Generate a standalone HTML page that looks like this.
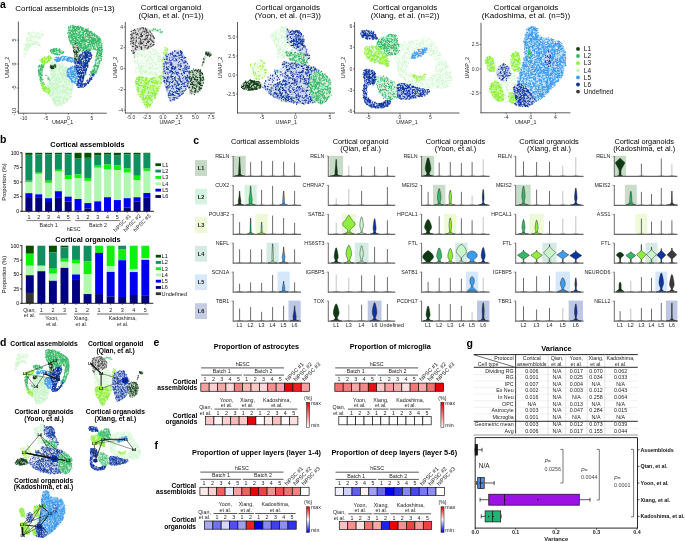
<!DOCTYPE html>
<html><head><meta charset="utf-8"><style>
html,body{margin:0;padding:0;background:#fff;}
svg{display:block;will-change:transform;}
text{font-family:"Liberation Sans",sans-serif;}
</style></head><body>
<svg width="685" height="541" viewBox="0 0 685 541">
<rect width="685" height="541" fill="#fff"/>
<text x="0.00" y="7.50" text-anchor="start" style="font-size:10.5px;font-weight:bold">a</text>
<g id="a1">
<path d="M28.00,32.50 C29.67,31.17 33.45,31.92 36.00,32.00 C38.55,32.08 42.30,32.17 43.30,33.00 C44.30,33.83 42.88,35.67 42.00,37.00 C41.12,38.33 38.17,39.50 38.00,41.00 C37.83,42.50 41.67,45.33 41.00,46.00 C40.33,46.67 36.17,44.33 34.00,45.00 C31.83,45.67 29.67,47.92 28.00,50.00 C26.33,52.08 24.75,57.50 24.00,57.50 C23.25,57.50 23.17,52.92 23.50,50.00 C23.83,47.08 25.25,42.92 26.00,40.00 C26.75,37.08 26.33,33.83 28.00,32.50Z" fill="#f4fdf4"/>
<path transform="scale(.1)" d="M240 539h0m2 30h0m4-71h0m3-16h0m3 2h0m1-40h0m1 50h0m1 48h0m2-68h0m0 24h0m1-56h0m1 11h0m4 49h0m1-56h0m1-59h0m0 153h0m1-76h0m0 50h0m1-112h0m0 58h0m1 46h0m4-120h0m3 90h0m2-99h0m0 30h0m0 29h0m0 44h0m0 15h0m3-66h0m0 19h0m1-114h0m0 131h0m0 27h0m4-154h0m0 100h0m2-118h0m1 4h0m0 135h0m1-4h0m0 6h0m0 21h0m1-13h0m2-84h0m2 66h0m2-44h0m0 64h0m2-31h0m1-91h0m2 106h0m1-125h0m0 7h0m0 66h0m2-33h0m0 31h0m0 5h0m4-18h0m0 56h0m3 22h0m1-36h0m1-65h0m2-7h0m0 49h0m4 37h0m1-83h0m1-41h0m3 40h0m0 11h0m1 60h0m5 11h0m3-28h0m1-41h0m1-52h0m6 110h0m1 15h0m2-110h0m3 37h0m0 60h0m1-103h0m5 86h0m1-51h0m1-1h0m0 69h0m3 0h0m4-10h0m2-80h0m1 17h0m2 64h0m6 24h0m3-112h0m1 31h0m3 64h0m5-4h0m4 19h0m1-113h0m0 44h0m3 10h0m1 60h0m1-109h0m0 115h0m2-89h0m5 100h0m5-85h0m7-54h0m1 6h0m2-15h0m3 37h0m4-9h0m4 0h0m0 11h0" stroke="#c9f6c9" stroke-width="12.4" stroke-linecap="round"/>
<path transform="scale(.1)" d="M260 522h0m45-98h0m18-74h0m16-17h0m1 7h0m42 58h0m14-59h0m17-15h0" stroke="#fff" stroke-width="11.2" stroke-linecap="round"/>
<path d="M51.00,63.00 C52.33,60.50 55.50,62.50 58.00,63.00 C60.50,63.50 64.00,64.50 66.00,66.00 C68.00,67.50 68.83,69.33 70.00,72.00 C71.17,74.67 72.58,79.00 73.00,82.00 C73.42,85.00 73.17,87.00 72.50,90.00 C71.83,93.00 70.75,97.50 69.00,100.00 C67.25,102.50 64.33,104.00 62.00,105.00 C59.67,106.00 56.58,106.83 55.00,106.00 C53.42,105.17 53.67,102.00 52.50,100.00 C51.33,98.00 49.33,95.83 48.00,94.00 C46.67,92.17 44.67,90.67 44.50,89.00 C44.33,87.33 46.08,85.83 47.00,84.00 C47.92,82.17 49.33,81.50 50.00,78.00 C50.67,74.50 49.67,65.50 51.00,63.00Z" fill="#eefcee"/>
<path transform="scale(.1)" d="M447 868h0m2 3h0m7 20h0m1-24h0m1 5h0m1 0h0m0 36h0m0 4h0m1 7h0m1-8h0m2-1h0m1-22h0m0 25h0m0 6h0m4-12h0m1-16h0m2-36h0m0 68h0m0 3h0m1-85h0m0 81h0m1-78h0m0 57h0m2-54h0m1 29h0m1-21h0m0 46h0m2-41h0m0 76h0m0 5h0m1-92h0m2 70h0m1-39h0m0 31h0m0 16h0m0 10h0m0 11h0m1-82h0m0 11h0m1 41h0m0 11h0m1-67h0m0 21h0m2-62h0m0 4h0m0 109h0m1-64h0m0 5h0m1 52h0m1-71h0m0 82h0m1-61h0m0 15h0m1-55h0m1 40h0m0 23h0m0 7h0m1-65h0m0 80h0m0 13h0m0 11h0m1-58h0m1-61h0m0 19h0m0 42h0m0 40h0m0 33h0m1-87h0m1-5h0m1-52h0m0 29h0m0 45h0m0 73h0m1-139h0m0 1h0m1-130h0m0 147h0m0 35h0m0 81h0m1-334h0m0 20h0m0 204h0m0 2h0m0 18h0m0 24h0m0 11h0m1-247h0m0 36h0m0 111h0m0 2h0m1-57h0m0 2h0m0 120h0m0 86h0m1-229h0m0 18h0m0 189h0m1-276h0m0 92h0m0 199h0m1-261h0m1 24h0m0 38h0m0 131h0m1-122h0m0 33h0m0 45h0m1-4h0m0 127h0m1-317h0m0 228h0m0 55h0m1-241h0m0 22h0m0 39h0m0 150h0m1-266h0m0 3h0m0 153h0m0 118h0m0 1h0m1-207h0m0 15h0m0 168h0m0 59h0m0 11h0m2-321h0m0 76h0m0 121h0m0 129h0m1-152h0m0 18h0m0 70h0m0 96h0m1-366h0m0 32h0m0 42h0m0 15h0m0 64h0m0 58h0m0 14h0m0 15h0m0 21h0m0 11h0m0 29h0m1-273h0m0 61h0m0 144h0m0 8h0m0 68h0m0 14h0m1-263h0m0 90h0m0 106h0m0 26h0m0 78h0m1-364h0m0 158h0m1-154h0m0 89h0m0 33h0m0 176h0m1-281h0m0 70h0m0 20h0m0 18h0m0 39h0m0 45h0m0 23h0m1-225h0m1 34h0m0 162h0m0 111h0m0 63h0m1-372h0m0 3h0m0 142h0m0 76h0m0 94h0m1-208h0m0 23h0m0 80h0m0 75h0m0 81h0m1-302h0m0 17h0m0 20h0m0 42h0m0 139h0m1-45h0m0 28h0m0 58h0m0 25h0m1-170h0m0 23h0m0 142h0m1-253h0m0 89h0m0 40h0m0 38h0m0 4h0m1-216h0m0 219h0m0 31h0m1-180h0m0 31h0m0 83h0m0 135h0m0 10h0m1-288h0m0 59h0m0 70h0m0 9h0m0 49h0m0 26h0m0 76h0m1-262h0m0 237h0m0 20h0m0 28h0m1-381h0m0 24h0m0 80h0m0 13h0m0 189h0m0 58h0m1-392h0m0 40h0m0 43h0m0 16h0m0 52h0m0 107h0m0 13h0m0 21h0m0 38h0m1-268h0m0 7h0m1-8h0m0 45h0m0 77h0m0 4h0m1-154h0m0 25h0m0 145h0m0 9h0m0 24h0m0 27h0m0 5h0m0 4h0m0 91h0m1-352h0m0 92h0m0 117h0m0 20h0m0 54h0m0 15h0m0 21h0m0 0h0m0 46h0m0 1h0m0 9h0m0 19h0m1-274h0m0 34h0m0 51h0m0 182h0m1-327h0m0 38h0m0 127h0m0 27h0m0 94h0m0 61h0m1-258h0m0 23h0m0 38h0m0 37h0m0 36h0m0 134h0m1-381h0m0 19h0m0 14h0m0 23h0m0 3h0m0 18h0m0 98h0m0 152h0m1-315h0m0 10h0m0 87h0m0 92h0m0 1h0m0 98h0m0 23h0m1-345h0m0 27h0m0 251h0m1-159h0m0 246h0m0 26h0m1-316h0m0 148h0m0 73h0m1-239h0m0 60h0m0 37h0m0 18h0m0 13h0m0 43h0m0 13h0m0 140h0m0 0h0m0 19h0m1-408h0m0 31h0m0 145h0m0 58h0m0 105h0m0 30h0m0 21h0m0 4h0m0 5h0m0 0h0m0 1h0m1-385h0m0 88h0m0 166h0m0 6h0m0 127h0m1-400h0m0 59h0m0 121h0m0 85h0m0 7h0m0 89h0m1-151h0m0 115h0m1-211h0m0 35h0m0 20h0m0 95h0m0 116h0m1-123h0m0 33h0m0 88h0m0 28h0m0 6h0m1-371h0m0 62h0m0 12h0m0 143h0m0 19h0m1 42h0m0 7h0m0 30h0m1-323h0m0 153h0m0 14h0m0 97h0m0 52h0m0 44h0m1-241h0m0 38h0m0 58h0m0 44h0m0 41h0m0 16h0m0 18h0m0 32h0m0 20h0m1-347h0m0 4h0m0 83h0m0 8h0m0 88h0m0 153h0m1-268h0m0 50h0m0 26h0m1-174h0m0 2h0m0 3h0m0 26h0m0 249h0m0 27h0m0 78h0m1-180h0m0 31h0m0 71h0m0 13h0m1-356h0m0 2h0m0 7h0m0 126h0m0 19h0m0 33h0m0 102h0m0 41h0m1-308h0m0 30h0m0 47h0m0 70h0m0 58h0m0 8h0m0 8h0m0 62h0m0 52h0m0 12h0m1-327h0m0 115h0m0 197h0m0 8h0m0 0h0m1-359h0m0 191h0m0 84h0m0 43h0m0 38h0m0 34h0m1-265h0m0 13h0m0 65h0m0 4h0m0 13h0m0 63h0m0 51h0m1-205h0m0 107h0m0 14h0m0 27h0m0 14h0m0 40h0m1-325h0m0 249h0m0 81h0m0 6h0m1-83h0m0 11h0m0 10h0m0 4h0m0 119h0m1-372h0m0 96h0m0 194h0m1-226h0m0 128h0m1-165h0m0 39h0m0 115h0m0 150h0m1-251h0m0 22h0m0 26h0m0 50h0m0 88h0m0 41h0m2-333h0m0 123h0m0 170h0m0 74h0m1-157h0m0 31h0m0 101h0m1-293h0m0 159h0m0 189h0m1-251h0m0 47h0m0 126h0m1-286h0m0 99h0m0 87h0m0 153h0m0 29h0m1-412h0m0 48h0m0 3h0m0 5h0m0 7h0m0 62h0m0 3h0m0 49h0m0 151h0m1-180h0m0 208h0m0 9h0m1-298h0m0 66h0m0 21h0m0 238h0m1-155h0m1-171h0m0 5h0m0 116h0m0 4h0m0 186h0m0 24h0m0 9h0m1-393h0m0 0h0m0 10h0m0 121h0m0 92h0m1-169h0m0 106h0m0 125h0m0 89h0m1-341h0m0 173h0m0 48h0m0 10h0m0 80h0m0 11h0m1-332h0m0 8h0m0 46h0m0 8h0m0 108h0m0 77h0m0 45h0m1-216h0m0 22h0m0 17h0m0 181h0m1-314h0m0 97h0m0 26h0m0 19h0m0 12h0m0 43h0m0 14h0m0 63h0m0 37h0m1-329h0m0 51h0m0 90h0m0 41h0m0 56h0m0 106h0m0 34h0m1-321h0m0 90h0m0 68h0m0 53h0m0 4h0m1-206h0m0 16h0m0 19h0m0 137h0m0 103h0m1-318h0m0 43h0m0 1h0m0 178h0m0 50h0m0 34h0m0 46h0m1-305h0m0 66h0m0 12h0m0 18h0m0 63h0m0 137h0m0 17h0m1-323h0m0 28h0m0 174h0m0 15h0m1-226h0m0 172h0m0 11h0m0 82h0m0 45h0m0 51h0m1-341h0m0 158h0m0 37h0m0 124h0m1-347h0m0 7h0m0 7h0m0 39h0m0 65h0m0 1h0m0 59h0m0 127h0m1-319h0m0 38h0m0 87h0m0 72h0m0 128h0m1-187h0m0 34h0m0 61h0m1-262h0m0 45h0m0 34h0m0 26h0m0 6h0m0 78h0m0 91h0m1-231h0m0 102h0m0 45h0m0 32h0m0 128h0m0 0h0m1-323h0m0 24h0m0 47h0m0 1h0m0 70h0m0 16h0m0 35h0m1-185h0m0 50h0m0 44h0m0 27h0m0 27h0m0 136h0m1-304h0m0 118h0m0 82h0m0 37h0m1-227h0m0 226h0m0 9h0m0 10h0m0 3h0m0 54h0m0 22h0m1-350h0m0 23h0m0 47h0m0 17h0m0 1h0m0 180h0m0 49h0m0 10h0m0 75h0m1-381h0m0 82h0m0 87h0m0 30h0m1-218h0m0 75h0m0 35h0m0 88h0m0 42h0m0 103h0m0 13h0m0 36h0m0 5h0m0 7h0m1-230h0m0 122h0m0 7h0m0 26h0m1-162h0m0 12h0m0 148h0m0 38h0m0 32h0m1-414h0m0 77h0m0 106h0m0 230h0m1-255h0m1-129h0m0 2h0m0 61h0m0 194h0m0 37h0m1 47h0m0 41h0m1-312h0m0 14h0m0 144h0m0 42h0m0 89h0m0 15h0m1-265h0m1-120h0m0 5h0m0 3h0m0 7h0m0 32h0m0 17h0m0 25h0m0 177h0m0 63h0m0 22h0m1-327h0m0 22h0m0 78h0m0 14h0m0 1h0m0 224h0m1-289h0m0 142h0m0 28h0m0 115h0m1-363h0m0 1h0m0 63h0m0 16h0m0 1h0m0 1h0m0 27h0m0 98h0m0 61h0m0 10h0m0 74h0m0 3h0m1-269h0m0 113h0m0 77h0m0 32h0m0 39h0m0 40h0m1-347h0m0 20h0m0 39h0m0 204h0m0 5h0m1-300h0m0 91h0m0 41h0m1-38h0m0 9h0m0 5h0m0 172h0m0 12h0m1-263h0m0 72h0m0 17h0m0 33h0m0 7h0m1-110h0m0 3h0m0 57h0m0 4h0m0 91h0m0 78h0m0 51h0m1-332h0m0 142h0m0 189h0m0 13h0m1-344h0m0 77h0m0 10h0m0 71h0m0 62h0m0 15h0m0 19h0m1-238h0m0 45h0m0 6h0m0 130h0m0 13h0m0 1h0m0 52h0m0 95h0m0 12h0m1-63h0m0 17h0m1-306h0m0 16h0m0 9h0m0 76h0m0 42h0m0 19h0m1-162h0m0 23h0m0 13h0m0 155h0m0 170h0m1-322h0m0 103h0m0 63h0m0 35h0m0 77h0m2-236h0m0 55h0m0 49h0m0 43h0m0 131h0m1-332h0m0 10h0m0 80h0m0 80h0m0 26h0m1-144h0m0 105h0m0 15h0m0 37h0m0 123h0m1-351h0m0 35h0m0 16h0m0 15h0m0 11h0m0 219h0m0 44h0m1-235h0m0 115h0m0 51h0m0 11h0m0 4h0m1-230h0m0 74h0m0 10h0m0 111h0m0 40h0m1-300h0m0 42h0m0 83h0m0 106h0m0 17h0m0 101h0m1-317h0m0 102h0m1-41h0m0 108h0m0 46h0m1-148h0m0 173h0m0 48h0m1-274h0m0 38h0m1-2h0m0 2h0m0 78h0m0 148h0m1-148h0m0 48h0m0 12h0m0 89h0m0 21h0m1-312h0m0 57h0m0 143h0m1-194h0m0 63h0m0 171h0m1-195h0m0 59h0m0 19h0m1-68h0m0 233h0m1-231h0m0 204h0m0 22h0m0 44h0m1-335h0m0 12h0m0 13h0m0 7h0m0 24h0m0 23h0m0 245h0m1-325h0m0 74h0m0 25h0m0 56h0m1-16h0m0 44h0m0 5h0m0 20h0m0 100h0m1-319h0m0 80h0m0 20h0m0 5h0m0 14h0m0 11h0m0 18h0m0 96h0m1-250h0m0 65h0m0 11h0m0 256h0m1-285h0m0 130h0m0 167h0m1-334h0m0 65h0m0 39h0m0 13h0m0 208h0m1-173h0m1 85h0m0 105h0m1-146h0m0 61h0m1-238h0m0 55h0m0 71h0m0 112h0m0 27h0m1-131h0m0 16h0m0 6h0m0 42h0m0 96h0m1-262h0m0 14h0m0 76h0m0 38h0m0 26h0m0 35h0m1-66h0m0 46h0m0 29h0m0 5h0m0 14h0m0 42h0m1-171h0m0 68h0m0 47h0m0 89h0m1-303h0m0 32h0m0 12h0m0 140h0m1-187h0m0 15h0m0 63h0m0 39h0m0 99h0m0 55h0m0 6h0m0 12h0m0 5h0m1-211h0m0 23h0m0 23h0m0 33h0m0 61h0m0 50h0m0 6h0m1-290h0m0 36h0m0 165h0m0 52h0m1-261h0m0 40h0m0 34h0m0 33h0m0 68h0m1 19h0m1-87h0m0 8h0m0 24h0m0 14h0m1-143h0m0 128h0m0 93h0m1-200h0m0 65h0m0 46h0m0 37h0m1-39h0m1-55h0m0 35h0m0 56h0m0 17h0m1-190h0m0 14h0m0 83h0m0 14h0m0 19h0m0 98h0m1-211h0m0 45h0m0 18h0m0 34h0m1 122h0m1-216h0m0 84h0m0 192h0m1-236h0m0 8h0m0 51h0m0 78h0m0 7h0m1-149h0m0 138h0m0 2h0m1-80h0m0 160h0m1-54h0m1 18h0m1-120h0m0 124h0m1-228h0m0 190h0m1-194h0m0 6h0m0 134h0m0 3h0m0 59h0m0 9h0m1-60h0m1-32h0m0 147h0m1-149h0m0 36h0m0 90h0m0 14h0m0 8h0m1-148h0m0 119h0m1-219h0m0 82h0m0 55h0m0 63h0m0 2h0m1-135h0m0 15h0m0 0h0m0 89h0m0 28h0m0 46h0m0 7h0m1-210h0m0 142h0m1-53h0m0 2h0m0 73h0m0 19h0m1-103h0m1 9h0m0 56h0m0 50h0m1-191h0m0 100h0m0 41h0m1-164h0m0 121h0m1-45h0m0 106h0m1-183h0m0 79h0m0 57h0m0 33h0m1-138h0m0 13h0m0 15h0m0 17h0m0 64h0m0 17h0m1 6h0m1-133h0m0 136h0m0 30h0m1-136h0m0 16h0m0 17h0m0 62h0m0 63h0m1-33h0m1-155h0m1 32h0m1-31h0m0 83h0m1-48h0m0 85h0m1-125h0m0 65h0m0 45h0m1 14h0m1-81h0m0 43h0m0 31h0m0 2h0m1-69h0m1 16h0m1 9h0m0 29h0m1-9h0m1-10h0m0 9h0m1-15h0m1-14h0" stroke="#c9f6c9" stroke-width="12.4" stroke-linecap="round"/>
<path transform="scale(.1)" d="M479 839h0m7 79h0m4 0h0m5-2h0m3-25h0m11-138h0m2-82h0m0 267h0m2-4h0m8-36h0m1-92h0m4-135h0m10 121h0m6 22h0m0 38h0m3-26h0m0 133h0m1-316h0m2-13h0m2 413h0m1-126h0m11 3h0m1 72h0m1-48h0m2 77h0m1 20h0m4-344h0m1-54h0m3 6h0m4 339h0m2-217h0m8 133h0m4-142h0m1-17h0m3 121h0m3 187h0m3-33h0m1-221h0m0 41h0m5-126h0m0 279h0m1-293h0m1 142h0m0 87h0m1-2h0m2-283h0m1 187h0m1 50h0m0 118h0m1-49h0m4 96h0m1-88h0m2 46h0m2-283h0m3 311h0m2-73h0m4-274h0m1 134h0m1 123h0m5-283h0m2 120h0m3 107h0m0 131h0m2-355h0m1 287h0m4-144h0m7 212h0m2-286h0m1 277h0m8-222h0m2 2h0m3-78h0m0 126h0m2 84h0m1-96h0m4-41h0m5-79h0m3 222h0m1-11h0m3-50h0m2 87h0m6-101h0m5 93h0m1-23h0m2-147h0m8 88h0" stroke="#fff" stroke-width="11.2" stroke-linecap="round"/>
<path d="M69.00,27.00 C69.83,25.47 70.50,25.63 73.00,25.80 C75.50,25.97 80.67,26.88 84.00,28.00 C87.33,29.12 90.33,30.83 93.00,32.50 C95.67,34.17 98.50,35.75 100.00,38.00 C101.50,40.25 101.75,43.17 102.00,46.00 C102.25,48.83 102.17,52.33 101.50,55.00 C100.83,57.67 98.92,61.17 98.00,62.00 C97.08,62.83 96.17,61.67 96.00,60.00 C95.83,58.33 97.50,53.67 97.00,52.00 C96.50,50.33 94.83,50.08 93.00,50.00 C91.17,49.92 88.17,51.17 86.00,51.50 C83.83,51.83 81.67,51.75 80.00,52.00 C78.33,52.25 77.08,53.67 76.00,53.00 C74.92,52.33 74.50,49.83 73.50,48.00 C72.50,46.17 70.92,44.17 70.00,42.00 C69.08,39.83 68.17,37.50 68.00,35.00 C67.83,32.50 68.17,28.53 69.00,27.00Z" fill="#bbe7cb"/>
<path transform="scale(.1)" d="M677 334h0m4-7h0m1 46h0m2-105h0m0 14h0m1 23h0m1-1h0m0 57h0m1-51h0m0 13h0m0 8h0m1 34h0m1-19h0m1-16h0m0 6h0m1 12h0m0 49h0m2-117h0m0 10h0m0 61h0m1 25h0m1-72h0m0 55h0m2-3h0m1 27h0m0 21h0m1-125h0m0 10h0m0 40h0m1-2h0m1 87h0m2-155h0m0 24h0m0 19h0m0 29h0m0 92h0m1-157h0m0 112h0m1-117h0m0 6h0m0 33h0m0 21h0m0 14h0m1-62h0m0 53h0m1-24h0m1-29h0m0 1h0m0 17h0m0 38h0m0 28h0m0 42h0m0 25h0m1-62h0m0 56h0m0 21h0m1-114h0m1-4h0m0 1h0m1 7h0m0 7h0m0 11h0m0 29h0m1-117h0m0 110h0m0 16h0m0 16h0m0 12h0m1-141h0m0 42h0m0 68h0m1-120h0m0 8h0m0 1h0m0 75h0m0 40h0m1-69h0m1 38h0m2-83h0m0 133h0m1-133h0m1 29h0m0 55h0m0 10h0m0 4h0m0 15h0m0 47h0m1-124h0m0 29h0m0 11h0m1-73h0m0 48h0m0 16h0m0 36h0m0 12h0m0 49h0m0 5h0m1-183h0m0 92h0m0 78h0m1-54h0m0 27h0m0 59h0m1-200h0m0 137h0m1-102h0m0 25h0m2-62h0m0 217h0m1-224h0m0 34h0m0 36h0m0 3h0m1 74h0m0 55h0m1-148h0m0 27h0m0 70h0m0 16h0m0 60h0m1-214h0m0 59h0m0 11h0m0 56h0m1-116h0m0 61h0m1 4h0m0 7h0m0 0h0m0 21h0m0 5h0m1-107h0m0 156h0m0 19h0m1-172h0m0 121h0m0 4h0m0 56h0m1-132h0m0 45h0m0 1h0m0 99h0m0 12h0m1-102h0m0 28h0m1-115h0m0 104h0m0 76h0m1-187h0m0 28h0m0 123h0m1-124h0m0 32h0m0 33h0m0 5h0m1 74h0m0 8h0m0 6h0m0 5h0m1-178h0m0 6h0m0 46h0m0 20h0m0 23h0m0 23h0m0 95h0m0 8h0m1-242h0m0 3h0m0 14h0m0 145h0m0 42h0m0 18h0m1-181h0m0 65h0m0 50h0m0 8h0m0 12h0m1-153h0m0 30h0m0 16h0m0 163h0m1-229h0m0 25h0m0 19h0m0 43h0m0 25h0m0 17h0m1-139h0m0 13h0m0 8h0m0 28h0m0 71h0m0 18h0m0 37h0m1 77h0m1-211h0m0 16h0m0 43h0m0 13h0m0 17h0m0 2h0m0 15h0m0 61h0m1-192h0m0 15h0m0 11h0m0 85h0m0 42h0m0 29h0m0 35h0m1-225h0m0 21h0m0 93h0m0 31h0m0 77h0m1-164h0m0 56h0m0 105h0m0 7h0m1-177h0m0 126h0m0 35h0m1-189h0m0 27h0m0 170h0m1-174h0m0 84h0m0 36h0m0 27h0m1-194h0m0 15h0m0 45h0m0 21h0m0 63h0m0 101h0m1-205h0m0 117h0m1-148h0m1 12h0m0 48h0m0 37h0m1-93h0m0 135h0m0 24h0m1 0h0m1 30h0m0 2h0m0 55h0m1-247h0m0 227h0m1-158h0m0 21h0m0 32h0m0 73h0m1-203h0m0 31h0m0 89h0m1-108h0m0 100h0m0 18h0m0 25h0m0 68h0m0 6h0m1-222h0m0 25h0m0 70h0m0 106h0m1-129h0m0 92h0m0 31h0m0 40h0m1-127h0m0 39h0m0 7h0m0 10h0m1-107h0m0 29h0m0 29h0m0 107h0m1-136h0m0 150h0m1-183h0m1-1h0m0 160h0m0 24h0m1-249h0m0 4h0m0 26h0m0 23h0m0 4h0m0 41h0m0 2h0m0 159h0m1-9h0m1-237h0m0 70h0m0 56h0m1-142h0m0 63h0m0 25h0m0 40h0m0 9h0m0 1h0m0 4h0m0 37h0m0 2h0m1 88h0m1-145h0m0 40h0m0 78h0m1-29h0m0 2h0m1-207h0m0 82h0m0 24h0m0 60h0m1-159h0m0 97h0m0 31h0m0 63h0m0 15h0m0 20h0m1-210h0m0 208h0m1-208h0m0 79h0m0 70h0m0 42h0m1-204h0m0 53h0m0 2h0m0 5h0m0 147h0m1-161h0m0 197h0m1-262h0m0 59h0m0 11h0m0 8h0m0 73h0m0 23h0m0 27h0m0 29h0m1-122h0m0 61h0m0 37h0m0 37h0m1-181h0m0 142h0m1-38h0m0 30h0m1-132h0m1-47h0m0 11h0m0 126h0m0 7h0m0 36h0m0 57h0m1-130h0m0 43h0m0 12h0m1-68h0m0 16h0m0 33h0m0 65h0m0 15h0m1-173h0m0 158h0m1-137h0m1 59h0m0 84h0m1-196h0m0 4h0m0 21h0m0 28h0m0 14h0m0 58h0m0 21h0m0 62h0m0 6h0m1-194h0m0 41h0m0 45h0m0 73h0m0 26h0m1-6h0m1-221h0m0 166h0m0 3h0m1-141h0m0 65h0m0 70h0m0 17h0m0 6h0m1-159h0m0 16h0m0 136h0m0 6h0m0 37h0m1-151h0m0 16h0m1-95h0m0 129h0m0 14h0m1-89h0m0 138h0m1-171h0m0 10h0m0 88h0m0 31h0m1-42h0m0 15h0m0 34h0m0 4h0m0 42h0m1-117h0m0 1h0m0 152h0m1-208h0m0 155h0m1-97h0m0 57h0m0 66h0m1-131h0m0 52h0m1-123h0m0 19h0m0 5h0m0 133h0m0 62h0m0 16h0m2-201h0m0 99h0m0 39h0m0 10h0m2-185h0m0 111h0m0 38h0m0 12h0m0 36h0m0 4h0m0 17h0m0 5h0m0 3h0m1-211h0m0 195h0m1-120h0m0 45h0m1 4h0m1-9h0m0 108h0m1-33h0m0 5h0m1-140h0m0 25h0m1-88h0m0 22h0m0 20h0m0 3h0m0 0h0m0 48h0m0 3h0m0 118h0m1-105h0m0 4h0m0 20h0m1 83h0m0 3h0m1-207h0m0 95h0m0 32h0m0 64h0m1-201h0m0 47h0m0 150h0m1-150h0m0 16h0m0 26h0m0 110h0m1-78h0m0 13h0m0 32h0m0 41h0m1-208h0m0 79h0m0 119h0m1-155h0m0 0h0m0 17h0m0 16h0m0 59h0m1-97h0m0 76h0m0 70h0m0 6h0m0 20h0m1-2h0m0 2h0m1-144h0m0 157h0m1-198h0m0 72h0m0 121h0m1-159h0m0 33h0m0 4h0m1 12h0m0 6h0m0 72h0m1-60h0m1-84h0m0 3h0m0 106h0m0 10h0m0 3h0m1-43h0m0 7h0m0 89h0m1-187h0m1 107h0m0 101h0m1-125h0m0 8h0m0 37h0m0 39h0m0 6h0m1-168h0m0 83h0m0 25h0m1 20h0m1-85h0m0 58h0m0 20h0m0 43h0m1 1h0m1-176h0m0 20h0m0 87h0m0 0h0m0 42h0m1 4h0m1-140h0m0 110h0m0 45h0m1-162h0m0 66h0m0 21h0m1-105h0m0 19h0m0 8h0m1 10h0m0 109h0m1-98h0m0 64h0m0 2h0m0 17h0m0 35h0m0 30h0m1-196h0m0 11h0m0 57h0m0 102h0m0 10h0m1-106h0m0 109h0m1-173h0m0 58h0m0 44h0m1-89h0m0 26h0m0 3h0m0 110h0m0 16h0m1-140h0m1-34h0m1 191h0m1-160h0m0 77h0m0 10h0m0 38h0m0 13h0m1-51h0m0 58h0m1-183h0m0 7h0m0 40h0m0 51h0m0 13h0m1-92h0m0 23h0m0 80h0m0 6h0m0 68h0m1-29h0m0 25h0m0 7h0m1-185h0m0 16h0m0 7h0m0 162h0m1-167h0m0 181h0m1-154h0m0 66h0m0 58h0m0 19h0m0 12h0m1-182h0m0 7h0m0 69h0m0 7h0m0 19h0m0 30h0m1-152h0m0 42h0m0 18h0m0 151h0m1-70h0m0 8h0m0 4h0m2-129h0m0 28h0m0 147h0m1-167h0m0 108h0m0 25h0m1-156h0m0 63h0m0 26h0m1-3h0m0 89h0m1-199h0m0 70h0m0 116h0m1-125h0m0 147h0m0 2h0m1-148h0m0 117h0m0 25h0m1-183h0m0 146h0m1-151h0m0 193h0m1-183h0m0 44h0m0 68h0m0 26h0m0 42h0m0 11h0m1-173h0m0 20h0m0 89h0m0 50h0m0 3h0m1-172h0m0 11h0m0 19h0m0 7h0m0 43h0m1-88h0m0 0h0m0 76h0m0 118h0m2-165h0m0 115h0m1-81h0m0 29h0m1-72h0m0 89h0m0 21h0m1 34h0m0 12h0m1-170h0m0 47h0m0 144h0m1-155h0m0 77h0m0 22h0m1-119h0m0 54h0m0 100h0m1-160h0m0 36h0m0 3h0m0 82h0m1-94h0m0 7h0m0 49h0m0 14h0m0 32h0m0 34h0m1 9h0m1-184h0m0 4h0m0 85h0m1-6h0m0 49h0m1 48h0m1-35h0m1-143h0m0 24h0m0 99h0m1-66h0m1-61h0m0 35h0m0 153h0m2-94h0m1-15h0m0 84h0m1-146h0m0 43h0m0 17h0m2-62h0m0 39h0m0 10h0m0 40h0m0 62h0m2-164h0m0 107h0m0 8h0m1-16h0m1-64h0m0 21h0m1 25h0m0 21h0m1-85h0m0 20h0m0 7h0m0 28h0m0 4h0m0 9h0m0 70h0m2-23h0m0 11h0m0 2h0m0 24h0m1-154h0m0 27h0m0 29h0m0 55h0m1-90h0m2 118h0m1-130h0m0 62h0m0 31h0m0 33h0m1-70h0m0 11h0m0 9h0m0 38h0m0 2h0m1-88h0m0 120h0m1-62h0m0 49h0m1-82h0m1 6h0m1-9h0m0 0h0m0 63h0m1-112h0m0 47h0m0 72h0m2-97h0m0 61h0m0 4h0m0 25h0m1-73h0m0 17h0m1 12h0m0 19h0m0 47h0m1-131h0m0 88h0m0 46h0m0 5h0m0 3h0m1-131h0m0 83h0m0 15h0m0 17h0m1-81h0m0 26h0m1-55h0m0 28h0m0 94h0m1-138h0m1 12h0m0 30h0m0 6h0m1 11h0m1-73h0m0 60h0m0 69h0m1-115h0m0 5h0m0 46h0m0 92h0m1-103h0m0 64h0m1 42h0m2-62h0m1-58h0m0 52h0m0 8h0m1-37h0m0 8h0m1-24h0m1 30h0m0 80h0m1-86h0m1-49h0m0 89h0m0 51h0m3-102h0m0 1h0m1-37h0m0 76h0m0 67h0m1-80h0m0 142h0m0 26h0m0 8h0m0 3h0m1-226h0m0 56h0m0 64h0m1-49h0m0 34h0m0 130h0m2-217h0m0 24h0m0 187h0m1-137h0m1-98h0m0 49h0m0 21h0m0 31h0m0 121h0m0 12h0m1-233h0m0 20h0m0 9h0m0 33h0m0 106h0m0 62h0m1-210h0m0 148h0m0 33h0m1-212h0m0 97h0m0 91h0m1-145h0m0 10h0m1-37h0m0 6h0m0 7h0m0 23h0m0 81h0m0 104h0m1-210h0m0 77h0m0 64h0m1-147h0m0 97h0m0 127h0m1-228h0m0 154h0m1-120h0m0 44h0m0 33h0m0 15h0m0 19h0m0 54h0m0 14h0m0 35h0m1-163h0m0 20h0m0 35h0m0 57h0m1-117h0m0 119h0m0 19h0m1-173h0m0 58h0m0 3h0m0 56h0m1-147h0m0 55h0m0 47h0m0 9h0m0 39h0m0 73h0m1-54h0m1-152h0m0 122h0m0 44h0m1-180h0m0 24h0m0 36h0m0 55h0m1-6h0m1 92h0m1-67h0m0 12h0m0 5h0m0 29h0m1-174h0m0 36h0m0 6h0m0 123h0m1-104h0m0 29h0m0 66h0m1-162h0m0 65h0m0 46h0m1-133h0m0 18h0m0 203h0m1-203h0m0 11h0m0 58h0m0 45h0m1-88h0m0 6h0m0 115h0m1-103h0m0 44h0m0 18h0m0 67h0m1-162h0m0 56h0m0 24h0m1 25h0m0 50h0m0 9h0m0 7h0m0 4h0m1-175h0m0 110h0m0 42h0m1-148h0m0 3h0m0 10h0m0 122h0m0 36h0m1-190h0m0 129h0m0 10h0m1-11h0m0 20h0m0 10h0m1-121h0m0 5h0m0 46h0m0 69h0m0 13h0m0 18h0m3-35h0m1-143h0m0 19h0m1 8h0m0 54h0m1-61h0m0 96h0m1-98h0m0 13h0m0 130h0m2-12h0m1-130h0m0 65h0m0 11h0m1-42h0m1 44h0m1 18h0m1-57h0m0 15h0m0 42h0m1-5h0m2-32h0m0 26h0m2-21h0m0 14h0m2-55h0m0 22h0m3 63h0m1-21h0" stroke="#33b864" stroke-width="12.4" stroke-linecap="round"/>
<path transform="scale(.1)" d="M684 332h0m3 18h0m3-38h0m9-28h0m4 7h0m5 91h0m2 14h0m3-132h0m3 13h0m1 48h0m2 7h0m15 100h0m5-60h0m4-51h0m3 75h0m4 67h0m4-182h0m2 245h0m2-36h0m6 36h0m3-22h0m2-180h0m2 129h0m5-5h0m1 69h0m2-152h0m0 18h0m1-52h0m2 190h0m13-27h0m2-93h0m8-110h0m1 9h0m0 123h0m2 2h0m0 89h0m2-174h0m4 161h0m1-118h0m2-70h0m3 181h0m25-136h0m1-29h0m5 100h0m4-105h0m9 24h0m1 80h0m0 16h0m0 62h0m1-126h0m4 77h0m6-75h0m2 55h0m1-28h0m0 74h0m1-154h0m12-23h0m1 172h0m3-25h0m8-113h0m2 51h0m13-27h0m1 104h0m3 13h0m1-5h0m0 12h0m12-123h0m3 88h0m17-81h0m1 69h0m6-52h0m1 84h0m0 103h0m1-93h0m3 5h0m4 131h0m6-166h0m24-41h0m3 111h0" stroke="#fff" stroke-width="11.2" stroke-linecap="round"/>
<path d="M101.80,52.00 C102.58,52.83 101.75,57.33 101.20,60.00 C100.65,62.67 99.53,65.67 98.50,68.00 C97.47,70.33 96.17,72.50 95.00,74.00 C93.83,75.50 92.42,76.92 91.50,77.00 C90.58,77.08 89.25,76.00 89.50,74.50 C89.75,73.00 92.00,70.25 93.00,68.00 C94.00,65.75 94.92,63.17 95.50,61.00 C96.08,58.83 95.45,56.50 96.50,55.00 C97.55,53.50 101.02,51.17 101.80,52.00Z" fill="#c1e9d0"/>
<path transform="scale(.1)" d="M893 746h0m14 15h0m1-45h0m0 4h0m3 7h0m2 38h0m2-50h0m1 24h0m2-11h0m1 12h0m0 0h0m0 2h0m4-29h0m0 2h0m0 32h0m3 12h0m2-56h0m0 17h0m0 15h0m0 10h0m1-30h0m0 23h0m1-40h0m0 21h0m0 4h0m0 12h0m4-68h0m2 38h0m1 8h0m1-10h0m0 2h0m1 13h0m1 30h0m1 1h0m2-49h0m0 5h0m0 31h0m1-82h0m0 25h0m0 24h0m1 29h0m0 6h0m2-88h0m1 14h0m0 24h0m0 13h0m2-9h0m0 30h0m1-62h0m1 58h0m1-108h0m0 19h0m1 19h0m2-17h0m0 16h0m0 5h0m0 24h0m1 1h0m1 38h0m0 1h0m1-113h0m1-38h0m0 91h0m0 67h0m0 11h0m1-55h0m1 1h0m1-90h0m0 118h0m1-109h0m1-44h0m2 162h0m1-169h0m0 114h0m0 24h0m2-141h0m0 115h0m0 9h0m1 27h0m1-128h0m0 4h0m2-1h0m1-3h0m0 86h0m1-68h0m0 101h0m1-55h0m0 15h0m2 3h0m1-110h0m1 125h0m0 10h0m1-19h0m2-102h0m0 121h0m1-135h0m1 6h0m0 33h0m0 9h0m0 13h0m1-61h0m0 18h0m1 98h0m1-69h0m1-46h0m0 4h0m0 8h0m0 77h0m1-13h0m2 2h0m1 14h0m1-80h0m0 50h0m1-71h0m1 67h0m3-73h0m0 90h0m4-69h0m0 12h0m2 23h0m1-32h0m0 34h0m1 15h0m1-65h0m0 0h0m0 10h0m1-33h0m2 52h0m1-28h0m1-10h0m0 64h0m1 14h0m1-62h0m1 5h0m3 21h0" stroke="#33b864" stroke-width="12.4" stroke-linecap="round"/>
<path transform="scale(.1)" d="M943 738h0m10-62h0m7 12h0m3-13h0m9-58h0m3 29h0m9-106h0m0 63h0m12-6h0m7-3h0" stroke="#fff" stroke-width="11.2" stroke-linecap="round"/>
<path d="M38.00,68.00 C38.33,65.67 40.00,64.50 41.00,64.00 C42.00,63.50 43.83,63.67 44.00,65.00 C44.17,66.33 42.17,69.50 42.00,72.00 C41.83,74.50 42.50,77.67 43.00,80.00 C43.50,82.33 45.17,85.17 45.00,86.00 C44.83,86.83 43.00,86.33 42.00,85.00 C41.00,83.67 39.67,80.83 39.00,78.00 C38.33,75.17 37.67,70.33 38.00,68.00Z" fill="#c1e9d0"/>
<path transform="scale(.1)" d="M383 709h0m1-40h0m2-5h0m1 37h0m0 21h0m0 2h0m1-28h0m1 53h0m0 6h0m0 7h0m1-48h0m1 25h0m1 7h0m1-94h0m0 56h0m0 58h0m2-46h0m1-56h0m0 91h0m2-92h0m1 135h0m1-66h0m1-52h0m0 64h0m1-78h0m0 55h0m1 20h0m0 58h0m1-116h0m0 22h0m1-14h0m0 62h0m0 14h0m0 17h0m1-57h0m1 85h0m1-62h0m0 27h0m0 2h0m1-81h0m0 42h0m0 17h0m1-67h0m3-30h0m0 58h0m0 1h0m1-22h0m1-42h0m0 13h0m0 29h0m0 137h0m0 3h0m1-188h0m0 105h0m0 35h0m1-98h0m1-36h0m0 69h0m0 2h0m0 22h0m0 29h0m1-106h0m0 18h0m0 38h0m1-44h0m0 115h0m1-124h0m0 38h0m0 29h0m0 13h0m2 62h0m0 14h0m1-163h0m1 33h0m0 145h0m1-9h0m1-199h0m1 23h0m0 170h0m1-33h0m2-122h0m1 153h0m2 12h0m1-5h0m1-181h0m0 14h0m1-12h0m2-5h0m0 196h0m3-2h0m1-6h0m0 11h0" stroke="#33b864" stroke-width="12.4" stroke-linecap="round"/>
<path transform="scale(.1)" d="M388 764h0m5-89h0m7 79h0m12-33h0m11 58h0m3 34h0m13 25h0" stroke="#fff" stroke-width="11.2" stroke-linecap="round"/>
<path d="M50.00,49.50 C50.83,48.58 54.67,48.08 57.00,48.50 C59.33,48.92 63.50,50.92 64.00,52.00 C64.50,53.08 62.00,54.67 60.00,55.00 C58.00,55.33 53.67,54.92 52.00,54.00 C50.33,53.08 49.17,50.42 50.00,49.50Z" fill="#c1e9d0"/>
<path transform="scale(.1)" d="M505 507h0m2-5h0m2 12h0m4 1h0m1 9h0m2-28h0m0 8h0m0 3h0m0 12h0m4-23h0m1 40h0m2-19h0m1 9h0m3-16h0m1 7h0m3-11h0m1-13h0m1 1h0m0 8h0m2 26h0m0 1h0m1-39h0m1 15h0m0 30h0m1-44h0m1 23h0m1-27h0m0 25h0m6-10h0m1 34h0m1-24h0m0 23h0m3 11h0m1-61h0m0 8h0m2 10h0m5-3h0m1 36h0m1-25h0m1 34h0m1-51h0m1 15h0m2-1h0m1-24h0m2 14h0m0 27h0m1-21h0m0 37h0m4-38h0m1 31h0m1 10h0m4 5h0m8-25h0m1-17h0m1-17h0m1 28h0m0 30h0m1-48h0m1 12h0m1-24h0m3 7h0m0 51h0m3-26h0m2-19h0m3 26h0m3-4h0m2 0h0m2 0h0m6 6h0m1-13h0m2 21h0m2-12h0m8-1h0m1-2h0m3 6h0m3-7h0" stroke="#33b864" stroke-width="12.4" stroke-linecap="round"/>
<path transform="scale(.1)" d="M518 513h0m6 18h0m34-31h0m19 28h0m5 0h0m36-9h0" stroke="#fff" stroke-width="11.2" stroke-linecap="round"/>
<path d="M46.00,75.00 C46.17,74.33 48.25,75.00 49.00,76.00 C49.75,77.00 50.67,80.33 50.50,81.00 C50.33,81.67 48.75,81.00 48.00,80.00 C47.25,79.00 45.83,75.67 46.00,75.00Z" fill="#d0efdc"/>
<path transform="scale(.1)" d="M458 752h0m22 37h0m3 1h0m1-9h0m0 9h0m11 8h0" stroke="#33b864" stroke-width="12.4" stroke-linecap="round"/>
<path d="M40.50,60.00 C40.83,58.75 43.42,57.67 45.00,57.00 C46.58,56.33 49.00,55.50 50.00,56.00 C51.00,56.50 51.50,58.92 51.00,60.00 C50.50,61.08 48.33,61.75 47.00,62.50 C45.67,63.25 44.08,64.92 43.00,64.50 C41.92,64.08 40.17,61.25 40.50,60.00Z" fill="#d7fab9"/>
<path transform="scale(.1)" d="M399 601h0m12 14h0m1-20h0m0 22h0m2-6h0m0 7h0m2-26h0m2 15h0m1-5h0m1 20h0m1-32h0m2 11h0m1-13h0m0 14h0m0 27h0m1-4h0m1-47h0m1 50h0m1-13h0m0 11h0m0 7h0m0 9h0m2-51h0m0 37h0m1-40h0m0 11h0m0 22h0m0 7h0m1 15h0m0 7h0m1-54h0m0 20h0m1-25h0m2 1h0m2 19h0m1-10h0m0 3h0m0 12h0m0 22h0m2-45h0m0 16h0m1 31h0m1-31h0m0 13h0m1-43h0m0 31h0m0 8h0m0 27h0m1-73h0m0 4h0m0 37h0m0 17h0m1-27h0m1-33h0m0 33h0m0 7h0m1-2h0m0 2h0m0 22h0m2-34h0m2-20h0m0 30h0m1 23h0m1-51h0m1-9h0m0 3h0m0 56h0m0 5h0m1-47h0m0 1h0m2-4h0m0 36h0m1-5h0m0 3h0m1-47h0m0 10h0m1 3h0m0 46h0m1-4h0m3-11h0m2-32h0m0 18h0m1-13h0m0 9h0m0 26h0m1-59h0m0 3h0m2 21h0m0 7h0m1-22h0m0 35h0m1-1h0m0 15h0m2-50h0m0 39h0m0 8h0m2-9h0m3-3h0m1-20h0m0 20h0m1-47h0m1 9h0m0 7h0m1 16h0m0 19h0m1-35h0m0 30h0m1-21h0m0 2h0m0 19h0m1-46h0m1 51h0m2-46h0m0 2h0m0 44h0m1-56h0m1 41h0m1 6h0m5-13h0m1 6h0m1-5h0m0 9h0m1-24h0m0 21h0m0 0h0m1-14h0m1-8h0m1-11h0m2 12h0m1 7h0m5-8h0m1 10h0" stroke="#8ff03c" stroke-width="12.4" stroke-linecap="round"/>
<path transform="scale(.1)" d="M419 632h0m19-36h0m19-28h0m2 32h0m0 10h0m1 20h0m2-55h0m1-10h0m8 37h0m5-15h0" stroke="#fff" stroke-width="11.2" stroke-linecap="round"/>
<path d="M41.00,83.00 C41.58,82.83 43.50,84.83 45.00,86.00 C46.50,87.17 49.33,88.83 50.00,90.00 C50.67,91.17 50.00,92.83 49.00,93.00 C48.00,93.17 45.25,92.00 44.00,91.00 C42.75,90.00 42.00,88.33 41.50,87.00 C41.00,85.67 40.42,83.17 41.00,83.00Z" fill="#d7fab9"/>
<path transform="scale(.1)" d="M406 833h0m8 16h0m1-17h0m0 23h0m2-15h0m0 17h0m2-3h0m0 24h0m0 1h0m4-25h0m1 3h0m0 3h0m1 22h0m2-1h0m1-5h0m2-9h0m0 18h0m1-13h0m0 27h0m1-49h0m2 31h0m1-35h0m0 2h0m0 1h0m1 18h0m1 19h0m0 11h0m2-13h0m0 17h0m1-52h0m0 24h0m0 34h0m1-37h0m2 36h0m2-35h0m2 16h0m4-11h0m0 20h0m0 15h0m1-45h0m0 16h0m2 12h0m1-12h0m1-2h0m0 21h0m0 12h0m1-44h0m0 27h0m1-13h0m0 20h0m2-6h0m0 17h0m1-45h0m0 7h0m2 0h0m0 36h0m3-12h0m1-15h0m0 31h0m0 4h0m0 1h0m3-11h0m3-13h0m1 2h0m1 0h0m1-2h0m2 20h0m1-20h0m0 19h0m1-25h0m2 22h0m4-8h0m0 13h0m1-30h0m0 14h0m0 25h0m1 1h0m1-45h0m0 20h0m0 13h0m0 10h0m1-1h0m0 9h0m2-35h0m3 10h0m1 7h0m1-13h0m0 11h0m5-5h0" stroke="#8ff03c" stroke-width="12.4" stroke-linecap="round"/>
<path transform="scale(.1)" d="M419 875h0m26-18h0m4 6h0m11 37h0m3 6h0m13 5h0m13-4h0" stroke="#fff" stroke-width="11.2" stroke-linecap="round"/>
<path d="M55.00,58.00 C56.00,57.17 59.50,56.67 62.00,56.50 C64.50,56.33 67.67,56.58 70.00,57.00 C72.33,57.42 74.67,58.00 76.00,59.00 C77.33,60.00 78.00,62.17 78.00,63.00 C78.00,63.83 77.33,64.25 76.00,64.00 C74.67,63.75 72.33,62.00 70.00,61.50 C67.67,61.00 64.33,61.00 62.00,61.00 C59.67,61.00 57.17,62.00 56.00,61.50 C54.83,61.00 54.00,58.83 55.00,58.00Z" fill="#bdddfa"/>
<path transform="scale(.1)" d="M545 593h0m7 13h0m1-28h0m0 3h0m5 13h0m0 12h0m3-10h0m3-26h0m0 23h0m1 5h0m1-6h0m0 18h0m1-37h0m0 31h0m0 14h0m1-15h0m1 5h0m0 7h0m3-19h0m0 16h0m1-3h0m2-4h0m1-24h0m2-1h0m2 19h0m0 15h0m4-27h0m1 22h0m1-37h0m0 41h0m1-34h0m4 6h0m0 13h0m1-21h0m1 13h0m2 6h0m0 14h0m1-6h0m2 0h0m0 6h0m2-21h0m1-10h0m0 14h0m5-15h0m3 14h0m1 3h0m4-27h0m2 28h0m1-7h0m1-2h0m1-19h0m6-6h0m1 44h0m1-4h0m1-2h0m0 6h0m5 1h0m1-15h0m4-2h0m1-27h0m0 35h0m2-13h0m1-17h0m0 5h0m2 2h0m1-7h0m0 24h0m8-3h0m1-24h0m3 31h0m1-2h0m1-25h0m1 22h0m1 14h0m2-32h0m2 1h0m1-4h0m1 35h0m3-17h0m1-18h0m1 20h0m0 12h0m1-29h0m0 35h0m3-11h0m1 11h0m1-24h0m1-11h0m0 7h0m0 5h0m1 26h0m3-10h0m2-4h0m1-13h0m1 1h0m1 20h0m1-22h0m1-11h0m0 30h0m1-23h0m1 29h0m3-22h0m0 28h0m2-4h0m1-30h0m0 9h0m1 21h0m2-31h0m0 25h0m2-30h0m0 41h0m4-9h0m3-31h0m0 14h0m1 4h0m0 2h0m3 23h0m1 4h0m1-43h0m5 4h0m0 25h0m4-26h0m0 30h0m2-16h0m10 22h0m1-2h0m1-4h0m0 4h0m2-9h0m1 0h0m2-29h0m0 2h0m2 15h0m0 36h0m7-35h0m0 5h0m1 13h0m1-3h0m0 22h0m2-27h0m0 22h0m1-9h0m3-6h0m1 6h0m0 21h0m1-35h0m0 16h0m1 8h0m0 10h0m2-40h0m0 9h0m2 22h0m6 6h0m4-4h0m1-3h0m4 4h0m3-9h0" stroke="#3d9cf0" stroke-width="12.4" stroke-linecap="round"/>
<path transform="scale(.1)" d="M556 585h0m37-7h0m23 18h0m11-16h0m11 22h0m14 5h0m5-34h0m2 14h0m11-12h0m26 33h0m13-18h0m1 7h0" stroke="#fff" stroke-width="11.2" stroke-linecap="round"/>
<path d="M67.00,69.00 C68.08,67.33 71.83,65.83 74.00,66.00 C76.17,66.17 78.83,68.00 80.00,70.00 C81.17,72.00 81.17,75.83 81.00,78.00 C80.83,80.17 80.50,82.33 79.00,83.00 C77.50,83.67 73.92,83.17 72.00,82.00 C70.08,80.83 68.33,78.17 67.50,76.00 C66.67,73.83 65.92,70.67 67.00,69.00Z" fill="#c0dffa"/>
<path transform="scale(.1)" d="M671 729h0m1-19h0m0 9h0m0 20h0m0 21h0m1-10h0m2-35h0m1 42h0m1-56h0m1-5h0m0 65h0m1-34h0m0 40h0m2-34h0m1-34h0m0 24h0m0 24h0m1-58h0m1-5h0m0 42h0m0 31h0m1 4h0m2-68h0m1 74h0m1-18h0m1-23h0m0 10h0m0 5h0m2-54h0m0 73h0m1-28h0m0 10h0m0 24h0m1 8h0m4-59h0m1-21h0m0 83h0m0 1h0m1-34h0m0 42h0m1-98h0m0 3h0m1-6h0m1 26h0m1-41h0m0 42h0m1-40h0m0 93h0m1-40h0m0 21h0m1 38h0m0 5h0m0 1h0m1-103h0m0 17h0m0 28h0m1-36h0m1 93h0m2-51h0m0 57h0m1-62h0m0 67h0m1-127h0m0 94h0m1-86h0m0 71h0m0 42h0m0 16h0m1-66h0m2-75h0m0 42h0m0 31h0m0 46h0m0 31h0m1-103h0m0 13h0m0 16h0m0 62h0m1-134h0m0 144h0m2-155h0m0 23h0m2-17h0m0 99h0m0 50h0m2 5h0m1-103h0m0 84h0m3-98h0m0 35h0m0 9h0m1 25h0m1-45h0m0 16h0m0 20h0m1 23h0m0 30h0m1-88h0m0 7h0m1 7h0m0 74h0m1-51h0m2-50h0m0 54h0m1-98h0m0 122h0m1-79h0m0 36h0m1-76h0m0 81h0m2-79h0m0 12h0m0 10h0m0 124h0m2-160h0m0 2h0m0 36h0m0 2h0m0 53h0m1-68h0m0 28h0m0 21h0m0 5h0m0 40h0m0 37h0m1-139h0m0 142h0m1-124h0m0 54h0m0 25h0m1-29h0m0 69h0m0 15h0m2-56h0m2-25h0m1-80h0m0 129h0m0 7h0m0 2h0m1-111h0m1-4h0m0 116h0m0 4h0m1-114h0m0 37h0m0 51h0m1-76h0m0 99h0m1-133h0m0 39h0m1 48h0m0 13h0m1-91h0m0 103h0m1-81h0m0 13h0m0 111h0m1-103h0m0 92h0m1-67h0m0 15h0m1-62h0m0 57h0m1 20h0m2-65h0m0 3h0m0 24h0m3-68h0m0 52h0m0 1h0m0 1h0m2-10h0m0 47h0m1-5h0m0 8h0m2-30h0m1-70h0m0 20h0m0 76h0m1-46h0m1-31h0m0 26h0m0 42h0m1-41h0m0 33h0m1-68h0m0 133h0m0 10h0m1-141h0m0 88h0m1-72h0m0 13h0m0 0h0m0 2h0m0 30h0m0 36h0m0 36h0m1-116h0m0 47h0m0 49h0m0 1h0m0 14h0m1-89h0m0 72h0m1-101h0m0 11h0m1 57h0m0 26h0m2-43h0m1-26h0m0 74h0m0 4h0m1-103h0m0 11h0m0 38h0m0 17h0m1-54h0m1 64h0m0 6h0m0 4h0m1-84h0m0 39h0m1-31h0m0 5h0m0 45h0m0 12h0m1-73h0m0 67h0m1-12h0m0 33h0m3-14h0m1 15h0m0 33h0m2-46h0m1 30h0m2-29h0m1-45h0m1 22h0m0 65h0m1-66h0m0 41h0m2-34h0m4 11h0" stroke="#3d9cf0" stroke-width="12.4" stroke-linecap="round"/>
<path transform="scale(.1)" d="M677 737h0m18-30h0m2 33h0m2-1h0m13-74h0m21 130h0m8-12h0m22-27h0m3 71h0m6-12h0m1-26h0m0 0h0m4 30h0m1-87h0m0 47h0m3 2h0m3 33h0m1-121h0m13 59h0" stroke="#fff" stroke-width="11.2" stroke-linecap="round"/>
<path d="M78.00,56.00 C79.58,54.17 82.00,52.83 84.00,52.00 C86.00,51.17 88.67,50.33 90.00,51.00 C91.33,51.67 92.17,54.17 92.00,56.00 C91.83,57.83 89.83,59.67 89.00,62.00 C88.17,64.33 87.83,67.33 87.00,70.00 C86.17,72.67 84.83,75.33 84.00,78.00 C83.17,80.67 82.83,84.33 82.00,86.00 C81.17,87.67 79.83,88.33 79.00,88.00 C78.17,87.67 77.17,86.00 77.00,84.00 C76.83,82.00 78.17,78.67 78.00,76.00 C77.83,73.33 76.58,70.17 76.00,68.00 C75.42,65.83 74.17,65.00 74.50,63.00 C74.83,61.00 76.42,57.83 78.00,56.00Z" fill="#acbadf"/>
<path transform="scale(.1)" d="M748 629h0m0 21h0m3-47h0m0 9h0m0 51h0m1-42h0m2-10h0m0 10h0m3 10h0m1-38h0m0 22h0m1 60h0m1-57h0m0 21h0m2 40h0m1 2h0m2-106h0m0 57h0m0 25h0m0 33h0m2-112h0m0 6h0m0 14h0m0 46h0m1-41h0m0 37h0m0 32h0m0 3h0m1-98h0m0 50h0m0 44h0m0 26h0m0 144h0m0 13h0m1-267h0m0 11h0m1-18h0m0 89h0m0 6h0m1-20h0m0 51h0m1-82h0m0 10h0m0 61h0m1-83h0m0 99h0m1 4h0m0 3h0m1-127h0m0 10h0m0 0h0m0 135h0m1-179h0m0 51h0m0 23h0m0 65h0m0 7h0m0 10h0m0 21h0m0 107h0m1-277h0m0 27h0m0 89h0m0 134h0m1-204h0m0 240h0m0 22h0m1-241h0m0 196h0m0 0h0m1-248h0m0 204h0m0 7h0m1-28h0m0 25h0m0 21h0m0 14h0m1-244h0m0 6h0m0 5h0m0 2h0m0 73h0m0 123h0m1-227h0m0 51h0m0 8h0m0 6h0m0 96h0m0 2h0m0 112h0m1-139h0m0 40h0m0 52h0m0 31h0m1-260h0m0 56h0m0 101h0m1-91h0m0 78h0m0 23h0m0 39h0m0 16h0m0 10h0m0 22h0m0 27h0m1-257h0m0 89h0m0 3h0m0 12h0m0 95h0m0 19h0m0 59h0m0 13h0m1-236h0m0 176h0m1-139h0m0 35h0m0 12h0m0 66h0m1-158h0m0 28h0m0 81h0m0 51h0m1-192h0m0 29h0m0 75h0m0 12h0m1-80h0m0 195h0m0 35h0m1-298h0m0 45h0m0 24h0m0 137h0m0 62h0m1-248h0m0 48h0m0 6h0m0 94h0m0 130h0m1-221h0m1-83h0m0 83h0m0 45h0m0 5h0m0 21h0m0 158h0m1-318h0m0 16h0m0 39h0m0 17h0m0 2h0m0 87h0m0 13h0m0 40h0m0 67h0m1-212h0m0 88h0m0 35h0m0 27h0m0 89h0m0 9h0m1-319h0m0 13h0m0 50h0m0 115h0m0 107h0m1-280h0m0 16h0m0 15h0m0 8h0m0 54h0m0 26h0m0 19h0m0 36h0m0 65h0m0 62h0m1-253h0m0 174h0m0 18h0m0 9h0m1-262h0m1 106h0m0 124h0m0 7h0m1-207h0m0 32h0m0 192h0m0 7h0m1-57h0m0 13h0m0 11h0m0 4h0m0 29h0m0 38h0m1-259h0m0 35h0m0 29h0m0 8h0m0 52h0m0 3h0m0 31h0m0 50h0m0 22h0m0 1h0m0 45h0m0 9h0m1-233h0m0 20h0m0 14h0m0 61h0m1-110h0m0 53h0m0 53h0m0 81h0m0 46h0m1-291h0m0 85h0m0 22h0m0 149h0m1-194h0m0 29h0m0 15h0m0 47h0m0 120h0m1-200h0m0 120h0m0 2h0m0 72h0m1-209h0m0 12h0m0 64h0m0 11h0m0 14h0m0 9h0m0 2h0m0 6h0m1-164h0m0 65h0m0 21h0m0 106h0m1-157h0m0 47h0m1-112h0m0 15h0m0 28h0m0 7h0m0 127h0m0 4h0m0 131h0m1-315h0m0 79h0m0 52h0m0 9h0m0 19h0m0 17h0m0 30h0m0 24h0m1-183h0m0 12h0m0 68h0m0 68h0m0 108h0m1-304h0m0 8h0m0 118h0m0 78h0m0 73h0m1-48h0m0 48h0m1-278h0m0 30h0m0 78h0m0 22h0m0 47h0m0 16h0m0 47h0m1-82h0m0 11h0m1-123h0m0 9h0m0 77h0m0 112h0m1-98h0m0 58h0m0 103h0m1-318h0m0 196h0m0 6h0m1-96h0m0 59h0m0 75h0m1-202h0m0 28h0m0 134h0m0 5h0m0 7h0m0 91h0m1-179h0m0 12h0m0 44h0m0 103h0m1-283h0m0 104h0m0 2h0m0 150h0m0 46h0m1-277h0m0 6h0m0 28h0m0 64h0m0 51h0m0 99h0m1-233h0m0 6h0m0 62h0m0 114h0m0 52h0m1-236h0m0 6h0m0 142h0m0 57h0m0 23h0m1-85h0m0 36h0m1-128h0m0 15h0m0 43h0m0 27h0m0 5h0m0 18h0m0 11h0m0 17h0m0 15h0m1-93h0m1 37h0m0 12h0m0 36h0m0 2h0m1-203h0m0 49h0m0 7h0m0 37h0m0 15h0m0 1h0m0 5h0m0 63h0m0 37h0m1-220h0m0 116h0m0 11h0m0 15h0m0 48h0m0 9h0m0 29h0m1-211h0m0 114h0m0 22h0m1-81h0m0 23h0m0 39h0m0 19h0m0 4h0m0 8h0m0 19h0m1-183h0m0 68h0m0 91h0m1-194h0m0 22h0m0 13h0m0 1h0m0 94h0m0 61h0m0 8h0m1-189h0m0 74h0m0 114h0m0 18h0m1-205h0m0 100h0m0 82h0m0 28h0m0 7h0m1-200h0m0 21h0m0 77h0m0 2h0m1 37h0m1-129h0m0 74h0m0 27h0m0 16h0m0 41h0m0 1h0m1-133h0m0 158h0m0 6h0m1-198h0m0 119h0m1-117h0m0 55h0m0 1h0m0 81h0m0 20h0m0 6h0m0 17h0m1-154h0m0 61h0m0 2h0m0 58h0m0 18h0m0 17h0m1-218h0m0 45h0m0 1h0m0 31h0m0 89h0m1-127h0m0 20h0m0 20h0m0 34h0m0 42h0m1-145h0m0 42h0m0 43h0m0 9h0m0 45h0m1-140h0m0 12h0m0 112h0m0 21h0m0 34h0m0 11h0m0 35h0m1-24h0m1-117h0m0 28h0m0 84h0m1-181h0m0 17h0m0 31h0m0 115h0m1-159h0m0 14h0m0 23h0m0 68h0m0 31h0m0 44h0m1-142h0m0 63h0m0 35h0m0 63h0m1-201h0m0 68h0m0 48h0m1-71h0m0 25h0m0 72h0m1-74h0m0 44h0m0 52h0m1-43h0m0 19h0m1-172h0m0 68h0m0 31h0m0 47h0m1-116h0m0 12h0m0 13h0m0 61h0m1 11h0m0 58h0m1-172h0m0 19h0m0 30h0m1-14h0m0 4h0m0 36h0m0 31h0m0 10h0m1-97h0m0 86h0m1-94h0m1-4h0m0 29h0m1-36h0m1 40h0m0 55h0m0 0h0m0 17h0m0 32h0m1-121h0m0 78h0m0 34h0m0 20h0m2-116h0m0 116h0m1-101h0m0 68h0m0 14h0m0 18h0m1-159h0m0 141h0m1-131h0m0 20h0m0 20h0m1 2h0m0 3h0m0 33h0m0 55h0m2-142h0m0 11h0m0 56h0m0 8h0m1-41h0m0 67h0m1-82h0m2-7h0m2 1h0m0 2h0m0 86h0m1-29h0m0 15h0m0 12h0m1-58h0m0 24h0m2 32h0m1-36h0m0 2h0m1 18h0m1-17h0m1-3h0m1-45h0m0 33h0m1-54h0m1 36h0m0 37h0m1-37h0m0 21h0m0 27h0m1-68h0m2 9h0m0 36h0m0 14h0m2-63h0m0 2h0m1 17h0m0 24h0m2-7h0m3 12h0m0 10h0m1-27h0m2 18h0m4-21h0" stroke="#0b34a0" stroke-width="12.4" stroke-linecap="round"/>
<path transform="scale(.1)" d="M749 644h0m15-13h0m5 14h0m11 49h0m4-46h0m2 136h0m4-101h0m2 180h0m1-149h0m5 103h0m1-164h0m2-4h0m2-62h0m3 115h0m2 43h0m4-177h0m1-31h0m3 40h0m0 139h0m1-54h0m2 198h0m3-251h0m2 71h0m0 17h0m3-137h0m0 80h0m0 104h0m2-144h0m5 113h0m6-172h0m0 9h0m3 188h0m3-139h0m1 118h0m1-100h0m3 66h0m0 59h0m16-68h0m4-83h0m15-44h0m6 29h0m11-60h0m1 60h0m3-2h0" stroke="#fff" stroke-width="11.2" stroke-linecap="round"/>
<path d="M81.00,86.00 C82.00,84.67 86.00,82.00 88.00,80.00 C90.00,78.00 92.00,74.67 93.00,74.00 C94.00,73.33 94.67,74.50 94.00,76.00 C93.33,77.50 91.00,81.00 89.00,83.00 C87.00,85.00 83.33,87.50 82.00,88.00 C80.67,88.50 80.00,87.33 81.00,86.00Z" fill="#b0bde0"/>
<path transform="scale(.1)" d="M811 867h0m5 1h0m2-21h0m1 5h0m0 4h0m1 10h0m7-19h0m5 29h0m5-38h0m6 2h0m1 0h0m1 24h0m1-9h0m0 7h0m1-16h0m1 6h0m1-3h0m0 10h0m1-19h0m0 14h0m9-17h0m0 4h0m1 8h0m2-7h0m1-14h0m0 1h0m0 12h0m1-8h0m3-14h0m2-13h0m4 8h0m0 11h0m1-24h0m4 21h0m1-7h0m2 19h0m3 0h0m3-7h0m5-15h0m0 1h0m2-11h0m0 10h0m3-28h0m1 11h0m8 3h0m1-12h0m1 2h0m3-9h0m2 2h0m1 8h0m3-14h0m2 20h0m4-42h0m1-7h0m4 9h0m1-6h0m3 3h0m2-13h0m1 2h0m3 16h0m8-14h0" stroke="#0b34a0" stroke-width="12.4" stroke-linecap="round"/>
<path transform="scale(.1)" d="M865 824h0m5-9h0m71-64h0" stroke="#fff" stroke-width="11.2" stroke-linecap="round"/>
<path d="M50.00,65.50 C50.67,64.75 54.08,64.17 55.00,64.50 C55.92,64.83 56.17,66.75 55.50,67.50 C54.83,68.25 51.92,69.33 51.00,69.00 C50.08,68.67 49.33,66.25 50.00,65.50Z" fill="#acbcae"/>
<path transform="scale(.1)" d="M503 671h0m0 1h0m4-19h0m1 3h0m2 7h0m2 22h0m1-8h0m3-1h0m1-4h0m0 2h0m1 1h0m2-17h0m0 20h0m1 10h0m1-5h0m2-24h0m1-1h0m1 18h0m3-5h0m2-6h0m0 1h0m1 11h0m2 4h0m0 1h0m0 3h0m1-8h0m3-18h0m0 24h0m1-22h0m1-3h0m0 19h0m5-15h0m1 0h0m4-18h0m0 28h0m5-3h0m3-12h0" stroke="#0d3b12" stroke-width="12.4" stroke-linecap="round"/>
<path transform="scale(.1)" d="M523 650h0m20 20h0" stroke="#fff" stroke-width="11.2" stroke-linecap="round"/>
<path d="M73.00,45.00 C73.58,43.50 76.00,42.83 77.00,44.00 C78.00,45.17 78.83,49.33 79.00,52.00 C79.17,54.67 78.67,58.50 78.00,60.00 C77.33,61.50 75.75,62.17 75.00,61.00 C74.25,59.83 73.83,55.67 73.50,53.00 C73.17,50.33 72.42,46.50 73.00,45.00Z" fill="#c8d2c9"/>
<path transform="scale(.1)" d="M735 503h0m1-43h0m0 19h0m0 36h0m7 4h0m1 63h0m1-56h0m0 34h0m2-61h0m2-24h0m0 64h0m1-97h0m0 145h0m0 11h0m2-81h0m1 24h0m2 30h0m0 11h0m2-147h0m0 146h0m2-55h0m1 69h0m1-91h0m0 101h0m5-90h0m0 23h0m1-11h0m0 35h0m0 2h0m1 46h0m1-54h0m1-36h0m0 27h0m0 44h0m1-139h0m0 22h0m0 50h0m5-43h0m2 85h0m2-47h0m1-23h0m1-15h0m0 97h0m7-76h0" stroke="#0d3b12" stroke-width="12.4" stroke-linecap="round"/>
<path transform="scale(.1)" d="M748 505h0m3 66h0m21-1h0" stroke="#fff" stroke-width="11.2" stroke-linecap="round"/>
</g>
<g id="a2">
<path d="M131.00,32.00 C132.08,29.67 135.13,28.85 137.00,28.00 C138.87,27.15 140.37,26.82 142.20,26.90 C144.03,26.98 146.53,27.82 148.00,28.50 C149.47,29.18 149.82,28.98 151.00,31.00 C152.18,33.02 154.68,38.10 155.10,40.60 C155.52,43.10 155.02,44.35 153.50,46.00 C151.98,47.65 148.25,49.33 146.00,50.50 C143.75,51.67 141.75,51.67 140.00,53.00 C138.25,54.33 136.75,58.67 135.50,58.50 C134.25,58.33 133.33,54.75 132.50,52.00 C131.67,49.25 130.75,45.33 130.50,42.00 C130.25,38.67 129.92,34.33 131.00,32.00Z" fill="#dadada"/>
<path transform="scale(.1)" d="M1305 415h0m2-69h0m0 93h0m2-59h0m2 33h0m1-98h0m0 74h0m0 23h0m1-102h0m3 32h0m0 16h0m2 146h0m0 5h0m2-127h0m3 50h0m1-73h0m0 12h0m1 93h0m2-88h0m0 33h0m0 22h0m1-87h0m1 184h0m1-194h0m2-29h0m0 24h0m0 135h0m0 62h0m1 8h0m2-109h0m0 14h0m2 70h0m1-141h0m0 32h0m1-94h0m0 80h0m2-56h0m3-36h0m1 282h0m1-48h0m0 45h0m2-257h0m0 210h0m1-48h0m2-30h0m2-145h0m0 126h0m0 60h0m0 53h0m0 21h0m1-79h0m0 74h0m0 13h0m1-117h0m2-128h0m0 224h0m2-212h0m1 133h0m1-61h0m0 85h0m1-116h0m1-33h0m0 56h0m0 54h0m1-39h0m1-45h0m5-25h0m2 126h0m1-8h0m0 3h0m3-127h0m1-3h0m0 133h0m1-181h0m1 44h0m6-24h0m1 38h0m0 34h0m1 54h0m2 98h0m3-114h0m0 95h0m1-54h0m3-81h0m3-50h0m1-33h0m0 86h0m1 58h0m1-155h0m0 81h0m0 37h0m0 105h0m2-75h0m1-17h0m0 16h0m1-35h0m1-50h0m0 46h0m2 41h0m0 43h0m1-9h0m1-47h0m0 98h0m1-158h0m1 77h0m0 45h0m1-145h0m0 60h0m1-42h0m0 71h0m1-85h0m0 25h0m0 101h0m0 13h0m0 12h0m2-215h0m0 80h0m2-32h0m0 37h0m1 32h0m1 37h0m3-80h0m0 81h0m1-77h0m4-80h0m0 37h0m1 106h0m4-131h0m0 130h0m1-136h0m0 136h0m0 31h0m4-107h0m0 51h0m3-84h0m2 10h0m3-3h0m0 73h0m2 11h0m0 58h0m1 18h0m2-188h0m2 168h0m1-174h0m0 77h0m0 36h0m1-16h0m0 15h0m3-86h0m0 194h0m1-206h0m0 39h0m3 167h0m1-147h0m0 78h0m1 20h0m1-131h0m1-25h0m0 86h0m1-73h0m1 80h0m1-30h0m2-8h0m0 134h0m1-129h0m1 15h0m0 46h0m0 1h0m1-64h0m2-32h0m0 100h0m0 53h0m3-76h0m1-49h0m0 62h0m1 53h0m1-41h0m1-6h0m1 58h0m1-130h0m2-18h0m0 130h0m4-46h0m4-103h0m0 81h0m2-46h0m3 50h0m1 49h0m0 15h0m2-108h0m1-31h0m0 61h0m4-20h0m1 37h0m0 38h0m1 26h0m5-56h0m1-68h0m8 78h0m2-61h0m0 54h0m1 44h0m1-90h0m2 83h0m5-69h0m0 46h0m1-54h0m3 75h0m4-63h0" stroke="#3a3a3a" stroke-width="12.4" stroke-linecap="round"/>
<path transform="scale(.1)" d="M1329 342h0m0 22h0m16-47h0m2 161h0m20-34h0m3-4h0m17-99h0m2-14h0m0 66h0m8 9h0m19-5h0m12-53h0m9 24h0m6 137h0m15-12h0m36-154h0" stroke="#fff" stroke-width="11.2" stroke-linecap="round"/>
<path d="M150.00,29.00 C150.67,28.42 154.17,28.33 156.00,28.50 C157.83,28.67 160.00,29.08 161.00,30.00 C162.00,30.92 162.67,33.58 162.00,34.00 C161.33,34.42 158.67,32.83 157.00,32.50 C155.33,32.17 153.17,32.58 152.00,32.00 C150.83,31.42 149.33,29.58 150.00,29.00Z" fill="#dcf3e4"/>
<path transform="scale(.1)" d="M1505 305h0m1 3h0m18-5h0m12-18h0m3 12h0m14-5h0m1 0h0m16 13h0m9-5h0m0 7h0m22-13h0m3 24h0m9 4h0m11-4h0" stroke="#33b864" stroke-width="12.4" stroke-linecap="round"/>
<path transform="scale(.1)" d="M1502 299h0" stroke="#fff" stroke-width="11.2" stroke-linecap="round"/>
<path d="M135.50,52.00 C137.33,49.55 143.08,50.67 146.00,50.00 C148.92,49.33 150.83,47.50 153.00,48.00 C155.17,48.50 157.17,51.00 159.00,53.00 C160.83,55.00 163.33,56.33 164.00,60.00 C164.67,63.67 165.20,71.93 163.00,75.00 C160.80,78.07 155.13,78.12 150.80,78.40 C146.47,78.68 139.63,78.98 137.00,76.70 C134.37,74.42 135.25,68.82 135.00,64.70 C134.75,60.58 133.67,54.45 135.50,52.00Z" fill="#f6fef6"/>
<path transform="scale(.1)" d="M1344 614h0m3 18h0m6-19h0m2-3h0m0 89h0m1-137h0m1-19h0m2 177h0m2-170h0m6 130h0m0 0h0m3-60h0m2-95h0m1 98h0m2-56h0m0 50h0m0 16h0m1-64h0m0 4h0m1-32h0m0 62h0m2-67h0m3 139h0m2-30h0m1 11h0m1-3h0m0 26h0m1-36h0m3-103h0m0 117h0m2 56h0m2-172h0m1 147h0m1 10h0m2-152h0m2 87h0m0 78h0m1-43h0m1 57h0m3-206h0m0 162h0m3-124h0m0 106h0m1 93h0m1-21h0m0 40h0m1-78h0m1-71h0m0 34h0m2-119h0m0 16h0m2 115h0m0 12h0m1 50h0m1-130h0m0 55h0m2 52h0m1 30h0m2-76h0m1-107h0m1-8h0m2 231h0m1-278h0m1 192h0m0 14h0m1-198h0m2 205h0m3-85h0m1 33h0m1-157h0m0 264h0m2-226h0m1-20h0m1 112h0m0 17h0m2 70h0m1-150h0m0 135h0m1 66h0m1-267h0m3 217h0m3 5h0m2-169h0m1 6h0m1 150h0m2-16h0m3-42h0m0 21h0m1-63h0m1 116h0m1-126h0m0 108h0m1-162h0m0 55h0m0 176h0m2-172h0m1 19h0m0 80h0m3-111h0m0 48h0m1-38h0m3-15h0m2 146h0m2-198h0m2 46h0m0 132h0m1-42h0m1-69h0m1-92h0m0 161h0m3-103h0m3-14h0m2 182h0m1-61h0m0 14h0m3-22h0m1-43h0m0 2h0m0 8h0m0 29h0m3-156h0m0 54h0m0 77h0m0 83h0m3-131h0m0 82h0m1-119h0m2-34h0m0 3h0m1 156h0m1-108h0m0 102h0m1-13h0m1 61h0m3-123h0m0 108h0m1-76h0m2-51h0m1-45h0m1 168h0m1-229h0m2 198h0m1-17h0m0 75h0m2-112h0m1-130h0m0 158h0m2-48h0m0 59h0m1 82h0m2-150h0m0 8h0m0 89h0m2-144h0m1 194h0m2-115h0m1-113h0m3-14h0m0 72h0m0 118h0m2-120h0m0 210h0m1-237h0m2 144h0m0 35h0m3-36h0m4-48h0m1-103h0m1 212h0m1-247h0m0 249h0m1-205h0m1 99h0m0 113h0m2-24h0m0 15h0m1-232h0m0 131h0m0 89h0m2-109h0m0 129h0m1-65h0m1 68h0m1-226h0m0 152h0m2-176h0m2 176h0m2 77h0m1-13h0m1-98h0m1 94h0m0 5h0m1-178h0m1 154h0m1-169h0m0 131h0m2-130h0m3-29h0m0 61h0m0 5h0m1 33h0m2-16h0m0 164h0m3-169h0m1-42h0m0 109h0m1-140h0m1 230h0m2-179h0m3 21h0m0 152h0m1-193h0m1 85h0m1-83h0m1-16h0m0 155h0m1-138h0m0 47h0m1 96h0m1 21h0m3-136h0m1-25h0m1 189h0m4-97h0m5 64h0m0 31h0m1-145h0m0 67h0m2-93h0m2-5h0m3 171h0m3-42h0m1-97h0m0 81h0m2-39h0m0 56h0m0 18h0m2-55h0m2 4h0m2 3h0m0 23h0m6 5h0m1-45h0" stroke="#c9f6c9" stroke-width="12.4" stroke-linecap="round"/>
<path transform="scale(.1)" d="M1419 507h0m4 86h0m22 182h0m12-132h0m10-19h0m2-48h0m3-50h0m15 237h0m17-86h0m5 82h0m20-139h0m0 68h0m15 75h0m16 6h0m1-4h0m13-26h0m22 4h0m3-191h0m15 27h0" stroke="#fff" stroke-width="11.2" stroke-linecap="round"/>
<path d="M137.00,76.70 C139.43,74.98 146.65,78.68 150.80,78.40 C154.95,78.12 160.47,73.28 161.90,75.00 C163.33,76.72 160.55,84.87 159.40,88.70 C158.25,92.53 156.57,95.12 155.00,98.00 C153.43,100.88 151.42,104.40 150.00,106.00 C148.58,107.60 148.00,108.77 146.50,107.60 C145.00,106.43 142.72,102.15 141.00,99.00 C139.28,95.85 136.87,92.42 136.20,88.70 C135.53,84.98 134.57,78.42 137.00,76.70Z" fill="#dffbc7"/>
<path transform="scale(.1)" d="M1354 824h0m2-16h0m3 39h0m1-34h0m3-18h0m0 44h0m0 11h0m1-21h0m1-13h0m3 79h0m1-110h0m0 58h0m3-66h0m0 4h0m0 44h0m0 19h0m1 22h0m0 7h0m0 17h0m0 21h0m1-121h0m3 41h0m0 16h0m0 20h0m0 9h0m0 12h0m0 20h0m1-70h0m0 25h0m2-48h0m1-32h0m1 156h0m1-90h0m0 51h0m1-124h0m0 18h0m0 67h0m1 15h0m0 32h0m0 8h0m1-115h0m0 1h0m0 10h0m0 25h0m0 49h0m0 25h0m1-100h0m0 21h0m2-64h0m1 73h0m0 107h0m1-174h0m0 38h0m3 83h0m1-103h0m0 62h0m1-67h0m0 73h0m1-60h0m2 93h0m1-25h0m0 97h0m1-191h0m0 85h0m0 38h0m2-69h0m1 1h0m0 7h0m0 20h0m0 21h0m1-63h0m0 64h0m0 33h0m1-31h0m0 65h0m1 17h0m2-51h0m2 30h0m0 2h0m0 17h0m1-164h0m0 4h0m0 125h0m0 50h0m1-204h0m0 48h0m1-2h0m0 10h0m1-34h0m0 115h0m0 29h0m1-162h0m0 80h0m2-1h0m0 125h0m2-121h0m0 34h0m0 16h0m1-136h0m0 12h0m0 19h0m0 4h0m0 9h0m0 100h0m0 22h0m0 54h0m1-124h0m0 79h0m1-142h0m1 102h0m1 18h0m0 25h0m0 26h0m0 20h0m1-221h0m1-2h0m0 126h0m1-122h0m0 244h0m1-206h0m0 110h0m1-45h0m0 42h0m0 29h0m1-115h0m1 141h0m1-34h0m0 50h0m1-128h0m0 6h0m0 61h0m0 32h0m0 9h0m0 43h0m1-211h0m0 177h0m1-127h0m0 134h0m0 4h0m0 31h0m1-193h0m1-54h0m0 126h0m1-27h0m1-68h0m0 44h0m0 9h0m0 0h0m0 92h0m0 68h0m1-126h0m0 14h0m0 93h0m1-128h0m0 54h0m0 115h0m1-142h0m0 4h0m0 112h0m3-193h0m0 29h0m0 192h0m2-53h0m1-129h0m0 20h0m0 31h0m0 69h0m0 49h0m1-131h0m1-36h0m0 56h0m1-9h0m0 79h0m0 63h0m1-167h0m0 9h0m1-102h0m0 9h0m0 4h0m0 30h0m1-48h0m0 57h0m0 128h0m0 14h0m1-93h0m0 1h0m0 79h0m0 78h0m0 19h0m1-259h0m0 1h0m0 60h0m1-61h0m0 149h0m0 13h0m1-113h0m0 25h0m0 48h0m0 45h0m0 10h0m0 29h0m1-240h0m0 1h0m1 66h0m1-65h0m0 267h0m1-185h0m0 74h0m1 25h0m0 18h0m0 29h0m0 42h0m1-230h0m0 8h0m0 188h0m1-191h0m0 214h0m0 3h0m1-251h0m0 12h0m0 30h0m0 179h0m0 45h0m1-72h0m1 40h0m1-192h0m0 141h0m0 24h0m0 63h0m1-283h0m0 28h0m0 208h0m2-130h0m0 122h0m0 9h0m0 32h0m0 9h0m1 18h0m1-243h0m0 35h0m0 6h0m0 17h0m0 63h0m0 33h0m0 23h0m1-189h0m0 50h0m0 145h0m0 17h0m1-199h0m0 1h0m0 6h0m0 66h0m0 91h0m0 73h0m1-247h0m0 48h0m0 164h0m1 9h0m1-113h0m0 17h0m0 84h0m0 17h0m1-141h0m0 27h0m1-100h0m1-7h0m0 23h0m0 19h0m0 43h0m0 4h0m0 119h0m1-86h0m0 9h0m1-146h0m0 113h0m0 42h0m1-47h0m0 19h0m1-63h0m0 108h0m1-169h0m0 114h0m0 110h0m1-144h0m0 17h0m1-110h0m0 13h0m0 61h0m0 89h0m0 13h0m1-137h0m0 120h0m0 9h0m1-40h0m0 42h0m1-153h0m0 79h0m0 52h0m0 113h0m1-258h0m0 17h0m0 227h0m1-56h0m1-29h0m0 17h0m0 62h0m1-213h0m0 161h0m2-102h0m0 89h0m1 28h0m2-224h0m0 277h0m1-210h0m0 40h0m1-28h0m0 192h0m1-134h0m0 122h0m1-57h0m0 5h0m1-180h0m1 69h0m0 51h0m0 47h0m1-190h0m0 167h0m1-104h0m0 8h0m0 73h0m0 19h0m1-162h0m0 166h0m1-47h0m0 95h0m1-208h0m1 20h0m0 191h0m1-85h0m0 45h0m2-140h0m1 75h0m0 108h0m0 20h0m1-105h0m0 8h0m1-146h0m0 68h0m0 116h0m1-148h0m0 58h0m1-82h0m0 199h0m1-213h0m0 71h0m0 115h0m0 51h0m1-227h0m1 150h0m1-81h0m0 78h0m1-123h0m0 6h0m0 4h0m0 73h0m0 32h0m1-7h0m0 32h0m1-178h0m0 34h0m1 2h0m0 118h0m1-96h0m2-60h0m1 82h0m0 30h0m1-18h0m0 25h0m0 14h0m1 19h0m1-42h0m0 25h0m1-106h0m0 0h0m1-25h0m0 44h0m0 124h0m2-26h0m0 56h0m1-197h0m2 57h0m0 70h0m0 22h0m0 17h0m1-115h0m0 87h0m0 23h0m0 44h0m1-60h0m0 10h0m0 3h0m0 13h0m1-90h0m1 75h0m0 26h0m2-188h0m0 33h0m0 51h0m0 51h0m0 64h0m3-167h0m0 15h0m0 149h0m1-141h0m0 25h0m0 85h0m0 16h0m1-158h0m0 145h0m1 38h0m3-35h0m1-6h0m1-64h0m0 7h0m1-59h0m0 62h0m0 26h0m0 16h0m2-117h0m1 12h0m2 12h0m0 72h0m1-142h0m0 68h0m1-10h0m0 85h0m2-23h0m0 48h0m2-92h0m0 49h0m1 7h0m1 37h0m1-126h0m1 63h0m0 38h0m1-104h0m0 10h0m0 19h0m0 77h0m1-27h0m1 15h0m2-142h0m0 153h0m1-49h0m1-85h0m0 29h0m1-31h0m1 88h0m1-59h0m0 76h0m2-115h0m2 13h0m0 48h0m0 55h0m1-120h0m6 75h0m0 7h0m0 2h0m1 21h0m1-110h0m0 92h0m1-37h0m1-44h0m2 13h0m1 52h0m1-41h0m1 33h0m1-33h0m1 47h0m3-11h0m1-59h0m2 61h0m1-75h0m5 36h0" stroke="#8ff03c" stroke-width="12.4" stroke-linecap="round"/>
<path transform="scale(.1)" d="M1368 851h0m2-82h0m12 96h0m15 4h0m5 23h0m5-80h0m3 92h0m1-33h0m8 110h0m4-167h0m6 72h0m7-59h0m2 189h0m21-81h0m0 128h0m3-250h0m7 189h0m10-101h0m8 43h0m2-41h0m3-74h0m3 14h0m17 5h0m8 68h0m4 62h0m8-137h0m12 147h0m22-225h0m11 45h0m2-47h0m1 97h0m3-88h0m6-16h0m1 47h0m0 70h0m7-75h0m2 51h0m2-12h0" stroke="#fff" stroke-width="11.2" stroke-linecap="round"/>
<path d="M164.00,48.00 C164.67,45.92 166.33,46.33 167.00,47.50 C167.67,48.67 168.33,51.25 168.00,55.00 C167.67,58.75 165.92,67.17 165.00,70.00 C164.08,72.83 162.83,73.67 162.50,72.00 C162.17,70.33 162.75,64.00 163.00,60.00 C163.25,56.00 163.33,50.08 164.00,48.00Z" fill="#e5fcd3"/>
<path transform="scale(.1)" d="M1626 721h0m1-125h0m0 69h0m1-59h0m0 26h0m2 15h0m1-60h0m1-66h0m2 49h0m0 159h0m4-192h0m1 57h0m1 105h0m1-126h0m1-43h0m0 187h0m1-4h0m0 2h0m2-215h0m0 76h0m1 81h0m0 50h0m1-42h0m1-77h0m0 57h0m2-30h0m1-138h0m0 123h0m2-12h0m1 14h0m0 6h0m3-104h0m2 24h0m0 12h0m0 18h0m1-27h0m0 35h0m0 24h0m1-17h0m0 120h0m1-173h0m1 20h0m1-16h0m1 25h0m0 61h0m2-33h0m2-49h0m2-44h0m0 11h0m1 4h0m0 56h0m4-1h0m1 42h0m1-97h0" stroke="#8ff03c" stroke-width="12.4" stroke-linecap="round"/>
<path transform="scale(.1)" d="M1642 699h0m1-128h0m0 67h0m1-13h0" stroke="#fff" stroke-width="11.2" stroke-linecap="round"/>
<path d="M166.20,54.40 C167.62,52.78 170.70,51.73 173.00,51.00 C175.30,50.27 177.68,48.58 180.00,50.00 C182.32,51.42 185.18,55.92 186.90,59.50 C188.62,63.08 190.02,67.20 190.30,71.50 C190.58,75.80 190.03,81.28 188.60,85.30 C187.17,89.32 183.97,93.15 181.70,95.60 C179.43,98.05 176.88,99.13 175.00,100.00 C173.12,100.87 171.57,101.53 170.40,100.80 C169.23,100.07 169.15,98.73 168.00,95.60 C166.85,92.47 164.37,86.27 163.50,82.00 C162.63,77.73 162.63,73.55 162.80,70.00 C162.97,66.45 163.93,63.30 164.50,60.70 C165.07,58.10 164.78,56.02 166.20,54.40Z" fill="#cfd7ec"/>
<path transform="scale(.1)" d="M1630 767h0m5-125h0m1 60h0m1 110h0m1-111h0m1 15h0m0 65h0m1-145h0m0 28h0m0 71h0m1-49h0m1-17h0m1 41h0m1-60h0m0 153h0m2-210h0m1 180h0m0 38h0m2 15h0m1-48h0m2-159h0m0 101h0m0 63h0m3-49h0m2-183h0m2 317h0m1-317h0m0 69h0m0 11h0m2-1h0m0 9h0m1 36h0m1-108h0m0 27h0m0 213h0m0 32h0m1-199h0m0 53h0m1-24h0m0 142h0m0 67h0m2-157h0m0 74h0m0 23h0m1 54h0m1-289h0m0 316h0m1-117h0m0 93h0m1-277h0m0 283h0m1-193h0m0 42h0m0 80h0m1-243h0m0 115h0m1 128h0m0 53h0m1-268h0m0 34h0m0 140h0m0 4h0m1 5h0m3-85h0m0 121h0m1-128h0m0 54h0m0 51h0m0 67h0m1 100h0m1-411h0m0 82h0m0 228h0m2-161h0m1 72h0m0 110h0m0 63h0m1 12h0m0 18h0m1-304h0m0 103h0m2 162h0m1-209h0m1-127h0m0 228h0m1-217h0m0 348h0m2-108h0m0 83h0m1-12h0m1-339h0m0 30h0m0 12h0m1 87h0m0 72h0m0 53h0m0 36h0m1-4h0m0 114h0m1-112h0m0 134h0m1-186h0m0 90h0m1-370h0m0 116h0m1 255h0m1-268h0m0 10h0m1-114h0m0 14h0m0 391h0m1-171h0m0 1h0m0 171h0m0 13h0m1-348h0m0 117h0m1-15h0m0 9h0m0 72h0m1-165h0m0 386h0m1-243h0m1-124h0m1-18h0m0 80h0m0 48h0m0 41h0m1 32h0m1-149h0m0 14h0m1-152h0m0 217h0m1 194h0m1-276h0m0 7h0m0 93h0m0 110h0m1-227h0m0 59h0m1-115h0m0 37h0m0 12h0m0 209h0m0 59h0m1-347h0m0 193h0m1-23h0m1 130h0m1-186h0m0 174h0m0 55h0m1-196h0m0 13h0m0 65h0m0 30h0m0 117h0m1-421h0m0 148h0m0 44h0m0 102h0m1-268h0m0 132h0m0 10h0m0 181h0m0 65h0m0 13h0m1-281h0m0 202h0m0 127h0m1-464h0m0 255h0m1-195h0m0 405h0m1-332h0m0 100h0m0 95h0m1-275h0m0 95h0m1 129h0m0 136h0m0 30h0m1-250h0m0 250h0m1-311h0m0 8h0m0 252h0m0 21h0m2-57h0m1 64h0m1-396h0m1 9h0m1 4h0m0 417h0m1-379h0m0 71h0m0 56h0m1-41h0m1 304h0m1-151h0m0 153h0m1-210h0m2-230h0m0 128h0m0 88h0m1-261h0m0 405h0m0 55h0m1-467h0m0 323h0m0 92h0m0 33h0m2-286h0m0 2h0m0 114h0m1-66h0m0 128h0m1-160h0m0 119h0m1-138h0m1-79h0m0 179h0m0 203h0m1-417h0m0 7h0m0 309h0m0 48h0m1-362h0m1 121h0m0 118h0m0 10h0m1-197h0m0 322h0m1-221h0m2 25h0m2 248h0m1-124h0m0 26h0m1-290h0m0 130h0m0 146h0m0 35h0m1-307h0m0 131h0m1-200h0m0 76h0m0 216h0m0 65h0m0 31h0m1-353h0m0 247h0m0 4h0m1-71h0m0 190h0m1-117h0m0 5h0m0 147h0m1-218h0m1-220h0m0 319h0m1-107h0m0 144h0m0 47h0m2-212h0m1 109h0m0 3h0m0 148h0m1-69h0m1-388h0m0 229h0m1 184h0m1-291h0m0 14h0m0 124h0m1-264h0m0 203h0m0 118h0m1-3h0m1-304h0m0 349h0m1-194h0m0 166h0m1-11h0m0 0h0m0 44h0m1-263h0m0 64h0m0 207h0m1-345h0m0 26h0m0 220h0m1-63h0m1 155h0m0 44h0m0 13h0m1-186h0m0 201h0m0 3h0m2-408h0m0 208h0m0 193h0m1-308h0m0 245h0m0 13h0m1-362h0m0 36h0m0 33h0m0 79h0m1 83h0m0 65h0m1 50h0m1-103h0m0 102h0m2-104h0m1 15h0m0 74h0m1 15h0m0 61h0m1-401h0m0 120h0m0 202h0m1-351h0m0 73h0m0 213h0m1-290h0m0 179h0m0 120h0m1-310h0m0 153h0m1-8h0m1 268h0m1-345h0m0 61h0m0 18h0m1-110h0m2-29h0m0 13h0m1 205h0m2-136h0m0 67h0m0 70h0m0 84h0m0 49h0m1-52h0m1-279h0m0 308h0m0 41h0m1-292h0m0 349h0m0 2h0m1-426h0m0 36h0m0 191h0m1-176h0m1 29h0m0 313h0m2-382h0m0 34h0m0 354h0m0 19h0m1-363h0m0 265h0m1-83h0m0 26h0m0 40h0m1-212h0m1 92h0m1 79h0m0 53h0m3-147h0m0 17h0m2 73h0m0 25h0m1 34h0m1-108h0m0 204h0m1-131h0m1-83h0m1 148h0m1-243h0m0 8h0m0 279h0m1-60h0m1-265h0m0 48h0m1-61h0m1 252h0m1-90h0m0 1h0m0 104h0m0 26h0m1-193h0m0 52h0m1-23h0m1 71h0m1-163h0m2 110h0m1-33h0m0 221h0m1-282h0m0 36h0m0 106h0m1-191h0m0 216h0m2-178h0m0 77h0m0 25h0m0 63h0m1 105h0m1-307h0m0 288h0m1-211h0m0 63h0m0 109h0m1 70h0m1-219h0m1 1h0m0 105h0m1-6h0m1-80h0m2-76h0m2 180h0m0 12h0m1-31h0m2-68h0m0 138h0m1-184h0m0 19h0m1 75h0m0 36h0m0 11h0m2-54h0m0 57h0m1-174h0m1 74h0m1 61h0m0 61h0m0 31h0m1-194h0m1 165h0m0 21h0m1-79h0m1 28h0m2 25h0m4-147h0m0 35h0m1 124h0m2-8h0m2-107h0m0 6h0m0 81h0m1-133h0m1-18h0m0 96h0m5-48h0m0 5h0m0 1h0" stroke="#0b34a0" stroke-width="12.4" stroke-linecap="round"/>
<path transform="scale(.1)" d="M1636 707h0m3-60h0m3 91h0m23-18h0m3-117h0m14-10h0m8 369h0m2-349h0m3-85h0m7 252h0m1-184h0m1 192h0m1 59h0m9 24h0m5-78h0m2-41h0m12-79h0m24 292h0m7-170h0m5-80h0m1 39h0m1 217h0m22-223h0m3-207h0m6 48h0m1 136h0m9 1h0m10 46h0m1-103h0m7 158h0m2-28h0m13-205h0m2 183h0m1 112h0m6-162h0m46-27h0" stroke="#fff" stroke-width="11.2" stroke-linecap="round"/>
<path d="M190.30,71.50 C191.53,68.30 194.28,69.78 196.00,69.50 C197.72,69.22 199.27,68.60 200.60,69.80 C201.93,71.00 203.60,74.00 204.00,76.70 C204.40,79.40 204.00,83.30 203.00,86.00 C202.00,88.70 199.67,91.57 198.00,92.90 C196.33,94.23 194.57,94.70 193.00,94.00 C191.43,93.30 189.05,92.45 188.60,88.70 C188.15,84.95 189.07,74.70 190.30,71.50Z" fill="#cad4cb"/>
<path transform="scale(.1)" d="M1884 817h0m4 60h0m3-59h0m1-40h0m2 7h0m1-16h0m0 102h0m2-131h0m0 49h0m1 2h0m2-69h0m1 45h0m0 162h0m1-53h0m0 27h0m1-92h0m0 3h0m1 0h0m1-6h0m1 34h0m2-120h0m0 186h0m1-106h0m0 43h0m1-38h0m0 19h0m1-44h0m3 3h0m1 14h0m1-6h0m0 51h0m0 54h0m1-53h0m0 93h0m2-231h0m0 119h0m1 91h0m1-145h0m1 6h0m0 87h0m1-23h0m1 39h0m2-162h0m0 122h0m1-5h0m0 33h0m1-21h0m1-27h0m1-93h0m0 21h0m1 15h0m0 109h0m1-130h0m0 73h0m1-68h0m2-58h0m1 84h0m1 73h0m1-133h0m3 140h0m1-58h0m1-9h0m0 97h0m1 62h0m1-241h0m0 173h0m0 44h0m4-134h0m1-37h0m0 71h0m0 87h0m1-66h0m1-48h0m0 16h0m0 94h0m1-200h0m0 87h0m0 94h0m2 34h0m1-186h0m0 167h0m1-133h0m0 26h0m1-101h0m1 79h0m1 81h0m0 37h0m1-120h0m0 140h0m1-177h0m1 27h0m0 100h0m1-51h0m1 7h0m0 53h0m2-161h0m3 85h0m1 45h0m1-132h0m2 11h0m2 57h0m1 19h0m0 9h0m0 23h0m1 35h0m0 61h0m2-220h0m1-1h0m0 118h0m0 96h0m3-219h0m1 138h0m5-111h0m0 161h0m1-57h0m0 45h0m0 23h0m1-17h0m1-102h0m0 71h0m1-136h0m1 28h0m0 99h0m0 35h0m2-119h0m0 79h0m1-56h0m1 59h0m0 68h0m1-191h0m0 96h0m0 3h0m0 8h0m0 25h0m0 57h0m1-129h0m2 25h0m0 87h0m1-185h0m0 12h0m1 47h0m0 21h0m0 20h0m0 57h0m1-136h0m0 67h0m0 51h0m1-86h0m1-15h0m0 95h0m1-25h0m1-18h0m1-59h0m0 148h0m3 8h0m1-32h0m0 31h0m1-156h0m1 61h0m1-10h0m6 24h0m0 52h0m1-122h0m0 38h0m1-29h0m4 35h0m3-6h0m0 11h0m1-2h0m1 48h0m3-32h0m0 1h0" stroke="#0d3b12" stroke-width="12.4" stroke-linecap="round"/>
<path transform="scale(.1)" d="M1891 809h0m14 13h0m2 75h0m1-26h0m10-108h0m15-50h0m15 219h0m1-111h0m7-86h0m3 84h0m11 108h0m7-41h0m41-105h0" stroke="#fff" stroke-width="11.2" stroke-linecap="round"/>
<path d="M205.80,52.50 C206.30,51.67 209.13,51.00 210.00,51.50 C210.87,52.00 211.50,54.67 211.00,55.50 C210.50,56.33 207.87,57.00 207.00,56.50 C206.13,56.00 205.30,53.33 205.80,52.50Z" fill="#b5c3b7"/>
<path transform="scale(.1)" d="M2057 521h0m0 14h0m0 10h0m6-6h0m2-6h0m0 2h0m2-13h0m5 22h0m1 4h0m0 7h0m2-17h0m1 15h0m2-11h0m6-10h0m1 3h0m2 14h0m1-17h0m6 13h0m2 18h0m2-6h0m3-20h0m1 11h0m7 3h0m2-8h0" stroke="#0d3b12" stroke-width="12.4" stroke-linecap="round"/>
<path transform="scale(.1)" d="M2101 539h0" stroke="#fff" stroke-width="11.2" stroke-linecap="round"/>
<path d="M203.50,57.00 C204.25,55.42 206.08,55.00 206.00,56.50 C205.92,58.00 203.75,64.42 203.00,66.00 C202.25,67.58 201.42,67.50 201.50,66.00 C201.58,64.50 202.75,58.58 203.50,57.00Z" fill="#d1dad2"/>
<path transform="scale(.1)" d="M2022 650h0m7-23h0m8-9h0m1-31h0m1 6h0m0 26h0" stroke="#0d3b12" stroke-width="12.4" stroke-linecap="round"/>
</g>
<g id="a3">
<path d="M269.60,35.50 C269.77,32.83 273.70,31.58 276.00,30.00 C278.30,28.42 281.32,25.95 283.40,26.00 C285.48,26.05 287.90,27.13 288.50,30.30 C289.10,33.47 286.92,40.72 287.00,45.00 C287.08,49.28 290.50,53.83 289.00,56.00 C287.50,58.17 280.33,59.67 278.00,58.00 C275.67,56.33 276.40,49.75 275.00,46.00 C273.60,42.25 269.43,38.17 269.60,35.50Z" fill="#f6fdf6"/>
<path transform="scale(.1)" d="M2706 350h0m2 18h0m13-40h0m1 28h0m8 4h0m0 18h0m4-8h0m0 28h0m1-55h0m1 6h0m0 46h0m1-48h0m4 59h0m2-91h0m0 43h0m1-27h0m2 85h0m0 21h0m1-4h0m2-104h0m1 46h0m1 6h0m3 14h0m3-8h0m1-27h0m1 38h0m1-63h0m0 36h0m2-45h0m0 145h0m3-24h0m0 7h0m1-95h0m0 109h0m1-68h0m1-11h0m1 70h0m1-7h0m1-144h0m5 213h0m1-109h0m1-22h0m1 177h0m1-124h0m0 131h0m1-3h0m1-73h0m0 0h0m0 44h0m1-160h0m0 158h0m1-51h0m1-74h0m0 14h0m1 63h0m3-158h0m0 5h0m0 198h0m2-21h0m1-51h0m2-76h0m0 78h0m0 24h0m2 11h0m5-114h0m0 138h0m1-64h0m2-165h0m2 23h0m0 167h0m0 10h0m0 29h0m3-45h0m1-129h0m1 200h0m1-238h0m0 34h0m3-83h0m0 112h0m1 34h0m2-125h0m1-10h0m0 84h0m0 5h0m0 10h0m1 168h0m1-87h0m3-177h0m0 89h0m1 55h0m0 10h0m1-7h0m1-118h0m1-32h0m0 274h0m1-237h0m0 215h0m0 16h0m1 23h0m1 4h0m1 1h0m1-58h0m1-15h0m1-203h0m1 264h0m1-266h0m0 32h0m1 249h0m1-206h0m0 11h0m1-99h0m1 273h0m0 21h0m2-264h0m0 78h0m1 58h0m0 5h0m1 110h0m1-283h0m0 261h0m1-164h0m3 50h0m1 59h0m2-215h0m0 131h0m0 44h0m1 19h0m1-114h0m0 19h0m0 162h0m1-263h0m0 69h0m2-62h0m0 176h0m0 16h0m3-45h0m1-100h0m1 68h0m0 185h0m1-295h0m0 131h0m2-122h0m1 57h0m0 215h0m5-270h0m0 27h0m1-5h0m1 91h0m0 114h0m1-140h0m0 107h0m0 41h0m1 28h0m2-249h0m1 24h0m10 211h0" stroke="#c9f6c9" stroke-width="12.4" stroke-linecap="round"/>
<path transform="scale(.1)" d="M2738 375h0m1-61h0m25 104h0m17-130h0m21 109h0m15 168h0m7-107h0m16-173h0m1 113h0m8-5h0m31 104h0m3 58h0" stroke="#fff" stroke-width="11.2" stroke-linecap="round"/>
<path d="M286.00,30.00 C286.67,27.83 289.83,30.33 292.00,31.00 C294.17,31.67 297.00,31.67 299.00,34.00 C301.00,36.33 302.17,41.33 304.00,45.00 C305.83,48.67 309.67,53.50 310.00,56.00 C310.33,58.50 308.33,61.00 306.00,60.00 C303.67,59.00 299.00,52.67 296.00,50.00 C293.00,47.33 289.67,47.33 288.00,44.00 C286.33,40.67 285.33,32.17 286.00,30.00Z" fill="#d5dcef"/>
<path transform="scale(.1)" d="M2871 372h0m2-13h0m1-67h0m0 70h0m0 61h0m1-59h0m3 61h0m1-31h0m1-93h0m1 50h0m1 37h0m1-70h0m13 11h0m4 16h0m0 68h0m2-68h0m0 33h0m2-11h0m0 2h0m1-51h0m0 103h0m1-104h0m0 6h0m5-8h0m1 102h0m0 39h0m1-30h0m2-113h0m0 93h0m3-73h0m3 121h0m1-42h0m1-85h0m0 6h0m0 55h0m2-23h0m3-33h0m0 21h0m3 99h0m2-74h0m2 31h0m0 8h0m0 40h0m1-12h0m6-117h0m0 102h0m2 47h0m2-27h0m1-88h0m2 24h0m2 17h0m2 16h0m1-91h0m6 41h0m0 83h0m2-79h0m0 87h0m0 26h0m2-99h0m0 8h0m0 66h0m3-25h0m2-113h0m0 120h0m3 31h0m1-99h0m2-26h0m0 76h0m0 35h0m4-80h0m2 90h0m0 40h0m2-160h0m0 125h0m0 42h0m2-94h0m1-81h0m1 128h0m0 48h0m2-88h0m1-47h0m0 139h0m2-143h0m0 36h0m0 108h0m1-152h0m5 95h0m1-17h0m0 55h0m1-95h0m1 81h0m7 10h0m2-99h0m12 25h0m1 54h0m0 12h0m3 81h0m7-116h0m5 5h0m0 10h0m0 108h0m3-38h0m3-89h0m5 117h0m2-12h0m1-80h0m1-15h0m1 86h0m5 29h0m2-40h0m2-27h0m0 8h0m4 32h0m1-59h0m8 61h0m0 37h0m1-49h0m9 43h0m4-29h0m4-1h0m0 25h0" stroke="#0b34a0" stroke-width="12.4" stroke-linecap="round"/>
<path transform="scale(.1)" d="M2886 390h0m13 3h0m40-11h0m10 22h0m25 6h0m1-81h0m3 103h0m12-14h0m0 22h0" stroke="#fff" stroke-width="11.2" stroke-linecap="round"/>
<path d="M292.00,31.00 C293.17,29.50 297.00,29.83 299.00,31.00 C301.00,32.17 303.33,35.67 304.00,38.00 C304.67,40.33 304.17,43.67 303.00,45.00 C301.83,46.33 298.83,46.83 297.00,46.00 C295.17,45.17 292.83,42.50 292.00,40.00 C291.17,37.50 290.83,32.50 292.00,31.00Z" fill="#b9c5e4"/>
<path transform="scale(.1)" d="M2913 346h0m2 40h0m6-47h0m1-35h0m4 108h0m2-70h0m1 0h0m2-29h0m1 98h0m1-9h0m3-10h0m1 23h0m0 15h0m1-101h0m0 99h0m0 8h0m1-9h0m2-111h0m0 82h0m1 11h0m0 3h0m0 20h0m1-99h0m1 84h0m5-62h0m0 11h0m1 34h0m1-75h0m0 90h0m1-73h0m0 96h0m1-123h0m2 11h0m0 119h0m1-136h0m2 74h0m3-70h0m0 127h0m1-84h0m0 0h0m0 17h0m0 13h0m1 3h0m0 18h0m1-64h0m0 20h0m0 59h0m1-24h0m0 21h0m3-116h0m0 104h0m1 3h0m1-17h0m0 51h0m2-128h0m2 100h0m1-91h0m0 26h0m0 17h0m0 91h0m1-137h0m1-13h0m0 52h0m1-3h0m0 88h0m1-34h0m1-101h0m0 97h0m0 19h0m2 10h0m1-93h0m1-24h0m0 8h0m0 65h0m1-35h0m0 3h0m0 19h0m2-30h0m0 3h0m0 110h0m1-86h0m1-15h0m0 21h0m0 50h0m2-32h0m1-93h0m0 49h0m0 23h0m1-1h0m2-59h0m0 111h0m0 3h0m1-37h0m3-63h0m0 48h0m0 15h0m1 1h0m1 23h0m2-27h0m2-68h0m1 87h0m1-50h0m0 3h0m0 60h0m0 3h0m3-82h0m0 86h0m0 14h0m1-49h0m0 40h0m0 5h0m2-88h0m1-18h0m0 80h0m2-76h0m0 5h0m0 98h0m1-41h0m5 52h0m1-64h0m0 19h0m1-35h0m0 57h0m1 6h0m1 2h0m0 8h0m1-33h0m0 17h0m1 4h0m0 15h0m1-61h0m0 3h0m4 8h0m1-41h0m0 58h0m2 8h0m3-9h0m3-19h0" stroke="#0b34a0" stroke-width="12.4" stroke-linecap="round"/>
<path transform="scale(.1)" d="M2916 372h0m28-18h0m0 69h0m14-88h0m12 26h0m4 40h0m4-59h0m13 31h0m20-16h0m11 19h0m17 50h0" stroke="#fff" stroke-width="11.2" stroke-linecap="round"/>
<path d="M283.00,62.00 C285.67,60.83 295.17,62.33 300.00,63.00 C304.83,63.67 308.33,64.50 312.00,66.00 C315.67,67.50 319.67,69.33 322.00,72.00 C324.33,74.67 326.33,77.33 326.00,82.00 C325.67,86.67 323.50,96.33 320.00,100.00 C316.50,103.67 310.00,103.50 305.00,104.00 C300.00,104.50 294.50,103.67 290.00,103.00 C285.50,102.33 281.67,101.67 278.00,100.00 C274.33,98.33 270.67,95.33 268.00,93.00 C265.33,90.67 261.33,87.50 262.00,86.00 C262.67,84.50 268.67,85.00 272.00,84.00 C275.33,83.00 280.00,82.33 282.00,80.00 C284.00,77.67 283.83,73.00 284.00,70.00 C284.17,67.00 280.33,63.17 283.00,62.00Z" fill="#cfd7ec"/>
<path transform="scale(.1)" d="M2624 863h0m0 6h0m12 3h0m14-20h0m2 24h0m5 16h0m9-48h0m2 13h0m4 12h0m1 14h0m1 13h0m16-41h0m0 63h0m1-22h0m0 37h0m8-32h0m4 40h0m4-20h0m0 26h0m3-46h0m2-23h0m1 62h0m1-102h0m0 73h0m5-67h0m1 36h0m1 2h0m2-38h0m7 107h0m3 9h0m1-57h0m3-50h0m1 7h0m3 74h0m0 7h0m1 29h0m5-44h0m3-82h0m0 83h0m2-4h0m1 47h0m1-77h0m0 40h0m2-86h0m0 27h0m2 60h0m1-90h0m0 42h0m1 13h0m2-5h0m0 53h0m2-85h0m5 109h0m1-39h0m0 7h0m2-105h0m3 26h0m0 93h0m1-128h0m1 139h0m1-1h0m1-111h0m0 5h0m0 123h0m1-140h0m0 50h0m3-20h0m0 87h0m1-53h0m4-60h0m0 96h0m1-110h0m4 65h0m0 14h0m1-82h0m2 57h0m0 45h0m0 50h0m1-148h0m2-14h0m2 76h0m0 21h0m1-97h0m0 153h0m1-46h0m0 27h0m1-85h0m2 66h0m2-58h0m1-34h0m2-5h0m0 114h0m0 8h0m1-24h0m1-89h0m0 164h0m1-61h0m1-108h0m0 113h0m1 29h0m0 6h0m4-49h0m0 27h0m1-108h0m2-210h0m0 202h0m0 28h0m1 7h0m1 21h0m0 23h0m0 44h0m1-154h0m1-188h0m0 190h0m0 85h0m2-17h0m0 87h0m1-8h0m1-325h0m0 162h0m0 73h0m1-74h0m1 41h0m1 119h0m0 34h0m3-202h0m0 2h0m1 15h0m0 82h0m1-255h0m0 13h0m1-34h0m0 286h0m0 53h0m2-319h0m0 44h0m0 295h0m1-169h0m1-74h0m1 81h0m3-48h0m0 79h0m0 14h0m0 46h0m1-288h0m0 96h0m0 8h0m1 9h0m1 35h0m0 170h0m0 49h0m1-59h0m0 63h0m1-209h0m0 223h0m1-197h0m0 25h0m0 111h0m0 1h0m1-311h0m0 180h0m0 25h0m0 148h0m1-244h0m0 67h0m2-188h0m0 105h0m0 119h0m1 10h0m0 53h0m0 10h0m0 1h0m0 41h0m0 12h0m1-94h0m0 120h0m0 19h0m2-339h0m0 284h0m1-337h0m1 32h0m0 123h0m0 59h0m0 84h0m0 71h0m2-294h0m0 276h0m0 16h0m1-362h0m0 127h0m1-89h0m0 146h0m1 126h0m1-186h0m1 75h0m1 14h0m0 94h0m1-241h0m0 266h0m1 44h0m3-305h0m0 12h0m0 41h0m0 199h0m0 24h0m1-281h0m0 69h0m1 217h0m3-325h0m0 105h0m0 130h0m0 80h0m0 22h0m1-193h0m0 205h0m1-225h0m0 214h0m2-48h0m0 21h0m0 12h0m1-156h0m1-190h0m0 59h0m0 139h0m1 67h0m0 98h0m1-306h0m0 20h0m0 75h0m0 51h0m2 29h0m0 13h0m0 38h0m1-14h0m0 110h0m1-69h0m1-119h0m1-133h0m0 273h0m1-185h0m1-97h0m0 331h0m1-239h0m0 194h0m0 30h0m1-351h0m0 231h0m1 42h0m2-259h0m0 193h0m1 70h0m1 59h0m2-205h0m0 129h0m1-195h0m1-71h0m0 93h0m1-8h0m0 257h0m2-145h0m0 27h0m0 151h0m1-384h0m0 40h0m0 82h0m2-38h0m0 280h0m2-161h0m0 147h0m0 5h0m0 14h0m0 19h0m1-79h0m0 45h0m0 11h0m1-333h0m0 305h0m1 30h0m0 3h0m1-217h0m1-104h0m0 147h0m0 5h0m0 84h0m0 90h0m1-127h0m2-45h0m1-203h0m0 96h0m0 18h0m0 50h0m1-29h0m0 25h0m1 100h0m2-130h0m1-110h0m0 102h0m0 139h0m2-211h0m0 86h0m1 213h0m1-216h0m0 241h0m1-100h0m0 124h0m2-201h0m1 13h0m0 177h0m1-280h0m0 63h0m0 71h0m1-157h0m0 68h0m1-147h0m0 287h0m0 57h0m1-86h0m3-97h0m0 14h0m0 16h0m1-144h0m0 236h0m3-65h0m0 163h0m1-390h0m0 175h0m0 12h0m2-125h0m1-49h0m1 157h0m0 29h0m1 108h0m2-276h0m0 140h0m1-31h0m0 147h0m0 46h0m0 16h0m1-235h0m2-17h0m0 182h0m1-197h0m0 238h0m1-278h0m0 212h0m1-241h0m0 172h0m0 34h0m0 123h0m0 59h0m0 16h0m2-387h0m1 183h0m0 112h0m0 71h0m1-50h0m1-323h0m0 5h0m0 173h0m0 47h0m0 114h0m0 40h0m1-266h0m0 138h0m0 91h0m1-205h0m3 23h0m0 55h0m3-122h0m1 204h0m1-273h0m0 91h0m0 144h0m0 111h0m1-76h0m2-300h0m0 81h0m0 206h0m0 33h0m1 33h0m1-225h0m0 179h0m0 46h0m1-121h0m1-206h0m0 334h0m1-235h0m0 120h0m1-15h0m0 111h0m1 16h0m1-232h0m0 97h0m2 8h0m1-237h0m0 80h0m0 249h0m1-239h0m1 243h0m2-244h0m0 25h0m0 124h0m1-223h0m0 116h0m0 1h0m0 98h0m0 30h0m0 118h0m1-288h0m1 94h0m0 133h0m1-233h0m1 295h0m1-235h0m0 33h0m0 1h0m0 105h0m1 40h0m1-325h0m0 166h0m1 84h0m1-125h0m0 1h0m1-39h0m0 42h0m1-7h0m1 29h0m2-154h0m1 229h0m1-197h0m2 80h0m1-88h0m0 60h0m2 10h0m1 186h0m0 118h0m1-58h0m0 30h0m1-104h0m0 11h0m0 49h0m1-252h0m0 84h0m1-127h0m1-28h0m0 397h0m2-152h0m0 153h0m1-350h0m0 35h0m1 38h0m2-40h0m0 261h0m2-201h0m0 131h0m0 125h0m1-332h0m1 284h0m1-218h0m2-84h0m0 151h0m0 78h0m0 4h0m0 62h0m1-181h0m0 94h0m0 85h0m0 66h0m1-387h0m1 140h0m0 205h0m0 7h0m1-362h0m0 172h0m2-28h0m0 209h0m3-28h0m2-183h0m1-143h0m0 143h0m1 50h0m1-33h0m1-77h0m0 105h0m1-104h0m0 60h0m0 167h0m1 55h0m1-315h0m0 305h0m0 26h0m2-194h0m0 100h0m0 26h0m0 41h0m1-266h0m0 14h0m0 98h0m0 63h0m0 59h0m1-254h0m0 92h0m1-152h0m0 45h0m0 112h0m0 17h0m2 12h0m0 75h0m1-72h0m1-168h0m1 39h0m0 193h0m0 45h0m0 54h0m1-245h0m0 69h0m0 121h0m1-256h0m0 29h0m0 13h0m0 206h0m1-154h0m0 108h0m0 74h0m1-134h0m0 150h0m1-250h0m1 138h0m0 23h0m1-228h0m0 84h0m0 152h0m0 46h0m3-231h0m1-54h0m0 177h0m0 189h0m1-354h0m0 9h0m0 17h0m0 132h0m0 68h0m1-205h0m1 2h0m0 157h0m1-186h0m0 33h0m0 317h0m1-300h0m1 276h0m1-212h0m0 77h0m0 119h0m1-184h0m0 20h0m0 215h0m1-360h0m0 144h0m0 15h0m1-116h0m0 298h0m1-356h0m0 178h0m1-113h0m0 108h0m1-171h0m0 76h0m1 24h0m1 207h0m1-216h0m0 3h0m1 48h0m0 28h0m1-52h0m0 166h0m1-169h0m0 30h0m1-109h0m0 49h0m0 43h0m1 5h0m1 110h0m0 98h0m1-306h0m0 65h0m1 4h0m0 10h0m1-30h0m0 53h0m0 197h0m0 25h0m1-267h0m0 84h0m0 35h0m0 25h0m0 72h0m1-277h0m0 324h0m1-34h0m1-303h0m1 302h0m1-156h0m0 112h0m1-233h0m1 290h0m1-312h0m0 61h0m1-22h0m0 284h0m2-114h0m0 74h0m0 16h0m1-306h0m0 151h0m0 98h0m1-242h0m1 35h0m1 147h0m0 34h0m1 109h0m1-243h0m0 123h0m1-183h0m1 99h0m0 18h0m0 17h0m4-58h0m0 65h0m1 179h0m1-239h0m0 1h0m1 24h0m0 131h0m0 88h0m2-352h0m2 191h0m0 133h0m2-86h0m0 77h0m2-323h0m0 83h0m0 70h0m1-22h0m1-96h0m0 175h0m2-180h0m0 11h0m0 69h0m0 23h0m1 190h0m1 2h0m2-18h0m0 42h0m2-213h0m0 156h0m2-278h0m0 10h0m0 312h0m2-237h0m0 104h0m1 25h0m2-213h0m1 120h0m0 109h0m1-73h0m1 34h0m0 20h0m1 66h0m0 31h0m1-106h0m1-188h0m0 7h0m0 94h0m0 163h0m1-211h0m0 164h0m1-177h0m0 228h0m1-195h0m1-24h0m0 206h0m0 23h0m1-108h0m2-86h0m1 20h0m0 73h0m1-132h0m0 35h0m0 54h0m0 144h0m1-107h0m1-124h0m1 246h0m1-188h0m2-59h0m0 86h0m0 20h0m1-26h0m3 119h0m0 33h0m2-188h0m0 174h0m1-205h0m4 87h0m1-141h0m1 194h0m0 67h0m1-124h0m1-22h0m0 23h0m0 107h0m2-169h0m0 14h0m1-58h0m0 201h0m1-144h0m0 19h0m0 201h0m1-61h0m1-180h0m0 112h0m2 69h0m2-195h0m0 101h0m0 16h0m3 22h0m0 39h0m2-210h0m0 31h0m0 169h0m1 20h0m1-146h0m0 96h0m0 58h0m1-173h0m2 7h0m1 23h0m0 51h0m0 108h0m1-241h0m0 61h0m1-70h0m0 85h0m1-71h0m2 116h0m2-78h0m0 87h0m0 21h0m1-105h0m0 5h0m1-18h0m0 1h0m0 17h0m1 146h0m3-113h0m1 4h0m0 45h0m0 22h0m2-140h0m0 105h0m0 89h0m2-162h0m2 97h0m2-133h0m0 11h0m2 114h0m2-9h0m0 35h0m0 28h0m1-113h0m1-21h0m0 70h0m0 27h0m8-19h0m1-86h0m3 77h0" stroke="#0b34a0" stroke-width="12.4" stroke-linecap="round"/>
<path transform="scale(.1)" d="M2681 903h0m6-30h0m44 33h0m22 77h0m21 12h0m29 14h0m26-376h0m7 229h0m6-74h0m3-136h0m1 284h0m11 7h0m21-114h0m1-101h0m3 198h0m13 80h0m1-255h0m1 192h0m9-179h0m2 127h0m4 42h0m2 23h0m10-44h0m13-207h0m7 71h0m1-59h0m7 152h0m2 168h0m1-273h0m35 6h0m9-58h0m1 206h0m22-67h0m15 118h0m1-106h0m0 30h0m1 98h0m12-287h0m6 60h0m2-12h0m4 86h0m3-122h0m1 217h0m6-43h0m3 51h0m1 55h0m20-331h0m0 68h0m6 100h0m11 51h0m3-57h0m11-150h0m3 105h0m30-18h0m0 227h0m4-28h0m2-20h0m28 43h0m6-127h0m7-23h0m15 32h0m31-68h0" stroke="#fff" stroke-width="11.2" stroke-linecap="round"/>
<path d="M262.00,86.00 C262.00,84.33 265.83,80.33 268.00,78.00 C270.17,75.67 272.50,74.00 275.00,72.00 C277.50,70.00 281.17,68.00 283.00,66.00 C284.83,64.00 285.83,58.50 286.00,60.00 C286.17,61.50 285.67,71.33 284.00,75.00 C282.33,78.67 278.67,79.83 276.00,82.00 C273.33,84.17 270.33,87.33 268.00,88.00 C265.67,88.67 262.00,87.67 262.00,86.00Z" fill="#e3e8f4"/>
<path transform="scale(.1)" d="M2647 853h0m1-21h0m0 33h0m3 8h0m6-67h0m0 7h0m0 50h0m19 1h0m4-94h0m2 96h0m6-66h0m0 43h0m9-41h0m6-19h0m1-31h0m1 32h0m5 63h0m13-55h0m1-41h0m1 68h0m1-58h0m2-8h0m6 52h0m9-23h0m11-57h0m0 9h0m5 11h0m12 19h0m1 35h0m2-78h0m0 38h0m2 40h0m7-22h0m11 16h0m8-75h0m6 29h0m0 2h0m5-29h0m15 19h0m0 19h0m5-86h0m13-31h0m0 2h0m5 18h0m6-31h0" stroke="#0b34a0" stroke-width="12.4" stroke-linecap="round"/>
<path transform="scale(.1)" d="M2676 850h0m3-34h0m108-78h0" stroke="#fff" stroke-width="11.2" stroke-linecap="round"/>
<path d="M286.00,52.00 C286.67,50.58 290.67,50.50 293.00,50.50 C295.33,50.50 297.67,50.75 300.00,52.00 C302.33,53.25 305.67,56.17 307.00,58.00 C308.33,59.83 309.33,62.00 308.00,63.00 C306.67,64.00 302.17,64.67 299.00,64.00 C295.83,63.33 291.17,61.00 289.00,59.00 C286.83,57.00 285.33,53.42 286.00,52.00Z" fill="#cfeeda"/>
<path transform="scale(.1)" d="M2851 523h0m14-6h0m1 34h0m1-37h0m1 14h0m2 10h0m4 19h0m3-4h0m6-21h0m6 28h0m5-6h0m2 35h0m1-45h0m2-14h0m3 6h0m0 51h0m0 15h0m2-10h0m1-62h0m2 24h0m2-30h0m2 72h0m2-57h0m2-5h0m2-7h0m3-29h0m2 88h0m0 21h0m1-11h0m0 1h0m1-48h0m3 31h0m7-30h0m0 30h0m4 4h0m1 13h0m3-57h0m0 26h0m0 5h0m1 40h0m3-53h0m0 4h0m1 42h0m1-34h0m1-43h0m2 39h0m1 61h0m1-52h0m1-51h0m0 89h0m1 12h0m4-77h0m1-8h0m0 7h0m2 8h0m1 49h0m1-36h0m7 49h0m1-67h0m8-15h0m0 1h0m1 98h0m1-86h0m0 17h0m3 34h0m1-59h0m0 26h0m4 3h0m0 17h0m3-34h0m0 41h0m0 17h0m1-43h0m1 20h0m5-63h0m4 98h0m2-87h0m1 9h0m0 40h0m1-40h0m3 20h0m2 66h0m0 4h0m4-59h0m1 43h0m1-86h0m0 18h0m0 39h0m2 10h0m3 38h0m4-37h0m3 13h0m1-5h0m2-36h0m0 62h0m1-38h0m1-49h0m0 39h0m1 48h0m1 5h0m1-88h0m0 25h0m0 34h0m0 7h0m1-56h0m0 50h0m1 18h0m1-80h0m0 70h0m2 20h0m1-12h0m1-31h0m0 10h0m1 24h0m5 1h0m3 2h0m1-8h0m8-3h0m3-7h0m1-15h0m5-3h0m0 30h0" stroke="#33b864" stroke-width="12.4" stroke-linecap="round"/>
<path transform="scale(.1)" d="M2921 512h0m15 12h0m7 91h0m20-100h0m1 28h0m20-25h0m35 52h0m24 62h0m14-26h0" stroke="#fff" stroke-width="11.2" stroke-linecap="round"/>
<path d="M311.00,74.00 C312.17,71.33 314.17,72.33 316.00,72.00 C317.83,71.67 320.17,71.33 322.00,72.00 C323.83,72.67 325.50,74.33 327.00,76.00 C328.50,77.67 330.50,78.67 331.00,82.00 C331.50,85.33 331.50,92.33 330.00,96.00 C328.50,99.67 324.83,103.33 322.00,104.00 C319.17,104.67 315.17,102.67 313.00,100.00 C310.83,97.33 309.33,92.33 309.00,88.00 C308.67,83.67 309.83,76.67 311.00,74.00Z" fill="#caedd7"/>
<path transform="scale(.1)" d="M3090 863h0m1-30h0m1 17h0m5-25h0m0 6h0m0 41h0m3-72h0m0 21h0m0 79h0m1-110h0m0 113h0m2 23h0m2-102h0m0 22h0m0 35h0m0 7h0m1-59h0m0 48h0m0 50h0m3-74h0m0 73h0m1-149h0m0 138h0m0 10h0m1-156h0m0 146h0m1-15h0m1-155h0m0 38h0m0 109h0m1-109h0m0 61h0m1 65h0m1-121h0m1-57h0m0 35h0m0 136h0m1 59h0m1-200h0m0 60h0m0 61h0m0 34h0m1 28h0m1-90h0m0 1h0m0 9h0m0 13h0m1-15h0m0 25h0m0 21h0m1-16h0m0 87h0m1-159h0m3-20h0m0 62h0m1 70h0m0 66h0m2-204h0m0 125h0m0 41h0m1-34h0m0 26h0m1-132h0m0 72h0m2-137h0m0 78h0m0 35h0m1 78h0m0 32h0m1-30h0m1-180h0m0 10h0m0 23h0m0 122h0m0 56h0m1-193h0m0 39h0m0 26h0m0 53h0m1-74h0m1-42h0m1-47h0m0 98h0m0 89h0m1-124h0m1-38h0m0 30h0m0 66h0m1-135h0m0 234h0m0 10h0m1-155h0m0 81h0m3-101h0m0 35h0m0 39h0m0 15h0m1 113h0m2-269h0m0 84h0m0 51h0m2-71h0m0 227h0m1-252h0m0 31h0m0 14h0m0 31h0m0 9h0m0 21h0m0 56h0m0 8h0m1 42h0m1-228h0m0 61h0m0 74h0m2-120h0m0 80h0m1 12h0m1-7h0m0 68h0m0 42h0m2-175h0m0 36h0m1 113h0m0 15h0m0 45h0m0 1h0m0 10h0m1-220h0m0 80h0m0 119h0m1-117h0m0 97h0m1-250h0m0 14h0m0 53h0m0 50h0m0 21h0m0 110h0m1-189h0m0 202h0m1-126h0m0 73h0m1-138h0m0 14h0m1-57h0m0 15h0m0 246h0m1-178h0m0 55h0m0 104h0m1-96h0m0 92h0m1-135h0m0 36h0m0 74h0m2-124h0m0 6h0m0 6h0m1-123h0m1 119h0m1 74h0m0 80h0m1-178h0m0 111h0m1-6h0m0 64h0m1-259h0m0 101h0m0 85h0m0 11h0m0 2h0m0 35h0m0 4h0m0 44h0m1-88h0m1-1h0m0 3h0m0 19h0m0 21h0m0 15h0m1-97h0m0 42h0m1-84h0m0 50h0m0 135h0m1-309h0m0 119h0m1-44h0m0 86h0m1-141h0m0 144h0m0 6h0m0 23h0m0 77h0m1-203h0m0 209h0m2-252h0m0 20h0m0 65h0m0 7h0m0 32h0m0 50h0m1-51h0m1-10h0m0 106h0m1-22h0m0 51h0m1-214h0m0 29h0m0 25h0m1 17h0m0 131h0m2-178h0m0 24h0m1-78h0m0 9h0m0 80h0m0 74h0m0 80h0m0 42h0m1-167h0m0 58h0m1-193h0m0 103h0m0 161h0m0 16h0m1-256h0m0 34h0m0 247h0m1-225h0m0 158h0m1-22h0m0 66h0m1 10h0m0 19h0m2-123h0m1-164h0m0 143h0m1 46h0m0 63h0m1 22h0m2-191h0m0 120h0m0 87h0m1-283h0m0 40h0m0 21h0m1 126h0m1-158h0m0 12h0m2 43h0m0 2h0m1 48h0m1-50h0m1 27h0m0 45h0m0 14h0m0 57h0m0 27h0m2-87h0m0 56h0m1-67h0m1-177h0m0 226h0m1-214h0m0 27h0m0 236h0m0 10h0m1-273h0m0 3h0m0 14h0m0 177h0m0 10h0m0 78h0m1-222h0m0 87h0m0 19h0m0 33h0m1-98h0m1 64h0m0 115h0m2-189h0m1-52h0m0 13h0m1-37h0m0 173h0m0 14h0m1-194h0m0 139h0m1-89h0m0 101h0m0 66h0m1-131h0m1 143h0m1-112h0m0 138h0m1-241h0m0 160h0m1-78h0m0 133h0m1-182h0m0 155h0m1 27h0m1-244h0m0 232h0m1-84h0m1-111h0m0 141h0m0 45h0m0 60h0m1-223h0m0 220h0m1-238h0m0 218h0m1-8h0m1-165h0m0 9h0m0 52h0m1-94h0m1-52h0m0 230h0m1-142h0m2-43h0m1 80h0m1 148h0m1-121h0m0 89h0m2-227h0m1 143h0m1-3h0m1-133h0m0 129h0m0 7h0m0 94h0m1-178h0m0 81h0m0 110h0m1-107h0m0 32h0m0 79h0m1-213h0m1 9h0m0 60h0m0 137h0m2-65h0m1-157h0m2-7h0m0 204h0m0 11h0m1-222h0m2 110h0m0 2h0m0 18h0m1-130h0m1 22h0m0 74h0m0 129h0m1-169h0m0 114h0m0 39h0m1-161h0m0 81h0m1-6h0m0 12h0m4-93h0m0 47h0m0 59h0m0 7h0m0 45h0m1-157h0m0 26h0m0 131h0m1-144h0m4 147h0m1-92h0m0 6h0m1-39h0m0 81h0m1-135h0m0 172h0m1-135h0m0 56h0m2 17h0m0 33h0m1-56h0m0 2h0m1-87h0m1 12h0m1-2h0m0 109h0m0 19h0m1-21h0m5 12h0m1-82h0m0 40h0m0 9h0m1-69h0m3 3h0m0 0h0m3 128h0" stroke="#33b864" stroke-width="12.4" stroke-linecap="round"/>
<path transform="scale(.1)" d="M3095 883h0m13-127h0m1 51h0m19 87h0m4 55h0m1-43h0m3-29h0m3 120h0m1-159h0m7 74h0m18-2h0m6-131h0m1 14h0m21 190h0m28-189h0m0 24h0m6 168h0m1-188h0m0 30h0m5 49h0m2 36h0m9 104h0m1-113h0m5-119h0m1 36h0m3 176h0m10-117h0m7 61h0m4-112h0m2-40h0m7 41h0m3 100h0" stroke="#fff" stroke-width="11.2" stroke-linecap="round"/>
<path d="M242.20,83.60 C243.62,82.30 247.55,80.25 250.70,80.10 C253.85,79.95 259.67,81.27 261.10,82.70 C262.53,84.13 261.32,87.42 259.30,88.70 C257.28,89.98 251.85,90.53 249.00,90.40 C246.15,90.27 243.33,89.03 242.20,87.90 C241.07,86.77 240.78,84.90 242.20,83.60Z" fill="#b1c0b2"/>
<path transform="scale(.1)" d="M2416 860h0m0 14h0m5-7h0m5-4h0m0 21h0m7-16h0m0 13h0m2-31h0m0 6h0m0 34h0m2-18h0m1-24h0m0 5h0m1-21h0m0 24h0m0 27h0m1-2h0m1-24h0m2 9h0m3 23h0m3-63h0m4-7h0m0 44h0m2 7h0m2-60h0m0 68h0m1-23h0m1-29h0m0 43h0m1-22h0m0 2h0m5-20h0m0 2h0m0 60h0m1-61h0m1 27h0m1-6h0m1-14h0m2-10h0m1 48h0m2-10h0m1-16h0m1 4h0m2-25h0m0 62h0m1-20h0m0 25h0m1 7h0m2-37h0m0 1h0m2-33h0m0 33h0m0 4h0m0 11h0m1-24h0m1 15h0m0 29h0m1-86h0m0 47h0m0 29h0m2-16h0m3-37h0m0 6h0m1-35h0m0 8h0m1 19h0m1 14h0m1-45h0m0 52h0m0 36h0m1-48h0m0 19h0m0 4h0m1 28h0m1-81h0m0 77h0m1-36h0m0 21h0m0 3h0m0 24h0m2-82h0m1-25h0m0 24h0m2-16h0m0 37h0m1 27h0m1-53h0m1-16h0m0 20h0m2 75h0m1-77h0m0 15h0m1-30h0m0 89h0m2-77h0m0 8h0m1 35h0m1 11h0m0 30h0m2-16h0m2-76h0m1 16h0m0 59h0m2-77h0m0 0h0m1 89h0m1-10h0m1-68h0m1 6h0m0 32h0m1 45h0m1-14h0m0 11h0m3-71h0m0 19h0m0 1h0m1 1h0m1-26h0m3 31h0m0 45h0m1-86h0m1 4h0m1-6h0m0 28h0m2-28h0m0 7h0m0 8h0m0 14h0m0 7h0m0 27h0m0 10h0m1-34h0m1-36h0m0 54h0m0 2h0m1 20h0m1-70h0m1 11h0m0 12h0m4-12h0m0 59h0m1-26h0m2-21h0m1 10h0m1 44h0m1-21h0m2-55h0m0 21h0m0 9h0m0 40h0m1-17h0m3-38h0m0 6h0m1 12h0m0 21h0m1-47h0m0 58h0m1-16h0m1-32h0m0 16h0m1-35h0m1 6h0m0 71h0m1-64h0m1 39h0m1-40h0m2 3h0m0 10h0m0 44h0m1-62h0m0 20h0m0 22h0m1-28h0m0 7h0m0 13h0m0 26h0m1-67h0m0 22h0m0 35h0m1-49h0m0 12h0m0 17h0m3 27h0m1-19h0m2-1h0m0 0h0m2-14h0m2-33h0m3 17h0m0 35h0m1-5h0m1 1h0m0 15h0m0 9h0m1-58h0m4 27h0m1 29h0m2-9h0m1-21h0m3-6h0m2 25h0m1-10h0" stroke="#0d3b12" stroke-width="12.4" stroke-linecap="round"/>
<path transform="scale(.1)" d="M2424 851h0m9 27h0m12-11h0m29-29h0m1 55h0m22-79h0m6 45h0m29 13h0m18-17h0m2 4h0m5-1h0m14-35h0m3 50h0m6 15h0m1-23h0m9 15h0" stroke="#fff" stroke-width="11.2" stroke-linecap="round"/>
<path d="M250.70,63.00 C252.85,61.57 261.92,59.78 264.50,61.20 C267.08,62.62 266.48,68.63 266.20,71.50 C265.92,74.37 264.80,77.25 262.80,78.40 C260.80,79.55 256.07,79.83 254.20,78.40 C252.33,76.97 252.18,72.37 251.60,69.80 C251.02,67.23 248.55,64.43 250.70,63.00Z" fill="#f0fde5"/>
<path transform="scale(.1)" d="M2505 647h0m0 14h0m23 18h0m3 62h0m1-24h0m2-17h0m3 29h0m8 27h0m1-107h0m7 73h0m0 13h0m1-103h0m0 109h0m3 44h0m2-45h0m4 49h0m1 5h0m4-33h0m10-91h0m1 116h0m8-70h0m0 46h0m1-11h0m6 43h0m2-2h0m4-42h0m2-87h0m1-8h0m2 6h0m1-59h0m1 59h0m4 36h0m7-90h0m3 4h0m0 170h0m2-1h0m1-102h0m2-26h0m3 124h0m3-109h0m5-39h0m0 1h0m3 3h0m3 65h0m0 68h0m3-134h0m1 68h0m4 28h0m1 10h0m6-40h0m3 27h0m3-21h0" stroke="#8ff03c" stroke-width="12.4" stroke-linecap="round"/>
<path transform="scale(.1)" d="M2559 624h0m28 123h0m28 19h0m18 12h0" stroke="#fff" stroke-width="11.2" stroke-linecap="round"/>
<path d="M274.80,70.00 C275.33,69.58 277.67,69.25 278.20,69.50 C278.73,69.75 278.53,71.08 278.00,71.50 C277.47,71.92 275.53,72.25 275.00,72.00 C274.47,71.75 274.27,70.42 274.80,70.00Z" fill="#bdddfa"/>
<path transform="scale(.1)" d="M2742 717h0m1 0h0m2-19h0m7 10h0m13-5h0m6 8h0m1-7h0m0 12h0m2-1h0m1 6h0m4-14h0" stroke="#3d9cf0" stroke-width="12.4" stroke-linecap="round"/>
</g>
<g id="a4">
<path d="M398.00,45.00 C400.50,41.50 405.50,42.33 410.00,41.00 C414.50,39.67 421.00,36.83 425.00,37.00 C429.00,37.17 431.50,39.50 434.00,42.00 C436.50,44.50 437.83,48.67 440.00,52.00 C442.17,55.33 445.00,58.33 447.00,62.00 C449.00,65.67 451.50,70.00 452.00,74.00 C452.50,78.00 452.00,83.50 450.00,86.00 C448.00,88.50 444.17,88.67 440.00,89.00 C435.83,89.33 430.00,88.83 425.00,88.00 C420.00,87.17 414.33,86.17 410.00,84.00 C405.67,81.83 401.50,78.67 399.00,75.00 C396.50,71.33 395.17,67.00 395.00,62.00 C394.83,57.00 395.50,48.50 398.00,45.00Z" fill="#f7fef7"/>
<path transform="scale(.1)" d="M3945 586h0m9-10h0m5-53h0m4-9h0m0 51h0m1-49h0m0 34h0m1 73h0m2-30h0m2-57h0m1-36h0m1 21h0m3 108h0m1-168h0m3 209h0m2 26h0m2-242h0m0 223h0m1-98h0m1 113h0m1-203h0m0 160h0m1 90h0m1-285h0m0 264h0m1-219h0m1 97h0m1-134h0m0 147h0m1 27h0m1 104h0m1-295h0m0 106h0m0 119h0m3-57h0m3-24h0m0 164h0m1-68h0m0 21h0m4-261h0m0 299h0m1-235h0m1 261h0m1-142h0m1 46h0m0 95h0m2-81h0m0 8h0m2 7h0m3-258h0m0 258h0m2-232h0m0 178h0m2 96h0m1-105h0m1-67h0m1-85h0m0 227h0m1-63h0m1-193h0m1 146h0m1 62h0m0 46h0m1-90h0m0 141h0m2-196h0m1-109h0m1 124h0m1 39h0m0 103h0m1-172h0m1-103h0m1 49h0m1 194h0m2-190h0m1 130h0m1 85h0m0 52h0m1-147h0m1 30h0m2-120h0m0 57h0m0 180h0m1 12h0m1-168h0m1-198h0m0 34h0m0 100h0m1-127h0m1 146h0m0 37h0m1 101h0m1-175h0m0 87h0m1-11h0m0 183h0m1 9h0m1-106h0m0 109h0m2-64h0m1-265h0m0 8h0m0 38h0m0 276h0m0 6h0m1-3h0m2-147h0m1 19h0m0 54h0m2-287h0m0 187h0m1-2h0m2-87h0m1 211h0m1-1h0m1-132h0m1-31h0m4-92h0m1 4h0m0 32h0m0 131h0m0 167h0m1-338h0m1-24h0m5 160h0m1-120h0m0 132h0m0 185h0m1-339h0m2-15h0m0 78h0m0 211h0m2-88h0m0 111h0m0 31h0m1-387h0m1 158h0m0 41h0m1-111h0m3-78h0m0 377h0m0 26h0m1-412h0m1 213h0m4-110h0m0 47h0m1 168h0m1-142h0m0 163h0m2-302h0m1 88h0m1-105h0m0 391h0m1-416h0m0 315h0m1-146h0m1 38h0m0 193h0m3-144h0m1-25h0m0 72h0m0 96h0m0 9h0m0 12h0m1-378h0m1-40h0m0 132h0m0 9h0m1-148h0m0 144h0m1-82h0m1 192h0m0 67h0m2 59h0m0 22h0m1-340h0m0 57h0m0 133h0m0 8h0m1-137h0m0 185h0m0 80h0m1-310h0m0 77h0m1 133h0m2 37h0m0 95h0m2-421h0m1 432h0m1-186h0m0 36h0m1-267h0m0 101h0m0 4h0m2 21h0m0 136h0m0 155h0m1-150h0m2-189h0m0 157h0m0 33h0m3-256h0m3 270h0m0 95h0m1-196h0m0 12h0m0 38h0m4-174h0m0 343h0m2-243h0m0 53h0m1-31h0m0 62h0m0 76h0m0 90h0m1-114h0m1-46h0m1-214h0m0 259h0m0 2h0m0 57h0m1-261h0m0 40h0m0 203h0m1-122h0m0 21h0m1-25h0m0 109h0m5-339h0m0 261h0m0 120h0m0 34h0m0 3h0m1 28h0m2-89h0m0 65h0m1-276h0m2-72h0m0 179h0m1-248h0m0 30h0m0 170h0m1 204h0m1-172h0m0 84h0m0 84h0m1-371h0m0 6h0m0 163h0m1-134h0m0 95h0m0 28h0m1-102h0m0 184h0m0 180h0m1-180h0m0 64h0m1-324h0m0 32h0m1 393h0m3-270h0m0 155h0m2-71h0m0 26h0m1 174h0m0 3h0m1-44h0m1-257h0m3 210h0m1-290h0m1-46h0m2 72h0m1 317h0m1-366h0m0 333h0m1-185h0m0 25h0m0 183h0m1-65h0m1-286h0m0 236h0m0 90h0m1-344h0m1 300h0m1-308h0m0 320h0m1-214h0m0 199h0m1-297h0m0 309h0m1-207h0m0 201h0m0 121h0m3-32h0m2-399h0m0 120h0m2-92h0m2 76h0m0 125h0m2-250h0m1 180h0m0 146h0m1 31h0m1 77h0m1-254h0m1-164h0m0 119h0m1 94h0m0 99h0m1-168h0m0 74h0m0 21h0m1 35h0m0 129h0m2-391h0m1 322h0m1-350h0m0 408h0m0 18h0m1-432h0m0 297h0m1 38h0m1-300h0m0 344h0m1-286h0m0 29h0m1 137h0m1-271h0m0 149h0m0 77h0m0 132h0m0 101h0m1-386h0m1-47h0m0 160h0m1-155h0m0 18h0m2 83h0m0 123h0m2-41h0m2-246h0m0 202h0m1 76h0m0 124h0m1-244h0m0 64h0m0 70h0m0 67h0m1 88h0m0 53h0m2-272h0m2 104h0m1-182h0m2 195h0m0 14h0m3-266h0m0 66h0m0 171h0m1-32h0m1-127h0m2-116h0m0 105h0m0 66h0m3-89h0m1 70h0m0 266h0m1-430h0m0 104h0m0 38h0m0 15h0m0 309h0m1-227h0m2 25h0m3-188h0m0 177h0m1 28h0m0 120h0m1-319h0m1 221h0m0 119h0m0 19h0m1-393h0m0 28h0m0 243h0m0 123h0m3-378h0m0 124h0m1 32h0m3 105h0m1-263h0m0 107h0m0 295h0m1-240h0m0 136h0m1-257h0m0 70h0m1 210h0m1-237h0m0 312h0m2-358h0m0 117h0m2-112h0m2 331h0m2-450h0m0 146h0m0 148h0m1-245h0m1 175h0m0 255h0m1-414h0m0 141h0m0 83h0m1-296h0m1 172h0m0 100h0m1-176h0m0 13h0m2 88h0m0 62h0m0 38h0m0 70h0m1-132h0m1-74h0m0 175h0m1 76h0m3-77h0m0 77h0m0 12h0m1-163h0m0 131h0m0 77h0m1-283h0m1-69h0m2-86h0m0 41h0m0 45h0m0 162h0m1-230h0m0 12h0m0 18h0m0 43h0m0 49h0m2-47h0m1 82h0m0 238h0m1-282h0m0 68h0m0 162h0m1-291h0m2-33h0m0 1h0m0 157h0m1 19h0m0 101h0m1-41h0m0 146h0m1-199h0m3-131h0m0 225h0m0 132h0m1-106h0m0 27h0m0 54h0m1-33h0m1-369h0m0 94h0m1 7h0m2 251h0m1-133h0m1-238h0m0 84h0m0 195h0m0 142h0m1-51h0m1-31h0m1-229h0m0 158h0m2-235h0m0 145h0m0 255h0m1-338h0m0 316h0m3-60h0m2-266h0m0 35h0m2-56h0m1 362h0m1-85h0m2-69h0m0 65h0m1-163h0m0 73h0m1-197h0m0 242h0m1 42h0m1-320h0m0 132h0m1 112h0m1-145h0m3 293h0m4-33h0m1 71h0m1-344h0m0 283h0m1-210h0m0 150h0m1-83h0m1-180h0m0 221h0m0 115h0m1-152h0m1 175h0m1-318h0m1-18h0m0 266h0m1 88h0m0 11h0m3-69h0m0 59h0m0 22h0m1-166h0m3-159h0m0 27h0m1 133h0m0 31h0m0 72h0m0 50h0m1-225h0m0 136h0m2-141h0m0 23h0m1 79h0m0 136h0m1-257h0m1 177h0m1 16h0m2-256h0m0 273h0m1-243h0m1 109h0m0 135h0m1-55h0m1-128h0m1-117h0m1 331h0m1-113h0m2-211h0m1 86h0m0 138h0m0 82h0m1-155h0m1-146h0m0 17h0m0 160h0m0 14h0m0 79h0m1-103h0m0 77h0m1-125h0m0 218h0m1-119h0m3 15h0m0 5h0m0 104h0m2-172h0m3-111h0m1 44h0m1-17h0m0 201h0m2-120h0m2-14h0m0 109h0m1 49h0m2-32h0m1-187h0m0 206h0m1-91h0m1-98h0m1 140h0m1-112h0m0 89h0m1 0h0m1 62h0m2-132h0m0 112h0m1-116h0m0 107h0m5 58h0m0 13h0m2-246h0m1 17h0m1 78h0m1 18h0m1 97h0m3-150h0m1 160h0m1-32h0m2-162h0m0 21h0m1 72h0m0 70h0m1-204h0m1 45h0m1 21h0m0 103h0m0 95h0m2-195h0m1-43h0m1 120h0m2 18h0m1-152h0m0 44h0m0 148h0m1-35h0m0 87h0m1-36h0m1-87h0m0 105h0m1-198h0m0 86h0m2-25h0m0 12h0m3 6h0m3-61h0m0 116h0m0 67h0m2 0h0m3-99h0m0 54h0m1-144h0m0 200h0m1-44h0m2-152h0m0 198h0m4-99h0m3 12h0m3-46h0m0 72h0m2-77h0m0 1h0m3 21h0m3 88h0m4-73h0m0 8h0m6-51h0m0 5h0m0 44h0m0 33h0m4-20h0" stroke="#c9f6c9" stroke-width="12.4" stroke-linecap="round"/>
<path transform="scale(.1)" d="M3962 593h0m7 112h0m12-200h0m15 91h0m41-80h0m6-85h0m11 56h0m23 129h0m20-139h0m16-18h0m19 188h0m0 34h0m0 102h0m11-241h0m15 210h0m5-284h0m2 369h0m5-439h0m0 14h0m5 199h0m5-182h0m11 69h0m17-78h0m8 326h0m2 78h0m1-47h0m4-333h0m14 351h0m15-91h0m4-333h0m13 455h0m23-161h0m11-54h0m8-20h0m2 227h0m11-47h0m19-294h0m22 64h0m19-34h0m1 181h0m12-14h0m1-74h0m2 280h0m14-105h0m17-60h0m2-80h0m9 121h0m34 83h0m14-15h0m10-11h0m3 35h0" stroke="#fff" stroke-width="11.2" stroke-linecap="round"/>
<ellipse cx="422.00" cy="66.00" rx="13.50" ry="13.00" fill="#fff"/>
<path d="M360.20,32.00 C360.88,31.03 363.72,30.50 366.00,30.50 C368.28,30.50 372.02,30.60 373.90,32.00 C375.78,33.40 378.45,37.75 377.30,38.90 C376.15,40.05 369.57,39.33 367.00,38.90 C364.43,38.47 363.03,37.45 361.90,36.30 C360.77,35.15 359.52,32.97 360.20,32.00Z" fill="#b0bde0"/>
<path transform="scale(.1)" d="M3606 339h0m5 1h0m1-2h0m5 18h0m1-48h0m1 33h0m2 2h0m0 23h0m1-42h0m0 0h0m0 22h0m1 4h0m3-4h0m1-37h0m1 13h0m0 35h0m0 17h0m2-59h0m0 1h0m1 55h0m1-6h0m1-3h0m1-26h0m1 34h0m1-46h0m0 11h0m0 6h0m0 15h0m1-6h0m3-44h0m0 51h0m2-27h0m0 6h0m2 6h0m1-4h0m0 13h0m2-9h0m1-30h0m1 41h0m2-42h0m1 21h0m1-20h0m1 4h0m1-1h0m0 2h0m0 28h0m1-3h0m0 13h0m0 27h0m3-61h0m0 7h0m1 52h0m0 6h0m1-18h0m3 15h0m1-73h0m1 4h0m1-12h0m0 51h0m0 1h0m1-41h0m2 2h0m0 27h0m1 18h0m0 13h0m1 20h0m1-25h0m1-54h0m1 69h0m2-44h0m3-23h0m1 15h0m0 19h0m1-42h0m0 23h0m0 28h0m0 5h0m3-48h0m2 34h0m2 3h0m0 1h0m1-27h0m1 28h0m4-45h0m0 21h0m0 22h0m0 26h0m1-4h0m0 13h0m1-33h0m1 4h0m1-24h0m0 6h0m2 44h0m1-57h0m1 0h0m1 23h0m2 11h0m3-4h0m6-46h0m0 45h0m1-21h0m2-15h0m0 29h0m1-10h0m1 24h0m0 11h0m1-31h0m0 17h0m3 12h0m1-18h0m0 10h0m1-8h0m1-27h0m0 61h0m1-32h0m0 24h0m2-31h0m0 2h0m1-28h0m1-5h0m0 20h0m0 52h0m1-36h0m1-31h0m0 4h0m1 38h0m2-47h0m0 54h0m1-57h0m0 64h0m2-8h0m2-4h0m1 8h0m1-44h0m2 7h0m4 2h0m2 14h0m1-3h0m2 9h0m1-12h0m2 36h0m1-10h0m1 6h0m1-2h0m1-1h0m1 11h0m1-13h0m0 12h0m4-17h0m6 13h0" stroke="#0b34a0" stroke-width="12.4" stroke-linecap="round"/>
<path transform="scale(.1)" d="M3613 337h0m15 4h0m20 29h0m13-54h0m2 0h0m11 4h0m9 11h0m15 42h0m3-4h0m10-24h0m13-28h0m23 17h0" stroke="#fff" stroke-width="11.2" stroke-linecap="round"/>
<path d="M378.00,40.00 C379.17,38.00 382.83,37.00 385.00,36.00 C387.17,35.00 389.17,34.17 391.00,34.00 C392.83,33.83 394.83,33.67 396.00,35.00 C397.17,36.33 397.50,39.50 398.00,42.00 C398.50,44.50 399.50,47.83 399.00,50.00 C398.50,52.17 397.33,54.00 395.00,55.00 C392.67,56.00 387.83,57.17 385.00,56.00 C382.17,54.83 379.17,50.67 378.00,48.00 C376.83,45.33 376.83,42.00 378.00,40.00Z" fill="#c9ecd6"/>
<path transform="scale(.1)" d="M3768 450h0m0 15h0m3-29h0m2-11h0m1-2h0m4 53h0m2-32h0m1-27h0m4-16h0m0 85h0m1-24h0m1-49h0m0 6h0m1 9h0m1-26h0m0 25h0m2-37h0m2 99h0m2-20h0m1-25h0m0 63h0m2-28h0m2-59h0m1 85h0m2-19h0m1-75h0m0 13h0m0 39h0m0 26h0m1-16h0m1-9h0m0 36h0m0 9h0m4-11h0m0 30h0m2-92h0m0 7h0m1-24h0m0 6h0m0 60h0m1-88h0m0 1h0m0 16h0m0 52h0m2-22h0m0 49h0m1-111h0m0 152h0m1-64h0m0 28h0m0 15h0m1-118h0m0 103h0m0 30h0m0 4h0m1-93h0m0 82h0m1-2h0m1-64h0m4-60h0m2 65h0m0 15h0m0 49h0m0 22h0m1-121h0m0 27h0m1-68h0m1 23h0m1-37h0m0 75h0m0 41h0m2-82h0m1 47h0m0 100h0m1-92h0m0 74h0m1-58h0m0 9h0m0 6h0m2-6h0m1-74h0m1 68h0m0 38h0m1-56h0m1 41h0m1-62h0m0 89h0m1-93h0m0 14h0m0 23h0m1-10h0m0 76h0m0 5h0m1-146h0m0 104h0m0 42h0m2-58h0m0 65h0m1-95h0m0 5h0m0 100h0m1-11h0m1-134h0m2 75h0m1 49h0m0 16h0m1-124h0m0 13h0m0 6h0m0 91h0m1-136h0m0 4h0m0 149h0m1 0h0m2-154h0m0 54h0m0 11h0m0 12h0m1-75h0m0 109h0m0 29h0m3-163h0m0 117h0m0 53h0m1-79h0m0 39h0m1-90h0m1-57h0m0 112h0m1-93h0m1 43h0m0 53h0m1-36h0m2 37h0m0 12h0m1-101h0m0 33h0m1-24h0m0 107h0m1-56h0m1 9h0m1-100h0m0 47h0m0 51h0m0 73h0m1 25h0m1-164h0m0 9h0m0 132h0m1-129h0m1 80h0m3-124h0m0 76h0m1-84h0m0 184h0m1-124h0m0 26h0m0 24h0m0 58h0m1-79h0m1 27h0m0 72h0m1-171h0m0 45h0m1 89h0m1-103h0m0 91h0m1-145h0m0 41h0m0 56h0m1 50h0m0 52h0m1-42h0m1-78h0m0 99h0m2-108h0m0 30h0m0 21h0m5-122h0m0 113h0m1-43h0m3 62h0m2 52h0m0 19h0m1-207h0m0 48h0m1 31h0m1 108h0m1 7h0m2-73h0m1-108h0m0 34h0m0 92h0m1 6h0m1-134h0m0 62h0m0 128h0m1-177h0m0 108h0m1-63h0m0 126h0m1-88h0m0 6h0m0 27h0m1-131h0m0 53h0m0 82h0m0 46h0m1-133h0m2 24h0m0 32h0m1-92h0m0 183h0m1-125h0m0 60h0m1 55h0m2-140h0m3 15h0m0 52h0m1 13h0m2-9h0m0 43h0m3-139h0m0 43h0m0 27h0m0 15h0m0 45h0m1-19h0m0 19h0m1 11h0m1-164h0m0 3h0m0 88h0m0 60h0m1-60h0m0 10h0m2-8h0m1-85h0m2 40h0m0 52h0m0 94h0m1-195h0m0 44h0m0 89h0m0 53h0m1-128h0m0 65h0m1-119h0m0 12h0m0 20h0m0 7h0m0 50h0m1-39h0m0 70h0m0 22h0m1-70h0m1-54h0m1 88h0m1-7h0m0 96h0m1-7h0m2-76h0m0 77h0m1-29h0m0 26h0m1-32h0m2-23h0m0 3h0m3-128h0m0 39h0m0 79h0m0 38h0m0 1h0m2-66h0m1-42h0m1 4h0m0 8h0m0 7h0m0 21h0m1 40h0m2 7h0m0 11h0m1-65h0m1-53h0m0 19h0m1 88h0m2-52h0m4 14h0m0 74h0m1-87h0m1 69h0m5-68h0m0 6h0m0 16h0m7 41h0" stroke="#33b864" stroke-width="12.4" stroke-linecap="round"/>
<path transform="scale(.1)" d="M3795 504h0m3-102h0m7-8h0m4-14h0m20 91h0m6 33h0m12 51h0m7-28h0m3-33h0m4-43h0m4-90h0m24 133h0m1-118h0m0 19h0m27 164h0m7-45h0m3-100h0m6 125h0m13-197h0m13 126h0m16 12h0m3-24h0m2 40h0" stroke="#fff" stroke-width="11.2" stroke-linecap="round"/>
<path d="M365.00,48.00 C366.00,46.00 369.50,46.00 372.00,46.00 C374.50,46.00 377.67,46.50 380.00,48.00 C382.33,49.50 384.50,52.67 386.00,55.00 C387.50,57.33 388.67,60.00 389.00,62.00 C389.33,64.00 389.33,66.67 388.00,67.00 C386.67,67.33 383.67,64.83 381.00,64.00 C378.33,63.17 374.50,63.00 372.00,62.00 C369.50,61.00 367.17,60.33 366.00,58.00 C364.83,55.67 364.00,50.00 365.00,48.00Z" fill="#defbc5"/>
<path transform="scale(.1)" d="M3645 527h0m0 9h0m2-48h0m3 24h0m1 28h0m1-67h0m0 20h0m2-13h0m4 71h0m5-5h0m2-80h0m0 65h0m1-21h0m0 32h0m1 19h0m1-63h0m0 83h0m1-108h0m3-1h0m0 58h0m1-62h0m1 23h0m0 43h0m0 27h0m1-66h0m1 65h0m1-73h0m1 71h0m0 24h0m1-14h0m1-72h0m0 80h0m2-37h0m2-20h0m0 45h0m1 18h0m2-74h0m0 24h0m0 46h0m1-32h0m2 30h0m1-89h0m0 80h0m0 16h0m1-102h0m0 3h0m1 32h0m1-19h0m0 36h0m0 31h0m2 1h0m1-99h0m0 47h0m1 65h0m1-18h0m1-69h0m1-20h0m0 6h0m1 25h0m0 28h0m1-53h0m0 132h0m3-109h0m1 88h0m1-77h0m0 1h0m0 46h0m1-15h0m0 9h0m1 3h0m1 5h0m0 33h0m1-94h0m1 3h0m0 51h0m1-91h0m0 51h0m1-39h0m0 46h0m0 84h0m1-14h0m1-58h0m0 64h0m1-11h0m0 26h0m1-64h0m1-24h0m0 30h0m0 29h0m2-34h0m0 54h0m2-115h0m0 122h0m1-136h0m0 90h0m0 43h0m0 0h0m1-85h0m1 45h0m0 28h0m3-122h0m0 3h0m0 17h0m0 62h0m0 53h0m1-151h0m0 98h0m1-2h0m0 35h0m0 30h0m1-103h0m1 72h0m2-39h0m0 27h0m1-74h0m1 39h0m0 82h0m2-47h0m0 49h0m1-28h0m2-28h0m0 37h0m1-45h0m1-94h0m0 98h0m1-24h0m1 21h0m0 35h0m0 25h0m2-145h0m0 51h0m0 102h0m1-77h0m0 59h0m1-142h0m1 72h0m1 10h0m1-82h0m1 122h0m1-37h0m0 49h0m1-124h0m0 116h0m1-111h0m1-8h0m0 64h0m1-20h0m0 5h0m0 38h0m0 35h0m1-74h0m1-4h0m1-54h0m0 122h0m1-97h0m1 39h0m0 3h0m0 34h0m0 41h0m2-109h0m0 44h0m0 63h0m1-135h0m1 26h0m0 37h0m1-49h0m0 100h0m1-115h0m0 64h0m0 25h0m1-20h0m0 31h0m2-34h0m0 38h0m1-91h0m0 88h0m0 39h0m1-49h0m1 55h0m1-112h0m0 8h0m0 93h0m1-41h0m0 13h0m3-21h0m1-62h0m0 23h0m0 103h0m0 7h0m1-97h0m0 12h0m0 14h0m0 7h0m2-62h0m0 57h0m0 20h0m1-79h0m0 21h0m0 54h0m1-87h0m0 43h0m0 20h0m0 14h0m2 10h0m1-58h0m1-33h0m1 134h0m1-28h0m0 40h0m1-123h0m0 131h0m2-16h0m1-15h0m1-110h0m0 42h0m0 94h0m1-90h0m1 41h0m0 48h0m2-111h0m1-9h0m1 80h0m0 12h0m0 20h0m2-129h0m2-3h0m1 26h0m0 54h0m1 10h0m0 8h0m0 50h0m1-108h0m1-4h0m0 40h0m0 27h0m1-69h0m2 107h0m1-99h0m2-36h0m0 23h0m2 18h0m0 73h0m0 30h0m1-119h0m0 99h0m1-45h0m0 13h0m0 17h0m0 35h0m1-73h0m0 69h0m2-8h0m2-85h0m0 14h0m1 11h0m2 10h0m1 19h0m0 39h0m1-69h0m0 49h0m4-99h0m0 13h0m0 53h0m1-45h0m3 35h0m1-5h0m1 37h0m2-65h0m0 88h0m3-90h0m0 16h0m0 24h0m1-17h0m1 47h0m1 35h0m1-36h0m1-57h0m0 2h0m0 41h0m1-21h0m0 46h0m2-13h0m2 30h0m1-29h0m0 29h0m1 21h0m0 5h0m1-106h0m0 65h0m0 10h0m0 20h0m2-89h0m1-2h0m0 11h0m1 26h0m0 17h0m1-46h0m0 92h0m1-56h0m0 1h0m2 30h0m2 10h0m1 13h0m1-29h0m1 16h0m1-15h0m1-24h0m1-20h0m2 1h0m0 76h0m1-4h0m4-45h0m0 22h0m3 19h0m2-13h0m3-25h0" stroke="#8ff03c" stroke-width="12.4" stroke-linecap="round"/>
<path transform="scale(.1)" d="M3652 554h0m16 28h0m2-107h0m12 84h0m21-76h0m2-11h0m4-5h0m13 29h0m5 45h0m2 68h0m1-75h0m3 89h0m1-111h0m13-34h0m0 9h0m4 16h0m14 29h0m4 75h0m14-56h0m3 71h0m1-39h0m24-19h0m14 32h0m6-76h0m19 29h0" stroke="#fff" stroke-width="11.2" stroke-linecap="round"/>
<path d="M411.00,56.00 C411.50,54.67 413.83,52.50 416.00,51.00 C418.17,49.50 422.17,47.33 424.00,47.00 C425.83,46.67 427.17,47.67 427.00,49.00 C426.83,50.33 425.33,53.33 423.00,55.00 C420.67,56.67 415.00,58.83 413.00,59.00 C411.00,59.17 410.50,57.33 411.00,56.00Z" fill="#c4e1fa"/>
<path transform="scale(.1)" d="M4117 569h0m0 15h0m3-16h0m1-7h0m0 0h0m3-20h0m0 27h0m0 5h0m4-21h0m1 9h0m4 24h0m1-40h0m1 11h0m1-23h0m0 40h0m2 4h0m1-37h0m3-10h0m1 22h0m2 8h0m0 15h0m2-2h0m0 10h0m2-71h0m0 9h0m1-3h0m1 65h0m1-51h0m1 37h0m2-14h0m1-27h0m1 30h0m1-43h0m0 29h0m1-28h0m1 39h0m4-33h0m3 8h0m0 13h0m1 0h0m3-27h0m1 21h0m0 11h0m1-6h0m0 15h0m1 3h0m1-28h0m0 18h0m2-30h0m2-24h0m1 75h0m1-59h0m0 2h0m1-4h0m0 2h0m1 41h0m2-44h0m1 29h0m1-42h0m0 5h0m2 59h0m1-60h0m0 13h0m1 41h0m0 4h0m6-22h0m1-41h0m1 39h0m0 18h0m2-41h0m4 47h0m1-43h0m3 20h0m4-13h0m0 40h0m7-68h0m0 33h0m2 5h0m2-42h0m1 54h0m1-40h0m0 2h0m0 3h0m1-4h0m0 14h0m0 4h0m0 7h0m3-16h0m1 6h0m0 2h0m2-8h0m0 11h0m1-30h0m0 4h0m0 4h0m0 35h0m1-8h0m2-18h0m0 28h0m6-54h0m0 13h0m0 8h0m0 18h0m2-31h0m4-14h0m3 29h0m2 0h0m1-8h0m1 5h0m3 17h0m4-39h0m2-2h0m2 14h0m2-8h0m2 10h0" stroke="#3d9cf0" stroke-width="12.4" stroke-linecap="round"/>
<path transform="scale(.1)" d="M4133 540h0m22-24h0m6 46h0m5-53h0m4 45h0m2-49h0m3 9h0m31-9h0m28-21h0" stroke="#fff" stroke-width="11.2" stroke-linecap="round"/>
<path d="M411.00,74.00 C411.50,73.17 417.67,76.17 420.00,76.00 C422.33,75.83 424.33,72.33 425.00,73.00 C425.67,73.67 425.33,78.67 424.00,80.00 C422.67,81.33 419.17,82.00 417.00,81.00 C414.83,80.00 410.50,74.83 411.00,74.00Z" fill="#e5fcd3"/>
<path transform="scale(.1)" d="M4121 761h0m10-17h0m2 10h0m5 20h0m1-11h0m2 3h0m1-16h0m1 20h0m2 6h0m1-17h0m11-5h0m4 32h0m2-11h0m1 24h0m1-24h0m4-13h0m7 24h0m1 13h0m7-30h0m10 5h0m6 26h0m1-37h0m1 17h0m7-17h0m4 28h0m9-21h0m3-2h0m4 18h0m6-26h0m6-20h0m0 53h0m3-24h0m6-2h0m1-24h0m9 3h0" stroke="#8ff03c" stroke-width="12.4" stroke-linecap="round"/>
<path transform="scale(.1)" d="M4128 747h0m120 14h0" stroke="#fff" stroke-width="11.2" stroke-linecap="round"/>
<path d="M364.00,70.00 C365.00,68.50 368.17,68.50 370.00,69.00 C371.83,69.50 374.00,71.17 375.00,73.00 C376.00,74.83 376.33,78.17 376.00,80.00 C375.67,81.83 374.67,83.33 373.00,84.00 C371.33,84.67 367.50,85.00 366.00,84.00 C364.50,83.00 364.33,80.33 364.00,78.00 C363.67,75.67 363.00,71.50 364.00,70.00Z" fill="#b0bde0"/>
<path transform="scale(.1)" d="M3631 739h0m6-6h0m0 13h0m0 23h0m0 3h0m1-5h0m1-41h0m0 2h0m1-23h0m1 80h0m1-62h0m0 36h0m2-55h0m0 71h0m1 1h0m0 12h0m1-62h0m0 16h0m0 61h0m1-101h0m0 43h0m0 66h0m1-67h0m0 3h0m0 8h0m1-22h0m0 1h0m1 4h0m0 2h0m0 15h0m1-23h0m0 89h0m1-115h0m0 40h0m2-10h0m0 66h0m2 5h0m1-90h0m0 31h0m0 63h0m0 34h0m2-26h0m0 21h0m1-141h0m0 16h0m0 9h0m0 59h0m1-72h0m0 128h0m1-142h0m1 34h0m0 59h0m1-53h0m0 30h0m0 22h0m1-65h0m0 72h0m0 16h0m1-40h0m0 15h0m0 53h0m1-70h0m0 11h0m1-87h0m0 58h0m0 61h0m1-36h0m0 5h0m1-66h0m2 17h0m0 9h0m0 70h0m1 24h0m1-14h0m0 3h0m2-55h0m0 63h0m0 1h0m1-36h0m2-32h0m0 0h0m0 5h0m2-53h0m0 32h0m0 41h0m0 6h0m0 5h0m0 16h0m0 5h0m1-100h0m0 6h0m0 61h0m2-88h0m0 125h0m1 22h0m1-84h0m0 8h0m0 16h0m1-70h0m0 12h0m1-24h0m0 18h0m1 53h0m1-7h0m0 36h0m1-88h0m0 14h0m0 11h0m0 38h0m3-76h0m0 58h0m0 23h0m1 13h0m0 7h0m0 16h0m1-80h0m0 20h0m1-63h0m0 49h0m0 7h0m1-53h0m0 79h0m0 30h0m1-104h0m0 124h0m1-25h0m1-34h0m0 12h0m0 21h0m1 38h0m1-63h0m0 57h0m1-63h0m1-27h0m0 21h0m1 19h0m0 25h0m2-98h0m0 31h0m1 54h0m3-97h0m1 67h0m0 50h0m1-107h0m0 29h0m3 33h0m0 29h0m2-53h0m1 7h0m0 29h0m1-53h0m0 43h0m0 55h0m0 2h0m1-111h0m0 68h0m1-62h0m1 9h0m0 26h0m0 61h0m1-117h0m1 97h0m1-102h0m0 17h0m0 98h0m2-11h0m0 24h0m0 6h0m1-79h0m0 0h0m0 36h0m0 47h0m0 9h0m1-50h0m1-90h0m0 103h0m1-100h0m0 6h0m0 30h0m2-4h0m0 62h0m1-66h0m1 84h0m3-10h0m1-70h0m0 15h0m0 72h0m1-91h0m0 56h0m1-79h0m0 3h0m0 53h0m0 12h0m0 51h0m2-108h0m0 3h0m0 6h0m1 31h0m0 3h0m0 29h0m2-51h0m0 49h0m1-53h0m0 30h0m0 46h0m1-18h0m0 15h0m2-31h0m2-54h0m0 61h0m0 1h0m3-2h0m1-20h0m1-8h0m1 4h0m0 23h0m2-3h0" stroke="#0b34a0" stroke-width="12.4" stroke-linecap="round"/>
<path transform="scale(.1)" d="M3638 737h0m11-16h0m3 78h0m3 18h0m7 7h0m1-40h0m10 19h0m1 12h0m5 25h0m25-131h0m2 89h0m3-39h0m1 43h0m4-53h0m15-37h0m1 1h0m21 73h0" stroke="#fff" stroke-width="11.2" stroke-linecap="round"/>
<path d="M364.00,84.00 C364.67,82.17 366.50,82.17 367.00,84.00 C367.50,85.83 366.17,92.17 367.00,95.00 C367.83,97.83 369.83,99.67 372.00,101.00 C374.17,102.33 377.17,103.17 380.00,103.00 C382.83,102.83 387.33,99.83 389.00,100.00 C390.67,100.17 391.00,102.67 390.00,104.00 C389.00,105.33 386.00,107.42 383.00,108.00 C380.00,108.58 375.00,108.33 372.00,107.50 C369.00,106.67 366.50,105.08 365.00,103.00 C363.50,100.92 363.17,98.17 363.00,95.00 C362.83,91.83 363.33,85.83 364.00,84.00Z" fill="#b0bde0"/>
<path transform="scale(.1)" d="M3626 903h0m7 46h0m0 3h0m0 23h0m1-56h0m3-67h0m0 35h0m1 21h0m0 14h0m0 9h0m0 10h0m1-84h0m0 27h0m1-25h0m0 37h0m0 71h0m0 13h0m1-113h0m0 56h0m1-71h0m0 29h0m0 0h0m0 81h0m0 2h0m0 3h0m0 7h0m1-91h0m0 39h0m0 44h0m1-97h0m0 43h0m0 2h0m1-15h0m0 39h0m0 64h0m2-160h0m0 5h0m2 167h0m1-30h0m0 37h0m1-102h0m0 7h0m2 3h0m0 6h0m1-13h0m0 50h0m0 11h0m0 13h0m1-112h0m0 109h0m1 32h0m1 5h0m2-175h0m1 2h0m1-27h0m1 53h0m0 6h0m0 87h0m2-121h0m0 82h0m0 8h0m0 87h0m1-130h0m1-66h0m0 43h0m0 69h0m0 97h0m1-177h0m0 102h0m0 27h0m2-78h0m0 58h0m1-130h0m1 160h0m1-138h0m1 141h0m1-4h0m1 12h0m0 23h0m0 4h0m3-47h0m4-17h0m2 11h0m1-12h0m2 37h0m1-13h0m1-5h0m0 22h0m1-30h0m0 14h0m0 48h0m0 3h0m4-58h0m0 23h0m0 7h0m1 4h0m1-20h0m1-5h0m1 35h0m1 16h0m3-49h0m1 10h0m0 11h0m3 8h0m1-37h0m0 13h0m0 48h0m1-4h0m0 1h0m1 9h0m1-31h0m0 14h0m2-29h0m3-6h0m0 3h0m1 29h0m0 13h0m2-48h0m0 65h0m3-51h0m5 33h0m4-38h0m0 11h0m0 7h0m2 31h0m3-46h0m0 19h0m0 19h0m2-11h0m2-17h0m0 4h0m1-9h0m1 19h0m1-18h0m1-4h0m0 36h0m6-13h0m0 13h0m0 10h0m1-51h0m0 4h0m2 52h0m4-7h0m0 9h0m3-19h0m2 19h0m1-2h0m2-44h0m5 16h0m2-5h0m1 17h0m3-18h0m3-5h0m0 35h0m1 4h0m3-19h0m2-21h0m0 17h0m3 11h0m0 14h0m6-27h0m0 8h0m1-25h0m1-2h0m0 5h0m0 9h0m1 12h0m1-4h0m3-13h0m0 18h0m1-26h0m2 22h0m0 14h0m4-6h0m2-28h0m0 13h0m6-8h0m1-12h0m0 36h0m1-26h0m1 8h0m0 10h0m0 14h0m2-7h0m1 16h0m1-15h0m3-27h0m1 10h0m2 27h0m4-19h0m1-36h0m1 12h0m1 13h0m0 9h0m1-18h0m1 19h0m1-19h0m0 24h0m0 15h0m1-13h0m2-28h0m0 26h0m3 2h0m1-39h0m0 36h0m2 6h0m2-48h0m1-8h0m2 50h0m1-47h0m3 15h0m0 8h0m1-28h0m0 44h0m1-13h0m2 16h0m1-28h0m0 25h0m0 13h0m1-55h0m0 2h0m0 34h0m1 3h0m3-37h0m0 19h0m1 31h0m1-25h0m0 22h0m1-5h0m0 3h0m2-42h0m0 3h0m2-12h0m0 56h0m1-38h0m3-19h0m0 1h0m0 23h0m0 18h0m0 9h0m1 9h0m2-47h0m1 1h0m0 17h0m1-15h0m0 9h0m9-29h0m0 43h0m1-36h0m1 25h0m3-22h0m5 8h0m0 16h0m2-24h0m4 7h0" stroke="#0b34a0" stroke-width="12.4" stroke-linecap="round"/>
<path transform="scale(.1)" d="M3632 946h0m10-19h0m8-20h0m12-66h0m2 77h0m13 53h0m21 68h0m13-5h0m3-15h0m3-4h0m17 18h0m1-9h0m18 31h0m5-9h0m15-5h0m18 21h0m38 18h0m31-20h0m3-41h0m4 18h0" stroke="#fff" stroke-width="11.2" stroke-linecap="round"/>
<path d="M377.00,76.00 C378.67,74.00 384.50,76.33 388.00,78.00 C391.50,79.67 396.00,83.33 398.00,86.00 C400.00,88.67 400.83,91.67 400.00,94.00 C399.17,96.33 395.67,99.33 393.00,100.00 C390.33,100.67 386.50,99.67 384.00,98.00 C381.50,96.33 379.17,93.67 378.00,90.00 C376.83,86.33 375.33,78.00 377.00,76.00Z" fill="#d8f2e2"/>
<path transform="scale(.1)" d="M3766 796h0m0 45h0m1-45h0m7 61h0m1 14h0m4-57h0m1-36h0m2 41h0m2 69h0m4 7h0m1-45h0m3 72h0m2-53h0m2 40h0m5-65h0m1 68h0m2-18h0m3-96h0m1 102h0m0 27h0m2-150h0m0 9h0m0 23h0m0 96h0m1-44h0m0 9h0m4-15h0m6-76h0m0 125h0m1 50h0m1-159h0m2 98h0m1-51h0m0 51h0m0 49h0m2-6h0m1-133h0m1 63h0m2-11h0m0 43h0m3 88h0m1-224h0m3 197h0m1-66h0m1-107h0m0 165h0m0 8h0m1-161h0m0 45h0m1-40h0m0 35h0m1-24h0m0 107h0m3-56h0m1-33h0m0 64h0m1-85h0m0 61h0m1 4h0m0 99h0m2-28h0m1-70h0m0 53h0m1-73h0m1 35h0m1-104h0m1 164h0m0 10h0m0 18h0m3-125h0m3 51h0m1-6h0m1-87h0m1 94h0m1-133h0m0 89h0m2 43h0m1-125h0m1 218h0m3-214h0m0 50h0m1-33h0m3-7h0m0 190h0m2-158h0m2 81h0m0 26h0m1-121h0m0 147h0m1-117h0m1 42h0m0 84h0m0 11h0m1-115h0m1-35h0m2 15h0m0 22h0m3-3h0m2 10h0m0 104h0m1-102h0m0 92h0m4-32h0m0 54h0m1-132h0m0 68h0m0 12h0m1 32h0m0 30h0m3-172h0m0 153h0m3-99h0m1 89h0m1-111h0m0 134h0m1-185h0m2 67h0m0 30h0m1-80h0m1 41h0m0 22h0m4 103h0m1-51h0m3-112h0m0 22h0m0 135h0m1-166h0m1 127h0m5-101h0m2 74h0m1-30h0m2 52h0m2-6h0m1 28h0m2-28h0m3-68h0m1-46h0m4 150h0m1-97h0m0 64h0m9 26h0m5-53h0m6 66h0m3-103h0m0 62h0m3-77h0m0 56h0m0 47h0m1-5h0m2 16h0m3-102h0m2 90h0m1-16h0m2-68h0m3 5h0m5 20h0m4 24h0" stroke="#33b864" stroke-width="12.4" stroke-linecap="round"/>
<path transform="scale(.1)" d="M3786 859h0m41 9h0m6-21h0m11 107h0m31-105h0m5-30h0m2 8h0m5 151h0m37-43h0m9-96h0m18 149h0m3-91h0" stroke="#fff" stroke-width="11.2" stroke-linecap="round"/>
<path d="M397.00,85.00 C398.67,82.83 404.17,83.50 408.00,84.00 C411.83,84.50 416.33,87.00 420.00,88.00 C423.67,89.00 429.00,88.83 430.00,90.00 C431.00,91.17 428.50,93.67 426.00,95.00 C423.50,96.33 418.67,97.17 415.00,98.00 C411.33,98.83 406.83,100.17 404.00,100.00 C401.17,99.83 399.17,99.50 398.00,97.00 C396.83,94.50 395.33,87.17 397.00,85.00Z" fill="#bcc7e5"/>
<path transform="scale(.1)" d="M3972 877h0m3-23h0m0 105h0m1-111h0m0 33h0m0 6h0m1-7h0m0 29h0m1 20h0m1 15h0m1-56h0m2 20h0m0 43h0m2-48h0m1-55h0m1 36h0m0 19h0m1-28h0m1-33h0m0 51h0m0 75h0m1 4h0m1-2h0m2-124h0m0 59h0m0 59h0m1-125h0m0 12h0m0 25h0m1 75h0m0 34h0m2-35h0m2-53h0m0 11h0m3 47h0m2-77h0m0 76h0m0 7h0m1-94h0m0 44h0m0 60h0m1-118h0m0 36h0m0 0h0m1 17h0m0 83h0m5-156h0m0 49h0m3 23h0m0 16h0m0 20h0m1-90h0m0 134h0m3-40h0m1 50h0m1-119h0m2-39h0m0 126h0m0 25h0m1-133h0m1 14h0m0 24h0m2-9h0m0 11h0m0 40h0m1-55h0m1-20h0m1 11h0m0 44h0m2-33h0m1 35h0m1-45h0m0 93h0m1-73h0m1-12h0m0 48h0m0 42h0m0 9h0m0 4h0m1-143h0m0 80h0m1-83h0m0 139h0m1-65h0m1-29h0m0 17h0m4 67h0m2-73h0m2-57h0m0 42h0m0 30h0m0 26h0m0 37h0m1-124h0m0 3h0m0 126h0m1-101h0m0 12h0m1-45h0m0 2h0m0 71h0m0 21h0m0 8h0m3-103h0m0 13h0m3 28h0m0 2h0m1-31h0m0 137h0m1-49h0m1-59h0m3-15h0m0 65h0m0 7h0m1 10h0m1-86h0m1 35h0m0 89h0m0 1h0m1-82h0m0 81h0m3-103h0m0 26h0m1-66h0m2 69h0m0 68h0m1-40h0m1-17h0m0 39h0m0 7h0m2-115h0m0 21h0m0 6h0m2-15h0m0 89h0m3-88h0m0 68h0m2-78h0m2 46h0m1-41h0m0 13h0m0 41h0m0 44h0m2-11h0m0 14h0m1-93h0m1 5h0m1 22h0m0 67h0m0 28h0m1-34h0m2-50h0m1 4h0m0 28h0m1-79h0m0 96h0m2-110h0m0 26h0m0 47h0m0 34h0m1-22h0m0 55h0m2-143h0m1 41h0m0 91h0m1-6h0m2-125h0m0 45h0m1 53h0m3 25h0m3 12h0m2-64h0m2 42h0m3-93h0m2 11h0m0 76h0m1-81h0m0 22h0m0 39h0m1-17h0m1-7h0m0 50h0m0 4h0m1-91h0m0 64h0m0 23h0m2-54h0m0 9h0m0 9h0m1-60h0m0 40h0m2 60h0m1 7h0m0 9h0m2-53h0m1-56h0m3-6h0m0 10h0m0 83h0m1-61h0m1 0h0m2 11h0m0 70h0m2-23h0m1-60h0m1 43h0m4 23h0m2-85h0m1 40h0m2 11h0m0 12h0m1 33h0m1-64h0m0 36h0m1-68h0m0 29h0m0 66h0m0 0h0m1-96h0m0 106h0m3-91h0m1-14h0m5 13h0m0 46h0m2 18h0m2-36h0m3-7h0m0 11h0m2-45h0m0 20h0m3-7h0m0 0h0m3 19h0m0 7h0m0 48h0m1-71h0m1 63h0m4-40h0m0 22h0m0 19h0m4 12h0m2-87h0m0 29h0m0 7h0m4 30h0m1 15h0m1-74h0m1 51h0m1-36h0m0 9h0m4 18h0m1 9h0m1 9h0m0 10h0m2-31h0m2 26h0m3-22h0m1-4h0m1-26h0m0 65h0m3-77h0m0 56h0m1-53h0m3 30h0m1 40h0m1-61h0m0 23h0m2-17h0m2 6h0m0 5h0m0 23h0m1-55h0m0 18h0m0 18h0m2 11h0m0 10h0m4-34h0m0 29h0m7-43h0m4 28h0m0 36h0m1-11h0m2-26h0m2-14h0m1 4h0m15 7h0m2 8h0m0 15h0m1-44h0m0 36h0m1-16h0m2-15h0m7 25h0m4-32h0m3 23h0m5-1h0" stroke="#0b34a0" stroke-width="12.4" stroke-linecap="round"/>
<path transform="scale(.1)" d="M3993 863h0m0 24h0m12 23h0m15 54h0m1-117h0m1 151h0m15-22h0m11-56h0m2-46h0m7-29h0m46 19h0m13 48h0m0 38h0m14-64h0m5 26h0m17-12h0m16 42h0m15 5h0m4-33h0m25 7h0m8-31h0m44 21h0m17 18h0" stroke="#fff" stroke-width="11.2" stroke-linecap="round"/>
</g>
<g id="a5">
<path d="M527.00,29.00 C528.50,26.75 531.17,26.33 533.00,26.50 C534.83,26.67 536.83,28.42 538.00,30.00 C539.17,31.58 538.00,34.67 540.00,36.00 C542.00,37.33 546.67,37.00 550.00,38.00 C553.33,39.00 557.50,40.00 560.00,42.00 C562.50,44.00 564.00,47.00 565.00,50.00 C566.00,53.00 566.25,56.33 566.00,60.00 C565.75,63.67 564.83,68.33 563.50,72.00 C562.17,75.67 560.08,79.00 558.00,82.00 C555.92,85.00 553.67,87.33 551.00,90.00 C548.33,92.67 544.67,96.00 542.00,98.00 C539.33,100.00 537.83,101.17 535.00,102.00 C532.17,102.83 527.67,103.50 525.00,103.00 C522.33,102.50 520.33,101.50 519.00,99.00 C517.67,96.50 517.17,91.50 517.00,88.00 C516.83,84.50 517.33,81.33 518.00,78.00 C518.67,74.67 520.00,71.33 521.00,68.00 C522.00,64.67 523.42,61.33 524.00,58.00 C524.58,54.67 524.50,51.00 524.50,48.00 C524.50,45.00 523.58,43.17 524.00,40.00 C524.42,36.83 525.50,31.25 527.00,29.00Z" fill="#c5e2fb"/>
<path transform="scale(.1)" d="M5170 882h0m3-21h0m3-49h0m0 13h0m1 117h0m2-167h0m0 44h0m0 47h0m0 26h0m0 14h0m1 35h0m1-161h0m0 84h0m0 58h0m0 24h0m2-137h0m0 23h0m0 24h0m1 39h0m0 77h0m1-151h0m0 3h0m0 128h0m1-135h0m1 1h0m0 54h0m1-55h0m0 3h0m0 20h0m2-15h0m0 83h0m1 47h0m1 20h0m2-33h0m0 24h0m1-158h0m0 16h0m0 17h0m0 104h0m0 20h0m1-148h0m0 133h0m0 5h0m1-219h0m0 74h0m0 28h0m0 79h0m1-137h0m0 118h0m1-177h0m0 184h0m1-145h0m0 60h0m1 51h0m1-80h0m0 130h0m1-170h0m0 19h0m1 32h0m1-46h0m0 11h0m0 139h0m0 58h0m0 29h0m1-302h0m0 39h0m0 100h0m0 33h0m0 17h0m1-158h0m0 56h0m0 8h0m0 129h0m0 45h0m2-57h0m0 23h0m1-23h0m1 22h0m0 6h0m0 14h0m1 8h0m1-246h0m0 25h0m0 22h0m0 3h0m0 21h0m1-39h0m0 203h0m1-253h0m0 45h0m0 128h0m0 41h0m1-156h0m0 98h0m0 2h0m0 3h0m1-152h0m0 203h0m1-152h0m0 64h0m0 24h0m1-159h0m0 79h0m0 104h0m0 68h0m0 11h0m1-215h0m1 122h0m0 101h0m1-297h0m0 29h0m0 73h0m0 61h0m0 117h0m1-40h0m0 57h0m1-225h0m0 128h0m0 27h0m1-227h0m0 228h0m0 143h0m1-296h0m0 0h0m0 110h0m0 73h0m0 114h0m1-367h0m0 5h0m0 45h0m0 38h0m0 64h0m0 57h0m0 59h0m0 7h0m1-273h0m0 64h0m0 90h0m1-185h0m0 54h0m0 98h0m0 29h0m0 169h0m0 15h0m1-174h0m0 111h0m0 61h0m1-331h0m0 286h0m1-228h0m1 21h0m0 116h0m0 84h0m1 27h0m1-554h0m0 231h0m0 148h0m0 26h0m0 94h0m0 87h0m1-285h0m0 114h0m0 79h0m0 68h0m1-280h0m0 142h0m0 33h0m1-289h0m0 45h0m0 13h0m0 143h0m0 13h0m0 143h0m0 28h0m1-335h0m0 392h0m1-595h0m0 231h0m0 5h0m0 10h0m0 26h0m0 88h0m0 62h0m0 16h0m0 1h0m0 130h0m1-407h0m0 92h0m0 164h0m0 52h0m0 7h0m0 50h0m1-527h0m0 166h0m0 38h0m0 370h0m1-576h0m0 101h0m0 52h0m0 25h0m0 54h0m0 74h0m0 184h0m0 18h0m1-517h0m0 181h0m0 169h0m0 160h0m0 69h0m1-348h0m0 100h0m1-253h0m0 26h0m0 166h0m0 28h0m0 188h0m0 10h0m0 75h0m0 3h0m1-600h0m0 94h0m0 153h0m0 12h0m1-165h0m0 248h0m0 70h0m0 133h0m0 43h0m1-528h0m0 5h0m0 15h0m0 146h0m0 240h0m0 47h0m0 16h0m0 20h0m1-519h0m0 22h0m0 47h0m0 85h0m0 26h0m0 67h0m0 202h0m0 27h0m0 113h0m1-657h0m0 390h0m0 95h0m0 88h0m0 3h0m0 25h0m0 79h0m1-578h0m0 1h0m0 13h0m0 74h0m0 123h0m0 32h0m0 165h0m0 70h0m1-513h0m0 233h0m0 96h0m0 37h0m0 65h0m0 134h0m1-601h0m0 134h0m0 227h0m0 93h0m1-407h0m0 105h0m0 93h0m0 115h0m0 14h0m0 89h0m0 7h0m1-411h0m0 118h0m0 18h0m0 5h0m0 81h0m0 214h0m1-466h0m0 2h0m0 199h0m0 374h0m0 29h0m1-503h0m0 212h0m0 40h0m0 121h0m0 12h0m1-363h0m0 27h0m0 42h0m0 1h0m0 198h0m0 33h0m1-489h0m0 3h0m0 44h0m0 25h0m0 135h0m0 445h0m0 21h0m1-656h0m0 279h0m0 14h0m0 43h0m0 200h0m0 101h0m1-512h0m0 91h0m0 86h0m0 67h0m0 13h0m0 145h0m0 38h0m0 24h0m0 7h0m1-614h0m0 47h0m0 28h0m0 133h0m0 177h0m0 113h0m0 144h0m1-694h0m0 78h0m0 106h0m0 9h0m0 113h0m0 194h0m0 225h0m1-625h0m0 25h0m0 90h0m0 84h0m0 257h0m0 111h0m0 27h0m1-658h0m0 59h0m0 46h0m0 133h0m0 36h0m0 37h0m0 35h0m0 27h0m0 118h0m0 114h0m1-534h0m0 56h0m0 26h0m0 295h0m0 47h0m0 32h0m0 134h0m1-644h0m0 277h0m0 242h0m0 95h0m1-514h0m0 27h0m0 110h0m0 12h0m0 74h0m0 87h0m0 31h0m0 164h0m0 32h0m0 42h0m1-682h0m0 36h0m0 398h0m0 27h0m1-366h0m0 223h0m0 241h0m0 69h0m1-432h0m0 301h0m1-333h0m0 53h0m0 364h0m1-603h0m0 14h0m0 254h0m0 7h0m0 115h0m0 22h0m0 42h0m0 244h0m1-681h0m0 57h0m0 28h0m0 6h0m0 17h0m0 82h0m0 7h0m0 10h0m0 51h0m0 14h0m0 40h0m0 208h0m0 57h0m0 34h0m0 28h0m1-648h0m0 53h0m0 51h0m0 86h0m1 424h0m0 29h0m0 13h0m0 30h0m1-575h0m0 128h0m0 464h0m1-678h0m0 68h0m0 66h0m0 199h0m0 303h0m0 21h0m1-484h0m0 81h0m0 124h0m0 62h0m0 163h0m0 46h0m1-724h0m0 84h0m0 89h0m0 81h0m0 5h0m0 128h0m1-372h0m0 50h0m0 129h0m0 286h0m1-406h0m0 31h0m0 78h0m0 38h0m0 19h0m0 31h0m0 181h0m0 64h0m0 75h0m1-507h0m0 123h0m0 88h0m0 19h0m0 39h0m0 222h0m0 45h0m0 65h0m1-659h0m0 65h0m0 182h0m0 64h0m0 349h0m0 56h0m1-346h0m0 14h0m0 21h0m0 39h0m0 86h0m0 30h0m0 69h0m1-557h0m0 341h0m0 60h0m0 187h0m1-661h0m0 48h0m0 28h0m0 4h0m0 35h0m0 80h0m0 202h0m0 38h0m0 159h0m0 29h0m1-566h0m0 236h0m0 183h0m0 196h0m1-612h0m0 104h0m0 50h0m0 33h0m0 166h0m0 37h0m0 49h0m0 63h0m0 66h0m1-641h0m0 27h0m0 283h0m0 31h0m0 103h0m0 47h0m0 81h0m0 81h0m1-654h0m0 10h0m0 399h0m0 273h0m0 4h0m1-560h0m0 128h0m0 43h0m0 6h0m0 154h0m0 3h0m0 79h0m0 11h0m1-507h0m0 122h0m0 12h0m0 59h0m0 107h0m0 150h0m0 144h0m1-565h0m0 184h0m0 187h0m0 14h0m1-467h0m0 19h0m0 47h0m0 21h0m0 13h0m0 97h0m0 13h0m0 54h0m0 33h0m0 46h0m0 23h0m0 75h0m0 61h0m0 73h0m0 72h0m0 1h0m0 0h0m1-464h0m0 34h0m0 46h0m0 40h0m1-150h0m0 293h0m0 43h0m1-354h0m0 103h0m0 53h0m0 16h0m0 17h0m0 9h0m0 28h0m0 9h0m0 17h0m0 19h0m0 78h0m0 160h0m0 63h0m1-571h0m0 32h0m0 165h0m0 16h0m0 178h0m0 16h0m1-537h0m0 61h0m0 41h0m0 13h0m0 103h0m0 62h0m0 120h0m0 65h0m0 146h0m0 108h0m1-662h0m0 74h0m0 203h0m0 354h0m1-595h0m0 177h0m0 286h0m1-545h0m0 21h0m0 33h0m0 198h0m0 14h0m0 17h0m0 204h0m0 85h0m0 103h0m0 37h0m1-725h0m0 11h0m0 17h0m0 185h0m0 76h0m0 113h0m0 31h0m0 109h0m0 38h0m0 63h0m1-108h0m0 46h0m0 34h0m0 67h0m1-500h0m0 142h0m0 226h0m0 9h0m0 45h0m0 123h0m1-738h0m0 119h0m0 418h0m0 24h0m1-503h0m0 257h0m0 47h0m0 83h0m0 1h0m0 9h0m0 46h0m0 122h0m0 92h0m1-669h0m0 11h0m0 10h0m0 15h0m0 47h0m0 224h0m0 76h0m0 133h0m0 37h0m0 75h0m0 77h0m1-695h0m0 87h0m0 109h0m0 45h0m0 44h0m0 68h0m0 123h0m0 55h0m0 45h0m0 95h0m1-614h0m0 15h0m0 56h0m0 61h0m0 6h0m0 41h0m0 46h0m0 137h0m0 227h0m0 6h0m1-715h0m0 5h0m0 172h0m0 11h0m0 222h0m0 65h0m0 148h0m0 71h0m1-338h0m0 37h0m0 73h0m0 1h0m0 45h0m0 107h0m1-495h0m0 27h0m0 33h0m0 223h0m0 58h0m0 81h0m0 17h0m0 66h0m0 58h0m1-328h0m0 358h0m1-636h0m0 44h0m0 14h0m0 40h0m0 89h0m0 28h0m0 52h0m0 81h0m0 168h0m0 84h0m1-658h0m0 19h0m0 87h0m0 11h0m0 27h0m0 100h0m0 413h0m1-668h0m0 27h0m0 19h0m0 11h0m0 23h0m0 105h0m0 264h0m1-454h0m0 73h0m0 60h0m0 67h0m0 87h0m0 43h0m0 8h0m0 215h0m0 40h0m1-570h0m0 98h0m0 31h0m0 483h0m1-531h0m0 20h0m0 3h0m0 57h0m0 198h0m0 80h0m0 37h0m0 249h0m1-737h0m0 64h0m0 32h0m0 52h0m0 114h0m0 13h0m0 135h0m0 38h0m0 12h0m1-460h0m0 33h0m0 17h0m0 4h0m0 29h0m0 11h0m0 99h0m0 170h0m0 17h0m0 254h0m1-606h0m0 152h0m0 44h0m0 77h0m0 49h0m0 39h0m0 204h0m0 50h0m0 78h0m1-674h0m0 465h0m0 39h0m0 165h0m1-624h0m0 77h0m0 28h0m0 340h0m0 1h0m0 101h0m0 38h0m1-614h0m0 118h0m0 4h0m0 272h0m0 178h0m0 96h0m1-739h0m0 179h0m0 47h0m0 210h0m0 121h0m0 41h0m0 139h0m1-730h0m0 268h0m0 141h0m1-428h0m0 26h0m0 170h0m0 15h0m0 17h0m0 54h0m0 104h0m0 36h0m0 91h0m1-415h0m0 90h0m0 48h0m0 217h0m0 17h0m0 190h0m0 99h0m1-231h0m0 57h0m0 69h0m1-621h0m0 98h0m0 16h0m0 368h0m0 9h0m0 33h0m1-425h0m0 58h0m0 221h0m0 161h0m0 22h0m1-571h0m0 90h0m0 9h0m0 407h0m0 26h0m0 130h0m1-586h0m0 140h0m0 145h0m0 323h0m1-610h0m0 304h0m0 334h0m1-718h0m0 45h0m0 249h0m0 66h0m0 99h0m0 23h0m0 99h0m0 69h0m1-583h0m0 2h0m0 67h0m0 112h0m0 184h0m0 81h0m0 5h0m0 195h0m1-616h0m0 255h0m0 79h0m0 34h0m0 47h0m0 49h0m0 0h0m0 15h0m0 151h0m1-725h0m0 2h0m0 91h0m0 62h0m0 71h0m0 19h0m0 9h0m0 40h0m0 224h0m0 48h0m0 120h0m0 22h0m1-642h0m0 102h0m0 46h0m0 528h0m1-632h0m0 6h0m0 27h0m0 17h0m0 13h0m0 45h0m0 210h0m0 132h0m0 12h0m0 147h0m1-705h0m0 217h0m0 16h0m0 22h0m0 66h0m0 76h0m0 51h0m0 48h0m0 66h0m0 57h0m1-458h0m0 140h0m0 37h0m0 76h0m0 86h0m0 7h0m0 183h0m1-704h0m0 45h0m0 61h0m0 10h0m0 47h0m0 63h0m0 151h0m0 56h0m0 72h0m0 49h0m1-532h0m0 42h0m0 226h0m0 48h0m0 3h0m0 152h0m0 148h0m1-627h0m0 88h0m0 240h0m0 54h0m0 92h0m0 123h0m0 90h0m0 17h0m0 11h0m1-742h0m0 104h0m0 108h0m0 191h0m0 41h0m0 14h0m0 51h0m0 131h0m0 31h0m1-539h0m0 91h0m0 312h0m0 64h0m1-520h0m0 292h0m0 60h0m0 117h0m0 44h0m0 127h0m1-589h0m0 95h0m0 130h0m0 24h0m0 62h0m0 255h0m0 42h0m1-713h0m0 9h0m0 38h0m0 23h0m0 16h0m0 4h0m0 11h0m0 309h0m0 41h0m0 115h0m0 80h0m1-645h0m0 62h0m0 31h0m0 354h0m0 52h0m1-448h0m0 83h0m0 62h0m0 104h0m0 134h0m0 13h0m0 10h0m0 117h0m0 130h0m1-721h0m0 281h0m0 133h0m0 54h0m0 121h0m1-309h0m0 150h0m0 69h0m0 55h0m0 53h0m0 83h0m1-641h0m0 55h0m0 181h0m0 183h0m0 44h0m0 47h0m0 78h0m1-474h0m0 26h0m0 23h0m0 21h0m0 42h0m0 66h0m0 65h0m0 204h0m0 82h0m1-689h0m0 115h0m0 211h0m0 89h0m0 5h0m0 189h0m1-579h0m0 43h0m0 23h0m0 43h0m0 489h0m0 69h0m1-674h0m0 122h0m0 108h0m0 116h0m0 210h0m1-496h0m0 24h0m0 3h0m0 137h0m0 226h0m0 54h0m0 194h0m1-512h0m0 185h0m0 10h0m0 175h0m0 27h0m1-584h0m0 32h0m0 154h0m0 31h0m0 70h0m0 66h0m0 18h0m0 48h0m0 29h0m0 66h0m0 196h0m1-632h0m0 175h0m0 111h0m0 6h0m0 142h0m0 103h0m0 10h0m1-591h0m0 116h0m0 351h0m1-439h0m0 7h0m0 36h0m0 217h0m1-338h0m0 94h0m0 67h0m0 25h0m0 5h0m0 34h0m0 67h0m0 205h0m1-370h0m0 40h0m0 11h0m0 90h0m0 131h0m1-309h0m0 240h0m0 30h0m0 1h0m0 20h0m0 62h0m1-336h0m0 189h0m0 122h0m0 245h0m0 10h0m1-434h0m0 23h0m0 34h0m0 124h0m0 99h0m0 150h0m1-638h0m0 39h0m0 12h0m0 282h0m0 205h0m1-464h0m0 0h0m0 111h0m0 5h0m0 151h0m0 235h0m0 86h0m1-676h0m0 47h0m0 15h0m0 110h0m0 181h0m0 43h0m0 12h0m0 125h0m0 71h0m1-623h0m0 314h0m0 3h0m0 208h0m1-452h0m0 8h0m0 57h0m0 110h0m0 132h0m1-254h0m0 16h0m0 3h0m0 106h0m0 25h0m0 103h0m0 101h0m1-442h0m0 133h0m0 59h0m0 231h0m0 16h0m0 140h0m0 27h0m0 3h0m0 25h0m0 37h0m1-609h0m0 2h0m0 94h0m0 275h0m0 117h0m0 39h0m1-341h0m0 79h0m0 245h0m0 81h0m1-523h0m0 71h0m0 55h0m0 84h0m0 28h0m0 14h0m0 33h0m0 121h0m0 139h0m1-605h0m0 230h0m0 135h0m0 240h0m1-645h0m0 57h0m0 62h0m0 20h0m0 35h0m0 115h0m0 70h0m0 16h0m0 156h0m0 88h0m1-418h0m0 36h0m0 110h0m0 13h0m0 169h0m1-441h0m0 17h0m0 45h0m0 51h0m0 98h0m0 38h0m0 65h0m0 177h0m1-450h0m0 4h0m0 389h0m0 39h0m1-506h0m0 2h0m0 37h0m0 53h0m0 89h0m0 136h0m0 8h0m0 26h0m0 36h0m0 56h0m1-453h0m0 124h0m0 102h0m0 139h0m0 39h0m0 57h0m0 30h0m0 47h0m1-566h0m0 162h0m0 146h0m0 23h0m0 49h0m0 40h0m0 141h0m0 31h0m1-539h0m0 18h0m0 80h0m0 34h0m0 66h0m0 43h0m0 287h0m1-517h0m0 14h0m0 87h0m0 10h0m0 16h0m0 20h0m0 43h0m0 48h0m0 181h0m1-420h0m0 84h0m0 151h0m0 46h0m0 11h0m0 130h0m1-93h0m0 2h0m0 64h0m0 101h0m0 7h0m0 51h0m1-536h0m0 81h0m0 79h0m0 80h0m0 100h0m0 10h0m0 3h0m0 127h0m0 13h0m1-536h0m0 74h0m0 118h0m0 159h0m0 167h0m0 19h0m1-454h0m0 90h0m0 2h0m0 230h0m0 80h0m0 14h0m0 27h0m1-460h0m0 63h0m1-150h0m0 9h0m0 40h0m0 15h0m0 23h0m0 129h0m0 80h0m0 41h0m0 41h0m1-320h0m0 144h0m0 69h0m0 17h0m0 12h0m0 189h0m0 2h0m1-403h0m0 101h0m0 121h0m0 25h0m0 112h0m0 84h0m0 3h0m0 69h0m1-631h0m0 217h0m1-60h0m0 118h0m0 97h0m0 27h0m0 35h0m0 99h0m0 71h0m1-548h0m0 161h0m0 125h0m0 176h0m1-454h0m0 60h0m0 2h0m0 115h0m0 204h0m0 0h0m0 134h0m1-430h0m0 85h0m0 103h0m0 33h0m0 187h0m0 31h0m0 8h0m1-572h0m0 9h0m0 208h0m0 43h0m0 28h0m0 160h0m0 109h0m1-573h0m0 16h0m0 152h0m0 163h0m0 165h0m1-482h0m0 230h0m0 62h0m0 41h0m0 131h0m1-258h0m0 262h0m1-480h0m0 147h0m0 53h0m0 8h0m0 5h0m0 54h0m0 42h0m1-291h0m0 189h0m0 8h0m0 123h0m0 224h0m0 34h0m1-566h0m0 44h0m0 14h0m0 74h0m0 86h0m0 14h0m0 72h0m0 12h0m0 60h0m0 40h0m0 134h0m0 34h0m1-563h0m0 73h0m0 5h0m0 24h0m0 50h0m0 129h0m0 98h0m0 155h0m1-581h0m0 37h0m0 120h0m0 77h0m0 2h0m0 24h0m0 88h0m0 79h0m0 1h0m0 68h0m0 80h0m0 21h0m1-570h0m0 13h0m0 215h0m0 196h0m0 23h0m0 37h0m0 80h0m0 1h0m1-549h0m0 58h0m0 74h0m0 24h0m0 130h0m1-48h0m0 78h0m0 115h0m0 58h0m1-416h0m0 26h0m0 27h0m0 102h0m0 90h0m0 42h0m0 105h0m0 22h0m0 29h0m1-510h0m0 206h0m0 309h0m0 0h0m0 31h0m1-550h0m0 352h0m0 6h0m0 175h0m1-495h0m0 86h0m0 0h0m0 131h0m0 169h0m0 29h0m0 7h0m0 11h0m1-453h0m0 460h0m0 75h0m1-572h0m0 239h0m0 111h0m0 5h0m0 36h0m1-352h0m0 37h0m0 172h0m0 62h0m0 15h0m0 35h0m0 13h0m0 90h0m0 47h0m1-480h0m0 41h0m0 78h0m0 14h0m0 154h0m1-300h0m0 527h0m0 21h0m1-74h0m0 34h0m1-485h0m0 24h0m0 1h0m0 3h0m0 2h0m0 127h0m0 39h0m0 143h0m0 148h0m1-514h0m0 33h0m0 102h0m0 344h0m0 34h0m0 21h0m1-510h0m0 30h0m0 95h0m0 130h0m1-301h0m0 222h0m0 4h0m0 40h0m0 47h0m0 257h0m1-502h0m0 253h0m0 58h0m0 103h0m1-376h0m0 23h0m0 131h0m0 72h0m0 7h0m0 66h0m1-334h0m0 15h0m0 16h0m0 199h0m0 124h0m0 122h0m1-452h0m0 29h0m0 5h0m0 3h0m0 115h0m0 255h0m1-488h0m0 102h0m0 29h0m0 336h0m0 23h0m1-425h0m0 187h0m0 129h0m1-268h0m0 142h0m0 55h0m0 7h0m0 32h0m0 109h0m0 38h0m1-500h0m0 121h0m0 26h0m0 145h0m0 97h0m0 21h0m1-271h0m0 326h0m1-433h0m0 88h0m0 16h0m0 169h0m1-118h0m0 111h0m0 21h0m1-44h0m0 39h0m0 62h0m0 186h0m1-536h0m0 32h0m0 63h0m0 63h0m0 63h0m0 19h0m0 54h0m0 7h0m0 161h0m1-398h0m0 13h0m0 118h0m0 1h0m0 45h0m0 61h0m0 145h0m1-251h0m0 112h0m0 209h0m1-441h0m0 97h0m0 116h0m1-270h0m1-14h0m0 53h0m0 15h0m0 15h0m0 204h0m0 60h0m0 1h0m1-359h0m0 121h0m0 102h0m0 196h0m0 0h0m0 15h0m0 70h0m1-394h0m0 286h0m1-114h0m0 104h0m0 66h0m0 27h0m1-465h0m0 45h0m0 226h0m0 38h0m0 182h0m1-459h0m0 219h0m0 72h0m1-366h0m0 280h0m0 47h0m0 7h0m0 80h0m0 109h0m1-449h0m0 48h0m0 88h0m0 30h0m0 47h0m0 135h0m0 8h0m0 15h0m1-275h0m0 258h0m1-428h0m0 52h0m0 75h0m0 186h0m0 48h0m0 91h0m1-73h0m0 46h0m1-177h0m0 7h0m0 53h0m0 193h0m1-420h0m0 134h0m0 112h0m0 36h0m0 107h0m1-217h0m0 81h0m0 14h0m0 89h0m0 16h0m0 48h0m1-468h0m0 145h0m0 20h0m0 21h0m0 67h0m0 94h0m0 84h0m1-363h0m0 32h0m0 110h0m0 12h0m0 162h0m1-343h0m0 69h0m0 169h0m0 123h0m0 29h0m1-472h0m0 89h0m0 43h0m0 133h0m0 27h0m0 198h0m0 58h0m1-433h0m0 56h0m0 79h0m0 142h0m0 13h0m0 25h0m0 9h0m0 46h0m0 0h0m0 4h0m0 51h0m1-533h0m0 50h0m0 110h0m0 50h0m0 246h0m0 66h0m1-488h0m0 80h0m0 44h0m0 10h0m0 215h0m0 10h0m0 39h0m0 82h0m1-219h0m0 43h0m0 128h0m0 38h0m0 28h0m1-394h0m0 19h0m0 62h0m0 16h0m0 119h0m0 50h0m0 18h0m0 69h0m1-308h0m0 67h0m0 61h0m0 7h0m0 16h0m0 80h0m0 9h0m0 19h0m0 38h0m0 2h0m1-457h0m0 17h0m0 101h0m0 27h0m0 5h0m0 139h0m0 14h0m0 23h0m0 12h0m0 42h0m0 68h0m1-401h0m0 5h0m0 132h0m0 147h0m0 104h0m1-441h0m0 228h0m0 56h0m0 48h0m0 168h0m0 10h0m1-432h0m0 421h0m0 6h0m1-456h0m0 20h0m0 45h0m0 3h0m0 148h0m0 6h0m0 183h0m1-474h0m0 40h0m0 263h0m0 58h0m0 77h0m1-417h0m0 23h0m0 87h0m0 232h0m0 148h0m0 13h0m1-361h0m0 45h0m0 41h0m0 93h0m0 7h0m0 16h0m0 58h0m0 14h0m0 48h0m1-501h0m0 18h0m0 421h0m0 74h0m0 8h0m0 22h0m1-455h0m0 42h0m0 63h0m0 160h0m0 7h0m0 37h0m0 104h0m1-422h0m0 255h0m1-323h0m0 108h0m0 108h0m0 41h0m0 53h0m0 161h0m1-145h0m0 176h0m1-496h0m0 47h0m0 86h0m0 242h0m0 153h0m1-457h0m0 64h0m0 33h0m0 73h0m0 6h0m0 147h0m0 65h0m1-168h0m0 21h0m0 6h0m0 40h0m0 116h0m0 17h0m1-361h0m0 18h0m0 11h0m0 105h0m1-131h0m0 24h0m0 237h0m0 61h0m0 18h0m0 26h0m1-367h0m0 112h0m0 209h0m1-438h0m0 171h0m0 13h0m0 205h0m1-347h0m0 8h0m0 16h0m0 237h0m0 4h0m0 71h0m1-155h0m0 4h0m0 146h0m0 1h0m0 25h0m0 84h0m1-19h0m1-419h0m0 213h0m0 88h0m0 26h0m0 28h0m0 23h0m0 2h0m0 61h0m1-308h0m0 223h0m1-338h0m0 101h0m0 270h0m1-398h0m0 9h0m0 70h0m0 36h0m0 8h0m0 32h0m0 15h0m0 49h0m0 80h0m0 15h0m0 29h0m1-279h0m0 123h0m0 204h0m0 33h0m1-344h0m0 36h0m0 32h0m0 11h0m0 208h0m1-338h0m0 97h0m0 28h0m0 157h0m0 73h0m0 29h0m0 0h0m1-200h0m0 120h0m0 39h0m0 1h0m0 5h0m0 41h0m1-277h0m0 29h0m0 118h0m0 62h0m0 39h0m1-184h0m0 8h0m0 6h0m0 81h0m0 101h0m1-418h0m0 89h0m0 68h0m0 232h0m0 26h0m0 6h0m0 6h0m0 32h0m1-391h0m0 113h0m0 87h0m0 16h0m0 118h0m1-433h0m0 66h0m0 10h0m0 132h0m0 147h0m1-284h0m0 6h0m0 218h0m0 151h0m1-403h0m0 42h0m0 302h0m0 54h0m0 6h0m0 25h0m1-480h0m0 39h0m0 5h0m0 301h0m0 43h0m0 5h0m0 34h0m1-411h0m0 123h0m0 12h0m0 42h0m0 149h0m0 19h0m1-313h0m0 22h0m0 70h0m0 70h0m1-93h0m0 62h0m0 251h0m0 9h0m1-243h0m0 143h0m0 12h0m0 68h0m1-371h0m0 23h0m0 83h0m0 42h0m0 107h0m0 154h0m0 6h0m1-446h0m0 97h0m0 70h0m0 12h0m0 166h0m0 15h0m0 24h0m0 8h0m1-264h0m0 10h0m0 57h0m0 271h0m1-449h0m0 102h0m0 44h0m0 34h0m0 2h0m0 27h0m0 42h0m1-255h0m0 85h0m0 31h0m0 10h0m0 13h0m0 3h0m0 30h0m0 207h0m0 19h0m1-324h0m0 93h0m0 122h0m1-311h0m0 1h0m0 81h0m0 159h0m0 121h0m0 22h0m1-290h0m0 10h0m0 77h0m0 74h0m0 79h0m0 3h0m0 88h0m1-153h0m0 166h0m0 5h0m1-422h0m0 48h0m0 3h0m0 106h0m0 57h0m0 13h0m0 9h0m0 64h0m0 84h0m0 34h0m1-403h0m0 140h0m0 9h0m0 10h0m1-127h0m0 84h0m0 47h0m0 41h0m1-239h0m0 152h0m0 142h0m0 127h0m0 25h0m1-243h0m0 54h0m0 91h0m0 53h0m0 72h0m1-473h0m0 174h0m0 30h0m0 21h0m0 58h0m0 126h0m1-373h0m0 21h0m0 96h0m0 18h0m0 81h0m0 150h0m1-290h0m0 102h0m0 20h0m0 57h0m0 18h0m1-129h0m0 116h0m0 28h0m1-196h0m0 58h0m0 94h0m0 147h0m0 16h0m1-380h0m0 17h0m0 29h0m0 284h0m1-246h0m0 58h0m1-147h0m0 35h0m0 134h0m0 92h0m0 12h0m1-224h0m0 105h0m0 106h0m0 124h0m1-317h0m0 175h0m0 80h0m0 83h0m1-425h0m0 34h0m0 95h0m0 63h0m0 9h0m0 52h0m0 43h0m0 30h0m0 33h0m1-298h0m0 12h0m0 100h0m0 116h0m0 38h0m0 60h0m0 10h0m1-384h0m0 92h0m0 4h0m0 11h0m0 72h0m0 1h0m0 60h0m0 13h0m0 26h0m1-292h0m0 31h0m0 52h0m0 6h0m0 187h0m1-210h0m0 33h0m0 174h0m0 30h0m0 63h0m1-117h0m0 79h0m0 33h0m0 6h0m0 5h0m1-392h0m0 99h0m0 18h0m0 91h0m0 132h0m1-232h0m0 15h0m1-92h0m0 236h0m0 132h0m0 7h0m0 30h0m1-198h0m0 57h0m1-209h0m0 263h0m0 21h0m1-357h0m0 30h0m0 43h0m0 199h0m0 14h0m0 21h0m1-169h0m0 30h0m0 148h0m1-129h0m0 37h0m0 31h0m0 37h0m0 95h0m1-381h0m0 147h0m0 40h0m0 173h0m1-353h0m0 122h0m0 41h0m0 60h0m0 24h0m0 31h0m1-205h0m0 99h0m0 100h0m1-260h0m0 36h0m0 106h0m1 34h0m0 41h0m0 107h0m2-331h0m0 95h0m0 73h0m0 134h0m1-298h0m0 113h0m0 201h0m0 8h0m1-154h0m0 9h0m1 27h0m0 64h0m0 38h0m0 57h0m1-272h0m0 202h0m0 20h0m1 39h0m1-304h0m0 244h0m1-304h0m0 29h0m0 27h0m0 105h0m0 34h0m0 16h0m1-16h0m0 13h0m0 87h0m1-296h0m0 48h0m0 187h0m1-82h0m0 42h0m0 17h0m0 6h0m1-169h0m0 25h0m0 261h0m0 6h0m1-271h0m0 54h0m0 44h0m0 83h0m0 15h0m1-268h0m0 8h0m0 93h0m0 48h0m0 173h0m1-242h0m0 14h0m0 114h0m0 19h0m0 147h0m0 4h0m1-403h0m0 273h0m0 23h0m0 12h0m1-94h0m0 137h0m1-347h0m0 20h0m0 167h0m0 101h0m0 56h0m0 57h0m1-342h0m0 12h0m0 12h0m0 130h0m0 88h0m0 20h0m0 73h0m1-375h0m0 23h0m0 173h0m0 96h0m1-192h0m0 258h0m1-171h0m0 36h0m0 13h0m0 14h0m0 29h0m0 36h0m1-290h0m0 6h0m0 83h0m0 169h0m0 38h0m0 14h0m0 32h0m1-363h0m0 204h0m0 21h0m0 0h0m1-179h0m0 160h0m0 25h0m0 48h0m0 42h0m0 51h0m1-399h0m0 41h0m0 53h0m0 127h0m0 8h0m0 64h0m0 73h0m1-353h0m0 5h0m0 294h0m0 11h0m1-296h0m0 177h0m0 65h0m1-207h0m0 192h0m1-183h0m0 266h0m1-238h0m0 73h0m0 120h0m0 46h0m1-289h0m0 69h0m0 19h0m0 84h0m0 103h0m1-320h0m0 30h0m0 17h0m0 45h0m0 248h0m1-248h0m0 16h0m0 72h0m0 178h0m1-186h0m0 89h0m1-72h0m0 6h0m0 38h0m0 71h0m1-284h0m0 120h0m0 98h0m0 104h0m0 34h0m1-336h0m0 16h0m0 146h0m1-106h0m1-73h0m0 2h0m0 195h0m1-173h0m0 30h0m0 204h0m0 59h0m1-126h0m0 51h0m1-241h0m0 205h0m1-218h0m0 8h0m0 211h0m1-64h0m0 65h0m1-78h0m0 29h0m1-148h0m0 21h0m0 118h0m0 18h0m0 9h0m1 71h0m0 39h0m0 48h0m1-147h0m0 0h0m0 23h0m0 5h0m0 74h0m1-297h0m0 52h0m0 14h0m0 76h0m0 122h0m0 12h0m1-209h0m0 79h0m1 92h0m0 109h0m1-106h0m0 46h0m0 10h0m1-232h0m0 20h0m0 99h0m0 38h0m0 42h0m0 17h0m0 50h0m1-10h0m1-283h0m0 18h0m0 91h0m0 38h0m1-159h0m0 4h0m1-22h0m0 29h0m0 16h0m0 192h0m0 15h0m0 7h0m0 32h0m0 12h0m1-160h0m0 42h0m0 78h0m0 34h0m1-253h0m0 8h0m0 5h0m0 65h0m0 61h0m1-149h0m0 257h0m1-260h0m0 186h0m0 18h0m1-196h0m1 69h0m0 81h0m0 0h0m1-53h0m0 37h0m0 84h0m0 58h0m1-247h0m0 59h0m0 5h0m1-68h0m0 164h0m0 52h0m1-236h0m0 36h0m0 88h0m0 10h0m0 50h0m0 66h0m1-150h0m0 2h0m0 2h0m0 11h0m0 88h0m1-137h0m0 44h0m0 27h0m1-155h0m0 55h0m0 96h0m1-58h0m0 43h0m2-92h0m0 90h0m1-103h0m0 41h0m0 167h0m1-196h0m1 40h0m0 73h0m0 6h0m0 15h0m2-35h0m2-81h0m1 0h0m1 29h0m1-14h0m2 39h0m0 49h0m2-13h0m0 9h0m1 29h0m1-136h0m0 4h0m1 28h0m0 23h0m0 33h0m0 1h0m0 51h0m1-21h0m1-114h0m1 55h0m0 64h0m2 12h0m1-62h0" stroke="#3d9cf0" stroke-width="12.4" stroke-linecap="round"/>
<path transform="scale(.1)" d="M5179 792h0m8 170h0m3-189h0m6 128h0m8-82h0m2 190h0m9-344h0m1 304h0m4-284h0m5 13h0m5 7h0m2 43h0m1 226h0m2 46h0m4-161h0m4-297h0m4 17h0m1-70h0m1 292h0m0 76h0m1-263h0m0 21h0m1 66h0m2 27h0m2-240h0m1 514h0m2-448h0m0 218h0m2 86h0m1-475h0m2 472h0m0 176h0m3-72h0m1 65h0m4-6h0m1-215h0m1 79h0m3-543h0m0 157h0m0 180h0m2 265h0m1-626h0m0 120h0m0 447h0m2-20h0m2 49h0m1-317h0m0 296h0m1 96h0m0 17h0m3-211h0m0 149h0m3 87h0m1-289h0m1-366h0m0 75h0m1 62h0m0 415h0m2-201h0m1-266h0m0 134h0m0 43h0m5 155h0m1 33h0m1-527h0m0 23h0m2 480h0m1-117h0m4 3h0m3 135h0m2-363h0m0 376h0m3 83h0m2-478h0m2-153h0m0 570h0m2-212h0m0 151h0m1-274h0m0 441h0m5-144h0m4-283h0m1-183h0m1-5h0m2 61h0m1 326h0m1 74h0m0 66h0m3 29h0m0 3h0m2-547h0m0 636h0m2-408h0m3 79h0m1 59h0m5-171h0m2-53h0m2-25h0m0 178h0m2 99h0m1 28h0m4 16h0m1 9h0m4 178h0m3-473h0m1 328h0m1-524h0m3 349h0m2-278h0m4 331h0m4-297h0m1-55h0m5 336h0m0 223h0m2 72h0m2-521h0m1 408h0m4-516h0m1 142h0m2 361h0m2-465h0m1 142h0m1 113h0m4-247h0m5 86h0m0 109h0m0 120h0m2-199h0m1 262h0m6-16h0m1-373h0m1 213h0m2-216h0m4 439h0m11-247h0m0 183h0m1-222h0m3-115h0m0 279h0m0 134h0m1-50h0m11-365h0m4-32h0m4 119h0m4-133h0m2 162h0m5 268h0m4-434h0m5 173h0m2-32h0m2 187h0m1 187h0m7-419h0m3 66h0m5 248h0m1-26h0m2-345h0m9 443h0m4-118h0m9-144h0m0 264h0m4-57h0m3-383h0m2 299h0m2-322h0m0 228h0m2-6h0m0 171h0m5-134h0m4-98h0m0 193h0m3-197h0m1-79h0m2-12h0m2 322h0m2-308h0m13 186h0m1-35h0m3-124h0m1 34h0m0 177h0m4-173h0m1 240h0m11-356h0m14 40h0m0 216h0m1-247h0m1 201h0m5-33h0m1 87h0m1-236h0m2 39h0m1 20h0m1-29h0m15 40h0" stroke="#fff" stroke-width="11.2" stroke-linecap="round"/>
<path d="M495.00,66.00 C497.50,61.67 508.33,67.67 512.00,70.00 C515.67,72.33 516.33,75.83 517.00,80.00 C517.67,84.17 518.00,91.17 516.00,95.00 C514.00,98.83 508.17,102.83 505.00,103.00 C501.83,103.17 498.67,102.17 497.00,96.00 C495.33,89.83 492.50,70.33 495.00,66.00Z" fill="#f9fef9"/>
<path transform="scale(.1)" d="M4949 783h0m3 22h0m2-127h0m1 69h0m4 105h0m3-24h0m1 43h0m4-171h0m2 38h0m2 101h0m0 116h0m1-146h0m3 30h0m2 61h0m1-239h0m1 78h0m4 2h0m0 169h0m2-222h0m1 260h0m1-119h0m2 88h0m1-208h0m0 265h0m1-126h0m0 25h0m2 27h0m1 77h0m1-68h0m0 74h0m2-234h0m0 102h0m1-165h0m8-31h0m3 152h0m1 75h0m1-156h0m2 151h0m1-93h0m0 57h0m1-13h0m0 65h0m4 78h0m1-239h0m1-35h0m0 36h0m0 199h0m0 9h0m1-93h0m3-88h0m1 0h0m0 116h0m5-71h0m1 9h0m1-65h0m0 250h0m2-39h0m1-260h0m0 107h0m1 16h0m1-86h0m5 69h0m3-86h0m0 212h0m4-110h0m1-19h0m0 171h0m1-28h0m1-219h0m1 258h0m1 42h0m1-159h0m0 86h0m2-133h0m2-4h0m3 76h0m0 32h0m1-51h0m0 3h0m3-86h0m1 78h0m2 12h0m1-118h0m0 56h0m2 86h0m2-62h0m1 52h0m0 118h0m1-104h0m2-172h0m0 14h0m1 201h0m1-39h0m0 76h0m4-40h0m3-95h0m5-75h0m2-31h0m1 211h0m1-234h0m1 46h0m0 165h0m2-224h0m0 112h0m2 71h0m1-19h0m3-94h0m0 215h0m3-24h0m3-248h0m2 79h0m0 97h0m0 95h0m2-148h0m3-110h0m1 27h0m0 193h0m3-84h0m0 63h0m1-146h0m3 81h0m1-109h0m3 185h0m1-116h0m0 80h0m1 53h0m1-131h0m6-36h0m4 43h0m3-76h0m1-42h0m0 224h0m2-107h0m0 20h0m1 18h0m1 12h0m1-138h0m0 55h0m1 136h0m2-158h0m4 73h0m1 9h0m6-87h0m4 78h0" stroke="#c9f6c9" stroke-width="12.4" stroke-linecap="round"/>
<path transform="scale(.1)" d="M4952 847h0m28-59h0m10 204h0m2-321h0m15 338h0m14-196h0m56 70h0m2 91h0m21-98h0m6 40h0m17 72h0" stroke="#fff" stroke-width="11.2" stroke-linecap="round"/>
<path d="M514.00,86.00 C515.50,83.33 519.33,83.00 522.00,84.00 C524.67,85.00 527.83,89.33 530.00,92.00 C532.17,94.67 535.00,97.67 535.00,100.00 C535.00,102.33 532.83,105.00 530.00,106.00 C527.17,107.00 520.83,107.00 518.00,106.00 C515.17,105.00 513.67,103.33 513.00,100.00 C512.33,96.67 512.50,88.67 514.00,86.00Z" fill="#bcc7e5"/>
<path transform="scale(.1)" d="M5126 963h0m3 42h0m1-48h0m1 1h0m0 8h0m1-2h0m0 22h0m2 18h0m2-128h0m0 132h0m1-116h0m0 34h0m0 7h0m1 6h0m0 11h0m0 62h0m2-10h0m2-84h0m0 77h0m3-123h0m0 156h0m0 10h0m2-173h0m0 29h0m1 15h0m0 46h0m1-6h0m0 83h0m2-152h0m0 93h0m1-68h0m0 12h0m0 46h0m0 36h0m0 33h0m1-152h0m0 106h0m1-24h0m1-9h0m1-25h0m2 28h0m0 86h0m1 7h0m1-72h0m2-92h0m1 87h0m1-45h0m0 28h0m0 41h0m1-36h0m0 91h0m3-174h0m0 111h0m2-13h0m0 33h0m1-101h0m0 57h0m0 7h0m2-40h0m0 88h0m1-166h0m0 65h0m1-29h0m0 92h0m2-133h0m1 51h0m1 75h0m1-114h0m1 19h0m0 22h0m1-52h0m0 124h0m0 3h0m1 43h0m1-69h0m0 57h0m1-36h0m1-129h0m0 79h0m0 59h0m0 29h0m1-131h0m0 17h0m0 16h0m0 128h0m2 5h0m0 16h0m1-35h0m1 19h0m1-47h0m0 15h0m1-102h0m0 1h0m0 78h0m0 65h0m1-216h0m0 58h0m1-30h0m0 31h0m1 33h0m0 43h0m1-124h0m0 127h0m1 17h0m1-64h0m0 11h0m0 32h0m0 42h0m0 17h0m1-161h0m0 127h0m0 49h0m1-117h0m0 75h0m1-81h0m0 23h0m1 76h0m0 39h0m2-179h0m0 63h0m1-38h0m0 11h0m0 2h0m0 8h0m0 15h0m0 32h0m0 62h0m1-168h0m0 95h0m0 26h0m0 6h0m0 50h0m1-135h0m0 120h0m0 14h0m0 1h0m1-135h0m0 112h0m1-132h0m1 96h0m0 39h0m1-183h0m0 25h0m1 87h0m0 77h0m1-155h0m0 35h0m2-45h0m1-15h0m0 109h0m0 88h0m1-136h0m0 68h0m3-125h0m0 143h0m1-131h0m0 54h0m0 12h0m0 23h0m0 56h0m1-116h0m0 118h0m1-79h0m0 0h0m1-67h0m0 197h0m1-26h0m2-128h0m0 67h0m1-114h0m0 110h0m1-115h0m0 2h0m0 6h0m0 25h0m0 1h0m1 134h0m1-129h0m0 21h0m1 88h0m1-122h0m0 63h0m0 62h0m1-139h0m0 160h0m1-125h0m0 46h0m0 15h0m0 28h0m2-49h0m0 98h0m1-83h0m1 0h0m0 86h0m2-118h0m0 49h0m1-94h0m0 100h0m1-73h0m0 17h0m0 2h0m0 48h0m0 76h0m1-150h0m0 44h0m0 0h0m1 52h0m0 15h0m2-111h0m0 140h0m1-13h0m0 10h0m0 9h0m0 5h0m0 0h0m1-114h0m0 12h0m1-21h0m1 73h0m1-142h0m0 21h0m0 177h0m1-53h0m1-140h0m1 189h0m0 8h0m1-123h0m0 74h0m1-29h0m2-72h0m0 70h0m3-71h0m0 26h0m0 3h0m0 109h0m1-168h0m0 67h0m2-44h0m1 76h0m2-92h0m0 92h0m0 39h0m2 40h0m2-167h0m0 14h0m0 153h0m1-151h0m2 54h0m1 46h0m0 42h0m1-96h0m0 79h0m1-123h0m0 12h0m1 109h0m1-133h0m1 77h0m0 88h0m2-149h0m0 86h0m0 35h0m1-63h0m1-69h0m0 9h0m0 105h0m3-48h0m3-49h0m0 123h0m1-119h0m2 82h0m0 4h0m1-89h0m1 72h0m1 52h0m2-99h0m0 95h0m1-53h0m1-59h0m1 9h0m1 42h0m7 37h0m1-69h0m3-13h0m1 39h0m1 61h0m1-81h0m0 24h0m2-3h0m0 8h0m1 9h0m0 24h0m3-52h0m0 18h0m1 32h0m2 21h0m5-27h0m6-42h0m0 24h0m2-9h0m9 6h0" stroke="#0b34a0" stroke-width="12.4" stroke-linecap="round"/>
<path transform="scale(.1)" d="M5132 921h0m5 7h0m9 23h0m6-93h0m1 24h0m7 38h0m7 89h0m5-138h0m9 106h0m6-96h0m19 45h0m12-15h0m4-47h0m1 101h0m4 69h0m21-171h0m11 125h0m19 37h0m8 32h0m4-58h0m25-10h0m4 13h0m2-11h0m13 5h0" stroke="#fff" stroke-width="11.2" stroke-linecap="round"/>
<ellipse cx="503.50" cy="72.50" rx="7.50" ry="8.50" fill="#d1d8ed"/>
<path transform="scale(.1)" d="M4980 741h0m0 9h0m8-56h0m5 88h0m3 0h0m3-53h0m1 28h0m3-97h0m2 70h0m1-8h0m2-7h0m1-27h0m2 45h0m2 65h0m0 2h0m1-125h0m5 82h0m1-67h0m0 1h0m1 104h0m1-115h0m1-22h0m0 5h0m1 7h0m1 31h0m0 86h0m4-23h0m0 36h0m1-48h0m2-108h0m1 118h0m0 23h0m2-4h0m3-145h0m0 54h0m1-38h0m1 22h0m0 41h0m0 12h0m1 46h0m1 1h0m1-102h0m1 46h0m0 23h0m2-7h0m8-89h0m0 43h0m0 73h0m1-31h0m1-26h0m0 5h0m1 2h0m1-39h0m0 56h0m1 18h0m4 16h0m1-77h0m0 80h0m1 22h0m0 18h0m2-140h0m2 96h0m1 3h0m1-37h0m0 24h0m2-87h0m0 100h0m2-1h0m2-56h0m4-18h0m5 68h0m3-78h0m5 50h0m5 25h0m10-16h0" stroke="#0b34a0" stroke-width="12.4" stroke-linecap="round"/>
<path transform="scale(.1)" d="M5027 662h0m17 134h0m1-94h0m9-44h0m7-5h0m8 112h0" stroke="#fff" stroke-width="11.2" stroke-linecap="round"/>
<path d="M547.00,52.00 C547.75,51.00 549.33,49.67 550.00,51.00 C550.67,52.33 551.17,57.33 551.00,60.00 C550.83,62.67 549.83,66.33 549.00,67.00 C548.17,67.67 546.58,65.67 546.00,64.00 C545.42,62.33 545.33,59.00 545.50,57.00 C545.67,55.00 546.25,53.00 547.00,52.00Z" fill="#ccd5eb"/>
<path transform="scale(.1)" d="M5452 610h0m3-53h0m0 54h0m1 10h0m1-46h0m5 53h0m7-29h0m1 47h0m1-78h0m1 37h0m5-46h0m1 83h0m4-132h0m0 112h0m2-49h0m0 91h0m2-3h0m1-149h0m2 9h0m0 114h0m1-23h0m1-67h0m6 55h0m0 5h0m1-43h0m0 23h0m0 33h0m1 3h0m0 16h0m2-60h0m2-1h0m2-26h0m1 12h0m1 56h0m0 8h0" stroke="#0b34a0" stroke-width="12.4" stroke-linecap="round"/>
<path transform="scale(.1)" d="M5466 596h0m17-53h0" stroke="#fff" stroke-width="11.2" stroke-linecap="round"/>
<path d="M486.00,58.00 C487.00,56.67 490.50,55.67 492.00,57.00 C493.50,58.33 494.55,63.58 495.00,66.00 C495.45,68.42 495.70,70.67 494.70,71.50 C493.70,72.33 490.45,72.08 489.00,71.00 C487.55,69.92 486.50,67.17 486.00,65.00 C485.50,62.83 485.00,59.33 486.00,58.00Z" fill="#dbfac0"/>
<path transform="scale(.1)" d="M4851 601h0m4-1h0m0 31h0m4-13h0m2-21h0m0 21h0m2-10h0m1-5h0m0 32h0m2-59h0m1 54h0m1-52h0m1 55h0m1-20h0m2 74h0m1-66h0m1-51h0m0 23h0m0 1h0m1-17h0m0 10h0m0 13h0m0 7h0m0 48h0m1-51h0m1 66h0m1-43h0m2 21h0m0 23h0m3-61h0m0 19h0m0 7h0m0 63h0m2-102h0m1-6h0m0 36h0m0 45h0m0 19h0m1-71h0m2-6h0m1-48h0m0 56h0m2 72h0m1-71h0m0 37h0m1-77h0m0 112h0m0 8h0m1-90h0m0 4h0m0 37h0m0 34h0m1-109h0m0 80h0m1-94h0m0 32h0m0 15h0m0 38h0m1 65h0m1-94h0m0 68h0m1-127h0m0 86h0m2-45h0m1 77h0m0 4h0m0 24h0m1-134h0m0 130h0m1-118h0m0 52h0m1 69h0m1-100h0m0 76h0m1-79h0m1 28h0m0 27h0m0 16h0m1 28h0m1-94h0m0 37h0m0 37h0m0 3h0m1-46h0m0 67h0m1-65h0m0 10h0m0 60h0m2-128h0m1 45h0m0 7h0m0 70h0m1-78h0m1-15h0m0 42h0m0 17h0m0 0h0m1-41h0m1 49h0m1-73h0m0 45h0m1 12h0m1-29h0m0 12h0m0 62h0m1-14h0m0 11h0m1-32h0m1-66h0m0 1h0m0 66h0m0 11h0m0 13h0m2-118h0m0 17h0m0 16h0m0 55h0m1-73h0m1 71h0m1-17h0m1-63h0m0 11h0m0 4h0m0 40h0m1 74h0m1-64h0m0 23h0m1-47h0m0 15h0m0 19h0m1-43h0m0 13h0m1-14h0m0 14h0m0 49h0m0 26h0m1-17h0m2-49h0m0 64h0m1 6h0m1-7h0m3-27h0m0 1h0m1-22h0" stroke="#8ff03c" stroke-width="12.4" stroke-linecap="round"/>
<path transform="scale(.1)" d="M4862 593h0m1 50h0m19 44h0m2-11h0m7-62h0m22-11h0m7 53h0m9 51h0m5-62h0m1 11h0m5-39h0" stroke="#fff" stroke-width="11.2" stroke-linecap="round"/>
<path d="M491.00,83.00 C492.33,81.33 495.95,80.50 498.00,82.00 C500.05,83.50 502.47,88.87 503.30,92.00 C504.13,95.13 504.22,99.47 503.00,100.80 C501.78,102.13 498.17,101.47 496.00,100.00 C493.83,98.53 490.83,94.83 490.00,92.00 C489.17,89.17 489.67,84.67 491.00,83.00Z" fill="#dbfac0"/>
<path transform="scale(.1)" d="M4895 888h0m0 21h0m3-44h0m2 34h0m1-12h0m1-3h0m4-21h0m1 20h0m3 35h0m1-46h0m1-13h0m0 4h0m0 37h0m0 26h0m2-96h0m0 66h0m1-54h0m0 6h0m0 2h0m0 15h0m3-19h0m0 81h0m1-47h0m1-22h0m1 38h0m0 15h0m0 8h0m2 22h0m3-103h0m0 117h0m1-93h0m0 1h0m2 94h0m1-127h0m0 1h0m2 100h0m0 17h0m1-120h0m1 23h0m0 3h0m0 20h0m0 53h0m0 41h0m1-50h0m1-51h0m1 50h0m1-61h0m0 19h0m1 64h0m1-101h0m0 57h0m1-6h0m0 30h0m0 20h0m0 38h0m1-129h0m0 44h0m0 44h0m2-25h0m0 40h0m1-139h0m0 23h0m1 122h0m1-31h0m0 16h0m0 11h0m0 11h0m1-107h0m1-34h0m0 65h0m1 26h0m1-48h0m0 5h0m0 2h0m0 45h0m1-86h0m0 2h0m1-7h0m0 4h0m0 21h0m0 73h0m0 29h0m0 17h0m0 19h0m2-120h0m0 6h0m0 61h0m0 48h0m1-157h0m1 15h0m0 147h0m1-166h0m0 55h0m0 48h0m0 29h0m0 6h0m2-152h0m0 67h0m1 32h0m0 2h0m0 34h0m2-87h0m0 4h0m0 35h0m0 5h0m1-21h0m0 28h0m1 88h0m1-159h0m0 6h0m0 52h0m0 15h0m0 18h0m0 18h0m1 12h0m2-35h0m0 31h0m0 19h0m1-153h0m0 9h0m0 111h0m0 5h0m0 36h0m1-150h0m0 42h0m0 42h0m0 65h0m1-158h0m0 39h0m0 142h0m1-123h0m0 39h0m0 6h0m0 20h0m0 7h0m0 42h0m1-128h0m1 53h0m0 22h0m0 20h0m1 31h0m1-167h0m2 44h0m0 54h0m0 62h0m0 29h0m2-160h0m0 65h0m0 51h0m1-48h0m1-66h0m0 16h0m0 65h0m0 23h0m1-136h0m0 6h0m0 1h0m0 9h0m0 35h0m0 99h0m1-114h0m0 29h0m0 58h0m0 57h0m1-147h0m0 98h0m1 13h0m0 12h0m1-114h0m0 61h0m0 25h0m0 39h0m0 7h0m1-95h0m0 98h0m1-154h0m0 25h0m1-7h0m0 92h0m1-118h0m0 23h0m0 15h0m1 14h0m0 6h0m0 4h0m0 59h0m0 8h0m1-118h0m0 159h0m1-29h0m1-115h0m0 38h0m0 49h0m1-87h0m0 84h0m0 22h0m0 9h0m1 30h0m1-64h0m1 63h0m1-65h0m1-100h0m0 59h0m0 15h0m1 80h0m1-116h0m0 26h0m0 27h0m0 38h0m1-99h0m0 54h0m0 39h0m1-3h0m0 7h0m1-105h0m2 2h0m0 7h0m1 134h0m1-94h0m0 46h0m1-86h0m0 7h0m0 34h0m0 39h0m0 34h0m0 18h0m2-70h0m0 35h0m1-61h0m0 44h0m1-19h0m1-39h0m0 68h0m0 17h0m1-40h0m2-30h0m0 28h0m0 6h0m0 21h0m1-64h0m0 35h0m1 21h0m2 38h0m1-87h0m0 89h0m1-69h0m0 2h0m0 6h0m0 8h0m0 36h0m1-74h0m0 22h0m0 27h0m0 51h0m1-97h0m0 75h0m0 2h0m0 16h0m1-30h0m2 22h0m1-18h0m1 7h0m1-43h0m2 47h0m2-30h0m3-2h0" stroke="#8ff03c" stroke-width="12.4" stroke-linecap="round"/>
<path transform="scale(.1)" d="M4898 905h0m8 2h0m26 28h0m7 21h0m3-124h0m4 38h0m12-20h0m0 82h0m2-98h0m11 82h0m6-43h0m2 31h0m11-64h0m1 3h0m6 47h0m1 64h0m1-35h0m5 91h0m5-59h0m12-12h0m6 33h0" stroke="#fff" stroke-width="11.2" stroke-linecap="round"/>
<path d="M512.00,54.00 C513.17,52.33 516.58,50.67 518.00,52.00 C519.42,53.33 520.33,58.75 520.50,62.00 C520.67,65.25 520.25,70.17 519.00,71.50 C517.75,72.83 514.33,71.58 513.00,70.00 C511.67,68.42 511.17,64.67 511.00,62.00 C510.83,59.33 510.83,55.67 512.00,54.00Z" fill="#dbfac0"/>
<path transform="scale(.1)" d="M5105 638h0m2-48h0m1 12h0m3 16h0m1-11h0m0 0h0m1-52h0m0 62h0m2-20h0m0 19h0m1-50h0m0 99h0m1-43h0m1-1h0m1-68h0m0 20h0m1 84h0m1-121h0m0 143h0m1-82h0m0 36h0m0 15h0m0 9h0m0 26h0m1-131h0m0 45h0m0 42h0m1 8h0m1-89h0m1 78h0m2-1h0m2-99h0m0 8h0m0 17h0m0 34h0m0 64h0m0 2h0m1-129h0m0 7h0m0 38h0m0 3h0m0 3h0m0 104h0m1-148h0m0 22h0m1 21h0m1-31h0m1-5h0m0 62h0m0 89h0m1-73h0m0 29h0m1-115h0m0 4h0m0 6h0m0 151h0m1-153h0m0 49h0m0 34h0m1-62h0m1-5h0m0 55h0m0 31h0m0 40h0m0 5h0m1-119h0m0 89h0m1-15h0m0 44h0m0 11h0m1-110h0m0 70h0m0 30h0m0 4h0m1-126h0m0 15h0m0 55h0m1-89h0m0 19h0m0 51h0m0 46h0m0 10h0m1-93h0m0 18h0m0 14h0m1 50h0m0 41h0m1-7h0m3-135h0m0 28h0m0 101h0m1 4h0m1-169h0m0 4h0m0 67h0m0 106h0m1-112h0m1 47h0m0 20h0m0 25h0m2-172h0m0 130h0m1-128h0m0 86h0m0 69h0m0 19h0m2-164h0m0 26h0m0 47h0m1 45h0m2-103h0m0 9h0m1 38h0m0 9h0m1-24h0m0 70h0m0 19h0m1-60h0m1-9h0m0 101h0m1-144h0m1 61h0m1-52h0m0 2h0m0 34h0m1 40h0m1-67h0m0 36h0m1-2h0m0 92h0m1-155h0m0 145h0m1-70h0m0 1h0m0 19h0m1-105h0m0 43h0m0 18h0m0 48h0m0 26h0m0 0h0m0 41h0m1-151h0m0 88h0m1-31h0m0 20h0m0 42h0m0 2h0m0 35h0m1-170h0m0 73h0m1-86h0m0 1h0m0 3h0m0 51h0m0 90h0m0 21h0m0 5h0m1-154h0m0 48h0m0 3h0m0 52h0m0 35h0m0 25h0m1-105h0m0 16h0m0 98h0m1-163h0m2-7h0m0 104h0m1-117h0m0 78h0m0 16h0m0 10h0m1-19h0m1-59h0m0 27h0m0 23h0m0 94h0m1-172h0m0 19h0m1 128h0m1-122h0m0 38h0m0 34h0m1 42h0m0 34h0m0 1h0m2-119h0m0 5h0m0 112h0m2-136h0m0 112h0m0 3h0m1-1h0m1-102h0m2 59h0m0 49h0m1-92h0m1 34h0m1-20h0" stroke="#8ff03c" stroke-width="12.4" stroke-linecap="round"/>
<path transform="scale(.1)" d="M5110 588h0m3 17h0m2-21h0m14 101h0m5-14h0m2-72h0m6 44h0m5-65h0m0 108h0m2-3h0m3-142h0m5 139h0m8-104h0m10 10h0m6 120h0m1-70h0" stroke="#fff" stroke-width="11.2" stroke-linecap="round"/>
<path d="M508.50,93.90 C509.00,92.40 511.85,91.57 513.00,93.00 C514.15,94.43 515.90,101.00 515.40,102.50 C514.90,104.00 511.15,103.43 510.00,102.00 C508.85,100.57 508.00,95.40 508.50,93.90Z" fill="#dbfac0"/>
<path transform="scale(.1)" d="M5085 967h0m3-1h0m2-36h0m0 16h0m2-5h0m0 17h0m0 48h0m5 8h0m1-80h0m2 61h0m0 6h0m0 9h0m2-38h0m2 7h0m0 18h0m1-29h0m1 56h0m1-61h0m0 56h0m1-91h0m0 44h0m0 2h0m1-37h0m2-12h0m0 39h0m2-13h0m0 24h0m2-38h0m0 34h0m0 8h0m0 5h0m1-16h0m0 13h0m0 21h0m2-38h0m0 37h0m0 4h0m0 17h0m1-44h0m1-31h0m0 33h0m0 21h0m1 12h0m2-85h0m0 104h0m1-77h0m1 14h0m1-12h0m1 16h0m0 46h0m1-79h0m0 89h0m2-70h0m0 40h0m0 27h0m1-91h0m0 39h0m3-28h0m0 41h0m0 13h0m0 31h0m1-49h0m1-20h0m0 33h0m0 3h0m1-14h0m2-2h0m0 22h0m2-23h0m2-10h0m1 2h0m8 20h0m4 25h0" stroke="#8ff03c" stroke-width="12.4" stroke-linecap="round"/>
<path transform="scale(.1)" d="M5088 944h0m18 17h0m3 49h0m1-72h0m18 8h0" stroke="#fff" stroke-width="11.2" stroke-linecap="round"/>
<path d="M527.40,50.90 C527.87,49.90 530.20,49.13 530.80,50.00 C531.40,50.87 531.47,55.10 531.00,56.10 C530.53,57.10 528.60,56.87 528.00,56.00 C527.40,55.13 526.93,51.90 527.40,50.90Z" fill="#b9e7ca"/>
<path transform="scale(.1)" d="M5274 543h0m2 4h0m2-15h0m2 8h0m1 11h0m2-7h0m1-10h0m2-36h0m0 24h0m2-25h0m0 17h0m2 26h0m1-7h0m0 11h0m0 19h0m0 2h0m1-61h0m0 13h0m2 20h0m0 11h0m1-24h0m3 30h0m1-25h0m1-5h0m0 9h0m0 23h0m2-48h0m0 11h0m0 6h0m0 0h0m1 15h0m1-5h0m2 4h0m5 7h0m1-16h0m0 26h0m3-27h0" stroke="#33b864" stroke-width="12.4" stroke-linecap="round"/>
<path transform="scale(.1)" d="M5275 539h0m20 18h0" stroke="#fff" stroke-width="11.2" stroke-linecap="round"/>
</g>
<line x1="18.40" y1="21.60" x2="18.40" y2="113.55" stroke="#333" stroke-width="0.8"/>
<line x1="18.05" y1="113.20" x2="106.80" y2="113.20" stroke="#333" stroke-width="0.8"/>
<line x1="16.80" y1="40.10" x2="18.40" y2="40.10" stroke="#333" stroke-width="0.6"/>
<text x="16.10" y="40.10" text-anchor="middle" style="font-size:5.3px" fill="#333" transform="rotate(-90 16.10 40.10)">5</text>
<line x1="16.80" y1="64.00" x2="18.40" y2="64.00" stroke="#333" stroke-width="0.6"/>
<text x="16.10" y="64.00" text-anchor="middle" style="font-size:5.3px" fill="#333" transform="rotate(-90 16.10 64.00)">0</text>
<line x1="16.80" y1="88.00" x2="18.40" y2="88.00" stroke="#333" stroke-width="0.6"/>
<text x="16.10" y="88.00" text-anchor="middle" style="font-size:5.3px" fill="#333" transform="rotate(-90 16.10 88.00)">-5</text>
<line x1="16.80" y1="111.70" x2="18.40" y2="111.70" stroke="#333" stroke-width="0.6"/>
<text x="16.10" y="111.70" text-anchor="middle" style="font-size:5.3px" fill="#333" transform="rotate(-90 16.10 111.70)">-10</text>
<line x1="23.60" y1="113.20" x2="23.60" y2="114.80" stroke="#333" stroke-width="0.6"/>
<text x="23.60" y="119.50" text-anchor="middle" style="font-size:5.0px" fill="#333">-10</text>
<line x1="46.00" y1="113.20" x2="46.00" y2="114.80" stroke="#333" stroke-width="0.6"/>
<text x="46.00" y="119.50" text-anchor="middle" style="font-size:5.0px" fill="#333">-5</text>
<line x1="68.30" y1="113.20" x2="68.30" y2="114.80" stroke="#333" stroke-width="0.6"/>
<text x="68.30" y="119.50" text-anchor="middle" style="font-size:5.0px" fill="#333">0</text>
<line x1="92.00" y1="113.20" x2="92.00" y2="114.80" stroke="#333" stroke-width="0.6"/>
<text x="92.00" y="119.50" text-anchor="middle" style="font-size:5.0px" fill="#333">5</text>
<text x="62.60" y="124.00" text-anchor="middle" style="font-size:5.35px" fill="#222">UMAP_1</text>
<text x="9.20" y="67.40" text-anchor="middle" style="font-size:5.35px" fill="#222" transform="rotate(-90 9.20 67.40)">UMAP_2</text>
<text x="65.00" y="10.90" text-anchor="middle" style="font-size:8.0px">Cortical assembloids (n=13)</text>
<line x1="125.30" y1="22.00" x2="125.30" y2="113.35" stroke="#333" stroke-width="0.8"/>
<line x1="124.95" y1="113.00" x2="215.00" y2="113.00" stroke="#333" stroke-width="0.8"/>
<line x1="123.70" y1="27.00" x2="125.30" y2="27.00" stroke="#333" stroke-width="0.6"/>
<text x="123.00" y="28.80" text-anchor="end" style="font-size:5.0px" fill="#333">4</text>
<line x1="123.70" y1="47.60" x2="125.30" y2="47.60" stroke="#333" stroke-width="0.6"/>
<text x="123.00" y="49.40" text-anchor="end" style="font-size:5.0px" fill="#333">2</text>
<line x1="123.70" y1="68.50" x2="125.30" y2="68.50" stroke="#333" stroke-width="0.6"/>
<text x="123.00" y="70.30" text-anchor="end" style="font-size:5.0px" fill="#333">0</text>
<line x1="123.70" y1="89.50" x2="125.30" y2="89.50" stroke="#333" stroke-width="0.6"/>
<text x="123.00" y="91.30" text-anchor="end" style="font-size:5.0px" fill="#333">-2</text>
<line x1="123.70" y1="110.00" x2="125.30" y2="110.00" stroke="#333" stroke-width="0.6"/>
<text x="123.00" y="111.80" text-anchor="end" style="font-size:5.0px" fill="#333">-4</text>
<line x1="131.00" y1="113.00" x2="131.00" y2="114.60" stroke="#333" stroke-width="0.6"/>
<text x="131.00" y="119.30" text-anchor="middle" style="font-size:5.0px" fill="#333">-5.0</text>
<line x1="147.00" y1="113.00" x2="147.00" y2="114.60" stroke="#333" stroke-width="0.6"/>
<text x="147.00" y="119.30" text-anchor="middle" style="font-size:5.0px" fill="#333">-2.5</text>
<line x1="163.00" y1="113.00" x2="163.00" y2="114.60" stroke="#333" stroke-width="0.6"/>
<text x="163.00" y="119.30" text-anchor="middle" style="font-size:5.0px" fill="#333">0.0</text>
<line x1="179.00" y1="113.00" x2="179.00" y2="114.60" stroke="#333" stroke-width="0.6"/>
<text x="179.00" y="119.30" text-anchor="middle" style="font-size:5.0px" fill="#333">2.5</text>
<line x1="195.40" y1="113.00" x2="195.40" y2="114.60" stroke="#333" stroke-width="0.6"/>
<text x="195.40" y="119.30" text-anchor="middle" style="font-size:5.0px" fill="#333">5.0</text>
<line x1="211.00" y1="113.00" x2="211.00" y2="114.60" stroke="#333" stroke-width="0.6"/>
<text x="211.00" y="119.30" text-anchor="middle" style="font-size:5.0px" fill="#333">7.5</text>
<text x="170.15" y="123.80" text-anchor="middle" style="font-size:5.35px" fill="#222">UMAP_1</text>
<text x="116.50" y="67.50" text-anchor="middle" style="font-size:5.35px" fill="#222" transform="rotate(-90 116.50 67.50)">UMAP_2</text>
<text x="171.00" y="10.00" text-anchor="middle" style="font-size:8.0px">Cortical organoid</text>
<text x="171.00" y="17.80" text-anchor="middle" style="font-size:8.0px">(Qian, et al. (n=1))</text>
<line x1="237.50" y1="22.00" x2="237.50" y2="113.35" stroke="#333" stroke-width="0.8"/>
<line x1="237.15" y1="113.00" x2="335.00" y2="113.00" stroke="#333" stroke-width="0.8"/>
<line x1="235.90" y1="36.80" x2="237.50" y2="36.80" stroke="#333" stroke-width="0.6"/>
<text x="235.20" y="38.60" text-anchor="end" style="font-size:5.0px" fill="#333">5.0</text>
<line x1="235.90" y1="56.00" x2="237.50" y2="56.00" stroke="#333" stroke-width="0.6"/>
<text x="235.20" y="57.80" text-anchor="end" style="font-size:5.0px" fill="#333">2.5</text>
<line x1="235.90" y1="75.00" x2="237.50" y2="75.00" stroke="#333" stroke-width="0.6"/>
<text x="235.20" y="76.80" text-anchor="end" style="font-size:5.0px" fill="#333">0.0</text>
<line x1="235.90" y1="94.00" x2="237.50" y2="94.00" stroke="#333" stroke-width="0.6"/>
<text x="235.20" y="95.80" text-anchor="end" style="font-size:5.0px" fill="#333">-2.5</text>
<line x1="262.00" y1="113.00" x2="262.00" y2="114.60" stroke="#333" stroke-width="0.6"/>
<text x="262.00" y="119.30" text-anchor="middle" style="font-size:5.0px" fill="#333">-5</text>
<line x1="295.50" y1="113.00" x2="295.50" y2="114.60" stroke="#333" stroke-width="0.6"/>
<text x="295.50" y="119.30" text-anchor="middle" style="font-size:5.0px" fill="#333">0</text>
<line x1="330.00" y1="113.00" x2="330.00" y2="114.60" stroke="#333" stroke-width="0.6"/>
<text x="330.00" y="119.30" text-anchor="middle" style="font-size:5.0px" fill="#333">5</text>
<text x="286.25" y="123.80" text-anchor="middle" style="font-size:5.35px" fill="#222">UMAP_1</text>
<text x="222.00" y="67.50" text-anchor="middle" style="font-size:5.35px" fill="#222" transform="rotate(-90 222.00 67.50)">UMAP_2</text>
<text x="287.80" y="10.00" text-anchor="middle" style="font-size:8.0px">Cortical organoids</text>
<text x="287.80" y="17.80" text-anchor="middle" style="font-size:8.0px">(Yoon, et al. (n=3))</text>
<line x1="354.60" y1="22.00" x2="354.60" y2="113.35" stroke="#333" stroke-width="0.8"/>
<line x1="354.25" y1="113.00" x2="459.50" y2="113.00" stroke="#333" stroke-width="0.8"/>
<line x1="353.00" y1="26.30" x2="354.60" y2="26.30" stroke="#333" stroke-width="0.6"/>
<text x="352.30" y="28.10" text-anchor="end" style="font-size:5.0px" fill="#333">6</text>
<line x1="353.00" y1="47.30" x2="354.60" y2="47.30" stroke="#333" stroke-width="0.6"/>
<text x="352.30" y="49.10" text-anchor="end" style="font-size:5.0px" fill="#333">3</text>
<line x1="353.00" y1="69.00" x2="354.60" y2="69.00" stroke="#333" stroke-width="0.6"/>
<text x="352.30" y="70.80" text-anchor="end" style="font-size:5.0px" fill="#333">0</text>
<line x1="353.00" y1="90.40" x2="354.60" y2="90.40" stroke="#333" stroke-width="0.6"/>
<text x="352.30" y="92.20" text-anchor="end" style="font-size:5.0px" fill="#333">-3</text>
<line x1="353.00" y1="111.40" x2="354.60" y2="111.40" stroke="#333" stroke-width="0.6"/>
<text x="352.30" y="113.20" text-anchor="end" style="font-size:5.0px" fill="#333">-6</text>
<line x1="368.40" y1="113.00" x2="368.40" y2="114.60" stroke="#333" stroke-width="0.6"/>
<text x="368.40" y="119.30" text-anchor="middle" style="font-size:5.0px" fill="#333">-5</text>
<line x1="400.00" y1="113.00" x2="400.00" y2="114.60" stroke="#333" stroke-width="0.6"/>
<text x="400.00" y="119.30" text-anchor="middle" style="font-size:5.0px" fill="#333">0</text>
<line x1="430.40" y1="113.00" x2="430.40" y2="114.60" stroke="#333" stroke-width="0.6"/>
<text x="430.40" y="119.30" text-anchor="middle" style="font-size:5.0px" fill="#333">5</text>
<text x="407.05" y="123.80" text-anchor="middle" style="font-size:5.35px" fill="#222">UMAP_1</text>
<text x="345.00" y="67.50" text-anchor="middle" style="font-size:5.35px" fill="#222" transform="rotate(-90 345.00 67.50)">UMAP_2</text>
<text x="405.00" y="10.00" text-anchor="middle" style="font-size:8.0px">Cortical organoids</text>
<text x="405.00" y="17.80" text-anchor="middle" style="font-size:8.0px">(Xiang, et al. (n=2))</text>
<line x1="481.00" y1="22.80" x2="481.00" y2="113.15" stroke="#333" stroke-width="0.8"/>
<line x1="480.65" y1="112.80" x2="570.40" y2="112.80" stroke="#333" stroke-width="0.8"/>
<line x1="479.40" y1="44.50" x2="481.00" y2="44.50" stroke="#333" stroke-width="0.6"/>
<text x="478.70" y="46.30" text-anchor="end" style="font-size:5.0px" fill="#333">2.5</text>
<line x1="479.40" y1="69.00" x2="481.00" y2="69.00" stroke="#333" stroke-width="0.6"/>
<text x="478.70" y="70.80" text-anchor="end" style="font-size:5.0px" fill="#333">0.0</text>
<line x1="479.40" y1="92.90" x2="481.00" y2="92.90" stroke="#333" stroke-width="0.6"/>
<text x="478.70" y="94.70" text-anchor="end" style="font-size:5.0px" fill="#333">-2.5</text>
<line x1="506.30" y1="112.80" x2="506.30" y2="114.40" stroke="#333" stroke-width="0.6"/>
<text x="506.30" y="119.10" text-anchor="middle" style="font-size:5.0px" fill="#333">-4</text>
<line x1="530.80" y1="112.80" x2="530.80" y2="114.40" stroke="#333" stroke-width="0.6"/>
<text x="530.80" y="119.10" text-anchor="middle" style="font-size:5.0px" fill="#333">0</text>
<line x1="555.40" y1="112.80" x2="555.40" y2="114.40" stroke="#333" stroke-width="0.6"/>
<text x="555.40" y="119.10" text-anchor="middle" style="font-size:5.0px" fill="#333">4</text>
<text x="525.70" y="123.60" text-anchor="middle" style="font-size:5.35px" fill="#222">UMAP_1</text>
<text x="469.50" y="67.80" text-anchor="middle" style="font-size:5.35px" fill="#222" transform="rotate(-90 469.50 67.80)">UMAP_2</text>
<text x="526.00" y="10.00" text-anchor="middle" style="font-size:8.0px">Cortical organoids</text>
<text x="526.00" y="17.80" text-anchor="middle" style="font-size:8.0px">(Kadoshima, et al. (n=5))</text>
<circle cx="578.00" cy="48.90" r="1.90" fill="#0d3b12"/>
<text x="583.80" y="51.20" text-anchor="start" style="font-size:6.5px" fill="#111">L1</text>
<circle cx="578.00" cy="56.02" r="1.90" fill="#33b864"/>
<text x="583.80" y="58.32" text-anchor="start" style="font-size:6.5px" fill="#111">L2</text>
<circle cx="578.00" cy="63.14" r="1.90" fill="#8ff03c"/>
<text x="583.80" y="65.44" text-anchor="start" style="font-size:6.5px" fill="#111">L3</text>
<circle cx="578.00" cy="70.26" r="1.90" fill="#c9f6c9"/>
<text x="583.80" y="72.56" text-anchor="start" style="font-size:6.5px" fill="#111">L4</text>
<circle cx="578.00" cy="77.38" r="1.90" fill="#3d9cf0"/>
<text x="583.80" y="79.68" text-anchor="start" style="font-size:6.5px" fill="#111">L5</text>
<circle cx="578.00" cy="84.50" r="1.90" fill="#0b34a0"/>
<text x="583.80" y="86.80" text-anchor="start" style="font-size:6.5px" fill="#111">L6</text>
<circle cx="578.00" cy="91.62" r="1.90" fill="#3a3a3a"/>
<text x="583.80" y="93.92" text-anchor="start" style="font-size:6.5px" fill="#111">Undefined</text>
<text x="0.00" y="142.80" text-anchor="start" style="font-size:10.5px;font-weight:bold">b</text>
<rect x="25.40" y="152.80" width="7.00" height="2.07" fill="#005000"/>
<rect x="25.40" y="154.85" width="7.00" height="25.88" fill="#109060"/>
<rect x="25.40" y="180.70" width="7.00" height="1.72" fill="#10f010"/>
<rect x="25.40" y="182.40" width="7.00" height="10.78" fill="#b0f8b0"/>
<rect x="25.40" y="193.17" width="7.00" height="3.94" fill="#0000f0"/>
<rect x="25.40" y="197.08" width="7.00" height="14.24" fill="#000080"/>
<rect x="35.23" y="152.80" width="7.00" height="1.54" fill="#005000"/>
<rect x="35.23" y="154.32" width="7.00" height="18.39" fill="#109060"/>
<rect x="35.23" y="172.69" width="7.00" height="1.19" fill="#10f010"/>
<rect x="35.23" y="173.86" width="7.00" height="20.49" fill="#b0f8b0"/>
<rect x="35.23" y="194.34" width="7.00" height="3.53" fill="#0000f0"/>
<rect x="35.23" y="197.85" width="7.00" height="13.47" fill="#000080"/>
<rect x="45.06" y="152.80" width="7.00" height="1.37" fill="#005000"/>
<rect x="45.06" y="154.15" width="7.00" height="26.58" fill="#109060"/>
<rect x="45.06" y="180.70" width="7.00" height="2.18" fill="#10f010"/>
<rect x="45.06" y="182.87" width="7.00" height="15.41" fill="#b0f8b0"/>
<rect x="45.06" y="198.25" width="7.00" height="3.71" fill="#0000f0"/>
<rect x="45.06" y="201.94" width="7.00" height="9.38" fill="#000080"/>
<rect x="54.89" y="152.80" width="7.00" height="1.37" fill="#005000"/>
<rect x="54.89" y="154.15" width="7.00" height="15.64" fill="#109060"/>
<rect x="54.89" y="169.77" width="7.00" height="1.77" fill="#10f010"/>
<rect x="54.89" y="171.52" width="7.00" height="19.73" fill="#b0f8b0"/>
<rect x="54.89" y="191.23" width="7.00" height="6.63" fill="#0000f0"/>
<rect x="54.89" y="197.85" width="7.00" height="13.47" fill="#000080"/>
<rect x="64.72" y="152.80" width="7.00" height="1.37" fill="#005000"/>
<rect x="64.72" y="154.15" width="7.00" height="21.49" fill="#109060"/>
<rect x="64.72" y="175.62" width="7.00" height="3.53" fill="#10f010"/>
<rect x="64.72" y="179.12" width="7.00" height="17.57" fill="#b0f8b0"/>
<rect x="64.72" y="196.68" width="7.00" height="4.93" fill="#0000f0"/>
<rect x="64.72" y="201.59" width="7.00" height="9.73" fill="#000080"/>
<rect x="74.55" y="152.80" width="7.00" height="5.87" fill="#005000"/>
<rect x="74.55" y="158.65" width="7.00" height="15.82" fill="#109060"/>
<rect x="74.55" y="174.45" width="7.00" height="3.53" fill="#10f010"/>
<rect x="74.55" y="177.96" width="7.00" height="21.08" fill="#b0f8b0"/>
<rect x="74.55" y="199.02" width="7.00" height="11.49" fill="#0000f0"/>
<rect x="74.55" y="210.48" width="7.00" height="0.84" fill="#000080"/>
<rect x="84.38" y="152.80" width="7.00" height="5.05" fill="#005000"/>
<rect x="84.38" y="157.83" width="7.00" height="20.14" fill="#109060"/>
<rect x="84.38" y="177.96" width="7.00" height="2.95" fill="#10f010"/>
<rect x="84.38" y="180.88" width="7.00" height="22.25" fill="#b0f8b0"/>
<rect x="84.38" y="203.11" width="7.00" height="5.28" fill="#0000f0"/>
<rect x="84.38" y="208.38" width="7.00" height="2.95" fill="#000080"/>
<rect x="94.21" y="152.80" width="7.00" height="2.83" fill="#005000"/>
<rect x="94.21" y="155.61" width="7.00" height="10.08" fill="#109060"/>
<rect x="94.21" y="165.67" width="7.00" height="2.13" fill="#10f010"/>
<rect x="94.21" y="167.78" width="7.00" height="33.60" fill="#b0f8b0"/>
<rect x="94.21" y="201.36" width="7.00" height="9.96" fill="#0000f0"/>
<rect x="104.04" y="152.80" width="7.00" height="1.89" fill="#005000"/>
<rect x="104.04" y="154.67" width="7.00" height="9.85" fill="#109060"/>
<rect x="104.04" y="164.50" width="7.00" height="5.17" fill="#10f010"/>
<rect x="104.04" y="169.65" width="7.00" height="27.63" fill="#b0f8b0"/>
<rect x="104.04" y="197.26" width="7.00" height="14.06" fill="#0000f0"/>
<rect x="113.87" y="152.80" width="7.00" height="2.83" fill="#005000"/>
<rect x="113.87" y="155.61" width="7.00" height="9.91" fill="#109060"/>
<rect x="113.87" y="165.49" width="7.00" height="4.70" fill="#10f010"/>
<rect x="113.87" y="170.17" width="7.00" height="29.91" fill="#b0f8b0"/>
<rect x="113.87" y="200.07" width="7.00" height="11.25" fill="#0000f0"/>
<rect x="123.70" y="152.80" width="7.00" height="1.54" fill="#005000"/>
<rect x="123.70" y="154.32" width="7.00" height="14.29" fill="#109060"/>
<rect x="123.70" y="168.60" width="7.00" height="4.12" fill="#10f010"/>
<rect x="123.70" y="172.69" width="7.00" height="25.53" fill="#b0f8b0"/>
<rect x="123.70" y="198.20" width="7.00" height="9.38" fill="#0000f0"/>
<rect x="123.70" y="207.56" width="7.00" height="3.76" fill="#000080"/>
<rect x="133.53" y="152.80" width="7.00" height="1.89" fill="#005000"/>
<rect x="133.53" y="154.67" width="7.00" height="21.14" fill="#109060"/>
<rect x="133.53" y="175.79" width="7.00" height="4.52" fill="#10f010"/>
<rect x="133.53" y="180.30" width="7.00" height="16.98" fill="#b0f8b0"/>
<rect x="133.53" y="197.26" width="7.00" height="4.12" fill="#0000f0"/>
<rect x="133.53" y="201.36" width="7.00" height="9.96" fill="#000080"/>
<rect x="143.36" y="152.80" width="7.00" height="0.96" fill="#005000"/>
<rect x="143.36" y="153.74" width="7.00" height="14.88" fill="#109060"/>
<rect x="143.36" y="168.60" width="7.00" height="2.36" fill="#10f010"/>
<rect x="143.36" y="170.94" width="7.00" height="22.07" fill="#b0f8b0"/>
<rect x="143.36" y="192.99" width="7.00" height="4.29" fill="#0000f0"/>
<rect x="143.36" y="197.26" width="7.00" height="14.06" fill="#000080"/>
<line x1="22.00" y1="152.30" x2="22.00" y2="211.80" stroke="#111" stroke-width="0.9"/>
<line x1="21.60" y1="211.30" x2="154.00" y2="211.30" stroke="#111" stroke-width="0.9"/>
<line x1="20.00" y1="211.30" x2="22.00" y2="211.30" stroke="#111" stroke-width="0.8"/>
<text x="19.20" y="213.10" text-anchor="end" style="font-size:5.1px">0</text>
<line x1="20.00" y1="196.68" x2="22.00" y2="196.68" stroke="#111" stroke-width="0.8"/>
<text x="19.20" y="198.48" text-anchor="end" style="font-size:5.1px">25</text>
<line x1="20.00" y1="182.05" x2="22.00" y2="182.05" stroke="#111" stroke-width="0.8"/>
<text x="19.20" y="183.85" text-anchor="end" style="font-size:5.1px">50</text>
<line x1="20.00" y1="167.43" x2="22.00" y2="167.43" stroke="#111" stroke-width="0.8"/>
<text x="19.20" y="169.23" text-anchor="end" style="font-size:5.1px">75</text>
<line x1="20.00" y1="152.80" x2="22.00" y2="152.80" stroke="#111" stroke-width="0.8"/>
<text x="19.20" y="154.60" text-anchor="end" style="font-size:5.1px">100</text>
<line x1="28.90" y1="211.30" x2="28.90" y2="212.90" stroke="#111" stroke-width="0.6"/>
<line x1="38.73" y1="211.30" x2="38.73" y2="212.90" stroke="#111" stroke-width="0.6"/>
<line x1="48.56" y1="211.30" x2="48.56" y2="212.90" stroke="#111" stroke-width="0.6"/>
<line x1="58.39" y1="211.30" x2="58.39" y2="212.90" stroke="#111" stroke-width="0.6"/>
<line x1="68.22" y1="211.30" x2="68.22" y2="212.90" stroke="#111" stroke-width="0.6"/>
<line x1="78.05" y1="211.30" x2="78.05" y2="212.90" stroke="#111" stroke-width="0.6"/>
<line x1="87.88" y1="211.30" x2="87.88" y2="212.90" stroke="#111" stroke-width="0.6"/>
<line x1="97.71" y1="211.30" x2="97.71" y2="212.90" stroke="#111" stroke-width="0.6"/>
<line x1="107.54" y1="211.30" x2="107.54" y2="212.90" stroke="#111" stroke-width="0.6"/>
<line x1="117.37" y1="211.30" x2="117.37" y2="212.90" stroke="#111" stroke-width="0.6"/>
<line x1="127.20" y1="211.30" x2="127.20" y2="212.90" stroke="#111" stroke-width="0.6"/>
<line x1="137.03" y1="211.30" x2="137.03" y2="212.90" stroke="#111" stroke-width="0.6"/>
<line x1="146.86" y1="211.30" x2="146.86" y2="212.90" stroke="#111" stroke-width="0.6"/>
<text x="5.80" y="182.05" text-anchor="middle" style="font-size:5.8px" transform="rotate(-90 5.80 182.05)">Proportion (%)</text>
<text x="87.50" y="146.80" text-anchor="middle" style="font-size:7.4px;font-weight:bold">Cortical assembloids</text>
<text x="28.90" y="218.70" text-anchor="middle" style="font-size:5.4px" fill="#222">1</text>
<text x="78.05" y="218.70" text-anchor="middle" style="font-size:5.4px" fill="#222">1</text>
<text x="38.73" y="218.70" text-anchor="middle" style="font-size:5.4px" fill="#222">2</text>
<text x="87.88" y="218.70" text-anchor="middle" style="font-size:5.4px" fill="#222">2</text>
<text x="48.56" y="218.70" text-anchor="middle" style="font-size:5.4px" fill="#222">3</text>
<text x="97.71" y="218.70" text-anchor="middle" style="font-size:5.4px" fill="#222">3</text>
<text x="58.39" y="218.70" text-anchor="middle" style="font-size:5.4px" fill="#222">4</text>
<text x="107.54" y="218.70" text-anchor="middle" style="font-size:5.4px" fill="#222">4</text>
<text x="68.22" y="218.70" text-anchor="middle" style="font-size:5.4px" fill="#222">5</text>
<text x="117.37" y="218.70" text-anchor="middle" style="font-size:5.4px" fill="#222">5</text>
<line x1="26.40" y1="220.60" x2="70.80" y2="220.60" stroke="#222" stroke-width="0.6"/>
<line x1="75.20" y1="220.60" x2="120.30" y2="220.60" stroke="#222" stroke-width="0.6"/>
<text x="48.60" y="226.60" text-anchor="middle" style="font-size:5.3px" fill="#222">Batch 1</text>
<text x="98.00" y="226.60" text-anchor="middle" style="font-size:5.3px" fill="#222">Batch 2</text>
<text x="73.60" y="230.90" text-anchor="middle" style="font-size:5.3px" fill="#222">hESC</text>
<text x="131.40" y="216.30" text-anchor="end" style="font-size:5.3px" fill="#222" transform="rotate(-45 131.40 216.30)">hiPSC #1</text>
<text x="141.23" y="216.30" text-anchor="end" style="font-size:5.3px" fill="#222" transform="rotate(-45 141.23 216.30)">hiPSC #2</text>
<text x="151.06" y="216.30" text-anchor="end" style="font-size:5.3px" fill="#222" transform="rotate(-45 151.06 216.30)">hiPSC #3</text>
<rect x="155.40" y="163.30" width="5.60" height="2.80" fill="#005000"/>
<text x="162.20" y="166.60" text-anchor="start" style="font-size:5.6px" fill="#111">L1</text>
<rect x="155.40" y="169.66" width="5.60" height="2.80" fill="#109060"/>
<text x="162.20" y="172.96" text-anchor="start" style="font-size:5.6px" fill="#111">L2</text>
<rect x="155.40" y="176.02" width="5.60" height="2.80" fill="#10f010"/>
<text x="162.20" y="179.32" text-anchor="start" style="font-size:5.6px" fill="#111">L3</text>
<rect x="155.40" y="182.38" width="5.60" height="2.80" fill="#b0f8b0"/>
<text x="162.20" y="185.68" text-anchor="start" style="font-size:5.6px" fill="#111">L4</text>
<rect x="155.40" y="188.74" width="5.60" height="2.80" fill="#0000f0"/>
<text x="162.20" y="192.04" text-anchor="start" style="font-size:5.6px" fill="#111">L5</text>
<rect x="155.40" y="195.10" width="5.60" height="2.80" fill="#000080"/>
<text x="162.20" y="198.40" text-anchor="start" style="font-size:5.6px" fill="#111">L6</text>
<rect x="25.85" y="245.70" width="7.90" height="8.03" fill="#005000"/>
<rect x="25.85" y="253.71" width="7.90" height="12.06" fill="#10f010"/>
<rect x="25.85" y="265.74" width="7.90" height="9.52" fill="#b0f8b0"/>
<rect x="25.85" y="275.25" width="7.90" height="17.70" fill="#000080"/>
<rect x="25.85" y="292.93" width="7.90" height="10.39" fill="#333333"/>
<rect x="37.40" y="245.70" width="7.90" height="20.06" fill="#109060"/>
<rect x="37.40" y="265.74" width="7.90" height="5.49" fill="#b0f8b0"/>
<rect x="37.40" y="271.22" width="7.90" height="32.10" fill="#000080"/>
<rect x="48.95" y="245.70" width="7.90" height="6.70" fill="#005000"/>
<rect x="48.95" y="252.38" width="7.90" height="16.38" fill="#109060"/>
<rect x="48.95" y="268.74" width="7.90" height="5.03" fill="#10f010"/>
<rect x="48.95" y="273.75" width="7.90" height="7.05" fill="#b0f8b0"/>
<rect x="48.95" y="280.78" width="7.90" height="1.23" fill="#0000f0"/>
<rect x="48.95" y="281.99" width="7.90" height="21.33" fill="#000080"/>
<rect x="60.50" y="245.70" width="7.90" height="1.69" fill="#005000"/>
<rect x="60.50" y="247.37" width="7.90" height="11.37" fill="#109060"/>
<rect x="60.50" y="258.72" width="7.90" height="3.13" fill="#10f010"/>
<rect x="60.50" y="261.83" width="7.90" height="6.07" fill="#b0f8b0"/>
<rect x="60.50" y="267.88" width="7.90" height="35.44" fill="#000080"/>
<rect x="72.05" y="245.70" width="7.90" height="14.19" fill="#109060"/>
<rect x="72.05" y="259.87" width="7.90" height="3.71" fill="#10f010"/>
<rect x="72.05" y="263.56" width="7.90" height="10.96" fill="#b0f8b0"/>
<rect x="72.05" y="274.50" width="7.90" height="4.63" fill="#0000f0"/>
<rect x="72.05" y="279.11" width="7.90" height="24.21" fill="#000080"/>
<rect x="83.60" y="245.70" width="7.90" height="15.86" fill="#109060"/>
<rect x="83.60" y="261.54" width="7.90" height="12.58" fill="#10f010"/>
<rect x="83.60" y="274.10" width="7.90" height="20.01" fill="#b0f8b0"/>
<rect x="83.60" y="294.08" width="7.90" height="9.24" fill="#000080"/>
<rect x="95.15" y="245.70" width="7.90" height="7.22" fill="#10f010"/>
<rect x="95.15" y="252.90" width="7.90" height="41.20" fill="#0000f0"/>
<rect x="95.15" y="294.08" width="7.90" height="9.24" fill="#000080"/>
<rect x="106.70" y="245.70" width="7.90" height="20.41" fill="#10f010"/>
<rect x="106.70" y="266.09" width="7.90" height="5.84" fill="#b0f8b0"/>
<rect x="106.70" y="271.91" width="7.90" height="24.38" fill="#0000f0"/>
<rect x="106.70" y="296.27" width="7.90" height="7.05" fill="#000080"/>
<rect x="118.25" y="245.70" width="7.90" height="3.88" fill="#109060"/>
<rect x="118.25" y="249.56" width="7.90" height="10.68" fill="#10f010"/>
<rect x="118.25" y="260.22" width="7.90" height="36.77" fill="#0000f0"/>
<rect x="118.25" y="296.96" width="7.90" height="6.36" fill="#000080"/>
<rect x="129.80" y="245.70" width="7.90" height="23.41" fill="#10f010"/>
<rect x="129.80" y="269.09" width="7.90" height="3.02" fill="#b0f8b0"/>
<rect x="129.80" y="272.08" width="7.90" height="22.89" fill="#0000f0"/>
<rect x="129.80" y="294.95" width="7.90" height="8.37" fill="#000080"/>
<rect x="141.35" y="245.70" width="7.90" height="12.52" fill="#10f010"/>
<rect x="141.35" y="258.20" width="7.90" height="1.69" fill="#b0f8b0"/>
<rect x="141.35" y="259.87" width="7.90" height="35.39" fill="#0000f0"/>
<rect x="141.35" y="295.24" width="7.90" height="8.08" fill="#000080"/>
<line x1="21.90" y1="245.20" x2="21.90" y2="303.80" stroke="#111" stroke-width="0.9"/>
<line x1="21.50" y1="303.30" x2="153.30" y2="303.30" stroke="#111" stroke-width="0.9"/>
<line x1="19.90" y1="303.30" x2="21.90" y2="303.30" stroke="#111" stroke-width="0.8"/>
<text x="19.10" y="305.10" text-anchor="end" style="font-size:5.1px">0</text>
<line x1="19.90" y1="288.90" x2="21.90" y2="288.90" stroke="#111" stroke-width="0.8"/>
<text x="19.10" y="290.70" text-anchor="end" style="font-size:5.1px">25</text>
<line x1="19.90" y1="274.50" x2="21.90" y2="274.50" stroke="#111" stroke-width="0.8"/>
<text x="19.10" y="276.30" text-anchor="end" style="font-size:5.1px">50</text>
<line x1="19.90" y1="260.10" x2="21.90" y2="260.10" stroke="#111" stroke-width="0.8"/>
<text x="19.10" y="261.90" text-anchor="end" style="font-size:5.1px">75</text>
<line x1="19.90" y1="245.70" x2="21.90" y2="245.70" stroke="#111" stroke-width="0.8"/>
<text x="19.10" y="247.50" text-anchor="end" style="font-size:5.1px">100</text>
<line x1="29.80" y1="303.30" x2="29.80" y2="304.90" stroke="#111" stroke-width="0.6"/>
<line x1="41.35" y1="303.30" x2="41.35" y2="304.90" stroke="#111" stroke-width="0.6"/>
<line x1="52.90" y1="303.30" x2="52.90" y2="304.90" stroke="#111" stroke-width="0.6"/>
<line x1="64.45" y1="303.30" x2="64.45" y2="304.90" stroke="#111" stroke-width="0.6"/>
<line x1="76.00" y1="303.30" x2="76.00" y2="304.90" stroke="#111" stroke-width="0.6"/>
<line x1="87.55" y1="303.30" x2="87.55" y2="304.90" stroke="#111" stroke-width="0.6"/>
<line x1="99.10" y1="303.30" x2="99.10" y2="304.90" stroke="#111" stroke-width="0.6"/>
<line x1="110.65" y1="303.30" x2="110.65" y2="304.90" stroke="#111" stroke-width="0.6"/>
<line x1="122.20" y1="303.30" x2="122.20" y2="304.90" stroke="#111" stroke-width="0.6"/>
<line x1="133.75" y1="303.30" x2="133.75" y2="304.90" stroke="#111" stroke-width="0.6"/>
<line x1="145.30" y1="303.30" x2="145.30" y2="304.90" stroke="#111" stroke-width="0.6"/>
<text x="5.70" y="274.50" text-anchor="middle" style="font-size:5.8px" transform="rotate(-90 5.70 274.50)">Proportion (%)</text>
<text x="88.00" y="241.70" text-anchor="middle" style="font-size:7.4px;font-weight:bold">Cortical organoids</text>
<text x="29.50" y="312.40" text-anchor="middle" style="font-size:5.3px" fill="#222">Qian,</text>
<text x="29.50" y="317.40" text-anchor="middle" style="font-size:5.3px" fill="#222">et al.</text>
<text x="41.35" y="312.30" text-anchor="middle" style="font-size:5.4px" fill="#222">1</text>
<text x="52.90" y="312.30" text-anchor="middle" style="font-size:5.4px" fill="#222">2</text>
<text x="64.45" y="312.30" text-anchor="middle" style="font-size:5.4px" fill="#222">3</text>
<text x="76.00" y="312.30" text-anchor="middle" style="font-size:5.4px" fill="#222">1</text>
<text x="87.55" y="312.30" text-anchor="middle" style="font-size:5.4px" fill="#222">2</text>
<text x="99.10" y="312.30" text-anchor="middle" style="font-size:5.4px" fill="#222">1</text>
<text x="110.65" y="312.30" text-anchor="middle" style="font-size:5.4px" fill="#222">2</text>
<text x="122.20" y="312.30" text-anchor="middle" style="font-size:5.4px" fill="#222">3</text>
<text x="133.75" y="312.30" text-anchor="middle" style="font-size:5.4px" fill="#222">4</text>
<text x="145.30" y="312.30" text-anchor="middle" style="font-size:5.4px" fill="#222">5</text>
<line x1="39.30" y1="314.00" x2="66.60" y2="314.00" stroke="#222" stroke-width="0.7"/>
<line x1="74.30" y1="314.00" x2="89.50" y2="314.00" stroke="#222" stroke-width="0.7"/>
<line x1="97.00" y1="314.00" x2="148.40" y2="314.00" stroke="#222" stroke-width="0.7"/>
<text x="51.90" y="320.20" text-anchor="middle" style="font-size:5.3px" fill="#222">Yoon,</text>
<text x="51.90" y="325.50" text-anchor="middle" style="font-size:5.3px" fill="#222">et al.</text>
<text x="81.30" y="320.20" text-anchor="middle" style="font-size:5.3px" fill="#222">Xiang,</text>
<text x="81.30" y="325.50" text-anchor="middle" style="font-size:5.3px" fill="#222">et al.</text>
<text x="122.70" y="320.20" text-anchor="middle" style="font-size:5.3px" fill="#222">Kadoshima,</text>
<text x="122.70" y="325.50" text-anchor="middle" style="font-size:5.3px" fill="#222">et al.</text>
<rect x="155.80" y="254.80" width="5.20" height="2.80" fill="#005000"/>
<text x="161.60" y="258.10" text-anchor="start" style="font-size:5.6px" fill="#111">L1</text>
<rect x="155.80" y="261.05" width="5.20" height="2.80" fill="#109060"/>
<text x="161.60" y="264.35" text-anchor="start" style="font-size:5.6px" fill="#111">L2</text>
<rect x="155.80" y="267.30" width="5.20" height="2.80" fill="#10f010"/>
<text x="161.60" y="270.60" text-anchor="start" style="font-size:5.6px" fill="#111">L3</text>
<rect x="155.80" y="273.55" width="5.20" height="2.80" fill="#b0f8b0"/>
<text x="161.60" y="276.85" text-anchor="start" style="font-size:5.6px" fill="#111">L4</text>
<rect x="155.80" y="279.80" width="5.20" height="2.80" fill="#0000f0"/>
<text x="161.60" y="283.10" text-anchor="start" style="font-size:5.6px" fill="#111">L5</text>
<rect x="155.80" y="286.05" width="5.20" height="2.80" fill="#000080"/>
<text x="161.60" y="289.35" text-anchor="start" style="font-size:5.6px" fill="#111">L6</text>
<rect x="155.80" y="292.30" width="5.20" height="2.80" fill="#333333"/>
<text x="161.60" y="295.60" text-anchor="start" style="font-size:5.6px" fill="#111">Undefined</text>
<text x="193.30" y="143.70" text-anchor="start" style="font-size:10.5px;font-weight:bold">c</text>
<rect x="195.00" y="160.10" width="12.00" height="15.80" fill="#c6d8c6"/>
<text x="201.00" y="170.00" text-anchor="middle" style="font-size:5.6px;font-weight:bold" fill="#222">L1</text>
<rect x="195.00" y="188.70" width="12.00" height="15.80" fill="#d6f2e1"/>
<text x="201.00" y="198.60" text-anchor="middle" style="font-size:5.6px;font-weight:bold" fill="#222">L2</text>
<rect x="195.00" y="217.30" width="12.00" height="15.80" fill="#eff9da"/>
<text x="201.00" y="227.20" text-anchor="middle" style="font-size:5.6px;font-weight:bold" fill="#222">L3</text>
<rect x="195.00" y="245.90" width="12.00" height="15.80" fill="#d3ebe3"/>
<text x="201.00" y="255.80" text-anchor="middle" style="font-size:5.6px;font-weight:bold" fill="#222">L4</text>
<rect x="195.00" y="274.30" width="12.00" height="15.80" fill="#d8e8f8"/>
<text x="201.00" y="284.20" text-anchor="middle" style="font-size:5.6px;font-weight:bold" fill="#222">L5</text>
<rect x="195.00" y="303.20" width="12.00" height="15.80" fill="#c5cde5"/>
<text x="201.00" y="313.10" text-anchor="middle" style="font-size:5.6px;font-weight:bold" fill="#222">L6</text>
<rect x="233.50" y="155.80" width="12.20" height="20.40" fill="#c6dcc6"/>
<line x1="239.60" y1="176.20" x2="239.60" y2="157.00" stroke="#333" stroke-width="0.5"/>
<path d="M244.60,176.20 C243.92,175.99 241.65,176.10 240.90,175.05 C240.15,173.99 240.66,172.69 240.50,170.44 C240.34,168.19 240.16,165.22 240.00,162.76 C239.84,160.30 239.75,157.00 239.60,157.00 C239.45,157.00 239.36,160.30 239.20,162.76 C239.03,165.22 238.86,168.19 238.70,170.44 C238.53,172.69 239.05,173.99 238.30,175.05 C237.55,176.10 235.28,175.99 234.60,176.20Z" fill="#0d3b12" stroke="#222" stroke-width="0.45"/>
<path d="M234.60,176.20 Q238.00,175.90 238.50,174.30 L240.70,174.30 Q241.20,175.90 244.60,176.20Z" fill="#0d3b12" stroke="#222" stroke-width="0.4"/>
<line x1="250.60" y1="176.20" x2="250.60" y2="162.20" stroke="#3c3c3c" stroke-width="0.75"/>
<path d="M246.10,176.20 Q250.60,174.80 255.10,176.20Z" fill="#666"/>
<line x1="261.60" y1="176.20" x2="261.60" y2="160.90" stroke="#3c3c3c" stroke-width="0.75"/>
<path d="M257.10,176.20 Q261.60,174.80 266.10,176.20Z" fill="#666"/>
<line x1="272.60" y1="176.20" x2="272.60" y2="160.90" stroke="#3c3c3c" stroke-width="0.75"/>
<path d="M268.10,176.20 Q272.60,174.80 277.10,176.20Z" fill="#666"/>
<line x1="283.60" y1="176.20" x2="283.60" y2="161.50" stroke="#3c3c3c" stroke-width="0.75"/>
<path d="M279.10,176.20 Q283.60,174.80 288.10,176.20Z" fill="#666"/>
<line x1="294.60" y1="176.20" x2="294.60" y2="162.70" stroke="#3c3c3c" stroke-width="0.75"/>
<path d="M290.10,176.20 Q294.60,174.80 299.10,176.20Z" fill="#666"/>
<line x1="233.20" y1="156.00" x2="233.20" y2="176.70" stroke="#444" stroke-width="0.8"/>
<line x1="232.80" y1="176.30" x2="301.00" y2="176.30" stroke="#666" stroke-width="1.3"/>
<line x1="231.60" y1="156.30" x2="233.20" y2="156.30" stroke="#444" stroke-width="0.5"/>
<circle cx="230.60" cy="156.40" r="0.25" fill="#666"/>
<text x="229.30" y="158.00" text-anchor="end" style="font-size:5.3px" fill="#222">RELN</text>
<rect x="244.50" y="184.80" width="12.20" height="20.40" fill="#d2f3dc"/>
<line x1="239.60" y1="205.20" x2="239.60" y2="191.00" stroke="#333" stroke-width="0.5"/>
<path d="M244.10,205.20 C243.50,205.02 241.39,204.99 240.80,204.21 C240.21,203.42 241.01,202.32 240.90,200.94 C240.79,199.56 240.44,198.50 240.20,196.68 C239.96,194.86 239.82,191.00 239.60,191.00 C239.38,191.00 239.24,194.86 239.00,196.68 C238.76,198.50 238.41,199.56 238.30,200.94 C238.19,202.32 238.99,203.42 238.40,204.21 C237.81,204.99 235.70,205.02 235.10,205.20Z" fill="#0d3b12" stroke="#222" stroke-width="0.45"/>
<path d="M235.10,205.20 Q238.00,204.90 238.50,203.30 L240.70,203.30 Q241.20,204.90 244.10,205.20Z" fill="#0d3b12" stroke="#222" stroke-width="0.4"/>
<line x1="250.60" y1="205.20" x2="250.60" y2="185.90" stroke="#333" stroke-width="0.5"/>
<path d="M255.60,205.20 C254.96,204.95 252.72,204.91 252.10,203.85 C251.48,202.79 252.35,201.29 252.20,199.41 C252.05,197.53 251.59,196.10 251.30,193.62 C251.01,191.14 250.86,185.90 250.60,185.90 C250.34,185.90 250.19,191.14 249.90,193.62 C249.61,196.10 249.15,197.53 249.00,199.41 C248.85,201.29 249.72,202.79 249.10,203.85 C248.48,204.91 246.24,204.95 245.60,205.20Z" fill="#33b864" stroke="#222" stroke-width="0.45"/>
<path d="M245.60,205.20 Q249.00,204.90 249.50,203.30 L251.70,203.30 Q252.20,204.90 255.60,205.20Z" fill="#33b864" stroke="#222" stroke-width="0.4"/>
<line x1="261.60" y1="205.20" x2="261.60" y2="190.00" stroke="#3c3c3c" stroke-width="0.75"/>
<path d="M257.10,205.20 Q261.60,203.80 266.10,205.20Z" fill="#666"/>
<line x1="272.60" y1="205.20" x2="272.60" y2="185.90" stroke="#3c3c3c" stroke-width="0.75"/>
<path d="M268.10,205.20 Q272.60,203.80 277.10,205.20Z" fill="#666"/>
<line x1="283.60" y1="205.20" x2="283.60" y2="191.00" stroke="#333" stroke-width="0.5"/>
<path d="M287.60,205.20 C286.98,205.04 284.77,205.00 284.20,204.35 C283.63,203.70 284.61,204.10 284.50,201.65 C284.39,199.20 283.93,191.00 283.60,191.00 C283.27,191.00 282.81,199.20 282.70,201.65 C282.59,204.10 283.57,203.70 283.00,204.35 C282.43,205.00 280.22,205.04 279.60,205.20Z" fill="#3d9cf0" stroke="#222" stroke-width="0.45"/>
<path d="M279.60,205.20 Q282.00,204.90 282.50,203.30 L284.70,203.30 Q285.20,204.90 287.60,205.20Z" fill="#3d9cf0" stroke="#222" stroke-width="0.4"/>
<line x1="294.60" y1="205.20" x2="294.60" y2="191.00" stroke="#3c3c3c" stroke-width="0.75"/>
<path d="M290.10,205.20 Q294.60,203.80 299.10,205.20Z" fill="#666"/>
<line x1="233.20" y1="185.00" x2="233.20" y2="205.70" stroke="#444" stroke-width="0.8"/>
<line x1="232.80" y1="205.30" x2="301.00" y2="205.30" stroke="#666" stroke-width="1.3"/>
<line x1="231.60" y1="185.30" x2="233.20" y2="185.30" stroke="#444" stroke-width="0.5"/>
<circle cx="230.60" cy="185.40" r="0.25" fill="#666"/>
<text x="229.30" y="187.00" text-anchor="end" style="font-size:5.3px" fill="#222">CUX2</text>
<rect x="255.50" y="213.80" width="12.20" height="20.40" fill="#eef9d8"/>
<line x1="239.60" y1="234.20" x2="239.60" y2="222.10" stroke="#3c3c3c" stroke-width="0.75"/>
<path d="M235.10,234.20 Q239.60,232.80 244.10,234.20Z" fill="#666"/>
<line x1="250.60" y1="234.20" x2="250.60" y2="218.00" stroke="#333" stroke-width="0.5"/>
<path d="M254.10,234.20 C253.55,234.02 251.65,233.97 251.10,233.23 C250.55,232.49 251.19,232.94 251.10,230.15 C251.01,227.36 250.78,218.00 250.60,218.00 C250.42,218.00 250.19,227.36 250.10,230.15 C250.01,232.94 250.65,232.49 250.10,233.23 C249.55,233.97 247.65,234.02 247.10,234.20Z" fill="#33b864" stroke="#222" stroke-width="0.45"/>
<path d="M247.10,234.20 Q249.00,233.90 249.50,232.30 L251.70,232.30 Q252.20,233.90 254.10,234.20Z" fill="#33b864" stroke="#222" stroke-width="0.4"/>
<line x1="261.60" y1="234.20" x2="261.60" y2="222.10" stroke="#333" stroke-width="0.5"/>
<path d="M265.60,234.20 C264.98,234.07 262.82,234.14 262.20,233.47 C261.58,232.81 262.31,232.66 262.20,230.57 C262.09,228.48 261.82,222.10 261.60,222.10 C261.38,222.10 261.11,228.48 261.00,230.57 C260.89,232.66 261.62,232.81 261.00,233.47 C260.38,234.14 258.22,234.07 257.60,234.20Z" fill="#8ff03c" stroke="#222" stroke-width="0.45"/>
<path d="M257.60,234.20 Q260.00,233.90 260.50,232.30 L262.70,232.30 Q263.20,233.90 265.60,234.20Z" fill="#8ff03c" stroke="#222" stroke-width="0.4"/>
<line x1="272.60" y1="234.20" x2="272.60" y2="215.60" stroke="#3c3c3c" stroke-width="0.75"/>
<path d="M268.10,234.20 Q272.60,232.80 277.10,234.20Z" fill="#666"/>
<line x1="283.60" y1="234.20" x2="283.60" y2="218.00" stroke="#3c3c3c" stroke-width="0.75"/>
<path d="M279.10,234.20 Q283.60,232.80 288.10,234.20Z" fill="#666"/>
<line x1="294.60" y1="234.20" x2="294.60" y2="222.80" stroke="#3c3c3c" stroke-width="0.75"/>
<path d="M290.10,234.20 Q294.60,232.80 299.10,234.20Z" fill="#666"/>
<line x1="233.20" y1="214.00" x2="233.20" y2="234.70" stroke="#444" stroke-width="0.8"/>
<line x1="232.80" y1="234.30" x2="301.00" y2="234.30" stroke="#666" stroke-width="1.3"/>
<line x1="231.60" y1="214.30" x2="233.20" y2="214.30" stroke="#444" stroke-width="0.5"/>
<circle cx="230.60" cy="214.40" r="0.25" fill="#666"/>
<text x="229.30" y="216.00" text-anchor="end" style="font-size:5.3px" fill="#222">POU3F2</text>
<rect x="266.50" y="242.70" width="12.20" height="20.40" fill="#d3ebe3"/>
<line x1="239.60" y1="263.10" x2="239.60" y2="249.30" stroke="#3c3c3c" stroke-width="0.75"/>
<path d="M235.10,263.10 Q239.60,261.70 244.10,263.10Z" fill="#666"/>
<line x1="250.60" y1="263.10" x2="250.60" y2="249.30" stroke="#3c3c3c" stroke-width="0.75"/>
<path d="M246.10,263.10 Q250.60,261.70 255.10,263.10Z" fill="#666"/>
<line x1="261.60" y1="263.10" x2="261.60" y2="249.30" stroke="#3c3c3c" stroke-width="0.75"/>
<path d="M257.10,263.10 Q261.60,261.70 266.10,263.10Z" fill="#666"/>
<line x1="272.60" y1="263.10" x2="272.60" y2="243.80" stroke="#333" stroke-width="0.5"/>
<path d="M277.10,263.10 C276.39,262.89 273.90,263.00 273.20,261.94 C272.50,260.88 273.41,260.64 273.30,257.31 C273.19,253.98 272.86,243.80 272.60,243.80 C272.34,243.80 272.01,253.98 271.90,257.31 C271.79,260.64 272.70,260.88 272.00,261.94 C271.30,263.00 268.81,262.89 268.10,263.10Z" fill="#c9f6c9" stroke="#222" stroke-width="0.45"/>
<path d="M268.10,263.10 Q271.00,262.80 271.50,261.20 L273.70,261.20 Q274.20,262.80 277.10,263.10Z" fill="#c9f6c9" stroke="#222" stroke-width="0.4"/>
<line x1="283.60" y1="263.10" x2="283.60" y2="246.90" stroke="#333" stroke-width="0.5"/>
<path d="M288.10,263.10 C287.46,262.89 285.17,263.15 284.60,261.97 C284.03,260.78 285.09,258.49 285.00,256.62 C284.91,254.75 284.36,253.54 284.10,251.76 C283.84,249.98 283.78,246.90 283.60,246.90 C283.42,246.90 283.36,249.98 283.10,251.76 C282.84,253.54 282.29,254.75 282.20,256.62 C282.11,258.49 283.17,260.78 282.60,261.97 C282.03,263.15 279.74,262.89 279.10,263.10Z" fill="#3d9cf0" stroke="#222" stroke-width="0.45"/>
<path d="M279.10,263.10 Q282.00,262.80 282.50,261.20 L284.70,261.20 Q285.20,262.80 288.10,263.10Z" fill="#3d9cf0" stroke="#222" stroke-width="0.4"/>
<line x1="294.60" y1="263.10" x2="294.60" y2="249.30" stroke="#3c3c3c" stroke-width="0.75"/>
<path d="M290.10,263.10 Q294.60,261.70 299.10,263.10Z" fill="#666"/>
<line x1="233.20" y1="242.90" x2="233.20" y2="263.60" stroke="#444" stroke-width="0.8"/>
<line x1="232.80" y1="263.20" x2="301.00" y2="263.20" stroke="#666" stroke-width="1.3"/>
<line x1="231.60" y1="243.20" x2="233.20" y2="243.20" stroke="#444" stroke-width="0.5"/>
<circle cx="230.60" cy="243.30" r="0.25" fill="#666"/>
<text x="229.30" y="244.90" text-anchor="end" style="font-size:5.3px" fill="#222">NEFL</text>
<rect x="277.50" y="271.60" width="12.20" height="20.40" fill="#d5e7fa"/>
<line x1="239.60" y1="292.00" x2="239.60" y2="283.70" stroke="#3c3c3c" stroke-width="0.75"/>
<path d="M235.10,292.00 Q239.60,290.60 244.10,292.00Z" fill="#666"/>
<line x1="250.60" y1="292.00" x2="250.60" y2="282.30" stroke="#3c3c3c" stroke-width="0.75"/>
<path d="M246.10,292.00 Q250.60,290.60 255.10,292.00Z" fill="#666"/>
<line x1="261.60" y1="292.00" x2="261.60" y2="283.00" stroke="#3c3c3c" stroke-width="0.75"/>
<path d="M257.10,292.00 Q261.60,290.60 266.10,292.00Z" fill="#666"/>
<line x1="272.60" y1="292.00" x2="272.60" y2="275.00" stroke="#3c3c3c" stroke-width="0.75"/>
<path d="M268.10,292.00 Q272.60,290.60 277.10,292.00Z" fill="#666"/>
<line x1="283.60" y1="292.00" x2="283.60" y2="281.30" stroke="#333" stroke-width="0.5"/>
<path d="M288.10,292.00 C287.42,291.86 284.99,291.94 284.40,291.25 C283.81,290.56 284.96,289.49 284.90,288.25 C284.85,287.02 284.34,285.79 284.10,284.51 C283.86,283.23 283.78,281.30 283.60,281.30 C283.42,281.30 283.34,283.23 283.10,284.51 C282.86,285.79 282.36,287.02 282.30,288.25 C282.25,289.49 283.39,290.56 282.80,291.25 C282.21,291.94 279.78,291.86 279.10,292.00Z" fill="#3d9cf0" stroke="#222" stroke-width="0.45"/>
<path d="M279.10,292.00 Q282.00,291.70 282.50,290.10 L284.70,290.10 Q285.20,291.70 288.10,292.00Z" fill="#3d9cf0" stroke="#222" stroke-width="0.4"/>
<line x1="294.60" y1="292.00" x2="294.60" y2="282.30" stroke="#3c3c3c" stroke-width="0.75"/>
<path d="M290.10,292.00 Q294.60,290.60 299.10,292.00Z" fill="#666"/>
<line x1="233.20" y1="271.80" x2="233.20" y2="292.50" stroke="#444" stroke-width="0.8"/>
<line x1="232.80" y1="292.10" x2="301.00" y2="292.10" stroke="#666" stroke-width="1.3"/>
<line x1="231.60" y1="272.10" x2="233.20" y2="272.10" stroke="#444" stroke-width="0.5"/>
<circle cx="230.60" cy="272.20" r="0.25" fill="#666"/>
<text x="229.30" y="273.80" text-anchor="end" style="font-size:5.3px" fill="#222">SCN1A</text>
<rect x="288.50" y="300.60" width="12.20" height="20.40" fill="#bdc7e3"/>
<line x1="239.60" y1="321.00" x2="239.60" y2="308.70" stroke="#3c3c3c" stroke-width="0.75"/>
<path d="M235.10,321.00 Q239.60,319.60 244.10,321.00Z" fill="#666"/>
<line x1="250.60" y1="321.00" x2="250.60" y2="307.00" stroke="#3c3c3c" stroke-width="0.75"/>
<path d="M246.10,321.00 Q250.60,319.60 255.10,321.00Z" fill="#666"/>
<line x1="261.60" y1="321.00" x2="261.60" y2="311.80" stroke="#3c3c3c" stroke-width="0.75"/>
<path d="M257.10,321.00 Q261.60,319.60 266.10,321.00Z" fill="#666"/>
<line x1="272.60" y1="321.00" x2="272.60" y2="307.00" stroke="#3c3c3c" stroke-width="0.75"/>
<path d="M268.10,321.00 Q272.60,319.60 277.10,321.00Z" fill="#666"/>
<line x1="283.60" y1="321.00" x2="283.60" y2="305.80" stroke="#3c3c3c" stroke-width="0.75"/>
<path d="M279.10,321.00 Q283.60,319.60 288.10,321.00Z" fill="#666"/>
<line x1="294.60" y1="321.00" x2="294.60" y2="305.80" stroke="#333" stroke-width="0.5"/>
<path d="M299.10,321.00 C298.51,320.80 296.43,320.77 295.90,319.94 C295.37,319.10 296.35,318.20 296.20,316.44 C296.05,314.68 295.39,312.31 295.10,310.36 C294.81,308.41 294.78,305.80 294.60,305.80 C294.42,305.80 294.39,308.41 294.10,310.36 C293.81,312.31 293.15,314.68 293.00,316.44 C292.85,318.20 293.83,319.10 293.30,319.94 C292.77,320.77 290.69,320.80 290.10,321.00Z" fill="#0b34a0" stroke="#222" stroke-width="0.45"/>
<path d="M290.10,321.00 Q293.00,320.70 293.50,319.10 L295.70,319.10 Q296.20,320.70 299.10,321.00Z" fill="#0b34a0" stroke="#222" stroke-width="0.4"/>
<line x1="233.20" y1="300.80" x2="233.20" y2="321.50" stroke="#444" stroke-width="0.8"/>
<line x1="232.80" y1="321.10" x2="301.00" y2="321.10" stroke="#666" stroke-width="1.3"/>
<line x1="231.60" y1="301.10" x2="233.20" y2="301.10" stroke="#444" stroke-width="0.5"/>
<circle cx="230.60" cy="301.20" r="0.25" fill="#666"/>
<text x="229.30" y="302.80" text-anchor="end" style="font-size:5.3px" fill="#222">TBR1</text>
<text x="239.60" y="326.60" text-anchor="middle" style="font-size:5.4px" fill="#222">L1</text>
<text x="250.60" y="326.60" text-anchor="middle" style="font-size:5.4px" fill="#222">L2</text>
<text x="261.60" y="326.60" text-anchor="middle" style="font-size:5.4px" fill="#222">L3</text>
<text x="272.60" y="326.60" text-anchor="middle" style="font-size:5.4px" fill="#222">L4</text>
<text x="283.60" y="326.60" text-anchor="middle" style="font-size:5.4px" fill="#222">L5</text>
<text x="294.60" y="326.60" text-anchor="middle" style="font-size:5.4px" fill="#222">L6</text>
<text x="265.00" y="144.00" text-anchor="middle" style="font-size:7.4px">Cortical assembloids</text>
<rect x="329.30" y="155.80" width="13.80" height="20.40" fill="#c6dcc6"/>
<line x1="336.20" y1="176.20" x2="336.20" y2="159.30" stroke="#333" stroke-width="0.5"/>
<path d="M342.20,176.20 C341.38,175.95 338.58,175.78 337.70,174.85 C336.82,173.92 337.56,172.74 337.40,171.13 C337.23,169.52 337.02,168.23 336.80,166.06 C336.58,163.89 336.42,159.30 336.20,159.30 C335.98,159.30 335.82,163.89 335.60,166.06 C335.38,168.23 335.17,169.52 335.00,171.13 C334.83,172.74 335.58,173.92 334.70,174.85 C333.82,175.78 331.02,175.95 330.20,176.20Z" fill="#0d3b12" stroke="#222" stroke-width="0.45"/>
<path d="M330.20,176.20 Q334.60,175.90 335.10,174.30 L337.30,174.30 Q337.80,175.90 342.20,176.20Z" fill="#0d3b12" stroke="#222" stroke-width="0.4"/>
<line x1="348.80" y1="176.20" x2="348.80" y2="165.80" stroke="#b0b0b0" stroke-width="0.75"/>
<path d="M344.30,176.20 Q348.80,174.80 353.30,176.20Z" fill="#666"/>
<line x1="361.60" y1="176.20" x2="361.60" y2="166.60" stroke="#3c3c3c" stroke-width="0.75"/>
<path d="M357.10,176.20 Q361.60,174.80 366.10,176.20Z" fill="#666"/>
<line x1="374.60" y1="176.20" x2="374.60" y2="166.60" stroke="#3c3c3c" stroke-width="0.75"/>
<path d="M370.10,176.20 Q374.60,174.80 379.10,176.20Z" fill="#666"/>
<line x1="387.40" y1="176.20" x2="387.40" y2="167.00" stroke="#3c3c3c" stroke-width="0.75"/>
<path d="M382.90,176.20 Q387.40,174.80 391.90,176.20Z" fill="#666"/>
<line x1="328.30" y1="156.00" x2="328.30" y2="176.70" stroke="#444" stroke-width="0.8"/>
<line x1="327.90" y1="176.30" x2="395.20" y2="176.30" stroke="#666" stroke-width="1.3"/>
<line x1="326.70" y1="156.30" x2="328.30" y2="156.30" stroke="#444" stroke-width="0.5"/>
<circle cx="325.70" cy="156.40" r="0.25" fill="#666"/>
<text x="324.40" y="158.00" text-anchor="end" style="font-size:5.3px" fill="#222">RELN</text>
<line x1="336.20" y1="205.20" x2="336.20" y2="198.30" stroke="#b0b0b0" stroke-width="0.75"/>
<path d="M331.70,205.20 Q336.20,203.80 340.70,205.20Z" fill="#666"/>
<line x1="348.80" y1="205.20" x2="348.80" y2="189.00" stroke="#b0b0b0" stroke-width="0.75"/>
<path d="M344.30,205.20 Q348.80,203.80 353.30,205.20Z" fill="#666"/>
<line x1="361.60" y1="205.20" x2="361.60" y2="191.00" stroke="#3c3c3c" stroke-width="0.75"/>
<path d="M357.10,205.20 Q361.60,203.80 366.10,205.20Z" fill="#666"/>
<line x1="387.40" y1="205.20" x2="387.40" y2="187.00" stroke="#3c3c3c" stroke-width="0.75"/>
<path d="M382.90,205.20 Q387.40,203.80 391.90,205.20Z" fill="#666"/>
<line x1="328.30" y1="185.00" x2="328.30" y2="205.70" stroke="#444" stroke-width="0.8"/>
<line x1="327.90" y1="205.30" x2="395.20" y2="205.30" stroke="#666" stroke-width="1.3"/>
<line x1="326.70" y1="185.30" x2="328.30" y2="185.30" stroke="#444" stroke-width="0.5"/>
<circle cx="325.70" cy="185.40" r="0.25" fill="#666"/>
<text x="324.40" y="187.00" text-anchor="end" style="font-size:5.3px" fill="#222">CHRNA7</text>
<rect x="341.90" y="213.80" width="13.80" height="20.40" fill="#eef9d8"/>
<line x1="336.20" y1="234.20" x2="336.20" y2="222.70" stroke="#b0b0b0" stroke-width="0.75"/>
<path d="M331.70,234.20 Q336.20,232.80 340.70,234.20Z" fill="#666"/>
<line x1="348.80" y1="234.20" x2="348.80" y2="215.40" stroke="#333" stroke-width="0.5"/>
<path d="M354.30,234.20 C353.66,233.86 351.53,233.18 350.80,232.32 C350.07,231.46 349.51,230.95 350.30,229.50 C351.09,228.05 354.83,226.25 355.10,224.42 C355.38,222.60 352.96,221.19 351.80,219.54 C350.64,217.88 349.90,215.40 348.80,215.40 C347.70,215.40 346.96,217.88 345.80,219.54 C344.64,221.19 342.23,222.60 342.50,224.42 C342.77,226.25 346.51,228.05 347.30,229.50 C348.09,230.95 347.53,231.46 346.80,232.32 C346.07,233.18 343.94,233.86 343.30,234.20Z" fill="#8ff03c" stroke="#222" stroke-width="0.45"/>
<path d="M343.30,234.20 Q347.20,233.90 347.70,232.30 L349.90,232.30 Q350.40,233.90 354.30,234.20Z" fill="#8ff03c" stroke="#222" stroke-width="0.4"/>
<line x1="361.60" y1="234.20" x2="361.60" y2="217.00" stroke="#333" stroke-width="0.5"/>
<path d="M366.10,234.20 C365.46,233.98 363.31,233.63 362.60,233.00 C361.89,232.37 362.05,232.27 362.20,230.76 C362.35,229.25 363.51,227.26 363.40,224.74 C363.29,222.22 362.26,217.00 361.60,217.00 C360.94,217.00 359.91,222.22 359.80,224.74 C359.69,227.26 360.85,229.25 361.00,230.76 C361.15,232.27 361.31,232.37 360.60,233.00 C359.89,233.63 357.74,233.98 357.10,234.20Z" fill="#c9f6c9" stroke="#222" stroke-width="0.45"/>
<path d="M357.10,234.20 Q360.00,233.90 360.50,232.30 L362.70,232.30 Q363.20,233.90 366.10,234.20Z" fill="#c9f6c9" stroke="#222" stroke-width="0.4"/>
<line x1="374.60" y1="234.20" x2="374.60" y2="218.70" stroke="#333" stroke-width="0.5"/>
<path d="M379.10,234.20 C378.42,234.00 375.95,234.25 375.40,233.11 C374.85,231.98 376.25,230.64 376.10,228.00 C375.95,225.36 375.15,218.70 374.60,218.70 C374.05,218.70 373.25,225.36 373.10,228.00 C372.95,230.64 374.35,231.98 373.80,233.11 C373.25,234.25 370.78,234.00 370.10,234.20Z" fill="#0b34a0" stroke="#222" stroke-width="0.45"/>
<path d="M370.10,234.20 Q373.00,233.90 373.50,232.30 L375.70,232.30 Q376.20,233.90 379.10,234.20Z" fill="#0b34a0" stroke="#222" stroke-width="0.4"/>
<line x1="387.40" y1="234.20" x2="387.40" y2="220.30" stroke="#3c3c3c" stroke-width="0.75"/>
<path d="M382.90,234.20 Q387.40,232.80 391.90,234.20Z" fill="#666"/>
<line x1="328.30" y1="214.00" x2="328.30" y2="234.70" stroke="#444" stroke-width="0.8"/>
<line x1="327.90" y1="234.30" x2="395.20" y2="234.30" stroke="#666" stroke-width="1.3"/>
<line x1="326.70" y1="214.30" x2="328.30" y2="214.30" stroke="#444" stroke-width="0.5"/>
<circle cx="325.70" cy="214.40" r="0.25" fill="#666"/>
<text x="324.40" y="216.00" text-anchor="end" style="font-size:5.3px" fill="#222">SATB2</text>
<rect x="354.70" y="242.70" width="13.80" height="20.40" fill="#d3ebe3"/>
<line x1="336.20" y1="263.10" x2="336.20" y2="247.80" stroke="#333" stroke-width="0.5"/>
<path d="M341.20,263.10 C340.56,262.88 338.43,262.44 337.70,261.88 C336.97,261.32 337.11,261.08 337.20,260.04 C337.29,259.00 338.38,258.46 338.20,256.22 C338.02,253.97 336.93,247.80 336.20,247.80 C335.47,247.80 334.38,253.97 334.20,256.22 C334.02,258.46 335.11,259.00 335.20,260.04 C335.29,261.08 335.43,261.32 334.70,261.88 C333.97,262.44 331.84,262.88 331.20,263.10Z" fill="#0d3b12" stroke="#222" stroke-width="0.45"/>
<path d="M331.20,263.10 Q334.60,262.80 335.10,261.20 L337.30,261.20 Q337.80,262.80 341.20,263.10Z" fill="#0d3b12" stroke="#222" stroke-width="0.4"/>
<line x1="348.80" y1="263.10" x2="348.80" y2="245.30" stroke="#333" stroke-width="0.5"/>
<path d="M353.80,263.10 C353.16,262.84 351.00,262.39 350.30,261.68 C349.60,260.96 349.76,260.72 350.00,259.18 C350.24,257.65 351.82,255.86 351.60,253.31 C351.38,250.76 349.83,245.30 348.80,245.30 C347.77,245.30 346.22,250.76 346.00,253.31 C345.78,255.86 347.36,257.65 347.60,259.18 C347.84,260.72 348.00,260.96 347.30,261.68 C346.60,262.39 344.44,262.84 343.80,263.10Z" fill="#8ff03c" stroke="#222" stroke-width="0.45"/>
<path d="M343.80,263.10 Q347.20,262.80 347.70,261.20 L349.90,261.20 Q350.40,262.80 353.80,263.10Z" fill="#8ff03c" stroke="#222" stroke-width="0.4"/>
<line x1="361.60" y1="263.10" x2="361.60" y2="245.80" stroke="#333" stroke-width="0.5"/>
<path d="M366.60,263.10 C365.87,262.85 363.37,262.51 362.60,261.72 C361.83,260.92 362.27,260.27 362.40,258.78 C362.53,257.28 363.45,255.96 363.30,253.59 C363.15,251.21 362.22,245.80 361.60,245.80 C360.98,245.80 360.05,251.21 359.90,253.59 C359.75,255.96 360.67,257.28 360.80,258.78 C360.93,260.27 361.37,260.92 360.60,261.72 C359.83,262.51 357.33,262.85 356.60,263.10Z" fill="#c9f6c9" stroke="#222" stroke-width="0.45"/>
<path d="M356.60,263.10 Q360.00,262.80 360.50,261.20 L362.70,261.20 Q363.20,262.80 366.60,263.10Z" fill="#c9f6c9" stroke="#222" stroke-width="0.4"/>
<line x1="374.60" y1="263.10" x2="374.60" y2="247.00" stroke="#3c3c3c" stroke-width="0.75"/>
<path d="M370.10,263.10 Q374.60,261.70 379.10,263.10Z" fill="#666"/>
<line x1="387.40" y1="263.10" x2="387.40" y2="249.00" stroke="#3c3c3c" stroke-width="0.75"/>
<path d="M382.90,263.10 Q387.40,261.70 391.90,263.10Z" fill="#666"/>
<line x1="328.30" y1="242.90" x2="328.30" y2="263.60" stroke="#444" stroke-width="0.8"/>
<line x1="327.90" y1="263.20" x2="395.20" y2="263.20" stroke="#666" stroke-width="1.3"/>
<line x1="326.70" y1="243.20" x2="328.30" y2="243.20" stroke="#444" stroke-width="0.5"/>
<circle cx="325.70" cy="243.30" r="0.25" fill="#666"/>
<text x="324.40" y="244.90" text-anchor="end" style="font-size:5.3px" fill="#222">HS6ST3</text>
<line x1="336.20" y1="292.00" x2="336.20" y2="274.60" stroke="#b0b0b0" stroke-width="0.75"/>
<path d="M331.70,292.00 Q336.20,290.60 340.70,292.00Z" fill="#666"/>
<line x1="348.80" y1="292.00" x2="348.80" y2="277.80" stroke="#b0b0b0" stroke-width="0.75"/>
<path d="M344.30,292.00 Q348.80,290.60 353.30,292.00Z" fill="#666"/>
<line x1="361.60" y1="292.00" x2="361.60" y2="275.40" stroke="#3c3c3c" stroke-width="0.75"/>
<path d="M357.10,292.00 Q361.60,290.60 366.10,292.00Z" fill="#666"/>
<line x1="374.60" y1="292.00" x2="374.60" y2="275.40" stroke="#3c3c3c" stroke-width="0.75"/>
<path d="M370.10,292.00 Q374.60,290.60 379.10,292.00Z" fill="#666"/>
<line x1="387.40" y1="292.00" x2="387.40" y2="277.00" stroke="#3c3c3c" stroke-width="0.75"/>
<path d="M382.90,292.00 Q387.40,290.60 391.90,292.00Z" fill="#666"/>
<line x1="328.30" y1="271.80" x2="328.30" y2="292.50" stroke="#444" stroke-width="0.8"/>
<line x1="327.90" y1="292.10" x2="395.20" y2="292.10" stroke="#666" stroke-width="1.3"/>
<line x1="326.70" y1="272.10" x2="328.30" y2="272.10" stroke="#444" stroke-width="0.5"/>
<circle cx="325.70" cy="272.20" r="0.25" fill="#666"/>
<text x="324.40" y="273.80" text-anchor="end" style="font-size:5.3px" fill="#222">IGFBP5</text>
<rect x="367.70" y="300.60" width="13.80" height="20.40" fill="#bdc7e3"/>
<line x1="336.20" y1="321.00" x2="336.20" y2="303.90" stroke="#333" stroke-width="0.5"/>
<path d="M341.70,321.00 C341.06,320.75 338.99,320.26 338.20,319.63 C337.41,319.00 337.23,318.90 337.40,317.58 C337.56,316.26 339.32,314.96 339.10,312.45 C338.88,309.94 337.26,303.90 336.20,303.90 C335.14,303.90 333.52,309.94 333.30,312.45 C333.08,314.96 334.83,316.26 335.00,317.58 C335.17,318.90 334.99,319.00 334.20,319.63 C333.41,320.26 331.34,320.75 330.70,321.00Z" fill="#0d3b12" stroke="#222" stroke-width="0.45"/>
<path d="M330.70,321.00 Q334.60,320.70 335.10,319.10 L337.30,319.10 Q337.80,320.70 341.70,321.00Z" fill="#0d3b12" stroke="#222" stroke-width="0.4"/>
<line x1="348.80" y1="321.00" x2="348.80" y2="304.70" stroke="#b0b0b0" stroke-width="0.75"/>
<path d="M344.30,321.00 Q348.80,319.60 353.30,321.00Z" fill="#666"/>
<line x1="361.60" y1="321.00" x2="361.60" y2="304.70" stroke="#3c3c3c" stroke-width="0.75"/>
<path d="M357.10,321.00 Q361.60,319.60 366.10,321.00Z" fill="#666"/>
<line x1="374.60" y1="321.00" x2="374.60" y2="302.70" stroke="#333" stroke-width="0.5"/>
<path d="M379.60,321.00 C378.96,320.73 376.83,320.21 376.10,319.54 C375.37,318.87 375.45,318.75 375.60,317.34 C375.75,315.93 377.08,314.53 376.90,311.85 C376.72,309.17 375.44,302.70 374.60,302.70 C373.76,302.70 372.48,309.17 372.30,311.85 C372.12,314.53 373.45,315.93 373.60,317.34 C373.75,318.75 373.83,318.87 373.10,319.54 C372.37,320.21 370.24,320.73 369.60,321.00Z" fill="#0b34a0" stroke="#222" stroke-width="0.45"/>
<path d="M369.60,321.00 Q373.00,320.70 373.50,319.10 L375.70,319.10 Q376.20,320.70 379.60,321.00Z" fill="#0b34a0" stroke="#222" stroke-width="0.4"/>
<line x1="387.40" y1="321.00" x2="387.40" y2="303.90" stroke="#3c3c3c" stroke-width="0.75"/>
<path d="M382.90,321.00 Q387.40,319.60 391.90,321.00Z" fill="#666"/>
<line x1="328.30" y1="300.80" x2="328.30" y2="321.50" stroke="#444" stroke-width="0.8"/>
<line x1="327.90" y1="321.10" x2="395.20" y2="321.10" stroke="#666" stroke-width="1.3"/>
<line x1="326.70" y1="301.10" x2="328.30" y2="301.10" stroke="#444" stroke-width="0.5"/>
<circle cx="325.70" cy="301.20" r="0.25" fill="#666"/>
<text x="324.40" y="302.80" text-anchor="end" style="font-size:5.3px" fill="#222">TOX</text>
<text x="336.20" y="326.60" text-anchor="middle" style="font-size:5.4px" fill="#222">L1</text>
<text x="348.80" y="326.60" text-anchor="middle" style="font-size:5.4px" fill="#222">L3</text>
<text x="361.60" y="326.60" text-anchor="middle" style="font-size:5.4px" fill="#222">L4</text>
<text x="374.60" y="326.60" text-anchor="middle" style="font-size:5.4px" fill="#222">L6</text>
<text x="360.60" y="143.90" text-anchor="middle" style="font-size:7.4px">Cortical organoid</text>
<text x="360.60" y="150.70" text-anchor="middle" style="font-size:7.4px">(Qian, et al.)</text>
<text x="391.80" y="326.60" text-anchor="middle" style="font-size:5.4px" fill="#222">Undefined</text>
<rect x="421.95" y="155.80" width="12.30" height="20.40" fill="#c6dcc6"/>
<line x1="428.10" y1="176.20" x2="428.10" y2="157.70" stroke="#333" stroke-width="0.5"/>
<path d="M433.60,176.20 C432.87,175.93 430.33,175.40 429.60,174.72 C428.87,174.04 429.36,173.75 429.60,172.50 C429.84,171.25 431.18,170.59 430.90,167.88 C430.63,165.16 429.13,157.70 428.10,157.70 C427.07,157.70 425.57,165.16 425.30,167.88 C425.03,170.59 426.36,171.25 426.60,172.50 C426.84,173.75 427.33,174.04 426.60,174.72 C425.87,175.40 423.33,175.93 422.60,176.20Z" fill="#0d3b12" stroke="#222" stroke-width="0.45"/>
<path d="M422.60,176.20 Q426.50,175.90 427.00,174.30 L429.20,174.30 Q429.70,175.90 433.60,176.20Z" fill="#0d3b12" stroke="#222" stroke-width="0.4"/>
<line x1="439.20" y1="176.20" x2="439.20" y2="162.60" stroke="#3c3c3c" stroke-width="0.75"/>
<path d="M434.70,176.20 Q439.20,174.80 443.70,176.20Z" fill="#666"/>
<line x1="450.30" y1="176.20" x2="450.30" y2="162.00" stroke="#3c3c3c" stroke-width="0.75"/>
<path d="M445.80,176.20 Q450.30,174.80 454.80,176.20Z" fill="#666"/>
<line x1="461.40" y1="176.20" x2="461.40" y2="163.00" stroke="#3c3c3c" stroke-width="0.75"/>
<path d="M456.90,176.20 Q461.40,174.80 465.90,176.20Z" fill="#666"/>
<line x1="472.10" y1="176.20" x2="472.10" y2="162.00" stroke="#3c3c3c" stroke-width="0.75"/>
<path d="M467.60,176.20 Q472.10,174.80 476.60,176.20Z" fill="#666"/>
<line x1="483.20" y1="176.20" x2="483.20" y2="159.30" stroke="#b0b0b0" stroke-width="0.75"/>
<path d="M478.70,176.20 Q483.20,174.80 487.70,176.20Z" fill="#666"/>
<line x1="421.60" y1="156.00" x2="421.60" y2="176.70" stroke="#444" stroke-width="0.8"/>
<line x1="421.20" y1="176.30" x2="489.60" y2="176.30" stroke="#666" stroke-width="1.3"/>
<line x1="420.00" y1="156.30" x2="421.60" y2="156.30" stroke="#444" stroke-width="0.5"/>
<circle cx="419.00" cy="156.40" r="0.25" fill="#666"/>
<text x="417.70" y="158.00" text-anchor="end" style="font-size:5.3px" fill="#222">RELN</text>
<rect x="433.05" y="184.80" width="12.30" height="20.40" fill="#c9dcc9"/>
<line x1="428.10" y1="205.20" x2="428.10" y2="191.80" stroke="#3c3c3c" stroke-width="0.75"/>
<path d="M423.60,205.20 Q428.10,203.80 432.60,205.20Z" fill="#666"/>
<line x1="439.20" y1="205.20" x2="439.20" y2="188.60" stroke="#333" stroke-width="0.5"/>
<path d="M444.20,205.20 C443.50,204.99 441.13,204.65 440.40,204.04 C439.67,203.43 440.09,203.19 440.20,201.88 C440.31,200.57 441.18,199.33 441.00,196.90 C440.82,194.47 439.86,188.60 439.20,188.60 C438.54,188.60 437.58,194.47 437.40,196.90 C437.22,199.33 438.09,200.57 438.20,201.88 C438.31,203.19 438.73,203.43 438.00,204.04 C437.27,204.65 434.90,204.99 434.20,205.20Z" fill="#33b864" stroke="#222" stroke-width="0.45"/>
<path d="M434.20,205.20 Q437.60,204.90 438.10,203.30 L440.30,203.30 Q440.80,204.90 444.20,205.20Z" fill="#33b864" stroke="#222" stroke-width="0.4"/>
<line x1="450.30" y1="205.20" x2="450.30" y2="190.20" stroke="#333" stroke-width="0.5"/>
<path d="M455.30,205.20 C454.60,205.01 452.27,204.70 451.50,204.15 C450.73,203.60 451.08,203.52 451.10,202.20 C451.12,200.88 451.75,199.15 451.60,196.95 C451.45,194.75 450.78,190.20 450.30,190.20 C449.82,190.20 449.15,194.75 449.00,196.95 C448.85,199.15 449.48,200.88 449.50,202.20 C449.52,203.52 449.87,203.60 449.10,204.15 C448.33,204.70 446.00,205.01 445.30,205.20Z" fill="#8ff03c" stroke="#222" stroke-width="0.45"/>
<path d="M445.30,205.20 Q448.70,204.90 449.20,203.30 L451.40,203.30 Q451.90,204.90 455.30,205.20Z" fill="#8ff03c" stroke="#222" stroke-width="0.4"/>
<line x1="461.40" y1="205.20" x2="461.40" y2="191.80" stroke="#3c3c3c" stroke-width="0.75"/>
<path d="M456.90,205.20 Q461.40,203.80 465.90,205.20Z" fill="#666"/>
<line x1="472.10" y1="205.20" x2="472.10" y2="195.60" stroke="#b0b0b0" stroke-width="0.75"/>
<path d="M467.60,205.20 Q472.10,203.80 476.60,205.20Z" fill="#666"/>
<line x1="483.20" y1="205.20" x2="483.20" y2="189.40" stroke="#333" stroke-width="0.5"/>
<path d="M488.20,205.20 C487.47,205.00 485.02,204.67 484.20,204.09 C483.38,203.51 483.72,203.29 483.70,202.04 C483.68,200.79 484.19,199.62 484.10,197.30 C484.01,194.98 483.53,189.40 483.20,189.40 C482.87,189.40 482.39,194.98 482.30,197.30 C482.21,199.62 482.72,200.79 482.70,202.04 C482.68,203.29 483.02,203.51 482.20,204.09 C481.38,204.67 478.93,205.00 478.20,205.20Z" fill="#0b34a0" stroke="#222" stroke-width="0.45"/>
<path d="M478.20,205.20 Q481.60,204.90 482.10,203.30 L484.30,203.30 Q484.80,204.90 488.20,205.20Z" fill="#0b34a0" stroke="#222" stroke-width="0.4"/>
<line x1="421.60" y1="185.00" x2="421.60" y2="205.70" stroke="#444" stroke-width="0.8"/>
<line x1="421.20" y1="205.30" x2="489.60" y2="205.30" stroke="#666" stroke-width="1.3"/>
<line x1="420.00" y1="185.30" x2="421.60" y2="185.30" stroke="#444" stroke-width="0.5"/>
<circle cx="419.00" cy="185.40" r="0.25" fill="#666"/>
<text x="417.70" y="187.00" text-anchor="end" style="font-size:5.3px" fill="#222">MEIS2</text>
<rect x="444.15" y="213.80" width="12.30" height="20.40" fill="#eef9d8"/>
<line x1="428.10" y1="234.20" x2="428.10" y2="219.50" stroke="#333" stroke-width="0.5"/>
<path d="M433.60,234.20 C432.96,233.98 430.83,233.56 430.10,233.02 C429.37,232.49 429.33,232.39 429.60,231.26 C429.88,230.13 431.88,229.01 431.60,226.85 C431.33,224.69 429.38,219.50 428.10,219.50 C426.82,219.50 424.88,224.69 424.60,226.85 C424.33,229.01 426.33,230.13 426.60,231.26 C426.88,232.39 426.83,232.49 426.10,233.02 C425.37,233.56 423.24,233.98 422.60,234.20Z" fill="#0d3b12" stroke="#222" stroke-width="0.45"/>
<path d="M422.60,234.20 Q426.50,233.90 427.00,232.30 L429.20,232.30 Q429.70,233.90 433.60,234.20Z" fill="#0d3b12" stroke="#222" stroke-width="0.4"/>
<line x1="439.20" y1="234.20" x2="439.20" y2="216.20" stroke="#3c3c3c" stroke-width="0.75"/>
<path d="M434.70,234.20 Q439.20,232.80 443.70,234.20Z" fill="#666"/>
<line x1="450.30" y1="234.20" x2="450.30" y2="217.90" stroke="#333" stroke-width="0.5"/>
<path d="M455.30,234.20 C454.66,233.99 452.59,233.66 451.80,233.06 C451.01,232.46 451.04,232.37 451.00,230.94 C450.96,229.51 451.73,227.63 451.60,225.23 C451.47,222.84 450.78,217.90 450.30,217.90 C449.82,217.90 449.13,222.84 449.00,225.23 C448.87,227.63 449.64,229.51 449.60,230.94 C449.56,232.37 449.59,232.46 448.80,233.06 C448.01,233.66 445.94,233.99 445.30,234.20Z" fill="#8ff03c" stroke="#222" stroke-width="0.45"/>
<path d="M445.30,234.20 Q448.70,233.90 449.20,232.30 L451.40,232.30 Q451.90,233.90 455.30,234.20Z" fill="#8ff03c" stroke="#222" stroke-width="0.4"/>
<line x1="461.40" y1="234.20" x2="461.40" y2="218.30" stroke="#3c3c3c" stroke-width="0.75"/>
<path d="M456.90,234.20 Q461.40,232.80 465.90,234.20Z" fill="#666"/>
<line x1="472.10" y1="234.20" x2="472.10" y2="220.30" stroke="#3c3c3c" stroke-width="0.75"/>
<path d="M467.60,234.20 Q472.10,232.80 476.60,234.20Z" fill="#666"/>
<line x1="483.20" y1="234.20" x2="483.20" y2="217.00" stroke="#b0b0b0" stroke-width="0.75"/>
<path d="M478.70,234.20 Q483.20,232.80 487.70,234.20Z" fill="#666"/>
<line x1="421.60" y1="214.00" x2="421.60" y2="234.70" stroke="#444" stroke-width="0.8"/>
<line x1="421.20" y1="234.30" x2="489.60" y2="234.30" stroke="#666" stroke-width="1.3"/>
<line x1="420.00" y1="214.30" x2="421.60" y2="214.30" stroke="#444" stroke-width="0.5"/>
<circle cx="419.00" cy="214.40" r="0.25" fill="#666"/>
<text x="417.70" y="216.00" text-anchor="end" style="font-size:5.3px" fill="#222">HPCAL1</text>
<rect x="455.25" y="242.70" width="12.30" height="20.40" fill="#d3ebe3"/>
<line x1="428.10" y1="263.10" x2="428.10" y2="250.70" stroke="#333" stroke-width="0.5"/>
<path d="M433.60,263.10 C432.96,262.87 430.60,262.31 430.10,261.86 C429.61,261.41 430.30,261.42 430.90,260.62 C431.51,259.82 433.09,258.66 433.40,257.52 C433.71,256.38 433.21,255.44 432.60,254.42 C432.00,253.40 430.93,252.62 430.10,251.94 C429.28,251.26 428.83,250.70 428.10,250.70 C427.37,250.70 426.93,251.26 426.10,251.94 C425.28,252.62 424.21,253.40 423.60,254.42 C423.00,255.44 422.49,256.38 422.80,257.52 C423.11,258.66 424.69,259.82 425.30,260.62 C425.91,261.42 426.60,261.41 426.10,261.86 C425.61,262.31 423.24,262.87 422.60,263.10Z" fill="#0d3b12" stroke="#222" stroke-width="0.45"/>
<path d="M422.60,263.10 Q426.50,262.80 427.00,261.20 L429.20,261.20 Q429.70,262.80 433.60,263.10Z" fill="#0d3b12" stroke="#222" stroke-width="0.4"/>
<line x1="439.20" y1="263.10" x2="439.20" y2="248.00" stroke="#333" stroke-width="0.5"/>
<path d="M444.20,263.10 C443.56,262.88 441.43,262.45 440.70,261.89 C439.97,261.34 440.02,261.24 440.20,260.08 C440.38,258.92 441.88,257.76 441.70,255.55 C441.52,253.34 440.12,248.00 439.20,248.00 C438.28,248.00 436.88,253.34 436.70,255.55 C436.52,257.76 438.02,258.92 438.20,260.08 C438.38,261.24 438.43,261.34 437.70,261.89 C436.97,262.45 434.84,262.88 434.20,263.10Z" fill="#33b864" stroke="#222" stroke-width="0.45"/>
<path d="M434.20,263.10 Q437.60,262.80 438.10,261.20 L440.30,261.20 Q440.80,262.80 444.20,263.10Z" fill="#33b864" stroke="#222" stroke-width="0.4"/>
<line x1="450.30" y1="263.10" x2="450.30" y2="248.60" stroke="#333" stroke-width="0.5"/>
<path d="M455.30,263.10 C454.66,262.89 452.53,262.47 451.80,261.94 C451.07,261.41 451.12,261.32 451.30,260.20 C451.48,259.08 452.98,257.98 452.80,255.85 C452.62,253.72 451.22,248.60 450.30,248.60 C449.38,248.60 447.98,253.72 447.80,255.85 C447.62,257.98 449.12,259.08 449.30,260.20 C449.48,261.32 449.53,261.41 448.80,261.94 C448.07,262.47 445.94,262.89 445.30,263.10Z" fill="#8ff03c" stroke="#222" stroke-width="0.45"/>
<path d="M445.30,263.10 Q448.70,262.80 449.20,261.20 L451.40,261.20 Q451.90,262.80 455.30,263.10Z" fill="#8ff03c" stroke="#222" stroke-width="0.4"/>
<line x1="461.40" y1="263.10" x2="461.40" y2="244.50" stroke="#333" stroke-width="0.5"/>
<path d="M466.40,263.10 C465.67,262.83 463.22,262.64 462.40,261.61 C461.57,260.59 461.15,259.36 461.90,257.52 C462.65,255.68 466.59,253.96 466.50,251.57 C466.41,249.18 463.27,244.50 461.40,244.50 C459.53,244.50 456.39,249.18 456.30,251.57 C456.21,253.96 460.15,255.68 460.90,257.52 C461.65,259.36 461.22,260.59 460.40,261.61 C459.57,262.64 457.13,262.83 456.40,263.10Z" fill="#c9f6c9" stroke="#222" stroke-width="0.45"/>
<path d="M456.40,263.10 Q459.80,262.80 460.30,261.20 L462.50,261.20 Q463.00,262.80 466.40,263.10Z" fill="#c9f6c9" stroke="#222" stroke-width="0.4"/>
<line x1="472.10" y1="263.10" x2="472.10" y2="251.00" stroke="#333" stroke-width="0.5"/>
<path d="M477.60,263.10 C477.14,262.88 475.78,262.51 475.10,261.89 C474.42,261.27 473.53,260.71 473.90,259.71 C474.27,258.71 476.70,257.71 477.10,256.44 C477.50,255.18 477.02,253.81 476.10,252.81 C475.18,251.82 473.57,251.00 472.10,251.00 C470.63,251.00 469.02,251.82 468.10,252.81 C467.18,253.81 466.70,255.18 467.10,256.44 C467.50,257.71 469.93,258.71 470.30,259.71 C470.67,260.71 469.78,261.27 469.10,261.89 C468.42,262.51 467.06,262.88 466.60,263.10Z" fill="#3d9cf0" stroke="#222" stroke-width="0.45"/>
<path d="M466.60,263.10 Q470.50,262.80 471.00,261.20 L473.20,261.20 Q473.70,262.80 477.60,263.10Z" fill="#3d9cf0" stroke="#222" stroke-width="0.4"/>
<line x1="483.20" y1="263.10" x2="483.20" y2="247.40" stroke="#333" stroke-width="0.5"/>
<path d="M488.20,263.10 C487.50,262.87 485.17,262.42 484.40,261.84 C483.63,261.27 483.85,261.17 484.00,259.96 C484.15,258.75 485.35,257.55 485.20,255.25 C485.05,252.95 483.93,247.40 483.20,247.40 C482.47,247.40 481.35,252.95 481.20,255.25 C481.05,257.55 482.25,258.75 482.40,259.96 C482.55,261.17 482.77,261.27 482.00,261.84 C481.23,262.42 478.90,262.87 478.20,263.10Z" fill="#0b34a0" stroke="#222" stroke-width="0.45"/>
<path d="M478.20,263.10 Q481.60,262.80 482.10,261.20 L484.30,261.20 Q484.80,262.80 488.20,263.10Z" fill="#0b34a0" stroke="#222" stroke-width="0.4"/>
<line x1="421.60" y1="242.90" x2="421.60" y2="263.60" stroke="#444" stroke-width="0.8"/>
<line x1="421.20" y1="263.20" x2="489.60" y2="263.20" stroke="#666" stroke-width="1.3"/>
<line x1="420.00" y1="243.20" x2="421.60" y2="243.20" stroke="#444" stroke-width="0.5"/>
<circle cx="419.00" cy="243.30" r="0.25" fill="#666"/>
<text x="417.70" y="244.90" text-anchor="end" style="font-size:5.3px" fill="#222">FTL</text>
<rect x="465.95" y="271.60" width="12.30" height="20.40" fill="#d5e7fa"/>
<line x1="428.10" y1="292.00" x2="428.10" y2="281.90" stroke="#3c3c3c" stroke-width="0.75"/>
<path d="M423.60,292.00 Q428.10,290.60 432.60,292.00Z" fill="#666"/>
<line x1="439.20" y1="292.00" x2="439.20" y2="277.80" stroke="#3c3c3c" stroke-width="0.75"/>
<path d="M434.70,292.00 Q439.20,290.60 443.70,292.00Z" fill="#666"/>
<line x1="450.30" y1="292.00" x2="450.30" y2="277.80" stroke="#3c3c3c" stroke-width="0.75"/>
<path d="M445.80,292.00 Q450.30,290.60 454.80,292.00Z" fill="#666"/>
<line x1="461.40" y1="292.00" x2="461.40" y2="278.70" stroke="#3c3c3c" stroke-width="0.75"/>
<path d="M456.90,292.00 Q461.40,290.60 465.90,292.00Z" fill="#666"/>
<line x1="472.10" y1="292.00" x2="472.10" y2="276.70" stroke="#333" stroke-width="0.5"/>
<path d="M477.60,292.00 C477.33,291.66 476.96,291.15 476.10,290.16 C475.24,289.18 473.27,287.99 472.90,286.64 C472.53,285.30 473.88,284.22 474.10,282.82 C474.32,281.42 474.47,280.12 474.10,279.00 C473.73,277.87 472.83,276.70 472.10,276.70 C471.37,276.70 470.47,277.87 470.10,279.00 C469.73,280.12 469.88,281.42 470.10,282.82 C470.32,284.22 471.67,285.30 471.30,286.64 C470.93,287.99 468.96,289.18 468.10,290.16 C467.24,291.15 466.88,291.66 466.60,292.00Z" fill="#3d9cf0" stroke="#222" stroke-width="0.45"/>
<path d="M466.60,292.00 Q470.50,291.70 471.00,290.10 L473.20,290.10 Q473.70,291.70 477.60,292.00Z" fill="#3d9cf0" stroke="#222" stroke-width="0.4"/>
<line x1="483.20" y1="292.00" x2="483.20" y2="277.80" stroke="#b0b0b0" stroke-width="0.75"/>
<path d="M478.70,292.00 Q483.20,290.60 487.70,292.00Z" fill="#666"/>
<line x1="421.60" y1="271.80" x2="421.60" y2="292.50" stroke="#444" stroke-width="0.8"/>
<line x1="421.20" y1="292.10" x2="489.60" y2="292.10" stroke="#666" stroke-width="1.3"/>
<line x1="420.00" y1="272.10" x2="421.60" y2="272.10" stroke="#444" stroke-width="0.5"/>
<circle cx="419.00" cy="272.20" r="0.25" fill="#666"/>
<text x="417.70" y="273.80" text-anchor="end" style="font-size:5.3px" fill="#222">SATB1</text>
<rect x="477.05" y="300.60" width="12.30" height="20.40" fill="#bdc7e3"/>
<line x1="428.10" y1="321.00" x2="428.10" y2="306.00" stroke="#333" stroke-width="0.5"/>
<path d="M433.10,321.00 C432.42,320.78 430.13,320.35 429.40,319.80 C428.67,319.25 428.97,319.02 429.10,318.00 C429.23,316.98 430.28,316.45 430.10,314.25 C429.92,312.05 428.83,306.00 428.10,306.00 C427.37,306.00 426.28,312.05 426.10,314.25 C425.92,316.45 426.97,316.98 427.10,318.00 C427.23,319.02 427.53,319.25 426.80,319.80 C426.07,320.35 423.78,320.78 423.10,321.00Z" fill="#0d3b12" stroke="#222" stroke-width="0.45"/>
<path d="M423.10,321.00 Q426.50,320.70 427.00,319.10 L429.20,319.10 Q429.70,320.70 433.10,321.00Z" fill="#0d3b12" stroke="#222" stroke-width="0.4"/>
<line x1="439.20" y1="321.00" x2="439.20" y2="303.90" stroke="#3c3c3c" stroke-width="0.75"/>
<path d="M434.70,321.00 Q439.20,319.60 443.70,321.00Z" fill="#666"/>
<line x1="450.30" y1="321.00" x2="450.30" y2="303.90" stroke="#3c3c3c" stroke-width="0.75"/>
<path d="M445.80,321.00 Q450.30,319.60 454.80,321.00Z" fill="#666"/>
<line x1="461.40" y1="321.00" x2="461.40" y2="306.00" stroke="#3c3c3c" stroke-width="0.75"/>
<path d="M456.90,321.00 Q461.40,319.60 465.90,321.00Z" fill="#666"/>
<line x1="472.10" y1="321.00" x2="472.10" y2="312.00" stroke="#b0b0b0" stroke-width="0.75"/>
<path d="M467.60,321.00 Q472.10,319.60 476.60,321.00Z" fill="#666"/>
<line x1="483.20" y1="321.00" x2="483.20" y2="302.70" stroke="#333" stroke-width="0.5"/>
<path d="M488.20,321.00 C487.56,320.77 485.47,320.73 484.70,319.72 C483.93,318.71 484.09,317.29 484.00,315.51 C483.91,313.73 484.35,312.37 484.20,310.02 C484.05,307.67 483.57,302.70 483.20,302.70 C482.83,302.70 482.35,307.67 482.20,310.02 C482.05,312.37 482.49,313.73 482.40,315.51 C482.31,317.29 482.47,318.71 481.70,319.72 C480.93,320.73 478.84,320.77 478.20,321.00Z" fill="#0b34a0" stroke="#222" stroke-width="0.45"/>
<path d="M478.20,321.00 Q481.60,320.70 482.10,319.10 L484.30,319.10 Q484.80,320.70 488.20,321.00Z" fill="#0b34a0" stroke="#222" stroke-width="0.4"/>
<line x1="421.60" y1="300.80" x2="421.60" y2="321.50" stroke="#444" stroke-width="0.8"/>
<line x1="421.20" y1="321.10" x2="489.60" y2="321.10" stroke="#666" stroke-width="1.3"/>
<line x1="420.00" y1="301.10" x2="421.60" y2="301.10" stroke="#444" stroke-width="0.5"/>
<circle cx="419.00" cy="301.20" r="0.25" fill="#666"/>
<text x="417.70" y="302.80" text-anchor="end" style="font-size:5.3px" fill="#222">PCDH17</text>
<text x="428.10" y="326.60" text-anchor="middle" style="font-size:5.4px" fill="#222">L1</text>
<text x="439.20" y="326.60" text-anchor="middle" style="font-size:5.4px" fill="#222">L2</text>
<text x="450.30" y="326.60" text-anchor="middle" style="font-size:5.4px" fill="#222">L3</text>
<text x="461.40" y="326.60" text-anchor="middle" style="font-size:5.4px" fill="#222">L4</text>
<text x="472.10" y="326.60" text-anchor="middle" style="font-size:5.4px" fill="#222">L5</text>
<text x="483.20" y="326.60" text-anchor="middle" style="font-size:5.4px" fill="#222">L6</text>
<text x="455.50" y="143.90" text-anchor="middle" style="font-size:7.4px">Cortical organoids</text>
<text x="455.50" y="150.70" text-anchor="middle" style="font-size:7.4px">(Yoon, et al.)</text>
<line x1="523.50" y1="176.20" x2="523.50" y2="161.40" stroke="#3c3c3c" stroke-width="0.75"/>
<path d="M519.00,176.20 Q523.50,174.80 528.00,176.20Z" fill="#666"/>
<line x1="536.60" y1="176.20" x2="536.60" y2="162.10" stroke="#3c3c3c" stroke-width="0.75"/>
<path d="M532.10,176.20 Q536.60,174.80 541.10,176.20Z" fill="#666"/>
<line x1="549.50" y1="176.20" x2="549.50" y2="162.00" stroke="#3c3c3c" stroke-width="0.75"/>
<path d="M545.00,176.20 Q549.50,174.80 554.00,176.20Z" fill="#666"/>
<line x1="562.80" y1="176.20" x2="562.80" y2="165.80" stroke="#b0b0b0" stroke-width="0.75"/>
<path d="M558.30,176.20 Q562.80,174.80 567.30,176.20Z" fill="#666"/>
<line x1="575.80" y1="176.20" x2="575.80" y2="157.20" stroke="#b0b0b0" stroke-width="0.75"/>
<path d="M571.30,176.20 Q575.80,174.80 580.30,176.20Z" fill="#666"/>
<line x1="515.70" y1="156.00" x2="515.70" y2="176.70" stroke="#444" stroke-width="0.8"/>
<line x1="515.30" y1="176.30" x2="583.50" y2="176.30" stroke="#666" stroke-width="1.3"/>
<line x1="514.10" y1="156.30" x2="515.70" y2="156.30" stroke="#444" stroke-width="0.5"/>
<circle cx="513.10" cy="156.40" r="0.25" fill="#666"/>
<text x="511.80" y="158.00" text-anchor="end" style="font-size:5.3px" fill="#222">RELN</text>
<rect x="516.35" y="184.80" width="14.30" height="20.40" fill="#c9dcc9"/>
<line x1="523.50" y1="205.20" x2="523.50" y2="186.10" stroke="#333" stroke-width="0.5"/>
<path d="M528.50,205.20 C527.86,204.95 525.77,204.56 525.00,203.86 C524.23,203.16 524.28,202.89 524.30,201.38 C524.32,199.87 525.25,198.45 525.10,195.65 C524.95,192.85 524.09,186.10 523.50,186.10 C522.91,186.10 522.05,192.85 521.90,195.65 C521.75,198.45 522.68,199.87 522.70,201.38 C522.72,202.89 522.77,203.16 522.00,203.86 C521.23,204.56 519.14,204.95 518.50,205.20Z" fill="#33b864" stroke="#222" stroke-width="0.45"/>
<path d="M518.50,205.20 Q521.90,204.90 522.40,203.30 L524.60,203.30 Q525.10,204.90 528.50,205.20Z" fill="#33b864" stroke="#222" stroke-width="0.4"/>
<line x1="536.60" y1="205.20" x2="536.60" y2="189.70" stroke="#3c3c3c" stroke-width="0.75"/>
<path d="M532.10,205.20 Q536.60,203.80 541.10,205.20Z" fill="#666"/>
<line x1="549.50" y1="205.20" x2="549.50" y2="191.00" stroke="#3c3c3c" stroke-width="0.75"/>
<path d="M545.00,205.20 Q549.50,203.80 554.00,205.20Z" fill="#666"/>
<line x1="562.80" y1="205.20" x2="562.80" y2="191.00" stroke="#b0b0b0" stroke-width="0.75"/>
<path d="M558.30,205.20 Q562.80,203.80 567.30,205.20Z" fill="#666"/>
<line x1="575.80" y1="205.20" x2="575.80" y2="188.10" stroke="#333" stroke-width="0.5"/>
<path d="M581.30,205.20 C580.57,204.98 578.20,204.63 577.30,204.00 C576.40,203.38 576.44,202.97 576.40,201.78 C576.36,200.59 577.21,200.01 577.10,197.50 C576.99,195.00 576.28,188.10 575.80,188.10 C575.32,188.10 574.61,195.00 574.50,197.50 C574.39,200.01 575.24,200.59 575.20,201.78 C575.16,202.97 575.20,203.38 574.30,204.00 C573.40,204.63 571.03,204.98 570.30,205.20Z" fill="#0b34a0" stroke="#222" stroke-width="0.45"/>
<path d="M570.30,205.20 Q574.20,204.90 574.70,203.30 L576.90,203.30 Q577.40,204.90 581.30,205.20Z" fill="#0b34a0" stroke="#222" stroke-width="0.4"/>
<line x1="515.70" y1="185.00" x2="515.70" y2="205.70" stroke="#444" stroke-width="0.8"/>
<line x1="515.30" y1="205.30" x2="583.50" y2="205.30" stroke="#666" stroke-width="1.3"/>
<line x1="514.10" y1="185.30" x2="515.70" y2="185.30" stroke="#444" stroke-width="0.5"/>
<circle cx="513.10" cy="185.40" r="0.25" fill="#666"/>
<text x="511.80" y="187.00" text-anchor="end" style="font-size:5.3px" fill="#222">MEIS2</text>
<rect x="529.45" y="213.80" width="14.30" height="20.40" fill="#eef9d8"/>
<line x1="523.50" y1="234.20" x2="523.50" y2="219.50" stroke="#333" stroke-width="0.5"/>
<path d="M528.50,234.20 C527.86,234.01 525.77,233.71 525.00,233.17 C524.23,232.63 524.30,232.42 524.30,231.26 C524.30,230.10 525.15,229.01 525.00,226.85 C524.85,224.69 524.05,219.50 523.50,219.50 C522.95,219.50 522.15,224.69 522.00,226.85 C521.85,229.01 522.70,230.10 522.70,231.26 C522.70,232.42 522.77,232.63 522.00,233.17 C521.23,233.71 519.14,234.01 518.50,234.20Z" fill="#33b864" stroke="#222" stroke-width="0.45"/>
<path d="M518.50,234.20 Q521.90,233.90 522.40,232.30 L524.60,232.30 Q525.10,233.90 528.50,234.20Z" fill="#33b864" stroke="#222" stroke-width="0.4"/>
<line x1="536.60" y1="234.20" x2="536.60" y2="220.30" stroke="#333" stroke-width="0.5"/>
<path d="M541.60,234.20 C540.96,234.02 538.87,233.74 538.10,233.23 C537.33,232.72 537.40,232.52 537.40,231.42 C537.40,230.32 538.25,229.29 538.10,227.25 C537.95,225.21 537.15,220.30 536.60,220.30 C536.05,220.30 535.25,225.21 535.10,227.25 C534.95,229.29 535.80,230.32 535.80,231.42 C535.80,232.52 535.87,232.72 535.10,233.23 C534.33,233.74 532.24,234.02 531.60,234.20Z" fill="#8ff03c" stroke="#222" stroke-width="0.45"/>
<path d="M531.60,234.20 Q535.00,233.90 535.50,232.30 L537.70,232.30 Q538.20,233.90 541.60,234.20Z" fill="#8ff03c" stroke="#222" stroke-width="0.4"/>
<line x1="549.50" y1="234.20" x2="549.50" y2="221.10" stroke="#3c3c3c" stroke-width="0.75"/>
<path d="M545.00,234.20 Q549.50,232.80 554.00,234.20Z" fill="#666"/>
<line x1="562.80" y1="234.20" x2="562.80" y2="218.70" stroke="#b0b0b0" stroke-width="0.75"/>
<path d="M558.30,234.20 Q562.80,232.80 567.30,234.20Z" fill="#666"/>
<line x1="575.80" y1="234.20" x2="575.80" y2="216.20" stroke="#b0b0b0" stroke-width="0.75"/>
<path d="M571.30,234.20 Q575.80,232.80 580.30,234.20Z" fill="#666"/>
<line x1="515.70" y1="214.00" x2="515.70" y2="234.70" stroke="#444" stroke-width="0.8"/>
<line x1="515.30" y1="234.30" x2="583.50" y2="234.30" stroke="#666" stroke-width="1.3"/>
<line x1="514.10" y1="214.30" x2="515.70" y2="214.30" stroke="#444" stroke-width="0.5"/>
<circle cx="513.10" cy="214.40" r="0.25" fill="#666"/>
<text x="511.80" y="216.00" text-anchor="end" style="font-size:5.3px" fill="#222">HPCAL1</text>
<rect x="542.35" y="242.70" width="14.30" height="20.40" fill="#d3ebe3"/>
<line x1="523.50" y1="263.10" x2="523.50" y2="250.20" stroke="#333" stroke-width="0.5"/>
<path d="M526.00,263.10 L523.85,262.46 L523.85,259.23 L529.50,255.23 L523.85,251.49 L523.50,250.20 L523.15,251.49 L517.50,255.23 L523.15,259.23 L523.15,262.46 L521.00,263.10Z" fill="#33b864" stroke="#222" stroke-width="0.45"/>
<line x1="536.60" y1="263.10" x2="536.60" y2="250.20" stroke="#333" stroke-width="0.5"/>
<path d="M539.10,263.10 L536.95,262.46 L536.95,259.23 L542.30,255.23 L536.95,251.49 L536.60,250.20 L536.25,251.49 L530.90,255.23 L536.25,259.23 L536.25,262.46 L534.10,263.10Z" fill="#8ff03c" stroke="#222" stroke-width="0.45"/>
<line x1="549.50" y1="263.10" x2="549.50" y2="244.50" stroke="#333" stroke-width="0.5"/>
<path d="M552.00,263.10 L549.85,262.17 L549.85,258.45 L555.50,252.68 L549.85,247.10 L549.50,244.50 L549.15,247.10 L543.50,252.68 L549.15,258.45 L549.15,262.17 L547.00,263.10Z" fill="#c9f6c9" stroke="#222" stroke-width="0.45"/>
<line x1="562.80" y1="263.10" x2="562.80" y2="250.00" stroke="#333" stroke-width="0.5"/>
<path d="M565.30,263.10 L563.15,262.45 L563.15,258.78 L568.80,254.85 L563.15,251.31 L562.80,250.00 L562.45,251.31 L556.80,254.85 L562.45,258.78 L562.45,262.45 L560.30,263.10Z" fill="#3d9cf0" stroke="#222" stroke-width="0.45"/>
<line x1="575.80" y1="263.10" x2="575.80" y2="250.50" stroke="#333" stroke-width="0.5"/>
<path d="M578.30,263.10 L576.15,262.47 L576.15,259.32 L581.80,255.54 L576.15,251.76 L575.80,250.50 L575.45,251.76 L569.80,255.54 L575.45,259.32 L575.45,262.47 L573.30,263.10Z" fill="#0b34a0" stroke="#222" stroke-width="0.45"/>
<line x1="515.70" y1="242.90" x2="515.70" y2="263.60" stroke="#444" stroke-width="0.8"/>
<line x1="515.30" y1="263.20" x2="583.50" y2="263.20" stroke="#666" stroke-width="1.3"/>
<line x1="514.10" y1="243.20" x2="515.70" y2="243.20" stroke="#444" stroke-width="0.5"/>
<circle cx="513.10" cy="243.30" r="0.25" fill="#666"/>
<text x="511.80" y="244.90" text-anchor="end" style="font-size:5.3px" fill="#222">FTL</text>
<rect x="555.65" y="271.60" width="14.30" height="20.40" fill="#d5e7fa"/>
<line x1="523.50" y1="292.00" x2="523.50" y2="277.80" stroke="#3c3c3c" stroke-width="0.75"/>
<path d="M519.00,292.00 Q523.50,290.60 528.00,292.00Z" fill="#666"/>
<line x1="536.60" y1="292.00" x2="536.60" y2="276.20" stroke="#3c3c3c" stroke-width="0.75"/>
<path d="M532.10,292.00 Q536.60,290.60 541.10,292.00Z" fill="#666"/>
<line x1="549.50" y1="292.00" x2="549.50" y2="275.70" stroke="#3c3c3c" stroke-width="0.75"/>
<path d="M545.00,292.00 Q549.50,290.60 554.00,292.00Z" fill="#666"/>
<line x1="562.80" y1="292.00" x2="562.80" y2="277.80" stroke="#333" stroke-width="0.5"/>
<path d="M568.30,292.00 C567.84,291.74 566.66,291.15 565.80,290.58 C564.94,290.01 563.69,290.05 563.60,288.88 C563.51,287.70 565.17,285.83 565.30,284.19 C565.43,282.55 564.76,281.10 564.30,279.93 C563.84,278.76 563.35,277.80 562.80,277.80 C562.25,277.80 561.76,278.76 561.30,279.93 C560.84,281.10 560.17,282.55 560.30,284.19 C560.43,285.83 562.09,287.70 562.00,288.88 C561.91,290.05 560.66,290.01 559.80,290.58 C558.94,291.15 557.76,291.74 557.30,292.00Z" fill="#3d9cf0" stroke="#222" stroke-width="0.45"/>
<path d="M557.30,292.00 Q561.20,291.70 561.70,290.10 L563.90,290.10 Q564.40,291.70 568.30,292.00Z" fill="#3d9cf0" stroke="#222" stroke-width="0.4"/>
<line x1="575.80" y1="292.00" x2="575.80" y2="277.80" stroke="#333" stroke-width="0.5"/>
<path d="M580.80,292.00 C580.10,291.82 577.83,291.79 577.00,291.01 C576.17,290.23 576.36,288.99 576.30,287.74 C576.24,286.49 576.79,286.01 576.70,284.19 C576.61,282.37 576.13,277.80 575.80,277.80 C575.47,277.80 574.99,282.37 574.90,284.19 C574.81,286.01 575.36,286.49 575.30,287.74 C575.24,288.99 575.42,290.23 574.60,291.01 C573.77,291.79 571.50,291.82 570.80,292.00Z" fill="#0b34a0" stroke="#222" stroke-width="0.45"/>
<path d="M570.80,292.00 Q574.20,291.70 574.70,290.10 L576.90,290.10 Q577.40,291.70 580.80,292.00Z" fill="#0b34a0" stroke="#222" stroke-width="0.4"/>
<line x1="515.70" y1="271.80" x2="515.70" y2="292.50" stroke="#444" stroke-width="0.8"/>
<line x1="515.30" y1="292.10" x2="583.50" y2="292.10" stroke="#666" stroke-width="1.3"/>
<line x1="514.10" y1="272.10" x2="515.70" y2="272.10" stroke="#444" stroke-width="0.5"/>
<circle cx="513.10" cy="272.20" r="0.25" fill="#666"/>
<text x="511.80" y="273.80" text-anchor="end" style="font-size:5.3px" fill="#222">IGFBP5</text>
<rect x="568.65" y="300.60" width="14.30" height="20.40" fill="#bdc7e3"/>
<line x1="523.50" y1="321.00" x2="523.50" y2="306.30" stroke="#3c3c3c" stroke-width="0.75"/>
<path d="M519.00,321.00 Q523.50,319.60 528.00,321.00Z" fill="#666"/>
<line x1="536.60" y1="321.00" x2="536.60" y2="309.50" stroke="#3c3c3c" stroke-width="0.75"/>
<path d="M532.10,321.00 Q536.60,319.60 541.10,321.00Z" fill="#666"/>
<line x1="549.50" y1="321.00" x2="549.50" y2="307.90" stroke="#3c3c3c" stroke-width="0.75"/>
<path d="M545.00,321.00 Q549.50,319.60 554.00,321.00Z" fill="#666"/>
<line x1="562.80" y1="321.00" x2="562.80" y2="307.90" stroke="#b0b0b0" stroke-width="0.75"/>
<path d="M558.30,321.00 Q562.80,319.60 567.30,321.00Z" fill="#666"/>
<line x1="575.80" y1="321.00" x2="575.80" y2="303.90" stroke="#333" stroke-width="0.5"/>
<path d="M581.30,321.00 C580.57,320.78 578.20,320.43 577.30,319.80 C576.40,319.18 576.44,319.08 576.40,317.58 C576.36,316.08 577.21,314.10 577.10,311.59 C576.99,309.09 576.28,303.90 575.80,303.90 C575.32,303.90 574.61,309.09 574.50,311.59 C574.39,314.10 575.24,316.08 575.20,317.58 C575.16,319.08 575.20,319.18 574.30,319.80 C573.40,320.43 571.03,320.78 570.30,321.00Z" fill="#0b34a0" stroke="#222" stroke-width="0.45"/>
<path d="M570.30,321.00 Q574.20,320.70 574.70,319.10 L576.90,319.10 Q577.40,320.70 581.30,321.00Z" fill="#0b34a0" stroke="#222" stroke-width="0.4"/>
<line x1="515.70" y1="300.80" x2="515.70" y2="321.50" stroke="#444" stroke-width="0.8"/>
<line x1="515.30" y1="321.10" x2="583.50" y2="321.10" stroke="#666" stroke-width="1.3"/>
<line x1="514.10" y1="301.10" x2="515.70" y2="301.10" stroke="#444" stroke-width="0.5"/>
<circle cx="513.10" cy="301.20" r="0.25" fill="#666"/>
<text x="511.80" y="302.80" text-anchor="end" style="font-size:5.3px" fill="#222">TBR1</text>
<text x="523.50" y="326.60" text-anchor="middle" style="font-size:5.4px" fill="#222">L2</text>
<text x="536.60" y="326.60" text-anchor="middle" style="font-size:5.4px" fill="#222">L3</text>
<text x="549.50" y="326.60" text-anchor="middle" style="font-size:5.4px" fill="#222">L4</text>
<text x="562.80" y="326.60" text-anchor="middle" style="font-size:5.4px" fill="#222">L5</text>
<text x="575.80" y="326.60" text-anchor="middle" style="font-size:5.4px" fill="#222">L6</text>
<text x="549.00" y="143.90" text-anchor="middle" style="font-size:7.4px">Cortical organoids</text>
<text x="549.00" y="150.70" text-anchor="middle" style="font-size:7.4px">(Xiang, et al.)</text>
<rect x="614.60" y="155.80" width="11.45" height="20.40" fill="#c6dcc6"/>
<line x1="620.10" y1="176.20" x2="620.10" y2="158.20" stroke="#333" stroke-width="0.5"/>
<path d="M622.90,176.20 L621.00,174.76 L621.00,170.80 L621.70,168.64 L625.00,162.70 L620.10,158.20 L615.20,162.70 L618.50,168.64 L619.20,170.80 L619.20,174.76 L617.30,176.20Z" fill="#0d3b12" stroke="#222" stroke-width="0.45"/>
<line x1="641.40" y1="176.20" x2="641.40" y2="163.70" stroke="#3c3c3c" stroke-width="0.75"/>
<path d="M636.90,176.20 Q641.40,174.80 645.90,176.20Z" fill="#666"/>
<line x1="661.30" y1="176.20" x2="661.30" y2="158.50" stroke="#3c3c3c" stroke-width="0.75"/>
<path d="M656.80,176.20 Q661.30,174.80 665.80,176.20Z" fill="#666"/>
<line x1="671.90" y1="176.20" x2="671.90" y2="164.20" stroke="#b0b0b0" stroke-width="0.75"/>
<path d="M667.40,176.20 Q671.90,174.80 676.40,176.20Z" fill="#666"/>
<line x1="614.30" y1="156.00" x2="614.30" y2="176.70" stroke="#444" stroke-width="0.8"/>
<line x1="613.90" y1="176.30" x2="677.40" y2="176.30" stroke="#666" stroke-width="1.3"/>
<line x1="612.70" y1="156.30" x2="614.30" y2="156.30" stroke="#444" stroke-width="0.5"/>
<circle cx="611.70" cy="156.40" r="0.25" fill="#666"/>
<text x="610.40" y="158.00" text-anchor="end" style="font-size:5.3px" fill="#222">RELN</text>
<rect x="624.85" y="184.80" width="11.90" height="20.40" fill="#c9dcc9"/>
<line x1="630.80" y1="205.20" x2="630.80" y2="191.30" stroke="#333" stroke-width="0.5"/>
<path d="M635.80,205.20 C635.34,204.95 634.00,204.45 633.30,203.81 C632.60,203.17 632.29,203.00 632.00,201.72 C631.71,200.45 631.92,198.77 631.70,196.86 C631.48,194.95 631.13,191.30 630.80,191.30 C630.47,191.30 630.12,194.95 629.90,196.86 C629.68,198.77 629.89,200.45 629.60,201.72 C629.31,203.00 629.00,203.17 628.30,203.81 C627.60,204.45 626.26,204.95 625.80,205.20Z" fill="#33b864" stroke="#222" stroke-width="0.45"/>
<path d="M625.80,205.20 Q629.20,204.90 629.70,203.30 L631.90,203.30 Q632.40,204.90 635.80,205.20Z" fill="#33b864" stroke="#222" stroke-width="0.4"/>
<line x1="641.40" y1="205.20" x2="641.40" y2="191.80" stroke="#3c3c3c" stroke-width="0.75"/>
<path d="M636.90,205.20 Q641.40,203.80 645.90,205.20Z" fill="#666"/>
<line x1="651.50" y1="205.20" x2="651.50" y2="194.00" stroke="#3c3c3c" stroke-width="0.75"/>
<path d="M647.00,205.20 Q651.50,203.80 656.00,205.20Z" fill="#666"/>
<line x1="661.30" y1="205.20" x2="661.30" y2="188.10" stroke="#3c3c3c" stroke-width="0.75"/>
<path d="M656.80,205.20 Q661.30,203.80 665.80,205.20Z" fill="#666"/>
<line x1="671.90" y1="205.20" x2="671.90" y2="191.00" stroke="#333" stroke-width="0.5"/>
<path d="M677.40,205.20 C676.61,205.02 674.04,204.99 673.10,204.21 C672.16,203.42 672.52,203.36 672.30,200.94 C672.08,198.52 672.05,191.00 671.90,191.00 C671.75,191.00 671.72,198.52 671.50,200.94 C671.28,203.36 671.63,203.42 670.70,204.21 C669.76,204.99 667.19,205.02 666.40,205.20Z" fill="#3a3a3a" stroke="#222" stroke-width="0.45"/>
<path d="M666.40,205.20 Q670.30,204.90 670.80,203.30 L673.00,203.30 Q673.50,204.90 677.40,205.20Z" fill="#3a3a3a" stroke="#222" stroke-width="0.4"/>
<line x1="614.30" y1="185.00" x2="614.30" y2="205.70" stroke="#444" stroke-width="0.8"/>
<line x1="613.90" y1="205.30" x2="677.40" y2="205.30" stroke="#666" stroke-width="1.3"/>
<line x1="612.70" y1="185.30" x2="614.30" y2="185.30" stroke="#444" stroke-width="0.5"/>
<circle cx="611.70" cy="185.40" r="0.25" fill="#666"/>
<text x="610.40" y="187.00" text-anchor="end" style="font-size:5.3px" fill="#222">MEIS2</text>
<rect x="635.45" y="213.80" width="11.90" height="20.40" fill="#eef9d8"/>
<line x1="641.40" y1="234.20" x2="641.40" y2="218.70" stroke="#3c3c3c" stroke-width="0.75"/>
<path d="M636.90,234.20 Q641.40,232.80 645.90,234.20Z" fill="#666"/>
<line x1="651.50" y1="234.20" x2="651.50" y2="221.60" stroke="#3c3c3c" stroke-width="0.75"/>
<path d="M647.00,234.20 Q651.50,232.80 656.00,234.20Z" fill="#666"/>
<line x1="661.30" y1="234.20" x2="661.30" y2="220.60" stroke="#3c3c3c" stroke-width="0.75"/>
<path d="M656.80,234.20 Q661.30,232.80 665.80,234.20Z" fill="#666"/>
<line x1="671.90" y1="234.20" x2="671.90" y2="220.30" stroke="#3c3c3c" stroke-width="0.75"/>
<path d="M667.40,234.20 Q671.90,232.80 676.40,234.20Z" fill="#666"/>
<line x1="614.30" y1="214.00" x2="614.30" y2="234.70" stroke="#444" stroke-width="0.8"/>
<line x1="613.90" y1="234.30" x2="677.40" y2="234.30" stroke="#666" stroke-width="1.3"/>
<line x1="612.70" y1="214.30" x2="614.30" y2="214.30" stroke="#444" stroke-width="0.5"/>
<circle cx="611.70" cy="214.40" r="0.25" fill="#666"/>
<text x="610.40" y="216.00" text-anchor="end" style="font-size:5.3px" fill="#222">ASS1</text>
<rect x="645.55" y="242.70" width="11.90" height="20.40" fill="#d3ebe3"/>
<line x1="620.10" y1="263.10" x2="620.10" y2="252.30" stroke="#333" stroke-width="0.5"/>
<path d="M622.60,263.10 C622.22,262.80 620.77,262.47 620.50,261.48 C620.23,260.49 620.51,258.87 621.10,257.70 C621.69,256.53 623.88,256.10 623.70,255.11 C623.52,254.12 621.42,252.30 620.10,252.30 C618.78,252.30 616.68,254.12 616.50,255.11 C616.32,256.10 618.51,256.53 619.10,257.70 C619.69,258.87 619.98,260.49 619.70,261.48 C619.43,262.47 617.99,262.80 617.60,263.10Z" fill="#0d3b12" stroke="#222" stroke-width="0.45"/>
<line x1="630.80" y1="263.10" x2="630.80" y2="251.80" stroke="#333" stroke-width="0.5"/>
<path d="M633.30,263.10 L631.15,262.54 L631.15,259.26 L635.70,255.42 L631.15,252.37 L630.80,251.80 L630.45,252.37 L625.90,255.42 L630.45,259.26 L630.45,262.54 L628.30,263.10Z" fill="#33b864" stroke="#222" stroke-width="0.45"/>
<line x1="641.40" y1="263.10" x2="641.40" y2="244.50" stroke="#333" stroke-width="0.5"/>
<path d="M643.90,263.10 L641.75,262.17 L641.75,259.19 L646.30,254.54 L641.75,250.82 L641.40,244.50 L641.05,250.82 L636.50,254.54 L641.05,259.19 L641.05,262.17 L638.90,263.10Z" fill="#8ff03c" stroke="#222" stroke-width="0.45"/>
<line x1="651.50" y1="263.10" x2="651.50" y2="247.00" stroke="#333" stroke-width="0.5"/>
<path d="M654.00,263.10 L651.85,262.30 L651.85,259.08 L656.40,254.57 L651.85,250.22 L651.50,247.00 L651.15,250.22 L646.60,254.57 L651.15,259.08 L651.15,262.30 L649.00,263.10Z" fill="#c9f6c9" stroke="#222" stroke-width="0.45"/>
<line x1="661.30" y1="263.10" x2="661.30" y2="248.60" stroke="#333" stroke-width="0.5"/>
<path d="M663.80,263.10 L661.65,262.38 L661.65,259.19 L665.90,255.12 L661.65,250.78 L661.30,248.60 L660.95,250.78 L656.70,255.12 L660.95,259.19 L660.95,262.38 L658.80,263.10Z" fill="#0b34a0" stroke="#222" stroke-width="0.45"/>
<line x1="671.90" y1="263.10" x2="671.90" y2="248.00" stroke="#333" stroke-width="0.5"/>
<path d="M674.40,263.10 L672.25,262.35 L672.25,259.02 L676.80,254.80 L672.25,250.27 L671.90,248.00 L671.55,250.27 L667.00,254.80 L671.55,259.02 L671.55,262.35 L669.40,263.10Z" fill="#3a3a3a" stroke="#222" stroke-width="0.45"/>
<line x1="614.30" y1="242.90" x2="614.30" y2="263.60" stroke="#444" stroke-width="0.8"/>
<line x1="613.90" y1="263.20" x2="677.40" y2="263.20" stroke="#666" stroke-width="1.3"/>
<line x1="612.70" y1="243.20" x2="614.30" y2="243.20" stroke="#444" stroke-width="0.5"/>
<circle cx="611.70" cy="243.30" r="0.25" fill="#666"/>
<text x="610.40" y="244.90" text-anchor="end" style="font-size:5.3px" fill="#222">FTL</text>
<rect x="655.35" y="271.60" width="11.90" height="20.40" fill="#d5e7fa"/>
<line x1="620.10" y1="292.00" x2="620.10" y2="282.20" stroke="#333" stroke-width="0.5"/>
<path d="M624.10,292.00 C624.01,291.82 624.11,291.56 623.60,291.02 C623.09,290.48 621.76,290.32 621.30,289.06 C620.84,287.80 621.32,285.42 621.10,284.16 C620.88,282.90 620.47,282.20 620.10,282.20 C619.73,282.20 619.32,282.90 619.10,284.16 C618.88,285.42 619.36,287.80 618.90,289.06 C618.44,290.32 617.11,290.48 616.60,291.02 C616.09,291.56 616.19,291.82 616.10,292.00Z" fill="#0d3b12" stroke="#222" stroke-width="0.45"/>
<path d="M616.10,292.00 Q618.50,291.70 619.00,290.10 L621.20,290.10 Q621.70,291.70 624.10,292.00Z" fill="#0d3b12" stroke="#222" stroke-width="0.4"/>
<line x1="630.80" y1="292.00" x2="630.80" y2="281.10" stroke="#b0b0b0" stroke-width="0.75"/>
<path d="M626.30,292.00 Q630.80,290.60 635.30,292.00Z" fill="#666"/>
<line x1="641.40" y1="292.00" x2="641.40" y2="277.00" stroke="#3c3c3c" stroke-width="0.75"/>
<path d="M636.90,292.00 Q641.40,290.60 645.90,292.00Z" fill="#666"/>
<line x1="651.50" y1="292.00" x2="651.50" y2="277.80" stroke="#3c3c3c" stroke-width="0.75"/>
<path d="M647.00,292.00 Q651.50,290.60 656.00,292.00Z" fill="#666"/>
<line x1="661.30" y1="292.00" x2="661.30" y2="273.00" stroke="#333" stroke-width="0.5"/>
<path d="M666.30,292.00 C665.66,291.76 663.57,291.37 662.80,290.67 C662.03,289.97 661.95,289.70 662.10,288.20 C662.25,286.70 663.75,285.29 663.60,282.50 C663.45,279.71 662.14,273.00 661.30,273.00 C660.46,273.00 659.15,279.71 659.00,282.50 C658.85,285.29 660.35,286.70 660.50,288.20 C660.65,289.70 660.57,289.97 659.80,290.67 C659.03,291.37 656.94,291.76 656.30,292.00Z" fill="#0b34a0" stroke="#222" stroke-width="0.45"/>
<path d="M656.30,292.00 Q659.70,291.70 660.20,290.10 L662.40,290.10 Q662.90,291.70 666.30,292.00Z" fill="#0b34a0" stroke="#222" stroke-width="0.4"/>
<line x1="671.90" y1="292.00" x2="671.90" y2="274.60" stroke="#333" stroke-width="0.5"/>
<path d="M676.90,292.00 C676.26,291.78 674.17,291.42 673.40,290.78 C672.63,290.14 672.55,289.73 672.70,288.52 C672.85,287.31 674.35,286.72 674.20,284.17 C674.05,281.62 672.74,274.60 671.90,274.60 C671.06,274.60 669.75,281.62 669.60,284.17 C669.45,286.72 670.95,287.31 671.10,288.52 C671.25,289.73 671.17,290.14 670.40,290.78 C669.63,291.42 667.54,291.78 666.90,292.00Z" fill="#3a3a3a" stroke="#222" stroke-width="0.45"/>
<path d="M666.90,292.00 Q670.30,291.70 670.80,290.10 L673.00,290.10 Q673.50,291.70 676.90,292.00Z" fill="#3a3a3a" stroke="#222" stroke-width="0.4"/>
<line x1="614.30" y1="271.80" x2="614.30" y2="292.50" stroke="#444" stroke-width="0.8"/>
<line x1="613.90" y1="292.10" x2="677.40" y2="292.10" stroke="#666" stroke-width="1.3"/>
<line x1="612.70" y1="272.10" x2="614.30" y2="272.10" stroke="#444" stroke-width="0.5"/>
<circle cx="611.70" cy="272.20" r="0.25" fill="#666"/>
<text x="610.40" y="273.80" text-anchor="end" style="font-size:5.3px" fill="#222">NEUROD6</text>
<rect x="665.95" y="300.60" width="11.45" height="20.40" fill="#bdc7e3"/>
<line x1="620.10" y1="321.00" x2="620.10" y2="311.20" stroke="#3c3c3c" stroke-width="0.75"/>
<path d="M615.60,321.00 Q620.10,319.60 624.60,321.00Z" fill="#666"/>
<line x1="630.80" y1="321.00" x2="630.80" y2="308.70" stroke="#b0b0b0" stroke-width="0.75"/>
<path d="M626.30,321.00 Q630.80,319.60 635.30,321.00Z" fill="#666"/>
<line x1="641.40" y1="321.00" x2="641.40" y2="307.90" stroke="#3c3c3c" stroke-width="0.75"/>
<path d="M636.90,321.00 Q641.40,319.60 645.90,321.00Z" fill="#666"/>
<line x1="651.50" y1="321.00" x2="651.50" y2="308.70" stroke="#3c3c3c" stroke-width="0.75"/>
<path d="M647.00,321.00 Q651.50,319.60 656.00,321.00Z" fill="#666"/>
<line x1="661.30" y1="321.00" x2="661.30" y2="303.00" stroke="#3c3c3c" stroke-width="0.75"/>
<path d="M656.80,321.00 Q661.30,319.60 665.80,321.00Z" fill="#666"/>
<line x1="671.90" y1="321.00" x2="671.90" y2="303.00" stroke="#333" stroke-width="0.5"/>
<path d="M677.40,321.00 C676.61,320.80 674.05,320.58 673.10,319.92 C672.15,319.26 672.42,320.50 672.20,317.40 C671.98,314.30 672.01,303.00 671.90,303.00 C671.79,303.00 671.82,314.30 671.60,317.40 C671.38,320.50 671.65,319.26 670.70,319.92 C669.75,320.58 667.19,320.80 666.40,321.00Z" fill="#3a3a3a" stroke="#222" stroke-width="0.45"/>
<path d="M666.40,321.00 Q670.30,320.70 670.80,319.10 L673.00,319.10 Q673.50,320.70 677.40,321.00Z" fill="#3a3a3a" stroke="#222" stroke-width="0.4"/>
<line x1="614.30" y1="300.80" x2="614.30" y2="321.50" stroke="#444" stroke-width="0.8"/>
<line x1="613.90" y1="321.10" x2="677.40" y2="321.10" stroke="#666" stroke-width="1.3"/>
<line x1="612.70" y1="301.10" x2="614.30" y2="301.10" stroke="#444" stroke-width="0.5"/>
<circle cx="611.70" cy="301.20" r="0.25" fill="#666"/>
<text x="610.40" y="302.80" text-anchor="end" style="font-size:5.3px" fill="#222">NELL2</text>
<text x="620.10" y="326.60" text-anchor="middle" style="font-size:5.4px" fill="#222">L1</text>
<text x="630.80" y="326.60" text-anchor="middle" style="font-size:5.4px" fill="#222">L2</text>
<text x="641.40" y="326.60" text-anchor="middle" style="font-size:5.4px" fill="#222">L3</text>
<text x="651.50" y="326.60" text-anchor="middle" style="font-size:5.4px" fill="#222">L4</text>
<text x="661.30" y="326.60" text-anchor="middle" style="font-size:5.4px" fill="#222">L5</text>
<text x="671.90" y="326.60" text-anchor="middle" style="font-size:5.4px" fill="#222">L6</text>
<text x="644.20" y="143.90" text-anchor="middle" style="font-size:7.4px">Cortical organoids</text>
<text x="644.20" y="150.70" text-anchor="middle" style="font-size:7.4px">(Kadoshima, et al.)</text>
<text x="0.00" y="345.60" text-anchor="start" style="font-size:10.5px;font-weight:bold">d</text>
<text x="44.00" y="346.00" text-anchor="middle" style="font-size:6.7px;font-weight:bold">Cortical assembloids</text>
<text x="115.70" y="346.00" text-anchor="middle" style="font-size:6.7px;font-weight:bold">Cortical organoid</text>
<text x="115.70" y="352.90" text-anchor="middle" style="font-size:6.7px;font-weight:bold">(Qian, et al.)</text>
<text x="44.00" y="413.60" text-anchor="middle" style="font-size:6.7px;font-weight:bold">Cortical organoids</text>
<text x="44.00" y="420.70" text-anchor="middle" style="font-size:6.7px;font-weight:bold">(Yoon, et al.)</text>
<text x="115.40" y="413.60" text-anchor="middle" style="font-size:6.7px;font-weight:bold">Cortical organoids</text>
<text x="115.40" y="420.70" text-anchor="middle" style="font-size:6.7px;font-weight:bold">(Xiang, et al.)</text>
<text x="43.60" y="482.60" text-anchor="middle" style="font-size:6.7px;font-weight:bold">Cortical organoids</text>
<text x="43.60" y="489.20" text-anchor="middle" style="font-size:6.7px;font-weight:bold">(Kadoshima, et al.)</text>
<use href="#a1" transform="translate(-1.69 332.3) scale(0.693 0.677)"/>
<use href="#a2" transform="translate(9.4 339.6) scale(0.632 0.612)"/>
<use href="#a3" transform="translate(-138.2 406.8) scale(0.635 0.646)"/>
<use href="#a4" transform="translate(-118 409.5) scale(0.573 0.561)"/>
<use href="#a5" transform="translate(-255.8 475.2) scale(0.567 0.583)"/>
<line x1="25.00" y1="373.80" x2="50.20" y2="363.20" stroke="#111" stroke-width="0.5"/>
<line x1="25.00" y1="373.80" x2="35.80" y2="387.10" stroke="#111" stroke-width="0.5"/>
<line x1="35.80" y1="387.10" x2="44.90" y2="373.80" stroke="#111" stroke-width="0.5"/>
<line x1="44.90" y1="373.80" x2="58.10" y2="379.30" stroke="#111" stroke-width="1.3"/>
<line x1="50.20" y1="363.20" x2="58.10" y2="379.30" stroke="#111" stroke-width="0.5"/>
<line x1="50.20" y1="363.20" x2="55.10" y2="360.60" stroke="#111" stroke-width="0.5"/>
<line x1="25.00" y1="373.80" x2="58.10" y2="379.30" stroke="#111" stroke-width="0.4"/>
<circle cx="55.10" cy="360.60" r="1.60" fill="#33b864"/>
<text x="55.10" y="361.90" text-anchor="middle" style="font-size:3.8px;font-weight:bold" fill="#111">L2</text>
<circle cx="50.20" cy="363.20" r="0.80" fill="#0d3b12"/>
<text x="50.20" y="364.50" text-anchor="middle" style="font-size:3.8px;font-weight:bold" fill="#111">L1</text>
<circle cx="25.00" cy="373.80" r="1.20" fill="#8ff03c"/>
<text x="25.00" y="375.10" text-anchor="middle" style="font-size:3.8px;font-weight:bold" fill="#111">L3</text>
<text x="35.80" y="388.40" text-anchor="middle" style="font-size:3.8px;font-weight:bold" fill="#111">L4</text>
<circle cx="44.90" cy="373.80" r="0.80" fill="#3d9cf0"/>
<text x="44.90" y="375.10" text-anchor="middle" style="font-size:3.8px;font-weight:bold" fill="#111">L5</text>
<circle cx="58.10" cy="379.30" r="1.90" fill="#0b34a0"/>
<text x="58.10" y="380.60" text-anchor="middle" style="font-size:3.8px;font-weight:bold" fill="#111">L6</text>
<line x1="90.50" y1="363.50" x2="101.10" y2="373.30" stroke="#111" stroke-width="1.2"/>
<line x1="101.10" y1="373.30" x2="101.10" y2="388.30" stroke="#111" stroke-width="1.0"/>
<line x1="101.10" y1="373.30" x2="125.00" y2="380.60" stroke="#111" stroke-width="0.45"/>
<line x1="101.10" y1="388.30" x2="125.00" y2="380.60" stroke="#111" stroke-width="0.45"/>
<text x="90.50" y="364.80" text-anchor="middle" style="font-size:3.8px;font-weight:bold" fill="#111">Un</text>
<text x="101.10" y="374.60" text-anchor="middle" style="font-size:3.8px;font-weight:bold" fill="#111">L4</text>
<circle cx="101.10" cy="388.30" r="2.50" fill="#8ff03c"/>
<text x="101.10" y="389.60" text-anchor="middle" style="font-size:3.8px;font-weight:bold" fill="#111">L3</text>
<circle cx="125.00" cy="380.60" r="3.30" fill="#0b34a0"/>
<text x="125.00" y="381.90" text-anchor="middle" style="font-size:3.8px;font-weight:bold" fill="#111">L6</text>
<line x1="39.60" y1="434.80" x2="24.30" y2="452.70" stroke="#111" stroke-width="0.5"/>
<line x1="39.60" y1="434.80" x2="54.40" y2="458.80" stroke="#111" stroke-width="0.5"/>
<line x1="39.60" y1="434.80" x2="68.20" y2="460.90" stroke="#111" stroke-width="0.5"/>
<line x1="24.30" y1="452.70" x2="54.40" y2="458.80" stroke="#111" stroke-width="1.4"/>
<line x1="24.30" y1="452.70" x2="68.20" y2="460.90" stroke="#111" stroke-width="0.5"/>
<line x1="54.40" y1="458.80" x2="68.20" y2="460.90" stroke="#111" stroke-width="1.0"/>
<line x1="37.40" y1="451.90" x2="54.40" y2="458.80" stroke="#111" stroke-width="0.5"/>
<text x="39.60" y="436.10" text-anchor="middle" style="font-size:3.8px;font-weight:bold" fill="#111">L4</text>
<circle cx="24.30" cy="452.70" r="2.20" fill="#8ff03c"/>
<text x="24.30" y="454.00" text-anchor="middle" style="font-size:3.8px;font-weight:bold" fill="#111">L3</text>
<circle cx="37.40" cy="451.90" r="1.50" fill="#3d9cf0"/>
<text x="37.40" y="453.20" text-anchor="middle" style="font-size:3.8px;font-weight:bold" fill="#111">L5</text>
<circle cx="54.40" cy="458.80" r="3.50" fill="#0b34a0"/>
<text x="54.40" y="460.10" text-anchor="middle" style="font-size:3.8px;font-weight:bold" fill="#111">L6</text>
<circle cx="68.20" cy="460.90" r="3.00" fill="#33b864"/>
<text x="68.20" y="462.20" text-anchor="middle" style="font-size:3.8px;font-weight:bold" fill="#111">L2</text>
<line x1="94.30" y1="443.60" x2="102.90" y2="439.30" stroke="#111" stroke-width="0.6"/>
<line x1="102.90" y1="439.30" x2="126.00" y2="439.30" stroke="#111" stroke-width="1.0"/>
<line x1="126.00" y1="439.30" x2="134.00" y2="450.00" stroke="#111" stroke-width="0.6"/>
<line x1="102.90" y1="439.30" x2="134.00" y2="450.00" stroke="#111" stroke-width="0.45"/>
<line x1="94.30" y1="443.60" x2="95.40" y2="460.80" stroke="#111" stroke-width="0.6"/>
<line x1="102.90" y1="439.30" x2="95.40" y2="460.80" stroke="#111" stroke-width="0.8"/>
<line x1="94.30" y1="443.60" x2="126.00" y2="439.30" stroke="#111" stroke-width="0.4"/>
<circle cx="94.30" cy="443.60" r="1.50" fill="#8ff03c"/>
<text x="94.30" y="444.90" text-anchor="middle" style="font-size:3.8px;font-weight:bold" fill="#111">L3</text>
<circle cx="102.90" cy="439.30" r="1.20" fill="#33b864"/>
<text x="102.90" y="440.60" text-anchor="middle" style="font-size:3.8px;font-weight:bold" fill="#111">L2</text>
<circle cx="126.00" cy="439.30" r="1.00" fill="#3d9cf0"/>
<text x="126.00" y="440.60" text-anchor="middle" style="font-size:3.8px;font-weight:bold" fill="#111">L5</text>
<text x="134.00" y="451.30" text-anchor="middle" style="font-size:3.8px;font-weight:bold" fill="#111">L4</text>
<circle cx="95.40" cy="460.80" r="2.00" fill="#0b34a0"/>
<text x="95.40" y="462.10" text-anchor="middle" style="font-size:3.8px;font-weight:bold" fill="#111">L6</text>
<line x1="41.30" y1="506.10" x2="50.20" y2="513.50" stroke="#111" stroke-width="1.0"/>
<line x1="41.30" y1="506.10" x2="22.20" y2="524.70" stroke="#111" stroke-width="0.5"/>
<line x1="41.30" y1="506.10" x2="39.40" y2="526.70" stroke="#111" stroke-width="0.5"/>
<line x1="41.30" y1="506.10" x2="22.70" y2="535.50" stroke="#111" stroke-width="0.5"/>
<line x1="50.20" y1="513.50" x2="22.20" y2="524.70" stroke="#111" stroke-width="0.5"/>
<line x1="50.20" y1="513.50" x2="39.40" y2="526.70" stroke="#111" stroke-width="1.0"/>
<line x1="50.20" y1="513.50" x2="22.70" y2="535.50" stroke="#111" stroke-width="0.5"/>
<line x1="22.20" y1="524.70" x2="39.40" y2="526.70" stroke="#111" stroke-width="0.9"/>
<line x1="22.20" y1="524.70" x2="22.70" y2="535.50" stroke="#111" stroke-width="1.8"/>
<line x1="39.40" y1="526.70" x2="22.70" y2="535.50" stroke="#111" stroke-width="0.5"/>
<circle cx="41.30" cy="506.10" r="1.50" fill="#33b864"/>
<text x="41.30" y="507.40" text-anchor="middle" style="font-size:3.8px;font-weight:bold" fill="#111">L2</text>
<circle cx="50.20" cy="513.50" r="3.30" fill="#3d9cf0"/>
<text x="50.20" y="514.80" text-anchor="middle" style="font-size:3.8px;font-weight:bold" fill="#111">L5</text>
<circle cx="22.20" cy="524.70" r="2.50" fill="#8ff03c"/>
<text x="22.20" y="526.00" text-anchor="middle" style="font-size:3.8px;font-weight:bold" fill="#111">L3</text>
<circle cx="39.40" cy="526.70" r="2.60" fill="#0b34a0"/>
<text x="39.40" y="528.00" text-anchor="middle" style="font-size:3.8px;font-weight:bold" fill="#111">L6</text>
<text x="22.70" y="536.80" text-anchor="middle" style="font-size:3.8px;font-weight:bold" fill="#111">L4</text>
<text x="153.60" y="345.70" text-anchor="start" style="font-size:10.5px;font-weight:bold">e</text>
<text x="154.60" y="448.60" text-anchor="start" style="font-size:10.5px;font-weight:bold">f</text>
<defs><linearGradient id="gr" x1="0" y1="0" x2="0" y2="1"><stop offset="0" stop-color="#e60000"/><stop offset="1" stop-color="#fff"/></linearGradient><linearGradient id="grb" x1="0" y1="0" x2="0" y2="1"><stop offset="0" stop-color="#e60000"/><stop offset="0.5" stop-color="#fff"/><stop offset="1" stop-color="#0000e6"/></linearGradient></defs>
<text x="256.50" y="348.80" text-anchor="middle" style="font-size:7.35px;font-weight:bold">Proportion of astrocytes</text>
<text x="390.30" y="348.80" text-anchor="middle" style="font-size:7.35px;font-weight:bold">Proportion of microglia</text>
<text x="197.30" y="383.70" text-anchor="end" style="font-size:6.6px;font-weight:bold">Cortical</text>
<text x="197.30" y="390.20" text-anchor="end" style="font-size:6.6px;font-weight:bold">assembloids</text>
<text x="197.30" y="417.80" text-anchor="end" style="font-size:6.6px;font-weight:bold">Cortical</text>
<text x="197.30" y="424.10" text-anchor="end" style="font-size:6.6px;font-weight:bold">organoids</text>
<rect x="200.80" y="383.10" width="8.37" height="8.20" fill="#f5a0a0" stroke="#111" stroke-width="0.7"/>
<rect x="209.17" y="383.10" width="8.37" height="8.20" fill="#fbd0d0" stroke="#111" stroke-width="0.7"/>
<rect x="217.54" y="383.10" width="8.37" height="8.20" fill="#f5a8a8" stroke="#111" stroke-width="0.7"/>
<rect x="225.91" y="383.10" width="8.37" height="8.20" fill="#fcd8d8" stroke="#111" stroke-width="0.7"/>
<rect x="234.28" y="383.10" width="8.37" height="8.20" fill="#f08080" stroke="#111" stroke-width="0.7"/>
<rect x="242.65" y="383.10" width="8.37" height="8.20" fill="#f8b8b8" stroke="#111" stroke-width="0.7"/>
<rect x="251.02" y="383.10" width="8.37" height="8.20" fill="#fcc8c8" stroke="#111" stroke-width="0.7"/>
<rect x="259.39" y="383.10" width="8.37" height="8.20" fill="#fdd8d8" stroke="#111" stroke-width="0.7"/>
<rect x="267.76" y="383.10" width="8.37" height="8.20" fill="#f49090" stroke="#111" stroke-width="0.7"/>
<rect x="276.13" y="383.10" width="8.37" height="8.20" fill="#f6a8a8" stroke="#111" stroke-width="0.7"/>
<rect x="284.50" y="383.10" width="8.37" height="8.20" fill="#ee0000" stroke="#111" stroke-width="0.7"/>
<rect x="292.87" y="383.10" width="8.37" height="8.20" fill="#f02020" stroke="#111" stroke-width="0.7"/>
<rect x="301.24" y="383.10" width="8.37" height="8.20" fill="#f8a0a0" stroke="#111" stroke-width="0.7"/>
<text x="204.99" y="380.70" text-anchor="middle" style="font-size:5.3px" fill="#222">1</text>
<text x="213.36" y="380.70" text-anchor="middle" style="font-size:5.3px" fill="#222">2</text>
<text x="221.73" y="380.70" text-anchor="middle" style="font-size:5.3px" fill="#222">3</text>
<text x="230.09" y="380.70" text-anchor="middle" style="font-size:5.3px" fill="#222">4</text>
<text x="238.47" y="380.70" text-anchor="middle" style="font-size:5.3px" fill="#222">5</text>
<text x="246.84" y="380.70" text-anchor="middle" style="font-size:5.3px" fill="#222">1</text>
<text x="255.21" y="380.70" text-anchor="middle" style="font-size:5.3px" fill="#222">2</text>
<text x="263.57" y="380.70" text-anchor="middle" style="font-size:5.3px" fill="#222">3</text>
<text x="271.94" y="380.70" text-anchor="middle" style="font-size:5.3px" fill="#222">4</text>
<text x="280.31" y="380.70" text-anchor="middle" style="font-size:5.3px" fill="#222">5</text>
<line x1="201.20" y1="375.10" x2="241.85" y2="375.10" stroke="#222" stroke-width="0.75"/>
<line x1="243.45" y1="375.10" x2="284.10" y2="375.10" stroke="#222" stroke-width="0.75"/>
<text x="221.73" y="373.20" text-anchor="middle" style="font-size:5.3px" fill="#222">Batch 1</text>
<text x="263.57" y="373.20" text-anchor="middle" style="font-size:5.3px" fill="#222">Batch 2</text>
<line x1="201.20" y1="367.90" x2="284.10" y2="367.90" stroke="#222" stroke-width="0.75"/>
<text x="242.65" y="366.10" text-anchor="middle" style="font-size:5.3px" fill="#222">hESC</text>
<text x="287.69" y="381.60" text-anchor="start" style="font-size:5.6px" fill="#222" transform="rotate(-46 287.69 381.60)">hiPSC #1</text>
<text x="296.06" y="381.60" text-anchor="start" style="font-size:5.6px" fill="#222" transform="rotate(-46 296.06 381.60)">hiPSC #2</text>
<text x="304.43" y="381.60" text-anchor="start" style="font-size:5.6px" fill="#222" transform="rotate(-46 304.43 381.60)">hiPSC #3</text>
<rect x="205.50" y="416.60" width="8.40" height="8.20" fill="#fac8c8" stroke="#111" stroke-width="0.7"/>
<rect x="213.90" y="416.60" width="8.40" height="8.20" fill="#fff5f5" stroke="#111" stroke-width="0.7"/>
<rect x="222.30" y="416.60" width="8.40" height="8.20" fill="#fcd0d0" stroke="#111" stroke-width="0.7"/>
<rect x="230.70" y="416.60" width="8.40" height="8.20" fill="#f8b8b8" stroke="#111" stroke-width="0.7"/>
<rect x="239.10" y="416.60" width="8.40" height="8.20" fill="#fbc8c8" stroke="#111" stroke-width="0.7"/>
<rect x="247.50" y="416.60" width="8.40" height="8.20" fill="#ee0000" stroke="#111" stroke-width="0.7"/>
<rect x="255.90" y="416.60" width="8.40" height="8.20" fill="#ffffff" stroke="#111" stroke-width="0.7"/>
<rect x="264.30" y="416.60" width="8.40" height="8.20" fill="#fde8e8" stroke="#111" stroke-width="0.7"/>
<rect x="272.70" y="416.60" width="8.40" height="8.20" fill="#fbc0c0" stroke="#111" stroke-width="0.7"/>
<rect x="281.10" y="416.60" width="8.40" height="8.20" fill="#fff8f8" stroke="#111" stroke-width="0.7"/>
<rect x="289.50" y="416.60" width="8.40" height="8.20" fill="#fde0e0" stroke="#111" stroke-width="0.7"/>
<text x="218.10" y="415.00" text-anchor="middle" style="font-size:5.3px" fill="#222">1</text>
<text x="226.50" y="415.00" text-anchor="middle" style="font-size:5.3px" fill="#222">2</text>
<text x="234.90" y="415.00" text-anchor="middle" style="font-size:5.3px" fill="#222">3</text>
<text x="243.30" y="415.00" text-anchor="middle" style="font-size:5.3px" fill="#222">1</text>
<text x="251.70" y="415.00" text-anchor="middle" style="font-size:5.3px" fill="#222">2</text>
<text x="260.10" y="415.00" text-anchor="middle" style="font-size:5.3px" fill="#222">1</text>
<text x="268.50" y="415.00" text-anchor="middle" style="font-size:5.3px" fill="#222">2</text>
<text x="276.90" y="415.00" text-anchor="middle" style="font-size:5.3px" fill="#222">3</text>
<text x="285.30" y="415.00" text-anchor="middle" style="font-size:5.3px" fill="#222">4</text>
<text x="293.70" y="415.00" text-anchor="middle" style="font-size:5.3px" fill="#222">5</text>
<text x="205.60" y="409.10" text-anchor="middle" style="font-size:5.3px" fill="#222">Qian,</text>
<text x="205.60" y="415.00" text-anchor="middle" style="font-size:5.3px" fill="#222">et al.</text>
<line x1="214.50" y1="409.10" x2="238.50" y2="409.10" stroke="#222" stroke-width="0.75"/>
<text x="226.50" y="401.80" text-anchor="middle" style="font-size:5.3px" fill="#222">Yoon,</text>
<text x="226.50" y="407.20" text-anchor="middle" style="font-size:5.3px" fill="#222">et al.</text>
<line x1="239.70" y1="409.10" x2="255.30" y2="409.10" stroke="#222" stroke-width="0.75"/>
<text x="247.50" y="401.80" text-anchor="middle" style="font-size:5.3px" fill="#222">Xiang,</text>
<text x="247.50" y="407.20" text-anchor="middle" style="font-size:5.3px" fill="#222">et al.</text>
<line x1="256.50" y1="409.10" x2="297.30" y2="409.10" stroke="#222" stroke-width="0.75"/>
<text x="276.90" y="401.80" text-anchor="middle" style="font-size:5.3px" fill="#222">Kadoshima,</text>
<text x="276.90" y="407.20" text-anchor="middle" style="font-size:5.3px" fill="#222">et al.</text>
<rect x="306.60" y="402.40" width="3.00" height="25.00" fill="url(#gr)" stroke="#111" stroke-width="0.5"/>
<text x="308.10" y="399.60" text-anchor="middle" style="font-size:5.3px" fill="#222">(%)</text>
<text x="310.90" y="404.60" text-anchor="start" style="font-size:5.3px" fill="#222">max</text>
<text x="310.90" y="427.40" text-anchor="start" style="font-size:5.3px" fill="#222">min</text>
<rect x="334.80" y="383.10" width="8.37" height="8.20" fill="#f07070" stroke="#111" stroke-width="0.7"/>
<rect x="343.17" y="383.10" width="8.37" height="8.20" fill="#f38080" stroke="#111" stroke-width="0.7"/>
<rect x="351.54" y="383.10" width="8.37" height="8.20" fill="#f8a8a8" stroke="#111" stroke-width="0.7"/>
<rect x="359.91" y="383.10" width="8.37" height="8.20" fill="#f48888" stroke="#111" stroke-width="0.7"/>
<rect x="368.28" y="383.10" width="8.37" height="8.20" fill="#e81010" stroke="#111" stroke-width="0.7"/>
<rect x="376.65" y="383.10" width="8.37" height="8.20" fill="#fbc8c8" stroke="#111" stroke-width="0.7"/>
<rect x="385.02" y="383.10" width="8.37" height="8.20" fill="#f8a0a0" stroke="#111" stroke-width="0.7"/>
<rect x="393.39" y="383.10" width="8.37" height="8.20" fill="#f9b0b0" stroke="#111" stroke-width="0.7"/>
<rect x="401.76" y="383.10" width="8.37" height="8.20" fill="#fde0e0" stroke="#111" stroke-width="0.7"/>
<rect x="410.13" y="383.10" width="8.37" height="8.20" fill="#f27878" stroke="#111" stroke-width="0.7"/>
<rect x="418.50" y="383.10" width="8.37" height="8.20" fill="#f8a8a8" stroke="#111" stroke-width="0.7"/>
<rect x="426.87" y="383.10" width="8.37" height="8.20" fill="#f27070" stroke="#111" stroke-width="0.7"/>
<rect x="435.24" y="383.10" width="8.37" height="8.20" fill="#e80000" stroke="#111" stroke-width="0.7"/>
<text x="338.99" y="380.70" text-anchor="middle" style="font-size:5.3px" fill="#222">1</text>
<text x="347.36" y="380.70" text-anchor="middle" style="font-size:5.3px" fill="#222">2</text>
<text x="355.73" y="380.70" text-anchor="middle" style="font-size:5.3px" fill="#222">3</text>
<text x="364.10" y="380.70" text-anchor="middle" style="font-size:5.3px" fill="#222">4</text>
<text x="372.47" y="380.70" text-anchor="middle" style="font-size:5.3px" fill="#222">5</text>
<text x="380.84" y="380.70" text-anchor="middle" style="font-size:5.3px" fill="#222">1</text>
<text x="389.20" y="380.70" text-anchor="middle" style="font-size:5.3px" fill="#222">2</text>
<text x="397.57" y="380.70" text-anchor="middle" style="font-size:5.3px" fill="#222">3</text>
<text x="405.94" y="380.70" text-anchor="middle" style="font-size:5.3px" fill="#222">4</text>
<text x="414.31" y="380.70" text-anchor="middle" style="font-size:5.3px" fill="#222">5</text>
<line x1="335.20" y1="375.10" x2="375.85" y2="375.10" stroke="#222" stroke-width="0.75"/>
<line x1="377.45" y1="375.10" x2="418.10" y2="375.10" stroke="#222" stroke-width="0.75"/>
<text x="355.73" y="373.20" text-anchor="middle" style="font-size:5.3px" fill="#222">Batch 1</text>
<text x="397.57" y="373.20" text-anchor="middle" style="font-size:5.3px" fill="#222">Batch 2</text>
<line x1="335.20" y1="367.90" x2="418.10" y2="367.90" stroke="#222" stroke-width="0.75"/>
<text x="376.65" y="366.10" text-anchor="middle" style="font-size:5.3px" fill="#222">hESC</text>
<text x="421.69" y="381.60" text-anchor="start" style="font-size:5.6px" fill="#222" transform="rotate(-46 421.69 381.60)">hiPSC #1</text>
<text x="430.06" y="381.60" text-anchor="start" style="font-size:5.6px" fill="#222" transform="rotate(-46 430.06 381.60)">hiPSC #2</text>
<text x="438.43" y="381.60" text-anchor="start" style="font-size:5.6px" fill="#222" transform="rotate(-46 438.43 381.60)">hiPSC #3</text>
<rect x="338.80" y="416.60" width="8.40" height="8.20" fill="#ffffff" stroke="#111" stroke-width="0.7"/>
<rect x="347.20" y="416.60" width="8.40" height="8.20" fill="#ffffff" stroke="#111" stroke-width="0.7"/>
<rect x="355.60" y="416.60" width="8.40" height="8.20" fill="#ffffff" stroke="#111" stroke-width="0.7"/>
<rect x="364.00" y="416.60" width="8.40" height="8.20" fill="#ffffff" stroke="#111" stroke-width="0.7"/>
<rect x="372.40" y="416.60" width="8.40" height="8.20" fill="#ffffff" stroke="#111" stroke-width="0.7"/>
<rect x="380.80" y="416.60" width="8.40" height="8.20" fill="#ffffff" stroke="#111" stroke-width="0.7"/>
<rect x="389.20" y="416.60" width="8.40" height="8.20" fill="#ffffff" stroke="#111" stroke-width="0.7"/>
<rect x="397.60" y="416.60" width="8.40" height="8.20" fill="#ffffff" stroke="#111" stroke-width="0.7"/>
<rect x="406.00" y="416.60" width="8.40" height="8.20" fill="#ffffff" stroke="#111" stroke-width="0.7"/>
<rect x="414.40" y="416.60" width="8.40" height="8.20" fill="#ffffff" stroke="#111" stroke-width="0.7"/>
<rect x="422.80" y="416.60" width="8.40" height="8.20" fill="#ffffff" stroke="#111" stroke-width="0.7"/>
<text x="351.40" y="415.00" text-anchor="middle" style="font-size:5.3px" fill="#222">1</text>
<text x="359.80" y="415.00" text-anchor="middle" style="font-size:5.3px" fill="#222">2</text>
<text x="368.20" y="415.00" text-anchor="middle" style="font-size:5.3px" fill="#222">3</text>
<text x="376.60" y="415.00" text-anchor="middle" style="font-size:5.3px" fill="#222">1</text>
<text x="385.00" y="415.00" text-anchor="middle" style="font-size:5.3px" fill="#222">2</text>
<text x="393.40" y="415.00" text-anchor="middle" style="font-size:5.3px" fill="#222">1</text>
<text x="401.80" y="415.00" text-anchor="middle" style="font-size:5.3px" fill="#222">2</text>
<text x="410.20" y="415.00" text-anchor="middle" style="font-size:5.3px" fill="#222">3</text>
<text x="418.60" y="415.00" text-anchor="middle" style="font-size:5.3px" fill="#222">4</text>
<text x="427.00" y="415.00" text-anchor="middle" style="font-size:5.3px" fill="#222">5</text>
<text x="338.90" y="409.10" text-anchor="middle" style="font-size:5.3px" fill="#222">Qian,</text>
<text x="338.90" y="415.00" text-anchor="middle" style="font-size:5.3px" fill="#222">et al.</text>
<line x1="347.80" y1="409.10" x2="371.80" y2="409.10" stroke="#222" stroke-width="0.75"/>
<text x="359.80" y="401.80" text-anchor="middle" style="font-size:5.3px" fill="#222">Yoon,</text>
<text x="359.80" y="407.20" text-anchor="middle" style="font-size:5.3px" fill="#222">et al.</text>
<line x1="373.00" y1="409.10" x2="388.60" y2="409.10" stroke="#222" stroke-width="0.75"/>
<text x="380.80" y="401.80" text-anchor="middle" style="font-size:5.3px" fill="#222">Xiang,</text>
<text x="380.80" y="407.20" text-anchor="middle" style="font-size:5.3px" fill="#222">et al.</text>
<line x1="389.80" y1="409.10" x2="430.60" y2="409.10" stroke="#222" stroke-width="0.75"/>
<text x="410.20" y="401.80" text-anchor="middle" style="font-size:5.3px" fill="#222">Kadoshima,</text>
<text x="410.20" y="407.20" text-anchor="middle" style="font-size:5.3px" fill="#222">et al.</text>
<rect x="440.90" y="402.40" width="3.00" height="25.00" fill="url(#gr)" stroke="#111" stroke-width="0.5"/>
<text x="442.40" y="399.60" text-anchor="middle" style="font-size:5.3px" fill="#222">(%)</text>
<text x="445.20" y="404.60" text-anchor="start" style="font-size:5.3px" fill="#222">max</text>
<text x="445.20" y="427.40" text-anchor="start" style="font-size:5.3px" fill="#222">min</text>
<text x="256.60" y="455.00" text-anchor="middle" style="font-size:7.35px;font-weight:bold">Proportion of upper layers (layer 1-4)</text>
<text x="394.30" y="455.20" text-anchor="middle" style="font-size:7.35px;font-weight:bold">Proportion of deep layers (layer 5-6)</text>
<text x="196.00" y="487.80" text-anchor="end" style="font-size:6.6px;font-weight:bold">Cortical</text>
<text x="196.00" y="494.40" text-anchor="end" style="font-size:6.6px;font-weight:bold">assembloids</text>
<text x="196.00" y="522.40" text-anchor="end" style="font-size:6.6px;font-weight:bold">Cortical</text>
<text x="196.00" y="528.90" text-anchor="end" style="font-size:6.6px;font-weight:bold">organoids</text>
<rect x="199.90" y="487.30" width="8.40" height="8.20" fill="#fde8e8" stroke="#111" stroke-width="0.7"/>
<rect x="208.30" y="487.30" width="8.40" height="8.20" fill="#fcd0d0" stroke="#111" stroke-width="0.7"/>
<rect x="216.70" y="487.30" width="8.40" height="8.20" fill="#f06060" stroke="#111" stroke-width="0.7"/>
<rect x="225.10" y="487.30" width="8.40" height="8.20" fill="#e8e8f8" stroke="#111" stroke-width="0.7"/>
<rect x="233.50" y="487.30" width="8.40" height="8.20" fill="#f8a0a0" stroke="#111" stroke-width="0.7"/>
<rect x="241.90" y="487.30" width="8.40" height="8.20" fill="#f06060" stroke="#111" stroke-width="0.7"/>
<rect x="250.30" y="487.30" width="8.40" height="8.20" fill="#ee0000" stroke="#111" stroke-width="0.7"/>
<rect x="258.70" y="487.30" width="8.40" height="8.20" fill="#f04040" stroke="#111" stroke-width="0.7"/>
<rect x="267.10" y="487.30" width="8.40" height="8.20" fill="#f59090" stroke="#111" stroke-width="0.7"/>
<rect x="275.50" y="487.30" width="8.40" height="8.20" fill="#f05050" stroke="#111" stroke-width="0.7"/>
<rect x="283.90" y="487.30" width="8.40" height="8.20" fill="#f47070" stroke="#111" stroke-width="0.7"/>
<rect x="292.30" y="487.30" width="8.40" height="8.20" fill="#f48080" stroke="#111" stroke-width="0.7"/>
<rect x="300.70" y="487.30" width="8.40" height="8.20" fill="#fefefe" stroke="#111" stroke-width="0.7"/>
<text x="204.10" y="484.90" text-anchor="middle" style="font-size:5.3px" fill="#222">1</text>
<text x="212.50" y="484.90" text-anchor="middle" style="font-size:5.3px" fill="#222">2</text>
<text x="220.90" y="484.90" text-anchor="middle" style="font-size:5.3px" fill="#222">3</text>
<text x="229.30" y="484.90" text-anchor="middle" style="font-size:5.3px" fill="#222">4</text>
<text x="237.70" y="484.90" text-anchor="middle" style="font-size:5.3px" fill="#222">5</text>
<text x="246.10" y="484.90" text-anchor="middle" style="font-size:5.3px" fill="#222">1</text>
<text x="254.50" y="484.90" text-anchor="middle" style="font-size:5.3px" fill="#222">2</text>
<text x="262.90" y="484.90" text-anchor="middle" style="font-size:5.3px" fill="#222">3</text>
<text x="271.30" y="484.90" text-anchor="middle" style="font-size:5.3px" fill="#222">4</text>
<text x="279.70" y="484.90" text-anchor="middle" style="font-size:5.3px" fill="#222">5</text>
<line x1="200.30" y1="479.30" x2="241.10" y2="479.30" stroke="#222" stroke-width="0.75"/>
<line x1="242.70" y1="479.30" x2="283.50" y2="479.30" stroke="#222" stroke-width="0.75"/>
<text x="220.90" y="477.40" text-anchor="middle" style="font-size:5.3px" fill="#222">Batch 1</text>
<text x="262.90" y="477.40" text-anchor="middle" style="font-size:5.3px" fill="#222">Batch 2</text>
<line x1="200.30" y1="472.10" x2="283.50" y2="472.10" stroke="#222" stroke-width="0.75"/>
<text x="241.90" y="470.30" text-anchor="middle" style="font-size:5.3px" fill="#222">hESC</text>
<text x="287.10" y="485.80" text-anchor="start" style="font-size:5.6px" fill="#222" transform="rotate(-46 287.10 485.80)">hiPSC #1</text>
<text x="295.50" y="485.80" text-anchor="start" style="font-size:5.6px" fill="#222" transform="rotate(-46 295.50 485.80)">hiPSC #2</text>
<text x="303.90" y="485.80" text-anchor="start" style="font-size:5.6px" fill="#222" transform="rotate(-46 303.90 485.80)">hiPSC #3</text>
<rect x="204.50" y="521.00" width="8.34" height="8.20" fill="#a8a8f8" stroke="#111" stroke-width="0.7"/>
<rect x="212.84" y="521.00" width="8.34" height="8.20" fill="#7070f0" stroke="#111" stroke-width="0.7"/>
<rect x="221.18" y="521.00" width="8.34" height="8.20" fill="#d8d8f8" stroke="#111" stroke-width="0.7"/>
<rect x="229.52" y="521.00" width="8.34" height="8.20" fill="#5050f0" stroke="#111" stroke-width="0.7"/>
<rect x="237.86" y="521.00" width="8.34" height="8.20" fill="#a0a0f0" stroke="#111" stroke-width="0.7"/>
<rect x="246.20" y="521.00" width="8.34" height="8.20" fill="#ee2020" stroke="#111" stroke-width="0.7"/>
<rect x="254.54" y="521.00" width="8.34" height="8.20" fill="#0000ee" stroke="#111" stroke-width="0.7"/>
<rect x="262.88" y="521.00" width="8.34" height="8.20" fill="#8888f0" stroke="#111" stroke-width="0.7"/>
<rect x="271.22" y="521.00" width="8.34" height="8.20" fill="#4040f0" stroke="#111" stroke-width="0.7"/>
<rect x="279.56" y="521.00" width="8.34" height="8.20" fill="#9090f0" stroke="#111" stroke-width="0.7"/>
<rect x="287.90" y="521.00" width="8.34" height="8.20" fill="#3030f0" stroke="#111" stroke-width="0.7"/>
<text x="217.01" y="519.40" text-anchor="middle" style="font-size:5.3px" fill="#222">1</text>
<text x="225.35" y="519.40" text-anchor="middle" style="font-size:5.3px" fill="#222">2</text>
<text x="233.69" y="519.40" text-anchor="middle" style="font-size:5.3px" fill="#222">3</text>
<text x="242.03" y="519.40" text-anchor="middle" style="font-size:5.3px" fill="#222">1</text>
<text x="250.37" y="519.40" text-anchor="middle" style="font-size:5.3px" fill="#222">2</text>
<text x="258.71" y="519.40" text-anchor="middle" style="font-size:5.3px" fill="#222">1</text>
<text x="267.05" y="519.40" text-anchor="middle" style="font-size:5.3px" fill="#222">2</text>
<text x="275.39" y="519.40" text-anchor="middle" style="font-size:5.3px" fill="#222">3</text>
<text x="283.73" y="519.40" text-anchor="middle" style="font-size:5.3px" fill="#222">4</text>
<text x="292.07" y="519.40" text-anchor="middle" style="font-size:5.3px" fill="#222">5</text>
<text x="204.60" y="513.50" text-anchor="middle" style="font-size:5.3px" fill="#222">Qian,</text>
<text x="204.60" y="519.40" text-anchor="middle" style="font-size:5.3px" fill="#222">et al.</text>
<line x1="213.44" y1="513.50" x2="237.26" y2="513.50" stroke="#222" stroke-width="0.75"/>
<text x="225.35" y="506.20" text-anchor="middle" style="font-size:5.3px" fill="#222">Yoon,</text>
<text x="225.35" y="511.60" text-anchor="middle" style="font-size:5.3px" fill="#222">et al.</text>
<line x1="238.46" y1="513.50" x2="253.94" y2="513.50" stroke="#222" stroke-width="0.75"/>
<text x="246.20" y="506.20" text-anchor="middle" style="font-size:5.3px" fill="#222">Xiang,</text>
<text x="246.20" y="511.60" text-anchor="middle" style="font-size:5.3px" fill="#222">et al.</text>
<line x1="255.14" y1="513.50" x2="295.64" y2="513.50" stroke="#222" stroke-width="0.75"/>
<text x="275.39" y="506.20" text-anchor="middle" style="font-size:5.3px" fill="#222">Kadoshima,</text>
<text x="275.39" y="511.60" text-anchor="middle" style="font-size:5.3px" fill="#222">et al.</text>
<rect x="306.60" y="506.80" width="3.00" height="25.50" fill="url(#grb)" stroke="#111" stroke-width="0.5"/>
<text x="308.10" y="504.00" text-anchor="middle" style="font-size:5.3px" fill="#222">(%)</text>
<text x="310.90" y="509.00" text-anchor="start" style="font-size:5.3px" fill="#222">max</text>
<text x="310.90" y="532.30" text-anchor="start" style="font-size:5.3px" fill="#222">min</text>
<rect x="335.20" y="487.40" width="8.40" height="8.20" fill="#f0f0fc" stroke="#111" stroke-width="0.7"/>
<rect x="343.60" y="487.40" width="8.40" height="8.20" fill="#d0d0f8" stroke="#111" stroke-width="0.7"/>
<rect x="352.00" y="487.40" width="8.40" height="8.20" fill="#6060f0" stroke="#111" stroke-width="0.7"/>
<rect x="360.40" y="487.40" width="8.40" height="8.20" fill="#fdf0f0" stroke="#111" stroke-width="0.7"/>
<rect x="368.80" y="487.40" width="8.40" height="8.20" fill="#a0a0f4" stroke="#111" stroke-width="0.7"/>
<rect x="377.20" y="487.40" width="8.40" height="8.20" fill="#6868f0" stroke="#111" stroke-width="0.7"/>
<rect x="385.60" y="487.40" width="8.40" height="8.20" fill="#0000ee" stroke="#111" stroke-width="0.7"/>
<rect x="394.00" y="487.40" width="8.40" height="8.20" fill="#3030f0" stroke="#111" stroke-width="0.7"/>
<rect x="402.40" y="487.40" width="8.40" height="8.20" fill="#8888f4" stroke="#111" stroke-width="0.7"/>
<rect x="410.80" y="487.40" width="8.40" height="8.20" fill="#4848f0" stroke="#111" stroke-width="0.7"/>
<rect x="419.20" y="487.40" width="8.40" height="8.20" fill="#7878f0" stroke="#111" stroke-width="0.7"/>
<rect x="427.60" y="487.40" width="8.40" height="8.20" fill="#8c8cf4" stroke="#111" stroke-width="0.7"/>
<rect x="436.00" y="487.40" width="8.40" height="8.20" fill="#fefefe" stroke="#111" stroke-width="0.7"/>
<text x="339.40" y="485.00" text-anchor="middle" style="font-size:5.3px" fill="#222">1</text>
<text x="347.80" y="485.00" text-anchor="middle" style="font-size:5.3px" fill="#222">2</text>
<text x="356.20" y="485.00" text-anchor="middle" style="font-size:5.3px" fill="#222">3</text>
<text x="364.60" y="485.00" text-anchor="middle" style="font-size:5.3px" fill="#222">4</text>
<text x="373.00" y="485.00" text-anchor="middle" style="font-size:5.3px" fill="#222">5</text>
<text x="381.40" y="485.00" text-anchor="middle" style="font-size:5.3px" fill="#222">1</text>
<text x="389.80" y="485.00" text-anchor="middle" style="font-size:5.3px" fill="#222">2</text>
<text x="398.20" y="485.00" text-anchor="middle" style="font-size:5.3px" fill="#222">3</text>
<text x="406.60" y="485.00" text-anchor="middle" style="font-size:5.3px" fill="#222">4</text>
<text x="415.00" y="485.00" text-anchor="middle" style="font-size:5.3px" fill="#222">5</text>
<line x1="335.60" y1="479.40" x2="376.40" y2="479.40" stroke="#222" stroke-width="0.75"/>
<line x1="378.00" y1="479.40" x2="418.80" y2="479.40" stroke="#222" stroke-width="0.75"/>
<text x="356.20" y="477.50" text-anchor="middle" style="font-size:5.3px" fill="#222">Batch 1</text>
<text x="398.20" y="477.50" text-anchor="middle" style="font-size:5.3px" fill="#222">Batch 2</text>
<line x1="335.60" y1="472.20" x2="418.80" y2="472.20" stroke="#222" stroke-width="0.75"/>
<text x="377.20" y="470.40" text-anchor="middle" style="font-size:5.3px" fill="#222">hESC</text>
<text x="422.40" y="485.90" text-anchor="start" style="font-size:5.6px" fill="#222" transform="rotate(-46 422.40 485.90)">hiPSC #1</text>
<text x="430.80" y="485.90" text-anchor="start" style="font-size:5.6px" fill="#222" transform="rotate(-46 430.80 485.90)">hiPSC #2</text>
<text x="439.20" y="485.90" text-anchor="start" style="font-size:5.6px" fill="#222" transform="rotate(-46 439.20 485.90)">hiPSC #3</text>
<rect x="339.30" y="521.30" width="8.40" height="8.20" fill="#f8c0c0" stroke="#111" stroke-width="0.7"/>
<rect x="347.70" y="521.30" width="8.40" height="8.20" fill="#f49090" stroke="#111" stroke-width="0.7"/>
<rect x="356.10" y="521.30" width="8.40" height="8.20" fill="#fde0e0" stroke="#111" stroke-width="0.7"/>
<rect x="364.50" y="521.30" width="8.40" height="8.20" fill="#f07070" stroke="#111" stroke-width="0.7"/>
<rect x="372.90" y="521.30" width="8.40" height="8.20" fill="#f8a8a8" stroke="#111" stroke-width="0.7"/>
<rect x="381.30" y="521.30" width="8.40" height="8.20" fill="#2020ee" stroke="#111" stroke-width="0.7"/>
<rect x="389.70" y="521.30" width="8.40" height="8.20" fill="#ee0000" stroke="#111" stroke-width="0.7"/>
<rect x="398.10" y="521.30" width="8.40" height="8.20" fill="#f49090" stroke="#111" stroke-width="0.7"/>
<rect x="406.50" y="521.30" width="8.40" height="8.20" fill="#f04040" stroke="#111" stroke-width="0.7"/>
<rect x="414.90" y="521.30" width="8.40" height="8.20" fill="#f49898" stroke="#111" stroke-width="0.7"/>
<rect x="423.30" y="521.30" width="8.40" height="8.20" fill="#f04040" stroke="#111" stroke-width="0.7"/>
<text x="351.90" y="519.70" text-anchor="middle" style="font-size:5.3px" fill="#222">1</text>
<text x="360.30" y="519.70" text-anchor="middle" style="font-size:5.3px" fill="#222">2</text>
<text x="368.70" y="519.70" text-anchor="middle" style="font-size:5.3px" fill="#222">3</text>
<text x="377.10" y="519.70" text-anchor="middle" style="font-size:5.3px" fill="#222">1</text>
<text x="385.50" y="519.70" text-anchor="middle" style="font-size:5.3px" fill="#222">2</text>
<text x="393.90" y="519.70" text-anchor="middle" style="font-size:5.3px" fill="#222">1</text>
<text x="402.30" y="519.70" text-anchor="middle" style="font-size:5.3px" fill="#222">2</text>
<text x="410.70" y="519.70" text-anchor="middle" style="font-size:5.3px" fill="#222">3</text>
<text x="419.10" y="519.70" text-anchor="middle" style="font-size:5.3px" fill="#222">4</text>
<text x="427.50" y="519.70" text-anchor="middle" style="font-size:5.3px" fill="#222">5</text>
<text x="339.40" y="513.80" text-anchor="middle" style="font-size:5.3px" fill="#222">Qian,</text>
<text x="339.40" y="519.70" text-anchor="middle" style="font-size:5.3px" fill="#222">et al.</text>
<line x1="348.30" y1="513.80" x2="372.30" y2="513.80" stroke="#222" stroke-width="0.75"/>
<text x="360.30" y="506.50" text-anchor="middle" style="font-size:5.3px" fill="#222">Yoon,</text>
<text x="360.30" y="511.90" text-anchor="middle" style="font-size:5.3px" fill="#222">et al.</text>
<line x1="373.50" y1="513.80" x2="389.10" y2="513.80" stroke="#222" stroke-width="0.75"/>
<text x="381.30" y="506.50" text-anchor="middle" style="font-size:5.3px" fill="#222">Xiang,</text>
<text x="381.30" y="511.90" text-anchor="middle" style="font-size:5.3px" fill="#222">et al.</text>
<line x1="390.30" y1="513.80" x2="431.10" y2="513.80" stroke="#222" stroke-width="0.75"/>
<text x="410.70" y="506.50" text-anchor="middle" style="font-size:5.3px" fill="#222">Kadoshima,</text>
<text x="410.70" y="511.90" text-anchor="middle" style="font-size:5.3px" fill="#222">et al.</text>
<rect x="441.00" y="506.80" width="3.00" height="25.50" fill="url(#grb)" stroke="#111" stroke-width="0.5"/>
<text x="442.50" y="504.00" text-anchor="middle" style="font-size:5.3px" fill="#222">(%)</text>
<text x="445.30" y="509.00" text-anchor="start" style="font-size:5.3px" fill="#222">max</text>
<text x="445.30" y="532.30" text-anchor="start" style="font-size:5.3px" fill="#222">min</text>
<text x="466.60" y="347.00" text-anchor="start" style="font-size:10.5px;font-weight:bold">g</text>
<text x="556.50" y="350.60" text-anchor="middle" style="font-size:7.4px;font-weight:bold">Variance</text>
<line x1="473.80" y1="354.60" x2="637.80" y2="354.60" stroke="#111" stroke-width="0.9"/>
<line x1="473.80" y1="354.80" x2="513.80" y2="366.80" stroke="#111" stroke-width="0.6"/>
<text x="513.60" y="359.90" text-anchor="end" style="font-size:5.3px" fill="#222">Protocol</text>
<text x="477.80" y="365.50" text-anchor="start" style="font-size:5.3px" fill="#222">Cell type</text>
<line x1="515.60" y1="354.60" x2="515.60" y2="433.50" stroke="#111" stroke-width="0.8"/>
<line x1="548.10" y1="354.60" x2="548.10" y2="434.50" stroke="#c8c8c8" stroke-width="0.5"/>
<line x1="565.70" y1="354.60" x2="565.70" y2="434.50" stroke="#c8c8c8" stroke-width="0.5"/>
<line x1="587.20" y1="354.60" x2="587.20" y2="434.50" stroke="#c8c8c8" stroke-width="0.5"/>
<line x1="604.80" y1="354.60" x2="604.80" y2="434.50" stroke="#c8c8c8" stroke-width="0.5"/>
<text x="531.80" y="359.90" text-anchor="middle" style="font-size:5.3px" fill="#222">Cortical</text>
<text x="531.80" y="365.50" text-anchor="middle" style="font-size:5.3px" fill="#222">assembloids</text>
<text x="557.00" y="359.90" text-anchor="middle" style="font-size:5.3px" fill="#222">Qian,</text>
<text x="557.00" y="365.50" text-anchor="middle" style="font-size:5.3px" fill="#222">et al.</text>
<text x="576.30" y="359.90" text-anchor="middle" style="font-size:5.3px" fill="#222">Yoon,</text>
<text x="576.30" y="365.50" text-anchor="middle" style="font-size:5.3px" fill="#222">et al.</text>
<text x="596.00" y="359.90" text-anchor="middle" style="font-size:5.3px" fill="#222">Xiang,</text>
<text x="596.00" y="365.50" text-anchor="middle" style="font-size:5.3px" fill="#222">et al.</text>
<text x="620.60" y="359.90" text-anchor="middle" style="font-size:5.3px" fill="#222">Kadoshima,</text>
<text x="620.60" y="365.50" text-anchor="middle" style="font-size:5.3px" fill="#222">et al.</text>
<line x1="473.80" y1="367.30" x2="637.80" y2="367.30" stroke="#111" stroke-width="0.9"/>
<text x="513.60" y="372.80" text-anchor="end" style="font-size:5.3px" fill="#222">Dividing RG</text>
<text x="531.80" y="372.80" text-anchor="middle" style="font-size:5.3px" fill="#222">0.006</text>
<text x="557.00" y="372.80" text-anchor="middle" style="font-size:5.3px" fill="#222">N/A</text>
<text x="576.30" y="372.80" text-anchor="middle" style="font-size:5.3px" fill="#222">0.017</text>
<text x="596.00" y="372.80" text-anchor="middle" style="font-size:5.3px" fill="#222">0.070</text>
<text x="620.60" y="372.80" text-anchor="middle" style="font-size:5.3px" fill="#222">0.062</text>
<text x="513.60" y="379.30" text-anchor="end" style="font-size:5.3px" fill="#222">RG</text>
<text x="531.80" y="379.30" text-anchor="middle" style="font-size:5.3px" fill="#222">0.001</text>
<text x="557.00" y="379.30" text-anchor="middle" style="font-size:5.3px" fill="#222">N/A</text>
<text x="576.30" y="379.30" text-anchor="middle" style="font-size:5.3px" fill="#222">0.025</text>
<text x="596.00" y="379.30" text-anchor="middle" style="font-size:5.3px" fill="#222">0.034</text>
<text x="620.60" y="379.30" text-anchor="middle" style="font-size:5.3px" fill="#222">0.033</text>
<text x="513.60" y="385.90" text-anchor="end" style="font-size:5.3px" fill="#222">IPC</text>
<text x="531.80" y="385.90" text-anchor="middle" style="font-size:5.3px" fill="#222">0.007</text>
<text x="557.00" y="385.90" text-anchor="middle" style="font-size:5.3px" fill="#222">N/A</text>
<text x="576.30" y="385.90" text-anchor="middle" style="font-size:5.3px" fill="#222">0.004</text>
<text x="596.00" y="385.90" text-anchor="middle" style="font-size:5.3px" fill="#222">N/A</text>
<text x="620.60" y="385.90" text-anchor="middle" style="font-size:5.3px" fill="#222">N/A</text>
<text x="513.60" y="392.40" text-anchor="end" style="font-size:5.3px" fill="#222">Ex Neu</text>
<text x="531.80" y="392.40" text-anchor="middle" style="font-size:5.3px" fill="#222">0.002</text>
<text x="557.00" y="392.40" text-anchor="middle" style="font-size:5.3px" fill="#222">N/A</text>
<text x="576.30" y="392.40" text-anchor="middle" style="font-size:5.3px" fill="#222">0.003</text>
<text x="596.00" y="392.40" text-anchor="middle" style="font-size:5.3px" fill="#222">0.012</text>
<text x="620.60" y="392.40" text-anchor="middle" style="font-size:5.3px" fill="#222">0.043</text>
<text x="513.60" y="399.00" text-anchor="end" style="font-size:5.3px" fill="#222">In Neu</text>
<text x="531.80" y="399.00" text-anchor="middle" style="font-size:5.3px" fill="#222">0.016</text>
<text x="557.00" y="399.00" text-anchor="middle" style="font-size:5.3px" fill="#222">N/A</text>
<text x="576.30" y="399.00" text-anchor="middle" style="font-size:5.3px" fill="#222">N/A</text>
<text x="596.00" y="399.00" text-anchor="middle" style="font-size:5.3px" fill="#222">0.258</text>
<text x="620.60" y="399.00" text-anchor="middle" style="font-size:5.3px" fill="#222">0.064</text>
<text x="513.60" y="405.60" text-anchor="end" style="font-size:5.3px" fill="#222">OPC</text>
<text x="531.80" y="405.60" text-anchor="middle" style="font-size:5.3px" fill="#222">N/A</text>
<text x="557.00" y="405.60" text-anchor="middle" style="font-size:5.3px" fill="#222">N/A</text>
<text x="576.30" y="405.60" text-anchor="middle" style="font-size:5.3px" fill="#222">0.013</text>
<text x="596.00" y="405.60" text-anchor="middle" style="font-size:5.3px" fill="#222">N/A</text>
<text x="620.60" y="405.60" text-anchor="middle" style="font-size:5.3px" fill="#222">N/A</text>
<text x="513.60" y="412.10" text-anchor="end" style="font-size:5.3px" fill="#222">Astrocyte</text>
<text x="531.80" y="412.10" text-anchor="middle" style="font-size:5.3px" fill="#222">0.003</text>
<text x="557.00" y="412.10" text-anchor="middle" style="font-size:5.3px" fill="#222">N/A</text>
<text x="576.30" y="412.10" text-anchor="middle" style="font-size:5.3px" fill="#222">0.047</text>
<text x="596.00" y="412.10" text-anchor="middle" style="font-size:5.3px" fill="#222">0.284</text>
<text x="620.60" y="412.10" text-anchor="middle" style="font-size:5.3px" fill="#222">0.015</text>
<text x="513.60" y="418.60" text-anchor="end" style="font-size:5.3px" fill="#222">Microglia</text>
<text x="531.80" y="418.60" text-anchor="middle" style="font-size:5.3px" fill="#222">0.001</text>
<text x="557.00" y="418.60" text-anchor="middle" style="font-size:5.3px" fill="#222">N/A</text>
<text x="576.30" y="418.60" text-anchor="middle" style="font-size:5.3px" fill="#222">N/A</text>
<text x="596.00" y="418.60" text-anchor="middle" style="font-size:5.3px" fill="#222">N/A</text>
<text x="620.60" y="418.60" text-anchor="middle" style="font-size:5.3px" fill="#222">N/A</text>
<text x="513.60" y="426.30" text-anchor="end" style="font-size:5.3px" fill="#222">Geometric mean</text>
<text x="531.80" y="426.30" text-anchor="middle" style="font-size:5.3px" fill="#222">0.003</text>
<text x="557.00" y="426.30" text-anchor="middle" style="font-size:5.3px" fill="#222">N/A</text>
<text x="576.30" y="426.30" text-anchor="middle" style="font-size:5.3px" fill="#222">0.012</text>
<text x="596.00" y="426.30" text-anchor="middle" style="font-size:5.3px" fill="#222">0.073</text>
<text x="620.60" y="426.30" text-anchor="middle" style="font-size:5.3px" fill="#222">0.039</text>
<text x="513.60" y="433.00" text-anchor="end" style="font-size:5.3px" fill="#222">Avg</text>
<text x="531.80" y="433.00" text-anchor="middle" style="font-size:5.3px" fill="#222">0.006</text>
<text x="557.00" y="433.00" text-anchor="middle" style="font-size:5.3px" fill="#222">N/A</text>
<text x="576.30" y="433.00" text-anchor="middle" style="font-size:5.3px" fill="#222">0.017</text>
<text x="596.00" y="433.00" text-anchor="middle" style="font-size:5.3px" fill="#222">0.155</text>
<text x="620.60" y="433.00" text-anchor="middle" style="font-size:5.3px" fill="#222">0.044</text>
<line x1="473.80" y1="374.60" x2="637.80" y2="374.60" stroke="#dcdcdc" stroke-width="0.4"/>
<line x1="473.80" y1="381.10" x2="637.80" y2="381.10" stroke="#dcdcdc" stroke-width="0.4"/>
<line x1="473.80" y1="387.70" x2="637.80" y2="387.70" stroke="#dcdcdc" stroke-width="0.4"/>
<line x1="473.80" y1="394.20" x2="637.80" y2="394.20" stroke="#dcdcdc" stroke-width="0.4"/>
<line x1="473.80" y1="400.80" x2="637.80" y2="400.80" stroke="#dcdcdc" stroke-width="0.4"/>
<line x1="473.80" y1="407.40" x2="637.80" y2="407.40" stroke="#dcdcdc" stroke-width="0.4"/>
<line x1="473.80" y1="413.90" x2="637.80" y2="413.90" stroke="#dcdcdc" stroke-width="0.4"/>
<line x1="473.80" y1="428.30" x2="637.80" y2="428.30" stroke="#dcdcdc" stroke-width="0.4"/>
<line x1="473.80" y1="421.30" x2="637.80" y2="421.30" stroke="#111" stroke-width="0.9"/>
<line x1="473.80" y1="435.00" x2="637.80" y2="435.00" stroke="#999" stroke-width="1.0"/>
<line x1="475.20" y1="437.60" x2="637.50" y2="437.60" stroke="#111" stroke-width="0.9"/>
<line x1="475.20" y1="437.60" x2="475.20" y2="528.10" stroke="#111" stroke-width="0.9"/>
<line x1="474.80" y1="528.10" x2="637.90" y2="528.10" stroke="#111" stroke-width="0.9"/>
<line x1="637.50" y1="437.60" x2="637.50" y2="528.10" stroke="#111" stroke-width="0.9"/>
<line x1="475.20" y1="528.10" x2="475.20" y2="529.70" stroke="#111" stroke-width="0.7"/>
<text x="475.20" y="534.20" text-anchor="middle" style="font-size:5.3px;font-weight:bold" fill="#222">0.0</text>
<line x1="515.63" y1="528.10" x2="515.63" y2="529.70" stroke="#111" stroke-width="0.7"/>
<text x="515.63" y="534.20" text-anchor="middle" style="font-size:5.3px;font-weight:bold" fill="#222">0.1</text>
<line x1="556.06" y1="528.10" x2="556.06" y2="529.70" stroke="#111" stroke-width="0.7"/>
<text x="556.06" y="534.20" text-anchor="middle" style="font-size:5.3px;font-weight:bold" fill="#222">0.2</text>
<line x1="596.49" y1="528.10" x2="596.49" y2="529.70" stroke="#111" stroke-width="0.7"/>
<text x="596.49" y="534.20" text-anchor="middle" style="font-size:5.3px;font-weight:bold" fill="#222">0.3</text>
<line x1="636.92" y1="528.10" x2="636.92" y2="529.70" stroke="#111" stroke-width="0.7"/>
<text x="636.92" y="534.20" text-anchor="middle" style="font-size:5.3px;font-weight:bold" fill="#222">0.4</text>
<text x="556.30" y="540.50" text-anchor="middle" style="font-size:5.8px;font-weight:bold" fill="#222">Variance</text>
<line x1="637.50" y1="449.80" x2="639.50" y2="449.80" stroke="#111" stroke-width="0.7"/>
<text x="640.50" y="451.70" text-anchor="start" style="font-size:5.35px;font-weight:bold" fill="#111">Assembloids</text>
<line x1="637.50" y1="466.40" x2="639.50" y2="466.40" stroke="#111" stroke-width="0.7"/>
<text x="640.50" y="468.30" text-anchor="start" style="font-size:5.35px;font-weight:bold" fill="#111">Qian, et al.</text>
<line x1="637.50" y1="483.00" x2="639.50" y2="483.00" stroke="#111" stroke-width="0.7"/>
<text x="640.50" y="484.90" text-anchor="start" style="font-size:5.35px;font-weight:bold" fill="#111">Yoon, et al.</text>
<line x1="637.50" y1="499.70" x2="639.50" y2="499.70" stroke="#111" stroke-width="0.7"/>
<text x="640.50" y="501.60" text-anchor="start" style="font-size:5.35px;font-weight:bold" fill="#111">Xiang, et al.</text>
<line x1="637.50" y1="516.40" x2="639.50" y2="516.40" stroke="#111" stroke-width="0.7"/>
<text x="640.50" y="518.30" text-anchor="start" style="font-size:5.35px;font-weight:bold" fill="#111">Kadoshima, et al.</text>
<line x1="475.20" y1="449.80" x2="475.20" y2="449.80" stroke="#111" stroke-width="0.7"/>
<line x1="477.63" y1="449.80" x2="482.07" y2="449.80" stroke="#111" stroke-width="0.7"/>
<line x1="475.20" y1="447.80" x2="475.20" y2="451.80" stroke="#111" stroke-width="0.7"/>
<line x1="482.07" y1="447.80" x2="482.07" y2="451.80" stroke="#111" stroke-width="0.7"/>
<rect x="475.20" y="444.50" width="2.43" height="10.60" fill="#1a1a1a" stroke="#111" stroke-width="0.7"/>
<line x1="476.01" y1="444.50" x2="476.01" y2="455.10" stroke="#111" stroke-width="0.8"/>
<circle cx="475.60" cy="449.80" r="0.75" fill="#111"/>
<circle cx="476.41" cy="449.80" r="0.75" fill="#111"/>
<text x="478.70" y="468.20" text-anchor="start" style="font-size:6.5px" fill="#222">N/A</text>
<line x1="476.41" y1="483.00" x2="477.71" y2="483.00" stroke="#111" stroke-width="0.7"/>
<line x1="484.22" y1="483.00" x2="494.20" y2="483.00" stroke="#111" stroke-width="0.7"/>
<line x1="476.41" y1="481.00" x2="476.41" y2="485.00" stroke="#111" stroke-width="0.7"/>
<line x1="494.20" y1="481.00" x2="494.20" y2="485.00" stroke="#111" stroke-width="0.7"/>
<rect x="477.71" y="477.50" width="6.51" height="11.00" fill="#4a90e0" stroke="#111" stroke-width="0.7"/>
<line x1="480.46" y1="477.50" x2="480.46" y2="488.50" stroke="#111" stroke-width="0.8"/>
<circle cx="480.05" cy="483.00" r="0.75" fill="#111"/>
<circle cx="482.07" cy="483.00" r="0.75" fill="#111"/>
<line x1="480.05" y1="499.70" x2="488.74" y2="499.70" stroke="#111" stroke-width="0.7"/>
<line x1="579.31" y1="499.70" x2="590.02" y2="499.70" stroke="#111" stroke-width="0.7"/>
<line x1="480.05" y1="497.70" x2="480.05" y2="501.70" stroke="#111" stroke-width="0.7"/>
<line x1="590.02" y1="497.70" x2="590.02" y2="501.70" stroke="#111" stroke-width="0.7"/>
<rect x="488.74" y="494.20" width="90.56" height="11.00" fill="#9b12e3" stroke="#111" stroke-width="0.7"/>
<line x1="504.51" y1="494.20" x2="504.51" y2="505.20" stroke="#111" stroke-width="0.8"/>
<circle cx="504.71" cy="499.70" r="0.75" fill="#111"/>
<circle cx="537.87" cy="499.70" r="0.75" fill="#111"/>
<line x1="481.26" y1="516.40" x2="485.11" y2="516.40" stroke="#111" stroke-width="0.7"/>
<line x1="500.67" y1="516.40" x2="501.08" y2="516.40" stroke="#111" stroke-width="0.7"/>
<line x1="481.26" y1="514.40" x2="481.26" y2="518.40" stroke="#111" stroke-width="0.7"/>
<line x1="501.08" y1="514.40" x2="501.08" y2="518.40" stroke="#111" stroke-width="0.7"/>
<rect x="485.11" y="510.90" width="15.57" height="11.00" fill="#1fb574" stroke="#111" stroke-width="0.7"/>
<line x1="492.58" y1="510.90" x2="492.58" y2="521.90" stroke="#111" stroke-width="0.8"/>
<circle cx="488.54" cy="516.40" r="0.75" fill="#111"/>
<circle cx="492.99" cy="516.40" r="0.75" fill="#111"/>
<line x1="560.40" y1="449.40" x2="563.00" y2="449.40" stroke="#555" stroke-width="0.8"/>
<line x1="563.00" y1="449.40" x2="563.00" y2="483.00" stroke="#555" stroke-width="0.8"/>
<line x1="560.40" y1="483.00" x2="563.00" y2="483.00" stroke="#555" stroke-width="0.8"/>
<text x="544.40" y="463.40" text-anchor="start" style="font-size:5.4px;font-style:italic" fill="#444">P</text>
<text x="547.80" y="463.40" text-anchor="start" style="font-size:5.4px" fill="#444">=</text>
<text x="544.40" y="471.10" text-anchor="start" style="font-size:5.4px" fill="#444">0.0256</text>
<line x1="596.70" y1="449.40" x2="599.30" y2="449.40" stroke="#555" stroke-width="0.8"/>
<line x1="599.30" y1="449.40" x2="599.30" y2="500.00" stroke="#555" stroke-width="0.8"/>
<line x1="596.70" y1="500.00" x2="599.30" y2="500.00" stroke="#555" stroke-width="0.8"/>
<text x="581.00" y="471.60" text-anchor="start" style="font-size:5.4px;font-style:italic" fill="#444">P</text>
<text x="584.40" y="471.60" text-anchor="start" style="font-size:5.4px" fill="#444">=</text>
<text x="581.00" y="479.30" text-anchor="start" style="font-size:5.4px" fill="#444">0.0044</text>
<line x1="631.00" y1="449.40" x2="633.60" y2="449.40" stroke="#555" stroke-width="0.8"/>
<line x1="633.60" y1="449.40" x2="633.60" y2="516.80" stroke="#555" stroke-width="0.8"/>
<line x1="631.00" y1="516.80" x2="633.60" y2="516.80" stroke="#555" stroke-width="0.8"/>
<text x="614.00" y="479.60" text-anchor="start" style="font-size:5.4px;font-style:italic" fill="#444">P</text>
<text x="617.40" y="479.60" text-anchor="start" style="font-size:5.4px" fill="#444">=</text>
<text x="614.00" y="487.30" text-anchor="start" style="font-size:5.4px" fill="#444">0.0001</text>
</svg></body></html>
